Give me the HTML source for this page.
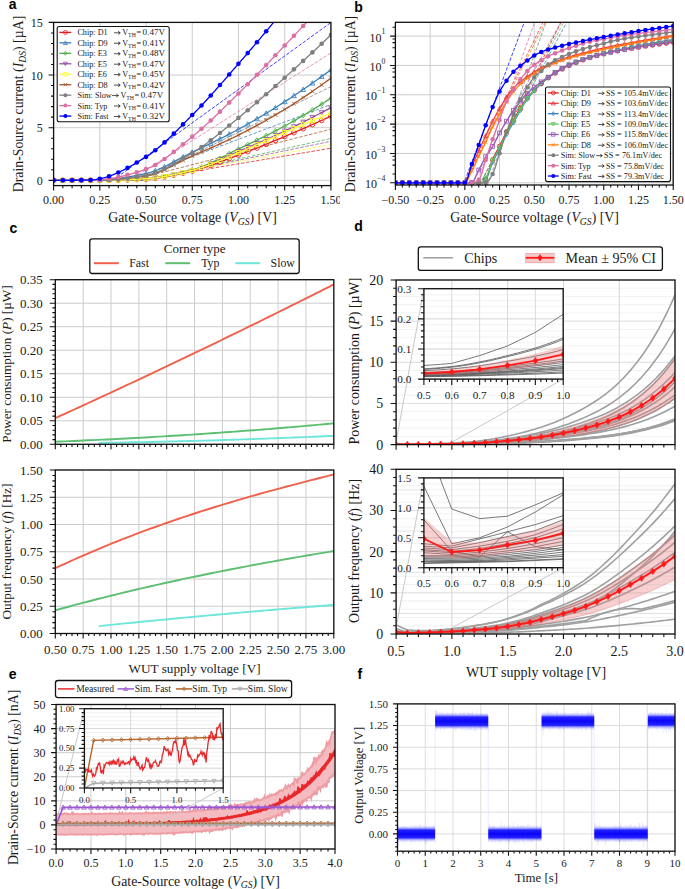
<!DOCTYPE html>
<html><head><meta charset="utf-8"><style>html,body{margin:0;padding:0;background:#fff;width:685px;height:889px;overflow:hidden}svg{display:block}</style></head>
<body><svg width="685" height="889" viewBox="0 0 685 889"><defs><clipPath id="clipA"><rect x="0" y="0" width="340" height="230"/></clipPath><clipPath id="c1"><rect x="53.6" y="22.4" width="277.3" height="163.2"/></clipPath><clipPath id="c2"><rect x="395.4" y="22.3" width="277.8" height="162.7"/></clipPath><clipPath id="c3"><rect x="55.3" y="279.7" width="278.5" height="164.6"/></clipPath><clipPath id="c4"><rect x="55.3" y="470" width="278.5" height="163.5"/></clipPath><clipPath id="c5"><rect x="396.1" y="280" width="278.9" height="164.6"/></clipPath><clipPath id="c6"><rect x="423.9" y="288.7" width="139.3" height="90.4"/></clipPath><clipPath id="c7"><rect x="396.1" y="469.3" width="278.9" height="164.7"/></clipPath><clipPath id="c8"><rect x="423.9" y="477.9" width="139.3" height="89.8"/></clipPath><clipPath id="c9"><rect x="56.1" y="704.5" width="278.9" height="144.5"/></clipPath><clipPath id="c10"><rect x="84.4" y="708.7" width="138.8" height="79.3"/></clipPath><clipPath id="c11"><rect x="397.5" y="703.9" width="277.5" height="147.3"/></clipPath><linearGradient id="fb" x1="0" y1="0" x2="0" y2="1"><stop offset="0" stop-color="#5050ff" stop-opacity="0"/><stop offset="0.1" stop-color="#5050ff" stop-opacity="0.15"/><stop offset="0.19" stop-color="#3030ff" stop-opacity="0.45"/><stop offset="0.27" stop-color="#1010ff" stop-opacity="0.92"/><stop offset="0.5" stop-color="#0800f8" stop-opacity="1"/><stop offset="0.73" stop-color="#1010ff" stop-opacity="0.92"/><stop offset="0.81" stop-color="#3030ff" stop-opacity="0.45"/><stop offset="0.9" stop-color="#5050ff" stop-opacity="0.15"/><stop offset="1" stop-color="#5050ff" stop-opacity="0"/></linearGradient></defs><rect width="685" height="889" fill="#fff"/><g clip-path="url(#clipA)">
<path d="M53.6,22.4V185.6M99.82,22.4V185.6M146.03,22.4V185.6M192.25,22.4V185.6M238.47,22.4V185.6M284.68,22.4V185.6M330.9,22.4V185.6M53.6,180.34H330.9M53.6,127.69H330.9M53.6,75.05H330.9M53.6,22.4H330.9" stroke="#cdcdcd" stroke-width="1.0" fill="none"/>
<g clip-path="url(#c1)">
<line x1="140.49" y1="180.34" x2="330.9" y2="148.23" stroke="#e41a1c" stroke-width="0.75" stroke-dasharray="3.5,1.6"/>
<line x1="129.4" y1="180.34" x2="330.9" y2="104.59" stroke="#377eb8" stroke-width="0.75" stroke-dasharray="3.5,1.6"/>
<line x1="142.34" y1="180.34" x2="330.9" y2="138.45" stroke="#4daf4a" stroke-width="0.75" stroke-dasharray="3.5,1.6"/>
<line x1="140.49" y1="180.34" x2="330.9" y2="141.29" stroke="#984ea3" stroke-width="0.75" stroke-dasharray="3.5,1.6"/>
<line x1="136.79" y1="180.34" x2="330.9" y2="144.52" stroke="#ffff33" stroke-width="0.75" stroke-dasharray="3.5,1.6"/>
<line x1="131.24" y1="180.34" x2="330.9" y2="129.16" stroke="#a65628" stroke-width="0.75" stroke-dasharray="3.5,1.6"/>
<line x1="140.49" y1="180.34" x2="330.9" y2="86.64" stroke="#7f7f7f" stroke-width="0.75" stroke-dasharray="3.5,1.6"/>
<line x1="129.4" y1="180.34" x2="330.9" y2="52.94" stroke="#dc6fa3" stroke-width="0.75" stroke-dasharray="3.5,1.6"/>
<line x1="112.76" y1="180.34" x2="330.9" y2="22.55" stroke="#0000ff" stroke-width="0.75" stroke-dasharray="3.5,1.6"/>
<path d="M53.6,180.34L55.45,180.34L57.3,180.34L59.15,180.34L60.99,180.34L62.84,180.34L64.69,180.34L66.54,180.34L68.39,180.34L70.24,180.34L72.09,180.34L73.94,180.34L75.78,180.34L77.63,180.34L79.48,180.34L81.33,180.34L83.18,180.34L85.03,180.34L86.88,180.34L88.72,180.34L90.57,180.34L92.42,180.34L94.27,180.34L96.12,180.34L97.97,180.34L99.82,180.34L101.67,180.33L103.51,180.33L105.36,180.31L107.21,180.3L109.06,180.27L110.91,180.25L112.76,180.22L114.61,180.18L116.45,180.14L118.3,180.1L120.15,180.05L122,180L123.85,179.95L125.7,179.89L127.55,179.83L129.4,179.77L131.24,179.7L133.09,179.63L134.94,179.56L136.79,179.48L138.64,179.41L140.49,179.33L142.34,179.24L144.18,179.16L146.03,179.07L147.88,178.97L149.73,178.84L151.58,178.68L153.43,178.49L155.28,178.28L157.13,178.05L158.97,177.79L160.82,177.52L162.67,177.22L164.52,176.9L166.37,176.57L168.22,176.22L170.07,175.86L171.91,175.48L173.76,175.1L175.61,174.7L177.46,174.29L179.31,173.88L181.16,173.45L183.01,173.03L184.86,172.6L186.7,172.16L188.55,171.73L190.4,171.29L192.25,170.86L194.1,170.41L195.95,169.94L197.8,169.44L199.64,168.92L201.49,168.38L203.34,167.82L205.19,167.23L207.04,166.63L208.89,166.01L210.74,165.38L212.59,164.73L214.43,164.08L216.28,163.41L218.13,162.73L219.98,162.04L221.83,161.35L223.68,160.65L225.53,159.95L227.37,159.25L229.22,158.55L231.07,157.84L232.92,157.14L234.77,156.44L236.62,155.75L238.47,155.07L240.32,154.38L242.16,153.69L244.01,152.99L245.86,152.29L247.71,151.58L249.56,150.86L251.41,150.14L253.26,149.42L255.1,148.69L256.95,147.95L258.8,147.21L260.65,146.47L262.5,145.72L264.35,144.97L266.2,144.22L268.05,143.46L269.89,142.7L271.74,141.94L273.59,141.17L275.44,140.4L277.29,139.63L279.14,138.86L280.99,138.09L282.83,137.31L284.68,136.53L286.53,135.76L288.38,134.97L290.23,134.19L292.08,133.4L293.93,132.61L295.78,131.81L297.62,131.01L299.47,130.21L301.32,129.41L303.17,128.6L305.02,127.79L306.87,126.97L308.72,126.16L310.56,125.33L312.41,124.51L314.26,123.68L316.11,122.85L317.96,122.02L319.81,121.19L321.66,120.35L323.51,119.5L325.35,118.66L327.2,117.81L329.05,116.96L330.9,116.11" fill="none" stroke="#e41a1c" stroke-width="1.3"/>
<circle cx="53.60" cy="180.34" r="2.40" fill="none" stroke="#e41a1c" stroke-width="0.85"/>
<circle cx="62.84" cy="180.34" r="2.40" fill="none" stroke="#e41a1c" stroke-width="0.85"/>
<circle cx="72.09" cy="180.34" r="2.40" fill="none" stroke="#e41a1c" stroke-width="0.85"/>
<circle cx="81.33" cy="180.34" r="2.40" fill="none" stroke="#e41a1c" stroke-width="0.85"/>
<circle cx="90.57" cy="180.34" r="2.40" fill="none" stroke="#e41a1c" stroke-width="0.85"/>
<circle cx="99.82" cy="180.34" r="2.40" fill="none" stroke="#e41a1c" stroke-width="0.85"/>
<circle cx="109.06" cy="180.27" r="2.40" fill="none" stroke="#e41a1c" stroke-width="0.85"/>
<circle cx="118.30" cy="180.10" r="2.40" fill="none" stroke="#e41a1c" stroke-width="0.85"/>
<circle cx="127.55" cy="179.83" r="2.40" fill="none" stroke="#e41a1c" stroke-width="0.85"/>
<circle cx="136.79" cy="179.48" r="2.40" fill="none" stroke="#e41a1c" stroke-width="0.85"/>
<circle cx="146.03" cy="179.07" r="2.40" fill="none" stroke="#e41a1c" stroke-width="0.85"/>
<circle cx="155.28" cy="178.28" r="2.40" fill="none" stroke="#e41a1c" stroke-width="0.85"/>
<circle cx="164.52" cy="176.90" r="2.40" fill="none" stroke="#e41a1c" stroke-width="0.85"/>
<circle cx="173.76" cy="175.10" r="2.40" fill="none" stroke="#e41a1c" stroke-width="0.85"/>
<circle cx="183.01" cy="173.03" r="2.40" fill="none" stroke="#e41a1c" stroke-width="0.85"/>
<circle cx="192.25" cy="170.86" r="2.40" fill="none" stroke="#e41a1c" stroke-width="0.85"/>
<circle cx="201.49" cy="168.38" r="2.40" fill="none" stroke="#e41a1c" stroke-width="0.85"/>
<circle cx="210.74" cy="165.38" r="2.40" fill="none" stroke="#e41a1c" stroke-width="0.85"/>
<circle cx="219.98" cy="162.04" r="2.40" fill="none" stroke="#e41a1c" stroke-width="0.85"/>
<circle cx="229.22" cy="158.55" r="2.40" fill="none" stroke="#e41a1c" stroke-width="0.85"/>
<circle cx="238.47" cy="155.07" r="2.40" fill="none" stroke="#e41a1c" stroke-width="0.85"/>
<circle cx="247.71" cy="151.58" r="2.40" fill="none" stroke="#e41a1c" stroke-width="0.85"/>
<circle cx="256.95" cy="147.95" r="2.40" fill="none" stroke="#e41a1c" stroke-width="0.85"/>
<circle cx="266.20" cy="144.22" r="2.40" fill="none" stroke="#e41a1c" stroke-width="0.85"/>
<circle cx="275.44" cy="140.40" r="2.40" fill="none" stroke="#e41a1c" stroke-width="0.85"/>
<circle cx="284.68" cy="136.53" r="2.40" fill="none" stroke="#e41a1c" stroke-width="0.85"/>
<circle cx="293.93" cy="132.61" r="2.40" fill="none" stroke="#e41a1c" stroke-width="0.85"/>
<circle cx="303.17" cy="128.60" r="2.40" fill="none" stroke="#e41a1c" stroke-width="0.85"/>
<circle cx="312.41" cy="124.51" r="2.40" fill="none" stroke="#e41a1c" stroke-width="0.85"/>
<circle cx="321.66" cy="120.35" r="2.40" fill="none" stroke="#e41a1c" stroke-width="0.85"/>
<circle cx="330.90" cy="116.11" r="2.40" fill="none" stroke="#e41a1c" stroke-width="0.85"/>
<path d="M53.6,180.34L55.45,180.34L57.3,180.34L59.15,180.34L60.99,180.34L62.84,180.34L64.69,180.34L66.54,180.34L68.39,180.34L70.24,180.34L72.09,180.34L73.94,180.34L75.78,180.34L77.63,180.34L79.48,180.34L81.33,180.34L83.18,180.34L85.03,180.34L86.88,180.34L88.72,180.34L90.57,180.34L92.42,180.32L94.27,180.27L96.12,180.2L97.97,180.11L99.82,180.02L101.67,179.92L103.51,179.81L105.36,179.68L107.21,179.53L109.06,179.37L110.91,179.2L112.76,179.01L114.61,178.81L116.45,178.59L118.3,178.36L120.15,178.11L122,177.86L123.85,177.59L125.7,177.31L127.55,177.01L129.4,176.71L131.24,176.39L133.09,176.06L134.94,175.73L136.79,175.38L138.64,175.02L140.49,174.65L142.34,174.27L144.18,173.89L146.03,173.49L147.88,173.06L149.73,172.56L151.58,172L153.43,171.38L155.28,170.71L157.13,169.99L158.97,169.22L160.82,168.41L162.67,167.57L164.52,166.69L166.37,165.78L168.22,164.84L170.07,163.89L171.91,162.92L173.76,161.93L175.61,160.93L177.46,159.93L179.31,158.93L181.16,157.93L183.01,156.94L184.86,155.96L186.7,154.99L188.55,154.05L190.4,153.12L192.25,152.22L194.1,151.34L195.95,150.46L197.8,149.58L199.64,148.69L201.49,147.81L203.34,146.93L205.19,146.04L207.04,145.15L208.89,144.26L210.74,143.37L212.59,142.47L214.43,141.57L216.28,140.66L218.13,139.75L219.98,138.83L221.83,137.91L223.68,136.98L225.53,136.05L227.37,135.1L229.22,134.15L231.07,133.19L232.92,132.23L234.77,131.25L236.62,130.27L238.47,129.27L240.32,128.26L242.16,127.25L244.01,126.23L245.86,125.2L247.71,124.16L249.56,123.11L251.41,122.05L253.26,120.99L255.1,119.91L256.95,118.83L258.8,117.75L260.65,116.65L262.5,115.55L264.35,114.44L266.2,113.32L268.05,112.19L269.89,111.06L271.74,109.93L273.59,108.78L275.44,107.63L277.29,106.47L279.14,105.31L280.99,104.14L282.83,102.97L284.68,101.79L286.53,100.6L288.38,99.41L290.23,98.2L292.08,96.99L293.93,95.77L295.78,94.54L297.62,93.31L299.47,92.06L301.32,90.81L303.17,89.55L305.02,88.29L306.87,87.01L308.72,85.73L310.56,84.44L312.41,83.14L314.26,81.84L316.11,80.53L317.96,79.21L319.81,77.88L321.66,76.55L323.51,75.21L325.35,73.86L327.2,72.51L329.05,71.15L330.9,69.78" fill="none" stroke="#377eb8" stroke-width="1.3"/>
<path d="M53.60,177.94L56.00,182.26L51.20,182.26Z" fill="none" stroke="#377eb8" stroke-width="0.85"/>
<path d="M62.84,177.94L65.24,182.26L60.44,182.26Z" fill="none" stroke="#377eb8" stroke-width="0.85"/>
<path d="M72.09,177.94L74.49,182.26L69.69,182.26Z" fill="none" stroke="#377eb8" stroke-width="0.85"/>
<path d="M81.33,177.94L83.73,182.26L78.93,182.26Z" fill="none" stroke="#377eb8" stroke-width="0.85"/>
<path d="M90.57,177.94L92.97,182.26L88.17,182.26Z" fill="none" stroke="#377eb8" stroke-width="0.85"/>
<path d="M99.82,177.62L102.22,181.94L97.42,181.94Z" fill="none" stroke="#377eb8" stroke-width="0.85"/>
<path d="M109.06,176.97L111.46,181.29L106.66,181.29Z" fill="none" stroke="#377eb8" stroke-width="0.85"/>
<path d="M118.30,175.96L120.70,180.28L115.90,180.28Z" fill="none" stroke="#377eb8" stroke-width="0.85"/>
<path d="M127.55,174.61L129.95,178.93L125.15,178.93Z" fill="none" stroke="#377eb8" stroke-width="0.85"/>
<path d="M136.79,172.98L139.19,177.30L134.39,177.30Z" fill="none" stroke="#377eb8" stroke-width="0.85"/>
<path d="M146.03,171.09L148.43,175.41L143.63,175.41Z" fill="none" stroke="#377eb8" stroke-width="0.85"/>
<path d="M155.28,168.31L157.68,172.63L152.88,172.63Z" fill="none" stroke="#377eb8" stroke-width="0.85"/>
<path d="M164.52,164.29L166.92,168.61L162.12,168.61Z" fill="none" stroke="#377eb8" stroke-width="0.85"/>
<path d="M173.76,159.53L176.16,163.85L171.36,163.85Z" fill="none" stroke="#377eb8" stroke-width="0.85"/>
<path d="M183.01,154.54L185.41,158.86L180.61,158.86Z" fill="none" stroke="#377eb8" stroke-width="0.85"/>
<path d="M192.25,149.82L194.65,154.14L189.85,154.14Z" fill="none" stroke="#377eb8" stroke-width="0.85"/>
<path d="M201.49,145.41L203.89,149.73L199.09,149.73Z" fill="none" stroke="#377eb8" stroke-width="0.85"/>
<path d="M210.74,140.97L213.14,145.29L208.34,145.29Z" fill="none" stroke="#377eb8" stroke-width="0.85"/>
<path d="M219.98,136.43L222.38,140.75L217.58,140.75Z" fill="none" stroke="#377eb8" stroke-width="0.85"/>
<path d="M229.22,131.75L231.62,136.07L226.82,136.07Z" fill="none" stroke="#377eb8" stroke-width="0.85"/>
<path d="M238.47,126.87L240.87,131.19L236.07,131.19Z" fill="none" stroke="#377eb8" stroke-width="0.85"/>
<path d="M247.71,121.76L250.11,126.08L245.31,126.08Z" fill="none" stroke="#377eb8" stroke-width="0.85"/>
<path d="M256.95,116.43L259.35,120.75L254.55,120.75Z" fill="none" stroke="#377eb8" stroke-width="0.85"/>
<path d="M266.20,110.92L268.60,115.24L263.80,115.24Z" fill="none" stroke="#377eb8" stroke-width="0.85"/>
<path d="M275.44,105.23L277.84,109.55L273.04,109.55Z" fill="none" stroke="#377eb8" stroke-width="0.85"/>
<path d="M284.68,99.39L287.08,103.71L282.28,103.71Z" fill="none" stroke="#377eb8" stroke-width="0.85"/>
<path d="M293.93,93.37L296.33,97.69L291.53,97.69Z" fill="none" stroke="#377eb8" stroke-width="0.85"/>
<path d="M303.17,87.15L305.57,91.47L300.77,91.47Z" fill="none" stroke="#377eb8" stroke-width="0.85"/>
<path d="M312.41,80.74L314.81,85.06L310.01,85.06Z" fill="none" stroke="#377eb8" stroke-width="0.85"/>
<path d="M321.66,74.15L324.06,78.47L319.26,78.47Z" fill="none" stroke="#377eb8" stroke-width="0.85"/>
<path d="M330.90,67.38L333.30,71.70L328.50,71.70Z" fill="none" stroke="#377eb8" stroke-width="0.85"/>
<path d="M53.6,180.34L55.45,180.34L57.3,180.34L59.15,180.34L60.99,180.34L62.84,180.34L64.69,180.34L66.54,180.34L68.39,180.34L70.24,180.34L72.09,180.34L73.94,180.34L75.78,180.34L77.63,180.34L79.48,180.34L81.33,180.34L83.18,180.34L85.03,180.34L86.88,180.34L88.72,180.34L90.57,180.34L92.42,180.34L94.27,180.34L96.12,180.34L97.97,180.34L99.82,180.34L101.67,180.33L103.51,180.32L105.36,180.31L107.21,180.28L109.06,180.26L110.91,180.22L112.76,180.18L114.61,180.14L116.45,180.09L118.3,180.04L120.15,179.98L122,179.91L123.85,179.85L125.7,179.77L127.55,179.7L129.4,179.62L131.24,179.53L133.09,179.45L134.94,179.36L136.79,179.26L138.64,179.17L140.49,179.07L142.34,178.97L144.18,178.86L146.03,178.76L147.88,178.64L149.73,178.49L151.58,178.32L153.43,178.12L155.28,177.9L157.13,177.66L158.97,177.39L160.82,177.11L162.67,176.8L164.52,176.48L166.37,176.14L168.22,175.78L170.07,175.41L171.91,175.02L173.76,174.62L175.61,174.2L177.46,173.77L179.31,173.33L181.16,172.88L183.01,172.42L184.86,171.95L186.7,171.48L188.55,171L190.4,170.51L192.25,170.02L194.1,169.5L195.95,168.93L197.8,168.31L199.64,167.65L201.49,166.95L203.34,166.21L205.19,165.44L207.04,164.63L208.89,163.8L210.74,162.93L212.59,162.05L214.43,161.15L216.28,160.23L218.13,159.29L219.98,158.35L221.83,157.4L223.68,156.44L225.53,155.48L227.37,154.52L229.22,153.57L231.07,152.62L232.92,151.68L234.77,150.76L236.62,149.85L238.47,148.96L240.32,148.08L242.16,147.2L244.01,146.32L245.86,145.45L247.71,144.56L249.56,143.68L251.41,142.8L253.26,141.91L255.1,141.02L256.95,140.13L258.8,139.23L260.65,138.33L262.5,137.43L264.35,136.51L266.2,135.6L268.05,134.67L269.89,133.74L271.74,132.81L273.59,131.86L275.44,130.91L277.29,129.95L279.14,128.98L280.99,128L282.83,127.01L284.68,126.01L286.53,125L288.38,123.98L290.23,122.95L292.08,121.91L293.93,120.86L295.78,119.81L297.62,118.74L299.47,117.67L301.32,116.59L303.17,115.5L305.02,114.4L306.87,113.3L308.72,112.18L310.56,111.06L312.41,109.93L314.26,108.79L316.11,107.65L317.96,106.49L319.81,105.33L321.66,104.16L323.51,102.99L325.35,101.8L327.2,100.61L329.05,99.41L330.9,98.21" fill="none" stroke="#4daf4a" stroke-width="1.3"/>
<path d="M53.60,177.94L55.52,180.34L53.60,182.74L51.68,180.34Z" fill="none" stroke="#4daf4a" stroke-width="0.85"/>
<path d="M62.84,177.94L64.76,180.34L62.84,182.74L60.92,180.34Z" fill="none" stroke="#4daf4a" stroke-width="0.85"/>
<path d="M72.09,177.94L74.01,180.34L72.09,182.74L70.17,180.34Z" fill="none" stroke="#4daf4a" stroke-width="0.85"/>
<path d="M81.33,177.94L83.25,180.34L81.33,182.74L79.41,180.34Z" fill="none" stroke="#4daf4a" stroke-width="0.85"/>
<path d="M90.57,177.94L92.49,180.34L90.57,182.74L88.65,180.34Z" fill="none" stroke="#4daf4a" stroke-width="0.85"/>
<path d="M99.82,177.94L101.74,180.34L99.82,182.74L97.90,180.34Z" fill="none" stroke="#4daf4a" stroke-width="0.85"/>
<path d="M109.06,177.86L110.98,180.26L109.06,182.66L107.14,180.26Z" fill="none" stroke="#4daf4a" stroke-width="0.85"/>
<path d="M118.30,177.64L120.22,180.04L118.30,182.44L116.38,180.04Z" fill="none" stroke="#4daf4a" stroke-width="0.85"/>
<path d="M127.55,177.30L129.47,179.70L127.55,182.10L125.63,179.70Z" fill="none" stroke="#4daf4a" stroke-width="0.85"/>
<path d="M136.79,176.86L138.71,179.26L136.79,181.66L134.87,179.26Z" fill="none" stroke="#4daf4a" stroke-width="0.85"/>
<path d="M146.03,176.36L147.95,178.76L146.03,181.16L144.11,178.76Z" fill="none" stroke="#4daf4a" stroke-width="0.85"/>
<path d="M155.28,175.50L157.20,177.90L155.28,180.30L153.36,177.90Z" fill="none" stroke="#4daf4a" stroke-width="0.85"/>
<path d="M164.52,174.08L166.44,176.48L164.52,178.88L162.60,176.48Z" fill="none" stroke="#4daf4a" stroke-width="0.85"/>
<path d="M173.76,172.22L175.68,174.62L173.76,177.02L171.84,174.62Z" fill="none" stroke="#4daf4a" stroke-width="0.85"/>
<path d="M183.01,170.02L184.93,172.42L183.01,174.82L181.09,172.42Z" fill="none" stroke="#4daf4a" stroke-width="0.85"/>
<path d="M192.25,167.62L194.17,170.02L192.25,172.42L190.33,170.02Z" fill="none" stroke="#4daf4a" stroke-width="0.85"/>
<path d="M201.49,164.55L203.41,166.95L201.49,169.35L199.57,166.95Z" fill="none" stroke="#4daf4a" stroke-width="0.85"/>
<path d="M210.74,160.53L212.66,162.93L210.74,165.33L208.82,162.93Z" fill="none" stroke="#4daf4a" stroke-width="0.85"/>
<path d="M219.98,155.95L221.90,158.35L219.98,160.75L218.06,158.35Z" fill="none" stroke="#4daf4a" stroke-width="0.85"/>
<path d="M229.22,151.17L231.14,153.57L229.22,155.97L227.30,153.57Z" fill="none" stroke="#4daf4a" stroke-width="0.85"/>
<path d="M238.47,146.56L240.39,148.96L238.47,151.36L236.55,148.96Z" fill="none" stroke="#4daf4a" stroke-width="0.85"/>
<path d="M247.71,142.16L249.63,144.56L247.71,146.96L245.79,144.56Z" fill="none" stroke="#4daf4a" stroke-width="0.85"/>
<path d="M256.95,137.73L258.87,140.13L256.95,142.53L255.03,140.13Z" fill="none" stroke="#4daf4a" stroke-width="0.85"/>
<path d="M266.20,133.20L268.12,135.60L266.20,138.00L264.28,135.60Z" fill="none" stroke="#4daf4a" stroke-width="0.85"/>
<path d="M275.44,128.51L277.36,130.91L275.44,133.31L273.52,130.91Z" fill="none" stroke="#4daf4a" stroke-width="0.85"/>
<path d="M284.68,123.61L286.60,126.01L284.68,128.41L282.76,126.01Z" fill="none" stroke="#4daf4a" stroke-width="0.85"/>
<path d="M293.93,118.46L295.85,120.86L293.93,123.26L292.01,120.86Z" fill="none" stroke="#4daf4a" stroke-width="0.85"/>
<path d="M303.17,113.10L305.09,115.50L303.17,117.90L301.25,115.50Z" fill="none" stroke="#4daf4a" stroke-width="0.85"/>
<path d="M312.41,107.53L314.33,109.93L312.41,112.33L310.49,109.93Z" fill="none" stroke="#4daf4a" stroke-width="0.85"/>
<path d="M321.66,101.76L323.58,104.16L321.66,106.56L319.74,104.16Z" fill="none" stroke="#4daf4a" stroke-width="0.85"/>
<path d="M330.90,95.81L332.82,98.21L330.90,100.61L328.98,98.21Z" fill="none" stroke="#4daf4a" stroke-width="0.85"/>
<path d="M53.6,180.34L55.45,180.34L57.3,180.34L59.15,180.34L60.99,180.34L62.84,180.34L64.69,180.34L66.54,180.34L68.39,180.34L70.24,180.34L72.09,180.34L73.94,180.34L75.78,180.34L77.63,180.34L79.48,180.34L81.33,180.34L83.18,180.34L85.03,180.34L86.88,180.34L88.72,180.34L90.57,180.34L92.42,180.34L94.27,180.34L96.12,180.34L97.97,180.34L99.82,180.34L101.67,180.33L103.51,180.32L105.36,180.31L107.21,180.28L109.06,180.26L110.91,180.22L112.76,180.18L114.61,180.14L116.45,180.09L118.3,180.03L120.15,179.98L122,179.91L123.85,179.84L125.7,179.77L127.55,179.7L129.4,179.62L131.24,179.53L133.09,179.44L134.94,179.35L136.79,179.26L138.64,179.16L140.49,179.07L142.34,178.96L144.18,178.86L146.03,178.76L147.88,178.64L149.73,178.49L151.58,178.32L153.43,178.13L155.28,177.91L157.13,177.68L158.97,177.42L160.82,177.14L162.67,176.84L164.52,176.53L166.37,176.2L168.22,175.85L170.07,175.49L171.91,175.11L173.76,174.72L175.61,174.32L177.46,173.91L179.31,173.49L181.16,173.06L183.01,172.62L184.86,172.17L186.7,171.72L188.55,171.26L190.4,170.8L192.25,170.33L194.1,169.84L195.95,169.31L197.8,168.74L199.64,168.14L201.49,167.5L203.34,166.82L205.19,166.12L207.04,165.39L208.89,164.64L210.74,163.87L212.59,163.07L214.43,162.26L216.28,161.44L218.13,160.6L219.98,159.76L221.83,158.91L223.68,158.05L225.53,157.19L227.37,156.34L229.22,155.49L231.07,154.64L232.92,153.81L234.77,152.98L236.62,152.17L238.47,151.38L240.32,150.6L242.16,149.81L244.01,149.03L245.86,148.24L247.71,147.45L249.56,146.66L251.41,145.87L253.26,145.08L255.1,144.29L256.95,143.49L258.8,142.69L260.65,141.89L262.5,141.08L264.35,140.27L266.2,139.46L268.05,138.64L269.89,137.82L271.74,137L273.59,136.16L275.44,135.33L277.29,134.49L279.14,133.64L280.99,132.79L282.83,131.93L284.68,131.06L286.53,130.19L288.38,129.31L290.23,128.43L292.08,127.54L293.93,126.64L295.78,125.74L297.62,124.84L299.47,123.93L301.32,123.01L303.17,122.09L305.02,121.17L306.87,120.23L308.72,119.3L310.56,118.36L312.41,117.41L314.26,116.46L316.11,115.5L317.96,114.54L319.81,113.58L321.66,112.61L323.51,111.63L325.35,110.65L327.2,109.67L329.05,108.68L330.9,107.69" fill="none" stroke="#984ea3" stroke-width="1.3"/>
<path d="M53.60,182.74L56.00,178.42L51.20,178.42Z" fill="none" stroke="#984ea3" stroke-width="0.85"/>
<path d="M62.84,182.74L65.24,178.42L60.44,178.42Z" fill="none" stroke="#984ea3" stroke-width="0.85"/>
<path d="M72.09,182.74L74.49,178.42L69.69,178.42Z" fill="none" stroke="#984ea3" stroke-width="0.85"/>
<path d="M81.33,182.74L83.73,178.42L78.93,178.42Z" fill="none" stroke="#984ea3" stroke-width="0.85"/>
<path d="M90.57,182.74L92.97,178.42L88.17,178.42Z" fill="none" stroke="#984ea3" stroke-width="0.85"/>
<path d="M99.82,182.74L102.22,178.42L97.42,178.42Z" fill="none" stroke="#984ea3" stroke-width="0.85"/>
<path d="M109.06,182.66L111.46,178.34L106.66,178.34Z" fill="none" stroke="#984ea3" stroke-width="0.85"/>
<path d="M118.30,182.43L120.70,178.11L115.90,178.11Z" fill="none" stroke="#984ea3" stroke-width="0.85"/>
<path d="M127.55,182.10L129.95,177.78L125.15,177.78Z" fill="none" stroke="#984ea3" stroke-width="0.85"/>
<path d="M136.79,181.66L139.19,177.34L134.39,177.34Z" fill="none" stroke="#984ea3" stroke-width="0.85"/>
<path d="M146.03,181.16L148.43,176.84L143.63,176.84Z" fill="none" stroke="#984ea3" stroke-width="0.85"/>
<path d="M155.28,180.31L157.68,175.99L152.88,175.99Z" fill="none" stroke="#984ea3" stroke-width="0.85"/>
<path d="M164.52,178.93L166.92,174.61L162.12,174.61Z" fill="none" stroke="#984ea3" stroke-width="0.85"/>
<path d="M173.76,177.12L176.16,172.80L171.36,172.80Z" fill="none" stroke="#984ea3" stroke-width="0.85"/>
<path d="M183.01,175.02L185.41,170.70L180.61,170.70Z" fill="none" stroke="#984ea3" stroke-width="0.85"/>
<path d="M192.25,172.73L194.65,168.41L189.85,168.41Z" fill="none" stroke="#984ea3" stroke-width="0.85"/>
<path d="M201.49,169.90L203.89,165.58L199.09,165.58Z" fill="none" stroke="#984ea3" stroke-width="0.85"/>
<path d="M210.74,166.27L213.14,161.95L208.34,161.95Z" fill="none" stroke="#984ea3" stroke-width="0.85"/>
<path d="M219.98,162.16L222.38,157.84L217.58,157.84Z" fill="none" stroke="#984ea3" stroke-width="0.85"/>
<path d="M229.22,157.89L231.62,153.57L226.82,153.57Z" fill="none" stroke="#984ea3" stroke-width="0.85"/>
<path d="M238.47,153.78L240.87,149.46L236.07,149.46Z" fill="none" stroke="#984ea3" stroke-width="0.85"/>
<path d="M247.71,149.85L250.11,145.53L245.31,145.53Z" fill="none" stroke="#984ea3" stroke-width="0.85"/>
<path d="M256.95,145.89L259.35,141.57L254.55,141.57Z" fill="none" stroke="#984ea3" stroke-width="0.85"/>
<path d="M266.20,141.86L268.60,137.54L263.80,137.54Z" fill="none" stroke="#984ea3" stroke-width="0.85"/>
<path d="M275.44,137.73L277.84,133.41L273.04,133.41Z" fill="none" stroke="#984ea3" stroke-width="0.85"/>
<path d="M284.68,133.46L287.08,129.14L282.28,129.14Z" fill="none" stroke="#984ea3" stroke-width="0.85"/>
<path d="M293.93,129.04L296.33,124.72L291.53,124.72Z" fill="none" stroke="#984ea3" stroke-width="0.85"/>
<path d="M303.17,124.49L305.57,120.17L300.77,120.17Z" fill="none" stroke="#984ea3" stroke-width="0.85"/>
<path d="M312.41,119.81L314.81,115.49L310.01,115.49Z" fill="none" stroke="#984ea3" stroke-width="0.85"/>
<path d="M321.66,115.01L324.06,110.69L319.26,110.69Z" fill="none" stroke="#984ea3" stroke-width="0.85"/>
<path d="M330.90,110.09L333.30,105.77L328.50,105.77Z" fill="none" stroke="#984ea3" stroke-width="0.85"/>
<path d="M53.6,180.34L55.45,180.34L57.3,180.34L59.15,180.34L60.99,180.34L62.84,180.34L64.69,180.34L66.54,180.34L68.39,180.34L70.24,180.34L72.09,180.34L73.94,180.34L75.78,180.34L77.63,180.34L79.48,180.34L81.33,180.34L83.18,180.34L85.03,180.34L86.88,180.34L88.72,180.34L90.57,180.34L92.42,180.34L94.27,180.34L96.12,180.34L97.97,180.34L99.82,180.34L101.67,180.33L103.51,180.32L105.36,180.31L107.21,180.28L109.06,180.26L110.91,180.22L112.76,180.18L114.61,180.14L116.45,180.09L118.3,180.03L120.15,179.98L122,179.91L123.85,179.84L125.7,179.77L127.55,179.7L129.4,179.62L131.24,179.53L133.09,179.44L134.94,179.35L136.79,179.26L138.64,179.16L140.49,179.07L142.34,178.96L144.18,178.86L146.03,178.76L147.88,178.64L149.73,178.49L151.58,178.32L153.43,178.12L155.28,177.9L157.13,177.66L158.97,177.4L160.82,177.12L162.67,176.82L164.52,176.5L166.37,176.17L168.22,175.82L170.07,175.45L171.91,175.08L173.76,174.69L175.61,174.28L177.46,173.87L179.31,173.45L181.16,173.02L183.01,172.58L184.86,172.14L186.7,171.69L188.55,171.24L190.4,170.79L192.25,170.33L194.1,169.86L195.95,169.35L197.8,168.81L199.64,168.24L201.49,167.64L203.34,167.01L205.19,166.36L207.04,165.68L208.89,164.99L210.74,164.27L212.59,163.54L214.43,162.8L216.28,162.04L218.13,161.27L219.98,160.49L221.83,159.71L223.68,158.92L225.53,158.12L227.37,157.33L229.22,156.53L231.07,155.74L232.92,154.96L234.77,154.18L236.62,153.4L238.47,152.64L240.32,151.88L242.16,151.12L244.01,150.34L245.86,149.55L247.71,148.76L249.56,147.96L251.41,147.16L253.26,146.35L255.1,145.53L256.95,144.72L258.8,143.89L260.65,143.07L262.5,142.24L264.35,141.42L266.2,140.59L268.05,139.76L269.89,138.94L271.74,138.11L273.59,137.29L275.44,136.47L277.29,135.65L279.14,134.84L280.99,134.03L282.83,133.23L284.68,132.43L286.53,131.64L288.38,130.84L290.23,130.05L292.08,129.26L293.93,128.47L295.78,127.69L297.62,126.9L299.47,126.12L301.32,125.33L303.17,124.55L305.02,123.77L306.87,122.99L308.72,122.21L310.56,121.43L312.41,120.65L314.26,119.88L316.11,119.1L317.96,118.33L319.81,117.56L321.66,116.79L323.51,116.02L325.35,115.25L327.2,114.48L329.05,113.71L330.9,112.95" fill="none" stroke="#ffff33" stroke-width="1.3"/>
<rect x="51.56" y="178.30" width="4.08" height="4.08" fill="none" stroke="#ffff33" stroke-width="0.85"/>
<rect x="60.80" y="178.30" width="4.08" height="4.08" fill="none" stroke="#ffff33" stroke-width="0.85"/>
<rect x="70.05" y="178.30" width="4.08" height="4.08" fill="none" stroke="#ffff33" stroke-width="0.85"/>
<rect x="79.29" y="178.30" width="4.08" height="4.08" fill="none" stroke="#ffff33" stroke-width="0.85"/>
<rect x="88.53" y="178.30" width="4.08" height="4.08" fill="none" stroke="#ffff33" stroke-width="0.85"/>
<rect x="97.78" y="178.30" width="4.08" height="4.08" fill="none" stroke="#ffff33" stroke-width="0.85"/>
<rect x="107.02" y="178.22" width="4.08" height="4.08" fill="none" stroke="#ffff33" stroke-width="0.85"/>
<rect x="116.26" y="177.99" width="4.08" height="4.08" fill="none" stroke="#ffff33" stroke-width="0.85"/>
<rect x="125.51" y="177.66" width="4.08" height="4.08" fill="none" stroke="#ffff33" stroke-width="0.85"/>
<rect x="134.75" y="177.22" width="4.08" height="4.08" fill="none" stroke="#ffff33" stroke-width="0.85"/>
<rect x="143.99" y="176.72" width="4.08" height="4.08" fill="none" stroke="#ffff33" stroke-width="0.85"/>
<rect x="153.24" y="175.86" width="4.08" height="4.08" fill="none" stroke="#ffff33" stroke-width="0.85"/>
<rect x="162.48" y="174.46" width="4.08" height="4.08" fill="none" stroke="#ffff33" stroke-width="0.85"/>
<rect x="171.72" y="172.65" width="4.08" height="4.08" fill="none" stroke="#ffff33" stroke-width="0.85"/>
<rect x="180.97" y="170.54" width="4.08" height="4.08" fill="none" stroke="#ffff33" stroke-width="0.85"/>
<rect x="190.21" y="168.29" width="4.08" height="4.08" fill="none" stroke="#ffff33" stroke-width="0.85"/>
<rect x="199.45" y="165.60" width="4.08" height="4.08" fill="none" stroke="#ffff33" stroke-width="0.85"/>
<rect x="208.70" y="162.23" width="4.08" height="4.08" fill="none" stroke="#ffff33" stroke-width="0.85"/>
<rect x="217.94" y="158.45" width="4.08" height="4.08" fill="none" stroke="#ffff33" stroke-width="0.85"/>
<rect x="227.18" y="154.49" width="4.08" height="4.08" fill="none" stroke="#ffff33" stroke-width="0.85"/>
<rect x="236.43" y="150.60" width="4.08" height="4.08" fill="none" stroke="#ffff33" stroke-width="0.85"/>
<rect x="245.67" y="146.72" width="4.08" height="4.08" fill="none" stroke="#ffff33" stroke-width="0.85"/>
<rect x="254.91" y="142.68" width="4.08" height="4.08" fill="none" stroke="#ffff33" stroke-width="0.85"/>
<rect x="264.16" y="138.55" width="4.08" height="4.08" fill="none" stroke="#ffff33" stroke-width="0.85"/>
<rect x="273.40" y="134.43" width="4.08" height="4.08" fill="none" stroke="#ffff33" stroke-width="0.85"/>
<rect x="282.64" y="130.39" width="4.08" height="4.08" fill="none" stroke="#ffff33" stroke-width="0.85"/>
<rect x="291.89" y="126.43" width="4.08" height="4.08" fill="none" stroke="#ffff33" stroke-width="0.85"/>
<rect x="301.13" y="122.51" width="4.08" height="4.08" fill="none" stroke="#ffff33" stroke-width="0.85"/>
<rect x="310.37" y="118.61" width="4.08" height="4.08" fill="none" stroke="#ffff33" stroke-width="0.85"/>
<rect x="319.62" y="114.75" width="4.08" height="4.08" fill="none" stroke="#ffff33" stroke-width="0.85"/>
<rect x="328.86" y="110.91" width="4.08" height="4.08" fill="none" stroke="#ffff33" stroke-width="0.85"/>
<path d="M53.6,180.34L55.45,180.34L57.3,180.34L59.15,180.34L60.99,180.34L62.84,180.34L64.69,180.34L66.54,180.34L68.39,180.34L70.24,180.34L72.09,180.34L73.94,180.34L75.78,180.34L77.63,180.34L79.48,180.34L81.33,180.34L83.18,180.34L85.03,180.34L86.88,180.34L88.72,180.34L90.57,180.34L92.42,180.32L94.27,180.29L96.12,180.24L97.97,180.18L99.82,180.12L101.67,180.06L103.51,179.99L105.36,179.9L107.21,179.81L109.06,179.71L110.91,179.6L112.76,179.48L114.61,179.35L116.45,179.22L118.3,179.07L120.15,178.92L122,178.75L123.85,178.58L125.7,178.4L127.55,178.21L129.4,178.01L131.24,177.8L133.09,177.58L134.94,177.35L136.79,177.12L138.64,176.87L140.49,176.62L142.34,176.36L144.18,176.09L146.03,175.81L147.88,175.49L149.73,175.09L151.58,174.62L153.43,174.09L155.28,173.49L157.13,172.84L158.97,172.14L160.82,171.39L162.67,170.6L164.52,169.77L166.37,168.91L168.22,168.02L170.07,167.11L171.91,166.18L173.76,165.23L175.61,164.28L177.46,163.32L179.31,162.35L181.16,161.4L183.01,160.45L184.86,159.52L186.7,158.6L188.55,157.71L190.4,156.85L192.25,156.01L194.1,155.2L195.95,154.39L197.8,153.58L199.64,152.77L201.49,151.97L203.34,151.16L205.19,150.35L207.04,149.54L208.89,148.73L210.74,147.92L212.59,147.11L214.43,146.29L216.28,145.47L218.13,144.64L219.98,143.81L221.83,142.97L223.68,142.12L225.53,141.27L227.37,140.41L229.22,139.54L231.07,138.67L232.92,137.78L234.77,136.88L236.62,135.98L238.47,135.06L240.32,134.13L242.16,133.2L244.01,132.25L245.86,131.3L247.71,130.34L249.56,129.36L251.41,128.39L253.26,127.4L255.1,126.4L256.95,125.4L258.8,124.38L260.65,123.36L262.5,122.34L264.35,121.3L266.2,120.25L268.05,119.2L269.89,118.14L271.74,117.07L273.59,115.99L275.44,114.91L277.29,113.82L279.14,112.72L280.99,111.61L282.83,110.49L284.68,109.37L286.53,108.24L288.38,107.1L290.23,105.94L292.08,104.78L293.93,103.61L295.78,102.43L297.62,101.23L299.47,100.03L301.32,98.82L303.17,97.6L305.02,96.37L306.87,95.13L308.72,93.88L310.56,92.62L312.41,91.35L314.26,90.08L316.11,88.79L317.96,87.5L319.81,86.19L321.66,84.88L323.51,83.56L325.35,82.24L327.2,80.9L329.05,79.56L330.9,78.2" fill="none" stroke="#a65628" stroke-width="1.3"/>
<path d="M51.68,178.42L55.52,182.26M51.68,182.26L55.52,178.42" stroke="#a65628" stroke-width="0.85"/>
<path d="M60.92,178.42L64.76,182.26M60.92,182.26L64.76,178.42" stroke="#a65628" stroke-width="0.85"/>
<path d="M70.17,178.42L74.01,182.26M70.17,182.26L74.01,178.42" stroke="#a65628" stroke-width="0.85"/>
<path d="M79.41,178.42L83.25,182.26M79.41,182.26L83.25,178.42" stroke="#a65628" stroke-width="0.85"/>
<path d="M88.65,178.42L92.49,182.26M88.65,182.26L92.49,178.42" stroke="#a65628" stroke-width="0.85"/>
<path d="M97.90,178.20L101.74,182.04M97.90,182.04L101.74,178.20" stroke="#a65628" stroke-width="0.85"/>
<path d="M107.14,177.79L110.98,181.63M107.14,181.63L110.98,177.79" stroke="#a65628" stroke-width="0.85"/>
<path d="M116.38,177.15L120.22,180.99M116.38,180.99L120.22,177.15" stroke="#a65628" stroke-width="0.85"/>
<path d="M125.63,176.29L129.47,180.13M125.63,180.13L129.47,176.29" stroke="#a65628" stroke-width="0.85"/>
<path d="M134.87,175.20L138.71,179.04M134.87,179.04L138.71,175.20" stroke="#a65628" stroke-width="0.85"/>
<path d="M144.11,173.89L147.95,177.73M144.11,177.73L147.95,173.89" stroke="#a65628" stroke-width="0.85"/>
<path d="M153.36,171.57L157.20,175.41M153.36,175.41L157.20,171.57" stroke="#a65628" stroke-width="0.85"/>
<path d="M162.60,167.85L166.44,171.69M162.60,171.69L166.44,167.85" stroke="#a65628" stroke-width="0.85"/>
<path d="M171.84,163.31L175.68,167.15M171.84,167.15L175.68,163.31" stroke="#a65628" stroke-width="0.85"/>
<path d="M181.09,158.53L184.93,162.37M181.09,162.37L184.93,158.53" stroke="#a65628" stroke-width="0.85"/>
<path d="M190.33,154.09L194.17,157.93M190.33,157.93L194.17,154.09" stroke="#a65628" stroke-width="0.85"/>
<path d="M199.57,150.05L203.41,153.89M199.57,153.89L203.41,150.05" stroke="#a65628" stroke-width="0.85"/>
<path d="M208.82,146.00L212.66,149.84M208.82,149.84L212.66,146.00" stroke="#a65628" stroke-width="0.85"/>
<path d="M218.06,141.89L221.90,145.73M218.06,145.73L221.90,141.89" stroke="#a65628" stroke-width="0.85"/>
<path d="M227.30,137.62L231.14,141.46M227.30,141.46L231.14,137.62" stroke="#a65628" stroke-width="0.85"/>
<path d="M236.55,133.14L240.39,136.98M236.55,136.98L240.39,133.14" stroke="#a65628" stroke-width="0.85"/>
<path d="M245.79,128.42L249.63,132.26M245.79,132.26L249.63,128.42" stroke="#a65628" stroke-width="0.85"/>
<path d="M255.03,123.48L258.87,127.32M255.03,127.32L258.87,123.48" stroke="#a65628" stroke-width="0.85"/>
<path d="M264.28,118.33L268.12,122.17M264.28,122.17L268.12,118.33" stroke="#a65628" stroke-width="0.85"/>
<path d="M273.52,112.99L277.36,116.83M273.52,116.83L277.36,112.99" stroke="#a65628" stroke-width="0.85"/>
<path d="M282.76,107.45L286.60,111.29M282.76,111.29L286.60,107.45" stroke="#a65628" stroke-width="0.85"/>
<path d="M292.01,101.69L295.85,105.53M292.01,105.53L295.85,101.69" stroke="#a65628" stroke-width="0.85"/>
<path d="M301.25,95.68L305.09,99.52M301.25,99.52L305.09,95.68" stroke="#a65628" stroke-width="0.85"/>
<path d="M310.49,89.43L314.33,93.27M310.49,93.27L314.33,89.43" stroke="#a65628" stroke-width="0.85"/>
<path d="M319.74,82.96L323.58,86.80M319.74,86.80L323.58,82.96" stroke="#a65628" stroke-width="0.85"/>
<path d="M328.98,76.28L332.82,80.12M328.98,80.12L332.82,76.28" stroke="#a65628" stroke-width="0.85"/>
<path d="M53.6,180.34L55.45,180.34L57.3,180.34L59.15,180.34L60.99,180.34L62.84,180.34L64.69,180.34L66.54,180.34L68.39,180.34L70.24,180.34L72.09,180.34L73.94,180.34L75.78,180.34L77.63,180.34L79.48,180.34L81.33,180.34L83.18,180.34L85.03,180.34L86.88,180.34L88.72,180.34L90.57,180.34L92.42,180.34L94.27,180.34L96.12,180.34L97.97,180.34L99.82,180.34L101.67,180.32L103.51,180.29L105.36,180.24L107.21,180.17L109.06,180.07L110.91,179.96L112.76,179.83L114.61,179.69L116.45,179.53L118.3,179.35L120.15,179.15L122,178.95L123.85,178.73L125.7,178.49L127.55,178.25L129.4,177.99L131.24,177.72L133.09,177.44L134.94,177.16L136.79,176.86L138.64,176.56L140.49,176.25L142.34,175.93L144.18,175.61L146.03,175.28L147.88,174.92L149.73,174.48L151.58,173.97L153.43,173.41L155.28,172.78L157.13,172.09L158.97,171.35L160.82,170.57L162.67,169.73L164.52,168.86L166.37,167.94L168.22,166.99L170.07,166L171.91,164.99L173.76,163.95L175.61,162.89L177.46,161.82L179.31,160.72L181.16,159.62L183.01,158.51L184.86,157.39L186.7,156.28L188.55,155.16L190.4,154.06L192.25,152.96L194.1,151.85L195.95,150.7L197.8,149.51L199.64,148.28L201.49,147.02L203.34,145.73L205.19,144.41L207.04,143.06L208.89,141.68L210.74,140.29L212.59,138.87L214.43,137.43L216.28,135.97L218.13,134.5L219.98,133.02L221.83,131.52L223.68,130.02L225.53,128.5L227.37,126.99L229.22,125.47L231.07,123.95L232.92,122.43L234.77,120.91L236.62,119.4L238.47,117.9L240.32,116.39L242.16,114.87L244.01,113.34L245.86,111.8L247.71,110.24L249.56,108.68L251.41,107.1L253.26,105.52L255.1,103.92L256.95,102.32L258.8,100.71L260.65,99.09L262.5,97.47L264.35,95.84L266.2,94.2L268.05,92.56L269.89,90.91L271.74,89.27L273.59,87.61L275.44,85.96L277.29,84.3L279.14,82.65L280.99,80.99L282.83,79.33L284.68,77.68L286.53,76.02L288.38,74.36L290.23,72.69L292.08,71.02L293.93,69.35L295.78,67.67L297.62,65.99L299.47,64.3L301.32,62.61L303.17,60.92L305.02,59.22L306.87,57.52L308.72,55.81L310.56,54.1L312.41,52.39L314.26,50.67L316.11,48.95L317.96,47.22L319.81,45.49L321.66,43.76L323.51,42.02L325.35,40.28L327.2,38.54L329.05,36.79L330.9,35.03" fill="none" stroke="#7f7f7f" stroke-width="1.3"/>
<circle cx="53.60" cy="180.34" r="2.30" fill="#7f7f7f" stroke="none"/>
<circle cx="62.84" cy="180.34" r="2.30" fill="#7f7f7f" stroke="none"/>
<circle cx="72.09" cy="180.34" r="2.30" fill="#7f7f7f" stroke="none"/>
<circle cx="81.33" cy="180.34" r="2.30" fill="#7f7f7f" stroke="none"/>
<circle cx="90.57" cy="180.34" r="2.30" fill="#7f7f7f" stroke="none"/>
<circle cx="99.82" cy="180.34" r="2.30" fill="#7f7f7f" stroke="none"/>
<circle cx="109.06" cy="180.07" r="2.30" fill="#7f7f7f" stroke="none"/>
<circle cx="118.30" cy="179.35" r="2.30" fill="#7f7f7f" stroke="none"/>
<circle cx="127.55" cy="178.25" r="2.30" fill="#7f7f7f" stroke="none"/>
<circle cx="136.79" cy="176.86" r="2.30" fill="#7f7f7f" stroke="none"/>
<circle cx="146.03" cy="175.28" r="2.30" fill="#7f7f7f" stroke="none"/>
<circle cx="155.28" cy="172.78" r="2.30" fill="#7f7f7f" stroke="none"/>
<circle cx="164.52" cy="168.86" r="2.30" fill="#7f7f7f" stroke="none"/>
<circle cx="173.76" cy="163.95" r="2.30" fill="#7f7f7f" stroke="none"/>
<circle cx="183.01" cy="158.51" r="2.30" fill="#7f7f7f" stroke="none"/>
<circle cx="192.25" cy="152.96" r="2.30" fill="#7f7f7f" stroke="none"/>
<circle cx="201.49" cy="147.02" r="2.30" fill="#7f7f7f" stroke="none"/>
<circle cx="210.74" cy="140.29" r="2.30" fill="#7f7f7f" stroke="none"/>
<circle cx="219.98" cy="133.02" r="2.30" fill="#7f7f7f" stroke="none"/>
<circle cx="229.22" cy="125.47" r="2.30" fill="#7f7f7f" stroke="none"/>
<circle cx="238.47" cy="117.90" r="2.30" fill="#7f7f7f" stroke="none"/>
<circle cx="247.71" cy="110.24" r="2.30" fill="#7f7f7f" stroke="none"/>
<circle cx="256.95" cy="102.32" r="2.30" fill="#7f7f7f" stroke="none"/>
<circle cx="266.20" cy="94.20" r="2.30" fill="#7f7f7f" stroke="none"/>
<circle cx="275.44" cy="85.96" r="2.30" fill="#7f7f7f" stroke="none"/>
<circle cx="284.68" cy="77.68" r="2.30" fill="#7f7f7f" stroke="none"/>
<circle cx="293.93" cy="69.35" r="2.30" fill="#7f7f7f" stroke="none"/>
<circle cx="303.17" cy="60.92" r="2.30" fill="#7f7f7f" stroke="none"/>
<circle cx="312.41" cy="52.39" r="2.30" fill="#7f7f7f" stroke="none"/>
<circle cx="321.66" cy="43.76" r="2.30" fill="#7f7f7f" stroke="none"/>
<circle cx="330.90" cy="35.03" r="2.30" fill="#7f7f7f" stroke="none"/>
<path d="M53.6,180.34L55.45,180.34L57.3,180.34L59.15,180.34L60.99,180.34L62.84,180.34L64.69,180.34L66.54,180.34L68.39,180.34L70.24,180.34L72.09,180.34L73.94,180.34L75.78,180.34L77.63,180.34L79.48,180.34L81.33,180.34L83.18,180.34L85.03,180.34L86.88,180.34L88.72,180.34L90.57,180.34L92.42,180.3L94.27,180.22L96.12,180.1L97.97,179.96L99.82,179.81L101.67,179.65L103.51,179.46L105.36,179.24L107.21,179L109.06,178.74L110.91,178.45L112.76,178.14L114.61,177.8L116.45,177.45L118.3,177.07L120.15,176.67L122,176.25L123.85,175.81L125.7,175.35L127.55,174.87L129.4,174.37L131.24,173.86L133.09,173.33L134.94,172.78L136.79,172.21L138.64,171.63L140.49,171.04L142.34,170.43L144.18,169.81L146.03,169.17L147.88,168.49L149.73,167.72L151.58,166.86L153.43,165.93L155.28,164.93L157.13,163.85L158.97,162.72L160.82,161.52L162.67,160.28L164.52,158.98L166.37,157.63L168.22,156.25L170.07,154.83L171.91,153.38L173.76,151.9L175.61,150.4L177.46,148.88L179.31,147.34L181.16,145.8L183.01,144.26L184.86,142.72L186.7,141.18L188.55,139.65L190.4,138.14L192.25,136.64L194.1,135.14L195.95,133.61L197.8,132.05L199.64,130.47L201.49,128.85L203.34,127.22L205.19,125.56L207.04,123.88L208.89,122.18L210.74,120.46L212.59,118.73L214.43,116.97L216.28,115.21L218.13,113.43L219.98,111.64L221.83,109.85L223.68,108.04L225.53,106.23L227.37,104.41L229.22,102.59L231.07,100.76L232.92,98.94L234.77,97.11L236.62,95.29L238.47,93.47L240.32,91.65L242.16,89.81L244.01,87.96L245.86,86.1L247.71,84.23L249.56,82.35L251.41,80.46L253.26,78.56L255.1,76.66L256.95,74.74L258.8,72.82L260.65,70.89L262.5,68.96L264.35,67.02L266.2,65.08L268.05,63.13L269.89,61.18L271.74,59.23L273.59,57.28L275.44,55.32L277.29,53.37L279.14,51.42L280.99,49.46L282.83,47.51L284.68,45.56L286.53,43.62L288.38,41.66L290.23,39.71L292.08,37.75L293.93,35.79L295.78,33.83L297.62,31.87L299.47,29.9L301.32,27.93L303.17,25.96L305.02,23.99L306.87,22.01L308.72,20.03L310.56,18.05L312.41,16.06L314.26,14.08L316.11,12.09L317.96,10.09L319.81,8.1" fill="none" stroke="#dc6fa3" stroke-width="1.3"/>
<circle cx="53.60" cy="180.34" r="2.30" fill="#dc6fa3" stroke="none"/>
<circle cx="62.84" cy="180.34" r="2.30" fill="#dc6fa3" stroke="none"/>
<circle cx="72.09" cy="180.34" r="2.30" fill="#dc6fa3" stroke="none"/>
<circle cx="81.33" cy="180.34" r="2.30" fill="#dc6fa3" stroke="none"/>
<circle cx="90.57" cy="180.34" r="2.30" fill="#dc6fa3" stroke="none"/>
<circle cx="99.82" cy="179.81" r="2.30" fill="#dc6fa3" stroke="none"/>
<circle cx="109.06" cy="178.74" r="2.30" fill="#dc6fa3" stroke="none"/>
<circle cx="118.30" cy="177.07" r="2.30" fill="#dc6fa3" stroke="none"/>
<circle cx="127.55" cy="174.87" r="2.30" fill="#dc6fa3" stroke="none"/>
<circle cx="136.79" cy="172.21" r="2.30" fill="#dc6fa3" stroke="none"/>
<circle cx="146.03" cy="169.17" r="2.30" fill="#dc6fa3" stroke="none"/>
<circle cx="155.28" cy="164.93" r="2.30" fill="#dc6fa3" stroke="none"/>
<circle cx="164.52" cy="158.98" r="2.30" fill="#dc6fa3" stroke="none"/>
<circle cx="173.76" cy="151.90" r="2.30" fill="#dc6fa3" stroke="none"/>
<circle cx="183.01" cy="144.26" r="2.30" fill="#dc6fa3" stroke="none"/>
<circle cx="192.25" cy="136.64" r="2.30" fill="#dc6fa3" stroke="none"/>
<circle cx="201.49" cy="128.85" r="2.30" fill="#dc6fa3" stroke="none"/>
<circle cx="210.74" cy="120.46" r="2.30" fill="#dc6fa3" stroke="none"/>
<circle cx="219.98" cy="111.64" r="2.30" fill="#dc6fa3" stroke="none"/>
<circle cx="229.22" cy="102.59" r="2.30" fill="#dc6fa3" stroke="none"/>
<circle cx="238.47" cy="93.47" r="2.30" fill="#dc6fa3" stroke="none"/>
<circle cx="247.71" cy="84.23" r="2.30" fill="#dc6fa3" stroke="none"/>
<circle cx="256.95" cy="74.74" r="2.30" fill="#dc6fa3" stroke="none"/>
<circle cx="266.20" cy="65.08" r="2.30" fill="#dc6fa3" stroke="none"/>
<circle cx="275.44" cy="55.32" r="2.30" fill="#dc6fa3" stroke="none"/>
<circle cx="284.68" cy="45.56" r="2.30" fill="#dc6fa3" stroke="none"/>
<circle cx="293.93" cy="35.79" r="2.30" fill="#dc6fa3" stroke="none"/>
<circle cx="303.17" cy="25.96" r="2.30" fill="#dc6fa3" stroke="none"/>
<circle cx="312.41" cy="16.06" r="2.30" fill="#dc6fa3" stroke="none"/>
<path d="M53.6,180.34L55.45,180.33L57.3,180.33L59.15,180.33L60.99,180.33L62.84,180.32L64.69,180.31L66.54,180.3L68.39,180.29L70.24,180.28L72.09,180.27L73.94,180.25L75.78,180.23L77.63,180.22L79.48,180.19L81.33,180.17L83.18,180.14L85.03,180.12L86.88,180.09L88.72,180.05L90.57,180.02L92.42,179.92L94.27,179.72L96.12,179.44L97.97,179.11L99.82,178.76L101.67,178.38L103.51,177.94L105.36,177.44L107.21,176.89L109.06,176.28L110.91,175.62L112.76,174.92L114.61,174.17L116.45,173.38L118.3,172.55L120.15,171.68L122,170.77L123.85,169.83L125.7,168.86L127.55,167.87L129.4,166.84L131.24,165.79L133.09,164.72L134.94,163.64L136.79,162.53L138.64,161.42L140.49,160.29L142.34,159.15L144.18,158L146.03,156.86L147.88,155.67L149.73,154.42L151.58,153.11L153.43,151.73L155.28,150.3L157.13,148.82L158.97,147.29L160.82,145.71L162.67,144.09L164.52,142.42L166.37,140.73L168.22,139L170.07,137.24L171.91,135.45L173.76,133.64L175.61,131.81L177.46,129.97L179.31,128.11L181.16,126.25L183.01,124.38L184.86,122.5L186.7,120.63L188.55,118.76L190.4,116.9L192.25,115.06L194.1,113.2L195.95,111.32L197.8,109.41L199.64,107.48L201.49,105.53L203.34,103.55L205.19,101.56L207.04,99.55L208.89,97.52L210.74,95.47L212.59,93.41L214.43,91.34L216.28,89.25L218.13,87.16L219.98,85.05L221.83,82.94L223.68,80.82L225.53,78.7L227.37,76.57L229.22,74.44L231.07,72.3L232.92,70.17L234.77,68.04L236.62,65.91L238.47,63.78L240.32,61.65L242.16,59.52L244.01,57.38L245.86,55.24L247.71,53.09L249.56,50.94L251.41,48.78L253.26,46.61L255.1,44.44L256.95,42.26L258.8,40.08L260.65,37.89L262.5,35.69L264.35,33.48L266.2,31.27L268.05,29.05L269.89,26.82L271.74,24.59L273.59,22.34L275.44,20.09L277.29,17.83L279.14,15.57L280.99,13.29L282.83,11.01L284.68,8.71" fill="none" stroke="#0000ff" stroke-width="1.3"/>
<circle cx="53.60" cy="180.34" r="2.30" fill="#0000ff" stroke="none"/>
<circle cx="62.84" cy="180.32" r="2.30" fill="#0000ff" stroke="none"/>
<circle cx="72.09" cy="180.27" r="2.30" fill="#0000ff" stroke="none"/>
<circle cx="81.33" cy="180.17" r="2.30" fill="#0000ff" stroke="none"/>
<circle cx="90.57" cy="180.02" r="2.30" fill="#0000ff" stroke="none"/>
<circle cx="99.82" cy="178.76" r="2.30" fill="#0000ff" stroke="none"/>
<circle cx="109.06" cy="176.28" r="2.30" fill="#0000ff" stroke="none"/>
<circle cx="118.30" cy="172.55" r="2.30" fill="#0000ff" stroke="none"/>
<circle cx="127.55" cy="167.87" r="2.30" fill="#0000ff" stroke="none"/>
<circle cx="136.79" cy="162.53" r="2.30" fill="#0000ff" stroke="none"/>
<circle cx="146.03" cy="156.86" r="2.30" fill="#0000ff" stroke="none"/>
<circle cx="155.28" cy="150.30" r="2.30" fill="#0000ff" stroke="none"/>
<circle cx="164.52" cy="142.42" r="2.30" fill="#0000ff" stroke="none"/>
<circle cx="173.76" cy="133.64" r="2.30" fill="#0000ff" stroke="none"/>
<circle cx="183.01" cy="124.38" r="2.30" fill="#0000ff" stroke="none"/>
<circle cx="192.25" cy="115.06" r="2.30" fill="#0000ff" stroke="none"/>
<circle cx="201.49" cy="105.53" r="2.30" fill="#0000ff" stroke="none"/>
<circle cx="210.74" cy="95.47" r="2.30" fill="#0000ff" stroke="none"/>
<circle cx="219.98" cy="85.05" r="2.30" fill="#0000ff" stroke="none"/>
<circle cx="229.22" cy="74.44" r="2.30" fill="#0000ff" stroke="none"/>
<circle cx="238.47" cy="63.78" r="2.30" fill="#0000ff" stroke="none"/>
<circle cx="247.71" cy="53.09" r="2.30" fill="#0000ff" stroke="none"/>
<circle cx="256.95" cy="42.26" r="2.30" fill="#0000ff" stroke="none"/>
<circle cx="266.20" cy="31.27" r="2.30" fill="#0000ff" stroke="none"/>
<circle cx="275.44" cy="20.09" r="2.30" fill="#0000ff" stroke="none"/>
</g>
<rect x="53.6" y="22.4" width="277.3" height="163.2" fill="none" stroke="#111" stroke-width="1.3"/>
<rect x="57.2" y="26.5" width="112" height="95.3" rx="2" fill="#fff" stroke="#111" stroke-width="1.1"/>
<line x1="59.4" y1="32.4" x2="71.3" y2="32.4" stroke="#e41a1c" stroke-width="1.3"/>
<circle cx="65.40" cy="32.40" r="2.00" fill="none" stroke="#e41a1c" stroke-width="0.8"/>
<text x="77.4" y="35.3" font-family="'Liberation Serif', serif" font-size="8.2" fill="#1a1a1a">Chip: D1</text>
<path d="M113.9,32.8H120M118.1,31.3L120.3,32.8L118.1,34.3" fill="none" stroke="#1a1a1a" stroke-width="0.75"/>
<text x="122.2" y="35.3" font-family="'Liberation Serif', serif" font-size="8.2" fill="#1a1a1a">V<tspan font-size="5.8" dy="1.8">TH</tspan></text>
<text x="136.4" y="35.3" font-family="'Liberation Serif', serif" font-size="8.2" fill="#1a1a1a">=</text>
<text x="142.6" y="35.3" font-family="'Liberation Serif', serif" font-size="8.2" fill="#1a1a1a" textLength="22.4" lengthAdjust="spacingAndGlyphs">0.47V</text>
<line x1="59.4" y1="42.86" x2="71.3" y2="42.86" stroke="#377eb8" stroke-width="1.3"/>
<path d="M65.40,40.86L67.40,44.46L63.40,44.46Z" fill="none" stroke="#377eb8" stroke-width="0.8"/>
<text x="77.4" y="45.76" font-family="'Liberation Serif', serif" font-size="8.2" fill="#1a1a1a">Chip: D9</text>
<path d="M113.9,43.26H120M118.1,41.76L120.3,43.26L118.1,44.76" fill="none" stroke="#1a1a1a" stroke-width="0.75"/>
<text x="122.2" y="45.76" font-family="'Liberation Serif', serif" font-size="8.2" fill="#1a1a1a">V<tspan font-size="5.8" dy="1.8">TH</tspan></text>
<text x="136.4" y="45.76" font-family="'Liberation Serif', serif" font-size="8.2" fill="#1a1a1a">=</text>
<text x="142.6" y="45.76" font-family="'Liberation Serif', serif" font-size="8.2" fill="#1a1a1a" textLength="22.4" lengthAdjust="spacingAndGlyphs">0.41V</text>
<line x1="59.4" y1="53.32" x2="71.3" y2="53.32" stroke="#4daf4a" stroke-width="1.3"/>
<path d="M65.40,51.32L67.00,53.32L65.40,55.32L63.80,53.32Z" fill="none" stroke="#4daf4a" stroke-width="0.8"/>
<text x="77.4" y="56.22" font-family="'Liberation Serif', serif" font-size="8.2" fill="#1a1a1a">Chip: E3</text>
<path d="M113.9,53.72H120M118.1,52.22L120.3,53.72L118.1,55.22" fill="none" stroke="#1a1a1a" stroke-width="0.75"/>
<text x="122.2" y="56.22" font-family="'Liberation Serif', serif" font-size="8.2" fill="#1a1a1a">V<tspan font-size="5.8" dy="1.8">TH</tspan></text>
<text x="136.4" y="56.22" font-family="'Liberation Serif', serif" font-size="8.2" fill="#1a1a1a">=</text>
<text x="142.6" y="56.22" font-family="'Liberation Serif', serif" font-size="8.2" fill="#1a1a1a" textLength="22.4" lengthAdjust="spacingAndGlyphs">0.48V</text>
<line x1="59.4" y1="63.78" x2="71.3" y2="63.78" stroke="#984ea3" stroke-width="1.3"/>
<path d="M65.40,65.78L67.40,62.18L63.40,62.18Z" fill="none" stroke="#984ea3" stroke-width="0.8"/>
<text x="77.4" y="66.68" font-family="'Liberation Serif', serif" font-size="8.2" fill="#1a1a1a">Chip: E5</text>
<path d="M113.9,64.18H120M118.1,62.68L120.3,64.18L118.1,65.68" fill="none" stroke="#1a1a1a" stroke-width="0.75"/>
<text x="122.2" y="66.68" font-family="'Liberation Serif', serif" font-size="8.2" fill="#1a1a1a">V<tspan font-size="5.8" dy="1.8">TH</tspan></text>
<text x="136.4" y="66.68" font-family="'Liberation Serif', serif" font-size="8.2" fill="#1a1a1a">=</text>
<text x="142.6" y="66.68" font-family="'Liberation Serif', serif" font-size="8.2" fill="#1a1a1a" textLength="22.4" lengthAdjust="spacingAndGlyphs">0.47V</text>
<line x1="59.4" y1="74.24" x2="71.3" y2="74.24" stroke="#ffff33" stroke-width="1.3"/>
<rect x="63.70" y="72.54" width="3.40" height="3.40" fill="none" stroke="#ffff33" stroke-width="0.8"/>
<text x="77.4" y="77.14" font-family="'Liberation Serif', serif" font-size="8.2" fill="#1a1a1a">Chip: E6</text>
<path d="M113.9,74.64H120M118.1,73.14L120.3,74.64L118.1,76.14" fill="none" stroke="#1a1a1a" stroke-width="0.75"/>
<text x="122.2" y="77.14" font-family="'Liberation Serif', serif" font-size="8.2" fill="#1a1a1a">V<tspan font-size="5.8" dy="1.8">TH</tspan></text>
<text x="136.4" y="77.14" font-family="'Liberation Serif', serif" font-size="8.2" fill="#1a1a1a">=</text>
<text x="142.6" y="77.14" font-family="'Liberation Serif', serif" font-size="8.2" fill="#1a1a1a" textLength="22.4" lengthAdjust="spacingAndGlyphs">0.45V</text>
<line x1="59.4" y1="84.7" x2="71.3" y2="84.7" stroke="#a65628" stroke-width="1.3"/>
<path d="M63.80,83.10L67.00,86.30M63.80,86.30L67.00,83.10" stroke="#a65628" stroke-width="0.8"/>
<text x="77.4" y="87.6" font-family="'Liberation Serif', serif" font-size="8.2" fill="#1a1a1a">Chip: D8</text>
<path d="M113.9,85.1H120M118.1,83.6L120.3,85.1L118.1,86.6" fill="none" stroke="#1a1a1a" stroke-width="0.75"/>
<text x="122.2" y="87.6" font-family="'Liberation Serif', serif" font-size="8.2" fill="#1a1a1a">V<tspan font-size="5.8" dy="1.8">TH</tspan></text>
<text x="136.4" y="87.6" font-family="'Liberation Serif', serif" font-size="8.2" fill="#1a1a1a">=</text>
<text x="142.6" y="87.6" font-family="'Liberation Serif', serif" font-size="8.2" fill="#1a1a1a" textLength="22.4" lengthAdjust="spacingAndGlyphs">0.42V</text>
<line x1="59.4" y1="95.16" x2="71.3" y2="95.16" stroke="#7f7f7f" stroke-width="1.3"/>
<circle cx="65.40" cy="95.16" r="2.00" fill="#7f7f7f" stroke="none"/>
<text x="77.4" y="98.06" font-family="'Liberation Serif', serif" font-size="8.2" fill="#1a1a1a">Sim: Slow</text>
<path d="M112.1,95.56H118.2M116.3,94.06L118.5,95.56L116.3,97.06" fill="none" stroke="#1a1a1a" stroke-width="0.75"/>
<text x="120.4" y="98.06" font-family="'Liberation Serif', serif" font-size="8.2" fill="#1a1a1a">V<tspan font-size="5.8" dy="1.8">TH</tspan></text>
<text x="134.6" y="98.06" font-family="'Liberation Serif', serif" font-size="8.2" fill="#1a1a1a">=</text>
<text x="140.8" y="98.06" font-family="'Liberation Serif', serif" font-size="8.2" fill="#1a1a1a" textLength="22.4" lengthAdjust="spacingAndGlyphs">0.47V</text>
<line x1="59.4" y1="105.62" x2="71.3" y2="105.62" stroke="#dc6fa3" stroke-width="1.3"/>
<circle cx="65.40" cy="105.62" r="2.00" fill="#dc6fa3" stroke="none"/>
<text x="77.4" y="108.52" font-family="'Liberation Serif', serif" font-size="8.2" fill="#1a1a1a">Sim: Typ</text>
<path d="M113.9,106.02H120M118.1,104.52L120.3,106.02L118.1,107.52" fill="none" stroke="#1a1a1a" stroke-width="0.75"/>
<text x="122.2" y="108.52" font-family="'Liberation Serif', serif" font-size="8.2" fill="#1a1a1a">V<tspan font-size="5.8" dy="1.8">TH</tspan></text>
<text x="136.4" y="108.52" font-family="'Liberation Serif', serif" font-size="8.2" fill="#1a1a1a">=</text>
<text x="142.6" y="108.52" font-family="'Liberation Serif', serif" font-size="8.2" fill="#1a1a1a" textLength="22.4" lengthAdjust="spacingAndGlyphs">0.41V</text>
<line x1="59.4" y1="116.08" x2="71.3" y2="116.08" stroke="#0000ff" stroke-width="1.3"/>
<circle cx="65.40" cy="116.08" r="2.00" fill="#0000ff" stroke="none"/>
<text x="77.4" y="118.98" font-family="'Liberation Serif', serif" font-size="8.2" fill="#1a1a1a">Sim: Fast</text>
<path d="M113.9,116.48H120M118.1,114.98L120.3,116.48L118.1,117.98" fill="none" stroke="#1a1a1a" stroke-width="0.75"/>
<text x="122.2" y="118.98" font-family="'Liberation Serif', serif" font-size="8.2" fill="#1a1a1a">V<tspan font-size="5.8" dy="1.8">TH</tspan></text>
<text x="136.4" y="118.98" font-family="'Liberation Serif', serif" font-size="8.2" fill="#1a1a1a">=</text>
<text x="142.6" y="118.98" font-family="'Liberation Serif', serif" font-size="8.2" fill="#1a1a1a" textLength="22.4" lengthAdjust="spacingAndGlyphs">0.32V</text>
<path d="M53.6,185.6v5M99.82,185.6v5M146.03,185.6v5M192.25,185.6v5M238.47,185.6v5M284.68,185.6v5M330.9,185.6v5M53.6,185.6v2.6M62.84,185.6v2.6M72.09,185.6v2.6M81.33,185.6v2.6M90.57,185.6v2.6M99.82,185.6v2.6M109.06,185.6v2.6M118.3,185.6v2.6M127.55,185.6v2.6M136.79,185.6v2.6M146.03,185.6v2.6M155.28,185.6v2.6M164.52,185.6v2.6M173.76,185.6v2.6M183.01,185.6v2.6M192.25,185.6v2.6M201.49,185.6v2.6M210.74,185.6v2.6M219.98,185.6v2.6M229.22,185.6v2.6M238.47,185.6v2.6M247.71,185.6v2.6M256.95,185.6v2.6M266.2,185.6v2.6M275.44,185.6v2.6M284.68,185.6v2.6M293.93,185.6v2.6M303.17,185.6v2.6M312.41,185.6v2.6M321.66,185.6v2.6M330.9,185.6v2.6" stroke="#111" stroke-width="1.1" fill="none"/>
<text x="53.6" y="203.8" font-family="'Liberation Serif', serif" font-size="12" text-anchor="middle" fill="#1a1a1a">0.00</text>
<text x="99.82" y="203.8" font-family="'Liberation Serif', serif" font-size="12" text-anchor="middle" fill="#1a1a1a">0.25</text>
<text x="146.03" y="203.8" font-family="'Liberation Serif', serif" font-size="12" text-anchor="middle" fill="#1a1a1a">0.50</text>
<text x="192.25" y="203.8" font-family="'Liberation Serif', serif" font-size="12" text-anchor="middle" fill="#1a1a1a">0.75</text>
<text x="238.47" y="203.8" font-family="'Liberation Serif', serif" font-size="12" text-anchor="middle" fill="#1a1a1a">1.00</text>
<text x="284.68" y="203.8" font-family="'Liberation Serif', serif" font-size="12" text-anchor="middle" fill="#1a1a1a">1.25</text>
<text x="330.9" y="203.8" font-family="'Liberation Serif', serif" font-size="12" text-anchor="middle" fill="#1a1a1a">1.50</text>
<path d="M53.6,180.34h-5M53.6,127.69h-5M53.6,75.05h-5M53.6,22.4h-5M53.6,180.34h-2.6M53.6,169.81h-2.6M53.6,159.28h-2.6M53.6,148.75h-2.6M53.6,138.22h-2.6M53.6,127.69h-2.6M53.6,117.16h-2.6M53.6,106.63h-2.6M53.6,96.1h-2.6M53.6,85.57h-2.6M53.6,75.05h-2.6M53.6,64.52h-2.6M53.6,53.99h-2.6M53.6,43.46h-2.6M53.6,32.93h-2.6M53.6,22.4h-2.6" stroke="#111" stroke-width="1.1" fill="none"/>
<text x="42.8" y="184.94" font-family="'Liberation Serif', serif" font-size="12" text-anchor="end" fill="#1a1a1a">0</text>
<text x="42.8" y="132.29" font-family="'Liberation Serif', serif" font-size="12" text-anchor="end" fill="#1a1a1a">5</text>
<text x="42.8" y="79.65" font-family="'Liberation Serif', serif" font-size="12" text-anchor="end" fill="#1a1a1a">10</text>
<text x="42.8" y="27" font-family="'Liberation Serif', serif" font-size="12" text-anchor="end" fill="#1a1a1a">15</text>
</g>
<text x="23" y="104" font-family="'Liberation Serif', serif" font-size="13.8" text-anchor="middle" font-weight="normal" fill="#1a1a1a" transform="rotate(-90 23 104)">Drain-Source current (<tspan font-style="italic">I</tspan><tspan font-style="italic" font-size="9.66" dy="2.76">DS</tspan><tspan dy="-2.76">) [µA]</tspan></text>
<text x="192.5" y="222.3" font-family="'Liberation Serif', serif" font-size="13.8" text-anchor="middle" font-weight="normal" fill="#1a1a1a">Gate-Source voltage (<tspan font-style="italic">V</tspan><tspan font-style="italic" font-size="9.66" dy="2.76">GS</tspan><tspan dy="-2.76">) [V]</tspan></text>
<text x="8.8" y="9.4" font-family="'Liberation Sans', sans-serif" font-size="14" text-anchor="start" font-weight="bold" fill="#000">a</text>
<path d="M395.4,22.3V185M430.12,22.3V185M464.85,22.3V185M499.57,22.3V185M534.3,22.3V185M569.03,22.3V185M603.75,22.3V185M638.48,22.3V185M673.2,22.3V185M395.4,182.8H673.2M395.4,153.46H673.2M395.4,124.12H673.2M395.4,94.77H673.2M395.4,65.43H673.2M395.4,36.09H673.2" stroke="#cdcdcd" stroke-width="1.0" fill="none"/>
<g clip-path="url(#c2)">
<line x1="479.95" y1="185" x2="561.13" y2="22.3" stroke="#e41a1c" stroke-width="0.75" stroke-dasharray="3.5,1.6"/>
<line x1="463.2" y1="185" x2="543" y2="22.3" stroke="#ee3a3a" stroke-width="0.75" stroke-dasharray="3.5,1.6"/>
<line x1="479.35" y1="185" x2="566.69" y2="22.3" stroke="#3a7fc4" stroke-width="0.75" stroke-dasharray="3.5,1.6"/>
<line x1="479.65" y1="185" x2="563.6" y2="22.3" stroke="#5cc45c" stroke-width="0.75" stroke-dasharray="3.5,1.6"/>
<line x1="471.54" y1="185" x2="560.73" y2="22.3" stroke="#9b59b6" stroke-width="0.75" stroke-dasharray="3.5,1.6"/>
<line x1="463.55" y1="185" x2="545.19" y2="22.3" stroke="#ff7f0e" stroke-width="0.75" stroke-dasharray="3.5,1.6"/>
<line x1="487.44" y1="185" x2="546.05" y2="22.3" stroke="#7f7f7f" stroke-width="0.75" stroke-dasharray="3.5,1.6"/>
<line x1="476.25" y1="185" x2="534.64" y2="22.3" stroke="#dc6fa3" stroke-width="0.75" stroke-dasharray="3.5,1.6"/>
<line x1="463.22" y1="185" x2="524.29" y2="22.3" stroke="#0000ff" stroke-width="0.75" stroke-dasharray="3.5,1.6"/>
<path d="M395.4,182.8L396.79,182.8L398.18,182.8L399.57,182.8L400.96,182.8L402.34,182.8L403.73,182.8L405.12,182.8L406.51,182.8L407.9,182.8L409.29,182.8L410.68,182.8L412.07,182.8L413.46,182.8L414.85,182.8L416.24,182.8L417.62,182.8L419.01,182.8L420.4,182.8L421.79,182.8L423.18,182.8L424.57,182.8L425.96,182.8L427.35,182.8L428.74,182.8L430.12,182.8L431.51,182.8L432.9,182.8L434.29,182.8L435.68,182.8L437.07,182.8L438.46,182.8L439.85,182.8L441.24,182.8L442.63,182.8L444.01,182.8L445.4,182.8L446.79,182.8L448.18,182.8L449.57,182.8L450.96,182.8L452.35,182.8L453.74,182.8L455.13,182.8L456.52,182.8L457.9,182.8L459.29,182.8L460.68,182.8L462.07,182.8L463.46,182.8L464.85,182.8L466.24,182.8L467.63,182.8L469.02,182.8L470.41,182.8L471.8,182.8L473.18,182.8L474.57,182.8L475.96,182.8L477.35,182.8L478.74,182.8L480.13,182.8L481.52,182.8L482.91,182.33L484.3,181.13L485.69,179.51L487.07,177.25L488.46,173.37L489.85,168.63L491.24,163.86L492.63,159.91L494.02,156.88L495.41,154.17L496.8,151.63L498.19,149.1L499.57,146.42L500.96,143.5L502.35,140.46L503.74,137.41L505.13,134.47L506.52,131.74L507.91,129.27L509.3,126.96L510.69,124.73L512.08,122.54L513.47,120.3L514.85,117.98L516.24,115.59L517.63,113.17L519.02,110.74L520.41,108.33L521.8,105.98L523.19,103.71L524.58,101.55L525.97,99.54L527.36,97.71L528.74,96.02L530.13,94.43L531.52,92.91L532.91,91.47L534.3,90.08L535.69,88.74L537.08,87.44L538.47,86.16L539.86,84.89L541.25,83.62L542.63,82.37L544.02,81.15L545.41,79.96L546.8,78.83L548.19,77.76L549.58,76.74L550.97,75.76L552.36,74.83L553.75,73.93L555.13,73.06L556.52,72.22L557.91,71.38L559.3,70.57L560.69,69.77L562.08,68.99L563.47,68.23L564.86,67.49L566.25,66.78L567.64,66.09L569.03,65.43L570.41,64.8L571.8,64.19L573.19,63.59L574.58,63.01L575.97,62.45L577.36,61.91L578.75,61.38L580.14,60.86L581.53,60.35L582.92,59.86L584.3,59.37L585.69,58.89L587.08,58.42L588.47,57.96L589.86,57.5L591.25,57.07L592.64,56.64L594.03,56.23L595.42,55.83L596.81,55.46L598.19,55.09L599.58,54.73L600.97,54.39L602.36,54.05L603.75,53.72L605.14,53.39L606.53,53.08L607.92,52.77L609.31,52.46L610.7,52.17L612.08,51.88L613.47,51.59L614.86,51.31L616.25,51.03L617.64,50.76L619.03,50.49L620.42,50.23L621.81,49.97L623.2,49.72L624.59,49.47L625.97,49.22L627.36,48.98L628.75,48.74L630.14,48.5L631.53,48.27L632.92,48.03L634.31,47.81L635.7,47.58L637.09,47.36L638.48,47.14L639.86,46.92L641.25,46.7L642.64,46.49L644.03,46.28L645.42,46.07L646.81,45.86L648.2,45.65L649.59,45.44L650.98,45.24L652.37,45.04L653.75,44.84L655.14,44.64L656.53,44.44L657.92,44.25L659.31,44.06L660.7,43.87L662.09,43.68L663.48,43.49L664.87,43.31L666.26,43.13L667.64,42.95L669.03,42.77L670.42,42.59L671.81,42.42L673.2,42.25" fill="none" stroke="#e41a1c" stroke-width="1.3"/>
<circle cx="395.40" cy="182.80" r="2.25" fill="none" stroke="#e41a1c" stroke-width="0.85"/>
<circle cx="402.34" cy="182.80" r="2.25" fill="none" stroke="#e41a1c" stroke-width="0.85"/>
<circle cx="409.29" cy="182.80" r="2.25" fill="none" stroke="#e41a1c" stroke-width="0.85"/>
<circle cx="416.24" cy="182.80" r="2.25" fill="none" stroke="#e41a1c" stroke-width="0.85"/>
<circle cx="423.18" cy="182.80" r="2.25" fill="none" stroke="#e41a1c" stroke-width="0.85"/>
<circle cx="430.12" cy="182.80" r="2.25" fill="none" stroke="#e41a1c" stroke-width="0.85"/>
<circle cx="437.07" cy="182.80" r="2.25" fill="none" stroke="#e41a1c" stroke-width="0.85"/>
<circle cx="444.01" cy="182.80" r="2.25" fill="none" stroke="#e41a1c" stroke-width="0.85"/>
<circle cx="450.96" cy="182.80" r="2.25" fill="none" stroke="#e41a1c" stroke-width="0.85"/>
<circle cx="457.90" cy="182.80" r="2.25" fill="none" stroke="#e41a1c" stroke-width="0.85"/>
<circle cx="464.85" cy="182.80" r="2.25" fill="none" stroke="#e41a1c" stroke-width="0.85"/>
<circle cx="471.80" cy="182.80" r="2.25" fill="none" stroke="#e41a1c" stroke-width="0.85"/>
<circle cx="478.74" cy="182.80" r="2.25" fill="none" stroke="#e41a1c" stroke-width="0.85"/>
<circle cx="485.69" cy="179.51" r="2.25" fill="none" stroke="#e41a1c" stroke-width="0.85"/>
<circle cx="492.63" cy="159.91" r="2.25" fill="none" stroke="#e41a1c" stroke-width="0.85"/>
<circle cx="499.57" cy="146.42" r="2.25" fill="none" stroke="#e41a1c" stroke-width="0.85"/>
<circle cx="506.52" cy="131.74" r="2.25" fill="none" stroke="#e41a1c" stroke-width="0.85"/>
<circle cx="513.47" cy="120.30" r="2.25" fill="none" stroke="#e41a1c" stroke-width="0.85"/>
<circle cx="520.41" cy="108.33" r="2.25" fill="none" stroke="#e41a1c" stroke-width="0.85"/>
<circle cx="527.36" cy="97.71" r="2.25" fill="none" stroke="#e41a1c" stroke-width="0.85"/>
<circle cx="534.30" cy="90.08" r="2.25" fill="none" stroke="#e41a1c" stroke-width="0.85"/>
<circle cx="541.25" cy="83.62" r="2.25" fill="none" stroke="#e41a1c" stroke-width="0.85"/>
<circle cx="548.19" cy="77.76" r="2.25" fill="none" stroke="#e41a1c" stroke-width="0.85"/>
<circle cx="555.13" cy="73.06" r="2.25" fill="none" stroke="#e41a1c" stroke-width="0.85"/>
<circle cx="562.08" cy="68.99" r="2.25" fill="none" stroke="#e41a1c" stroke-width="0.85"/>
<circle cx="569.03" cy="65.43" r="2.25" fill="none" stroke="#e41a1c" stroke-width="0.85"/>
<circle cx="575.97" cy="62.45" r="2.25" fill="none" stroke="#e41a1c" stroke-width="0.85"/>
<circle cx="582.92" cy="59.86" r="2.25" fill="none" stroke="#e41a1c" stroke-width="0.85"/>
<circle cx="589.86" cy="57.50" r="2.25" fill="none" stroke="#e41a1c" stroke-width="0.85"/>
<circle cx="596.81" cy="55.46" r="2.25" fill="none" stroke="#e41a1c" stroke-width="0.85"/>
<circle cx="603.75" cy="53.72" r="2.25" fill="none" stroke="#e41a1c" stroke-width="0.85"/>
<circle cx="610.70" cy="52.17" r="2.25" fill="none" stroke="#e41a1c" stroke-width="0.85"/>
<circle cx="617.64" cy="50.76" r="2.25" fill="none" stroke="#e41a1c" stroke-width="0.85"/>
<circle cx="624.59" cy="49.47" r="2.25" fill="none" stroke="#e41a1c" stroke-width="0.85"/>
<circle cx="631.53" cy="48.27" r="2.25" fill="none" stroke="#e41a1c" stroke-width="0.85"/>
<circle cx="638.48" cy="47.14" r="2.25" fill="none" stroke="#e41a1c" stroke-width="0.85"/>
<circle cx="645.42" cy="46.07" r="2.25" fill="none" stroke="#e41a1c" stroke-width="0.85"/>
<circle cx="652.37" cy="45.04" r="2.25" fill="none" stroke="#e41a1c" stroke-width="0.85"/>
<circle cx="659.31" cy="44.06" r="2.25" fill="none" stroke="#e41a1c" stroke-width="0.85"/>
<circle cx="666.26" cy="43.13" r="2.25" fill="none" stroke="#e41a1c" stroke-width="0.85"/>
<circle cx="673.20" cy="42.25" r="2.25" fill="none" stroke="#e41a1c" stroke-width="0.85"/>
<path d="M395.4,182.8L396.79,182.8L398.18,182.8L399.57,182.8L400.96,182.8L402.34,182.8L403.73,182.8L405.12,182.8L406.51,182.8L407.9,182.8L409.29,182.8L410.68,182.8L412.07,182.8L413.46,182.8L414.85,182.8L416.24,182.8L417.62,182.8L419.01,182.8L420.4,182.8L421.79,182.8L423.18,182.8L424.57,182.8L425.96,182.8L427.35,182.8L428.74,182.8L430.12,182.8L431.51,182.8L432.9,182.8L434.29,182.8L435.68,182.8L437.07,182.8L438.46,182.8L439.85,182.8L441.24,182.8L442.63,182.8L444.01,182.8L445.4,182.8L446.79,182.8L448.18,182.8L449.57,182.8L450.96,182.8L452.35,182.8L453.74,182.8L455.13,182.8L456.52,182.8L457.9,182.8L459.29,182.8L460.68,182.8L462.07,182.8L463.46,182.8L464.85,182.8L466.24,181.64L467.63,178.67L469.02,174.67L470.41,170.41L471.8,166.66L473.18,163.41L474.57,160.13L475.96,156.87L477.35,153.65L478.74,150.52L480.13,147.5L481.52,144.55L482.91,141.65L484.3,138.76L485.69,135.85L487.07,132.88L488.46,129.88L489.85,126.89L491.24,123.97L492.63,121.18L494.02,118.52L495.41,115.94L496.8,113.43L498.19,110.98L499.57,108.56L500.96,106.16L502.35,103.76L503.74,101.43L505.13,99.2L506.52,97.12L507.91,95.16L509.3,93.28L510.69,91.5L512.08,89.84L513.47,88.32L514.85,86.91L516.24,85.57L517.63,84.29L519.02,83.06L520.41,81.88L521.8,80.75L523.19,79.66L524.58,78.6L525.97,77.58L527.36,76.58L528.74,75.61L530.13,74.66L531.52,73.74L532.91,72.85L534.3,71.99L535.69,71.15L537.08,70.34L538.47,69.56L539.86,68.8L541.25,68.07L542.63,67.37L544.02,66.69L545.41,66.04L546.8,65.4L548.19,64.79L549.58,64.19L550.97,63.6L552.36,63.03L553.75,62.47L555.13,61.91L556.52,61.36L557.91,60.83L559.3,60.3L560.69,59.78L562.08,59.27L563.47,58.77L564.86,58.29L566.25,57.82L567.64,57.36L569.03,56.92L570.41,56.5L571.8,56.09L573.19,55.69L574.58,55.31L575.97,54.93L577.36,54.56L578.75,54.2L580.14,53.84L581.53,53.47L582.92,53.11L584.3,52.74L585.69,52.38L587.08,52.01L588.47,51.65L589.86,51.29L591.25,50.94L592.64,50.59L594.03,50.25L595.42,49.91L596.81,49.59L598.19,49.27L599.58,48.95L600.97,48.64L602.36,48.33L603.75,48.03L605.14,47.73L606.53,47.44L607.92,47.15L609.31,46.86L610.7,46.57L612.08,46.29L613.47,46.01L614.86,45.73L616.25,45.46L617.64,45.19L619.03,44.92L620.42,44.65L621.81,44.39L623.2,44.13L624.59,43.87L625.97,43.62L627.36,43.37L628.75,43.12L630.14,42.87L631.53,42.62L632.92,42.38L634.31,42.13L635.7,41.89L637.09,41.65L638.48,41.4L639.86,41.16L641.25,40.92L642.64,40.68L644.03,40.44L645.42,40.2L646.81,39.96L648.2,39.72L649.59,39.48L650.98,39.24L652.37,39L653.75,38.76L655.14,38.52L656.53,38.29L657.92,38.05L659.31,37.82L660.7,37.58L662.09,37.35L663.48,37.11L664.87,36.88L666.26,36.65L667.64,36.42L669.03,36.19L670.42,35.96L671.81,35.73L673.2,35.5" fill="none" stroke="#ee3a3a" stroke-width="1.3"/>
<path d="M395.40,180.55L397.65,184.60L393.15,184.60Z" fill="none" stroke="#ee3a3a" stroke-width="0.85"/>
<path d="M402.34,180.55L404.59,184.60L400.09,184.60Z" fill="none" stroke="#ee3a3a" stroke-width="0.85"/>
<path d="M409.29,180.55L411.54,184.60L407.04,184.60Z" fill="none" stroke="#ee3a3a" stroke-width="0.85"/>
<path d="M416.24,180.55L418.49,184.60L413.99,184.60Z" fill="none" stroke="#ee3a3a" stroke-width="0.85"/>
<path d="M423.18,180.55L425.43,184.60L420.93,184.60Z" fill="none" stroke="#ee3a3a" stroke-width="0.85"/>
<path d="M430.12,180.55L432.38,184.60L427.88,184.60Z" fill="none" stroke="#ee3a3a" stroke-width="0.85"/>
<path d="M437.07,180.55L439.32,184.60L434.82,184.60Z" fill="none" stroke="#ee3a3a" stroke-width="0.85"/>
<path d="M444.01,180.55L446.26,184.60L441.76,184.60Z" fill="none" stroke="#ee3a3a" stroke-width="0.85"/>
<path d="M450.96,180.55L453.21,184.60L448.71,184.60Z" fill="none" stroke="#ee3a3a" stroke-width="0.85"/>
<path d="M457.90,180.55L460.15,184.60L455.65,184.60Z" fill="none" stroke="#ee3a3a" stroke-width="0.85"/>
<path d="M464.85,180.55L467.10,184.60L462.60,184.60Z" fill="none" stroke="#ee3a3a" stroke-width="0.85"/>
<path d="M471.80,164.41L474.05,168.46L469.55,168.46Z" fill="none" stroke="#ee3a3a" stroke-width="0.85"/>
<path d="M478.74,148.27L480.99,152.32L476.49,152.32Z" fill="none" stroke="#ee3a3a" stroke-width="0.85"/>
<path d="M485.69,133.60L487.94,137.65L483.44,137.65Z" fill="none" stroke="#ee3a3a" stroke-width="0.85"/>
<path d="M492.63,118.93L494.88,122.98L490.38,122.98Z" fill="none" stroke="#ee3a3a" stroke-width="0.85"/>
<path d="M499.57,106.31L501.82,110.36L497.32,110.36Z" fill="none" stroke="#ee3a3a" stroke-width="0.85"/>
<path d="M506.52,94.87L508.77,98.92L504.27,98.92Z" fill="none" stroke="#ee3a3a" stroke-width="0.85"/>
<path d="M513.47,86.07L515.72,90.12L511.22,90.12Z" fill="none" stroke="#ee3a3a" stroke-width="0.85"/>
<path d="M520.41,79.63L522.66,83.68L518.16,83.68Z" fill="none" stroke="#ee3a3a" stroke-width="0.85"/>
<path d="M527.36,74.33L529.61,78.38L525.11,78.38Z" fill="none" stroke="#ee3a3a" stroke-width="0.85"/>
<path d="M534.30,69.74L536.55,73.79L532.05,73.79Z" fill="none" stroke="#ee3a3a" stroke-width="0.85"/>
<path d="M541.25,65.82L543.50,69.87L539.00,69.87Z" fill="none" stroke="#ee3a3a" stroke-width="0.85"/>
<path d="M548.19,62.54L550.44,66.59L545.94,66.59Z" fill="none" stroke="#ee3a3a" stroke-width="0.85"/>
<path d="M555.13,59.66L557.38,63.71L552.88,63.71Z" fill="none" stroke="#ee3a3a" stroke-width="0.85"/>
<path d="M562.08,57.02L564.33,61.07L559.83,61.07Z" fill="none" stroke="#ee3a3a" stroke-width="0.85"/>
<path d="M569.03,54.67L571.28,58.72L566.78,58.72Z" fill="none" stroke="#ee3a3a" stroke-width="0.85"/>
<path d="M575.97,52.68L578.22,56.73L573.72,56.73Z" fill="none" stroke="#ee3a3a" stroke-width="0.85"/>
<path d="M582.92,50.86L585.17,54.91L580.67,54.91Z" fill="none" stroke="#ee3a3a" stroke-width="0.85"/>
<path d="M589.86,49.04L592.11,53.09L587.61,53.09Z" fill="none" stroke="#ee3a3a" stroke-width="0.85"/>
<path d="M596.81,47.34L599.06,51.39L594.56,51.39Z" fill="none" stroke="#ee3a3a" stroke-width="0.85"/>
<path d="M603.75,45.78L606.00,49.83L601.50,49.83Z" fill="none" stroke="#ee3a3a" stroke-width="0.85"/>
<path d="M610.70,44.32L612.95,48.37L608.45,48.37Z" fill="none" stroke="#ee3a3a" stroke-width="0.85"/>
<path d="M617.64,42.94L619.89,46.99L615.39,46.99Z" fill="none" stroke="#ee3a3a" stroke-width="0.85"/>
<path d="M624.59,41.62L626.84,45.67L622.34,45.67Z" fill="none" stroke="#ee3a3a" stroke-width="0.85"/>
<path d="M631.53,40.37L633.78,44.42L629.28,44.42Z" fill="none" stroke="#ee3a3a" stroke-width="0.85"/>
<path d="M638.48,39.15L640.73,43.20L636.23,43.20Z" fill="none" stroke="#ee3a3a" stroke-width="0.85"/>
<path d="M645.42,37.95L647.67,42.00L643.17,42.00Z" fill="none" stroke="#ee3a3a" stroke-width="0.85"/>
<path d="M652.37,36.75L654.62,40.80L650.12,40.80Z" fill="none" stroke="#ee3a3a" stroke-width="0.85"/>
<path d="M659.31,35.57L661.56,39.62L657.06,39.62Z" fill="none" stroke="#ee3a3a" stroke-width="0.85"/>
<path d="M666.26,34.40L668.51,38.45L664.01,38.45Z" fill="none" stroke="#ee3a3a" stroke-width="0.85"/>
<path d="M673.20,33.25L675.45,37.30L670.95,37.30Z" fill="none" stroke="#ee3a3a" stroke-width="0.85"/>
<path d="M395.4,182.8L396.79,182.8L398.18,182.8L399.57,182.8L400.96,182.8L402.34,182.8L403.73,182.8L405.12,182.8L406.51,182.8L407.9,182.8L409.29,182.8L410.68,182.8L412.07,182.8L413.46,182.8L414.85,182.8L416.24,182.8L417.62,182.8L419.01,182.8L420.4,182.8L421.79,182.8L423.18,182.8L424.57,182.8L425.96,182.8L427.35,182.8L428.74,182.8L430.12,182.8L431.51,182.8L432.9,182.8L434.29,182.8L435.68,182.8L437.07,182.8L438.46,182.8L439.85,182.8L441.24,182.8L442.63,182.8L444.01,182.8L445.4,182.8L446.79,182.8L448.18,182.8L449.57,182.8L450.96,182.8L452.35,182.8L453.74,182.8L455.13,182.8L456.52,182.8L457.9,182.8L459.29,182.8L460.68,182.8L462.07,182.8L463.46,182.8L464.85,182.8L466.24,182.8L467.63,182.8L469.02,182.8L470.41,182.8L471.8,182.8L473.18,182.8L474.57,182.8L475.96,182.8L477.35,182.8L478.74,182.8L480.13,182.8L481.52,182.8L482.91,182.28L484.3,180.91L485.69,179.03L487.07,176.93L488.46,174.04L489.85,170.09L491.24,165.9L492.63,162.26L494.02,159.35L495.41,156.72L496.8,154.22L498.19,151.71L499.57,149.06L500.96,146.17L502.35,143.14L503.74,140.09L505.13,137.14L506.52,134.39L507.91,131.87L509.3,129.5L510.69,127.22L512.08,124.95L513.47,122.65L514.85,120.26L516.24,117.8L517.63,115.31L519.02,112.8L520.41,110.32L521.8,107.88L523.19,105.52L524.58,103.26L525.97,101.14L527.36,99.18L528.74,97.34L530.13,95.58L531.52,93.9L532.91,92.27L534.3,90.71L535.69,89.2L537.08,87.74L538.47,86.33L539.86,84.96L541.25,83.62L542.63,82.34L544.02,81.13L545.41,79.97L546.8,78.85L548.19,77.76L549.58,76.69L550.97,75.64L552.36,74.64L553.75,73.68L555.13,72.77L556.52,71.9L557.91,71.06L559.3,70.24L560.69,69.44L562.08,68.66L563.47,67.91L564.86,67.18L566.25,66.48L567.64,65.8L569.03,65.14L570.41,64.51L571.8,63.89L573.19,63.3L574.58,62.72L575.97,62.16L577.36,61.62L578.75,61.09L580.14,60.57L581.53,60.06L582.92,59.56L584.3,59.08L585.69,58.6L587.08,58.13L588.47,57.67L589.86,57.23L591.25,56.79L592.64,56.37L594.03,55.95L595.42,55.55L596.81,55.16L598.19,54.79L599.58,54.42L600.97,54.06L602.36,53.71L603.75,53.37L605.14,53.03L606.53,52.7L607.92,52.38L609.31,52.06L610.7,51.74L612.08,51.42L613.47,51.11L614.86,50.8L616.25,50.49L617.64,50.17L619.03,49.86L620.42,49.55L621.81,49.24L623.2,48.93L624.59,48.62L625.97,48.32L627.36,48.01L628.75,47.71L630.14,47.41L631.53,47.11L632.92,46.82L634.31,46.52L635.7,46.23L637.09,45.95L638.48,45.66L639.86,45.38L641.25,45.11L642.64,44.84L644.03,44.57L645.42,44.31L646.81,44.05L648.2,43.79L649.59,43.53L650.98,43.28L652.37,43.03L653.75,42.78L655.14,42.54L656.53,42.3L657.92,42.06L659.31,41.82L660.7,41.59L662.09,41.35L663.48,41.13L664.87,40.9L666.26,40.68L667.64,40.46L669.03,40.24L670.42,40.03L671.81,39.82L673.2,39.61" fill="none" stroke="#3a7fc4" stroke-width="1.3"/>
<path d="M395.40,180.55L397.20,182.80L395.40,185.05L393.60,182.80Z" fill="none" stroke="#3a7fc4" stroke-width="0.85"/>
<path d="M402.34,180.55L404.14,182.80L402.34,185.05L400.54,182.80Z" fill="none" stroke="#3a7fc4" stroke-width="0.85"/>
<path d="M409.29,180.55L411.09,182.80L409.29,185.05L407.49,182.80Z" fill="none" stroke="#3a7fc4" stroke-width="0.85"/>
<path d="M416.24,180.55L418.04,182.80L416.24,185.05L414.44,182.80Z" fill="none" stroke="#3a7fc4" stroke-width="0.85"/>
<path d="M423.18,180.55L424.98,182.80L423.18,185.05L421.38,182.80Z" fill="none" stroke="#3a7fc4" stroke-width="0.85"/>
<path d="M430.12,180.55L431.93,182.80L430.12,185.05L428.32,182.80Z" fill="none" stroke="#3a7fc4" stroke-width="0.85"/>
<path d="M437.07,180.55L438.87,182.80L437.07,185.05L435.27,182.80Z" fill="none" stroke="#3a7fc4" stroke-width="0.85"/>
<path d="M444.01,180.55L445.81,182.80L444.01,185.05L442.21,182.80Z" fill="none" stroke="#3a7fc4" stroke-width="0.85"/>
<path d="M450.96,180.55L452.76,182.80L450.96,185.05L449.16,182.80Z" fill="none" stroke="#3a7fc4" stroke-width="0.85"/>
<path d="M457.90,180.55L459.70,182.80L457.90,185.05L456.10,182.80Z" fill="none" stroke="#3a7fc4" stroke-width="0.85"/>
<path d="M464.85,180.55L466.65,182.80L464.85,185.05L463.05,182.80Z" fill="none" stroke="#3a7fc4" stroke-width="0.85"/>
<path d="M471.80,180.55L473.60,182.80L471.80,185.05L470.00,182.80Z" fill="none" stroke="#3a7fc4" stroke-width="0.85"/>
<path d="M478.74,180.55L480.54,182.80L478.74,185.05L476.94,182.80Z" fill="none" stroke="#3a7fc4" stroke-width="0.85"/>
<path d="M485.69,176.78L487.49,179.03L485.69,181.28L483.88,179.03Z" fill="none" stroke="#3a7fc4" stroke-width="0.85"/>
<path d="M492.63,160.01L494.43,162.26L492.63,164.51L490.83,162.26Z" fill="none" stroke="#3a7fc4" stroke-width="0.85"/>
<path d="M499.57,146.81L501.38,149.06L499.57,151.31L497.77,149.06Z" fill="none" stroke="#3a7fc4" stroke-width="0.85"/>
<path d="M506.52,132.14L508.32,134.39L506.52,136.64L504.72,134.39Z" fill="none" stroke="#3a7fc4" stroke-width="0.85"/>
<path d="M513.47,120.40L515.26,122.65L513.47,124.90L511.67,122.65Z" fill="none" stroke="#3a7fc4" stroke-width="0.85"/>
<path d="M520.41,108.07L522.21,110.32L520.41,112.57L518.61,110.32Z" fill="none" stroke="#3a7fc4" stroke-width="0.85"/>
<path d="M527.36,96.93L529.15,99.18L527.36,101.43L525.56,99.18Z" fill="none" stroke="#3a7fc4" stroke-width="0.85"/>
<path d="M534.30,88.46L536.10,90.71L534.30,92.96L532.50,90.71Z" fill="none" stroke="#3a7fc4" stroke-width="0.85"/>
<path d="M541.25,81.37L543.04,83.62L541.25,85.87L539.45,83.62Z" fill="none" stroke="#3a7fc4" stroke-width="0.85"/>
<path d="M548.19,75.51L549.99,77.76L548.19,80.01L546.39,77.76Z" fill="none" stroke="#3a7fc4" stroke-width="0.85"/>
<path d="M555.13,70.52L556.93,72.77L555.13,75.02L553.34,72.77Z" fill="none" stroke="#3a7fc4" stroke-width="0.85"/>
<path d="M562.08,66.41L563.88,68.66L562.08,70.91L560.28,68.66Z" fill="none" stroke="#3a7fc4" stroke-width="0.85"/>
<path d="M569.03,62.89L570.83,65.14L569.03,67.39L567.23,65.14Z" fill="none" stroke="#3a7fc4" stroke-width="0.85"/>
<path d="M575.97,59.91L577.77,62.16L575.97,64.41L574.17,62.16Z" fill="none" stroke="#3a7fc4" stroke-width="0.85"/>
<path d="M582.92,57.31L584.72,59.56L582.92,61.81L581.12,59.56Z" fill="none" stroke="#3a7fc4" stroke-width="0.85"/>
<path d="M589.86,54.98L591.66,57.23L589.86,59.48L588.06,57.23Z" fill="none" stroke="#3a7fc4" stroke-width="0.85"/>
<path d="M596.81,52.91L598.61,55.16L596.81,57.41L595.01,55.16Z" fill="none" stroke="#3a7fc4" stroke-width="0.85"/>
<path d="M603.75,51.12L605.55,53.37L603.75,55.62L601.95,53.37Z" fill="none" stroke="#3a7fc4" stroke-width="0.85"/>
<path d="M610.70,49.49L612.50,51.74L610.70,53.99L608.90,51.74Z" fill="none" stroke="#3a7fc4" stroke-width="0.85"/>
<path d="M617.64,47.92L619.44,50.17L617.64,52.42L615.84,50.17Z" fill="none" stroke="#3a7fc4" stroke-width="0.85"/>
<path d="M624.59,46.37L626.38,48.62L624.59,50.87L622.79,48.62Z" fill="none" stroke="#3a7fc4" stroke-width="0.85"/>
<path d="M631.53,44.86L633.33,47.11L631.53,49.36L629.73,47.11Z" fill="none" stroke="#3a7fc4" stroke-width="0.85"/>
<path d="M638.48,43.41L640.27,45.66L638.48,47.91L636.68,45.66Z" fill="none" stroke="#3a7fc4" stroke-width="0.85"/>
<path d="M645.42,42.06L647.22,44.31L645.42,46.56L643.62,44.31Z" fill="none" stroke="#3a7fc4" stroke-width="0.85"/>
<path d="M652.37,40.78L654.16,43.03L652.37,45.28L650.57,43.03Z" fill="none" stroke="#3a7fc4" stroke-width="0.85"/>
<path d="M659.31,39.57L661.11,41.82L659.31,44.07L657.51,41.82Z" fill="none" stroke="#3a7fc4" stroke-width="0.85"/>
<path d="M666.26,38.43L668.06,40.68L666.26,42.93L664.46,40.68Z" fill="none" stroke="#3a7fc4" stroke-width="0.85"/>
<path d="M673.20,37.36L675.00,39.61L673.20,41.86L671.40,39.61Z" fill="none" stroke="#3a7fc4" stroke-width="0.85"/>
<path d="M395.4,182.8L396.79,182.8L398.18,182.8L399.57,182.8L400.96,182.8L402.34,182.8L403.73,182.8L405.12,182.8L406.51,182.8L407.9,182.8L409.29,182.8L410.68,182.8L412.07,182.8L413.46,182.8L414.85,182.8L416.24,182.8L417.62,182.8L419.01,182.8L420.4,182.8L421.79,182.8L423.18,182.8L424.57,182.8L425.96,182.8L427.35,182.8L428.74,182.8L430.12,182.8L431.51,182.8L432.9,182.8L434.29,182.8L435.68,182.8L437.07,182.8L438.46,182.8L439.85,182.8L441.24,182.8L442.63,182.8L444.01,182.8L445.4,182.8L446.79,182.8L448.18,182.8L449.57,182.8L450.96,182.8L452.35,182.8L453.74,182.8L455.13,182.8L456.52,182.8L457.9,182.8L459.29,182.8L460.68,182.8L462.07,182.8L463.46,182.8L464.85,182.8L466.24,182.8L467.63,182.8L469.02,182.8L470.41,182.8L471.8,182.8L473.18,182.8L474.57,182.8L475.96,182.8L477.35,182.8L478.74,182.8L480.13,182.8L481.52,182.8L482.91,182.11L484.3,180.35L485.69,177.99L487.07,175.46L488.46,172.38L489.85,168.45L491.24,164.36L492.63,160.79L494.02,157.89L495.41,155.26L496.8,152.76L498.19,150.25L499.57,147.59L500.96,144.7L502.35,141.68L503.74,138.63L505.13,135.67L506.52,132.92L507.91,130.4L509.3,128.02L510.69,125.73L512.08,123.47L513.47,121.18L514.85,118.83L516.24,116.42L517.63,113.98L519.02,111.54L520.41,109.13L521.8,106.76L523.19,104.47L524.58,102.28L525.97,100.21L527.36,98.3L528.74,96.5L530.13,94.78L531.52,93.13L532.91,91.54L534.3,90.01L535.69,88.53L537.08,87.1L538.47,85.71L539.86,84.36L541.25,83.04L542.63,81.76L544.02,80.53L545.41,79.36L546.8,78.24L548.19,77.17L549.58,76.15L550.97,75.17L552.36,74.24L553.75,73.34L555.13,72.47L556.52,71.63L557.91,70.79L559.3,69.97L560.69,69.16L562.08,68.38L563.47,67.61L564.86,66.87L566.25,66.17L567.64,65.49L569.03,64.85L570.41,64.24L571.8,63.65L573.19,63.09L574.58,62.55L575.97,62.02L577.36,61.52L578.75,61.02L580.14,60.53L581.53,60.04L582.92,59.56L584.3,59.09L585.69,58.61L587.08,58.14L588.47,57.68L589.86,57.23L591.25,56.78L592.64,56.35L594.03,55.94L595.42,55.54L596.81,55.16L598.19,54.8L599.58,54.45L600.97,54.1L602.36,53.77L603.75,53.44L605.14,53.13L606.53,52.81L607.92,52.51L609.31,52.21L610.7,51.91L612.08,51.62L613.47,51.33L614.86,51.04L616.25,50.76L617.64,50.47L619.03,50.18L620.42,49.9L621.81,49.62L623.2,49.34L624.59,49.06L625.97,48.78L627.36,48.51L628.75,48.24L630.14,47.97L631.53,47.71L632.92,47.45L634.31,47.18L635.7,46.93L637.09,46.67L638.48,46.42L639.86,46.17L641.25,45.92L642.64,45.67L644.03,45.43L645.42,45.19L646.81,44.95L648.2,44.71L649.59,44.47L650.98,44.24L652.37,44.01L653.75,43.78L655.14,43.55L656.53,43.33L657.92,43.1L659.31,42.88L660.7,42.66L662.09,42.44L663.48,42.23L664.87,42.02L666.26,41.8L667.64,41.6L669.03,41.39L670.42,41.19L671.81,40.98L673.2,40.79" fill="none" stroke="#5cc45c" stroke-width="1.3"/>
<path d="M395.40,185.05L397.65,181.00L393.15,181.00Z" fill="none" stroke="#5cc45c" stroke-width="0.85"/>
<path d="M402.34,185.05L404.59,181.00L400.09,181.00Z" fill="none" stroke="#5cc45c" stroke-width="0.85"/>
<path d="M409.29,185.05L411.54,181.00L407.04,181.00Z" fill="none" stroke="#5cc45c" stroke-width="0.85"/>
<path d="M416.24,185.05L418.49,181.00L413.99,181.00Z" fill="none" stroke="#5cc45c" stroke-width="0.85"/>
<path d="M423.18,185.05L425.43,181.00L420.93,181.00Z" fill="none" stroke="#5cc45c" stroke-width="0.85"/>
<path d="M430.12,185.05L432.38,181.00L427.88,181.00Z" fill="none" stroke="#5cc45c" stroke-width="0.85"/>
<path d="M437.07,185.05L439.32,181.00L434.82,181.00Z" fill="none" stroke="#5cc45c" stroke-width="0.85"/>
<path d="M444.01,185.05L446.26,181.00L441.76,181.00Z" fill="none" stroke="#5cc45c" stroke-width="0.85"/>
<path d="M450.96,185.05L453.21,181.00L448.71,181.00Z" fill="none" stroke="#5cc45c" stroke-width="0.85"/>
<path d="M457.90,185.05L460.15,181.00L455.65,181.00Z" fill="none" stroke="#5cc45c" stroke-width="0.85"/>
<path d="M464.85,185.05L467.10,181.00L462.60,181.00Z" fill="none" stroke="#5cc45c" stroke-width="0.85"/>
<path d="M471.80,185.05L474.05,181.00L469.55,181.00Z" fill="none" stroke="#5cc45c" stroke-width="0.85"/>
<path d="M478.74,185.05L480.99,181.00L476.49,181.00Z" fill="none" stroke="#5cc45c" stroke-width="0.85"/>
<path d="M485.69,180.24L487.94,176.19L483.44,176.19Z" fill="none" stroke="#5cc45c" stroke-width="0.85"/>
<path d="M492.63,163.04L494.88,158.99L490.38,158.99Z" fill="none" stroke="#5cc45c" stroke-width="0.85"/>
<path d="M499.57,149.84L501.82,145.79L497.32,145.79Z" fill="none" stroke="#5cc45c" stroke-width="0.85"/>
<path d="M506.52,135.17L508.77,131.12L504.27,131.12Z" fill="none" stroke="#5cc45c" stroke-width="0.85"/>
<path d="M513.47,123.43L515.72,119.38L511.22,119.38Z" fill="none" stroke="#5cc45c" stroke-width="0.85"/>
<path d="M520.41,111.38L522.66,107.33L518.16,107.33Z" fill="none" stroke="#5cc45c" stroke-width="0.85"/>
<path d="M527.36,100.55L529.61,96.50L525.11,96.50Z" fill="none" stroke="#5cc45c" stroke-width="0.85"/>
<path d="M534.30,92.26L536.55,88.21L532.05,88.21Z" fill="none" stroke="#5cc45c" stroke-width="0.85"/>
<path d="M541.25,85.29L543.50,81.24L539.00,81.24Z" fill="none" stroke="#5cc45c" stroke-width="0.85"/>
<path d="M548.19,79.42L550.44,75.37L545.94,75.37Z" fill="none" stroke="#5cc45c" stroke-width="0.85"/>
<path d="M555.13,74.72L557.38,70.67L552.88,70.67Z" fill="none" stroke="#5cc45c" stroke-width="0.85"/>
<path d="M562.08,70.63L564.33,66.58L559.83,66.58Z" fill="none" stroke="#5cc45c" stroke-width="0.85"/>
<path d="M569.03,67.10L571.28,63.05L566.78,63.05Z" fill="none" stroke="#5cc45c" stroke-width="0.85"/>
<path d="M575.97,64.27L578.22,60.22L573.72,60.22Z" fill="none" stroke="#5cc45c" stroke-width="0.85"/>
<path d="M582.92,61.81L585.17,57.76L580.67,57.76Z" fill="none" stroke="#5cc45c" stroke-width="0.85"/>
<path d="M589.86,59.48L592.11,55.43L587.61,55.43Z" fill="none" stroke="#5cc45c" stroke-width="0.85"/>
<path d="M596.81,57.41L599.06,53.36L594.56,53.36Z" fill="none" stroke="#5cc45c" stroke-width="0.85"/>
<path d="M603.75,55.69L606.00,51.64L601.50,51.64Z" fill="none" stroke="#5cc45c" stroke-width="0.85"/>
<path d="M610.70,54.16L612.95,50.11L608.45,50.11Z" fill="none" stroke="#5cc45c" stroke-width="0.85"/>
<path d="M617.64,52.72L619.89,48.67L615.39,48.67Z" fill="none" stroke="#5cc45c" stroke-width="0.85"/>
<path d="M624.59,51.31L626.84,47.26L622.34,47.26Z" fill="none" stroke="#5cc45c" stroke-width="0.85"/>
<path d="M631.53,49.96L633.78,45.91L629.28,45.91Z" fill="none" stroke="#5cc45c" stroke-width="0.85"/>
<path d="M638.48,48.67L640.73,44.62L636.23,44.62Z" fill="none" stroke="#5cc45c" stroke-width="0.85"/>
<path d="M645.42,47.44L647.67,43.39L643.17,43.39Z" fill="none" stroke="#5cc45c" stroke-width="0.85"/>
<path d="M652.37,46.26L654.62,42.21L650.12,42.21Z" fill="none" stroke="#5cc45c" stroke-width="0.85"/>
<path d="M659.31,45.13L661.56,41.08L657.06,41.08Z" fill="none" stroke="#5cc45c" stroke-width="0.85"/>
<path d="M666.26,44.05L668.51,40.00L664.01,40.00Z" fill="none" stroke="#5cc45c" stroke-width="0.85"/>
<path d="M673.20,43.04L675.45,38.99L670.95,38.99Z" fill="none" stroke="#5cc45c" stroke-width="0.85"/>
<path d="M395.4,182.8L396.79,182.8L398.18,182.8L399.57,182.8L400.96,182.8L402.34,182.8L403.73,182.8L405.12,182.8L406.51,182.8L407.9,182.8L409.29,182.8L410.68,182.8L412.07,182.8L413.46,182.8L414.85,182.8L416.24,182.8L417.62,182.8L419.01,182.8L420.4,182.8L421.79,182.8L423.18,182.8L424.57,182.8L425.96,182.8L427.35,182.8L428.74,182.8L430.12,182.8L431.51,182.8L432.9,182.8L434.29,182.8L435.68,182.8L437.07,182.8L438.46,182.8L439.85,182.8L441.24,182.8L442.63,182.8L444.01,182.8L445.4,182.8L446.79,182.8L448.18,182.8L449.57,182.8L450.96,182.8L452.35,182.8L453.74,182.8L455.13,182.8L456.52,182.8L457.9,182.8L459.29,182.8L460.68,182.8L462.07,182.8L463.46,182.8L464.85,182.8L466.24,182.8L467.63,182.8L469.02,182.8L470.41,182.8L471.8,182.8L473.18,181.82L474.57,179.35L475.96,176.11L477.35,172.79L478.74,170.01L480.13,167.29L481.52,164.53L482.91,161.79L484.3,159.17L485.69,156.75L487.07,154.58L488.46,152.58L489.85,150.64L491.24,148.62L492.63,146.42L494.02,143.91L495.41,141.18L496.8,138.35L498.19,135.55L499.57,132.92L500.96,130.45L502.35,128.06L503.74,125.73L505.13,123.44L506.52,121.18L507.91,118.92L509.3,116.66L510.69,114.46L512.08,112.33L513.47,110.33L514.85,108.41L516.24,106.52L517.63,104.67L519.02,102.86L520.41,101.11L521.8,99.41L523.19,97.78L524.58,96.21L525.97,94.72L527.36,93.31L528.74,91.97L530.13,90.69L531.52,89.47L532.91,88.29L534.3,87.15L535.69,86.05L537.08,84.97L538.47,83.92L539.86,82.89L541.25,81.86L542.63,80.87L544.02,79.93L545.41,79.01L546.8,78.09L548.19,77.17L549.58,76.22L550.97,75.25L552.36,74.29L553.75,73.36L555.13,72.47L556.52,71.63L557.91,70.79L559.3,69.97L560.69,69.16L562.08,68.38L563.47,67.61L564.86,66.87L566.25,66.17L567.64,65.49L569.03,64.85L570.41,64.23L571.8,63.65L573.19,63.08L574.58,62.53L575.97,62L577.36,61.49L578.75,60.99L580.14,60.51L581.53,60.03L582.92,59.56L584.3,59.11L585.69,58.66L587.08,58.22L588.47,57.8L589.86,57.38L591.25,56.97L592.64,56.58L594.03,56.19L595.42,55.82L596.81,55.46L598.19,55.1L599.58,54.75L600.97,54.41L602.36,54.08L603.75,53.75L605.14,53.43L606.53,53.12L607.92,52.81L609.31,52.5L610.7,52.2L612.08,51.9L613.47,51.61L614.86,51.33L616.25,51.04L617.64,50.76L619.03,50.48L620.42,50.21L621.81,49.94L623.2,49.67L624.59,49.41L625.97,49.15L627.36,48.89L628.75,48.63L630.14,48.38L631.53,48.13L632.92,47.89L634.31,47.64L635.7,47.4L637.09,47.16L638.48,46.92L639.86,46.69L641.25,46.46L642.64,46.23L644.03,46L645.42,45.77L646.81,45.55L648.2,45.33L649.59,45.11L650.98,44.89L652.37,44.67L653.75,44.45L655.14,44.24L656.53,44.03L657.92,43.82L659.31,43.61L660.7,43.41L662.09,43.21L663.48,43.01L664.87,42.81L666.26,42.61L667.64,42.42L669.03,42.23L670.42,42.04L671.81,41.85L673.2,41.67" fill="none" stroke="#9b59b6" stroke-width="1.3"/>
<rect x="393.49" y="180.89" width="3.82" height="3.82" fill="none" stroke="#9b59b6" stroke-width="0.85"/>
<rect x="400.43" y="180.89" width="3.82" height="3.82" fill="none" stroke="#9b59b6" stroke-width="0.85"/>
<rect x="407.38" y="180.89" width="3.82" height="3.82" fill="none" stroke="#9b59b6" stroke-width="0.85"/>
<rect x="414.32" y="180.89" width="3.82" height="3.82" fill="none" stroke="#9b59b6" stroke-width="0.85"/>
<rect x="421.27" y="180.89" width="3.82" height="3.82" fill="none" stroke="#9b59b6" stroke-width="0.85"/>
<rect x="428.21" y="180.89" width="3.82" height="3.82" fill="none" stroke="#9b59b6" stroke-width="0.85"/>
<rect x="435.16" y="180.89" width="3.82" height="3.82" fill="none" stroke="#9b59b6" stroke-width="0.85"/>
<rect x="442.10" y="180.89" width="3.82" height="3.82" fill="none" stroke="#9b59b6" stroke-width="0.85"/>
<rect x="449.05" y="180.89" width="3.82" height="3.82" fill="none" stroke="#9b59b6" stroke-width="0.85"/>
<rect x="455.99" y="180.89" width="3.82" height="3.82" fill="none" stroke="#9b59b6" stroke-width="0.85"/>
<rect x="462.94" y="180.89" width="3.82" height="3.82" fill="none" stroke="#9b59b6" stroke-width="0.85"/>
<rect x="469.88" y="180.89" width="3.82" height="3.82" fill="none" stroke="#9b59b6" stroke-width="0.85"/>
<rect x="476.83" y="168.10" width="3.82" height="3.82" fill="none" stroke="#9b59b6" stroke-width="0.85"/>
<rect x="483.77" y="154.84" width="3.82" height="3.82" fill="none" stroke="#9b59b6" stroke-width="0.85"/>
<rect x="490.72" y="144.50" width="3.82" height="3.82" fill="none" stroke="#9b59b6" stroke-width="0.85"/>
<rect x="497.66" y="131.01" width="3.82" height="3.82" fill="none" stroke="#9b59b6" stroke-width="0.85"/>
<rect x="504.61" y="119.27" width="3.82" height="3.82" fill="none" stroke="#9b59b6" stroke-width="0.85"/>
<rect x="511.55" y="108.41" width="3.82" height="3.82" fill="none" stroke="#9b59b6" stroke-width="0.85"/>
<rect x="518.50" y="99.20" width="3.82" height="3.82" fill="none" stroke="#9b59b6" stroke-width="0.85"/>
<rect x="525.44" y="91.39" width="3.82" height="3.82" fill="none" stroke="#9b59b6" stroke-width="0.85"/>
<rect x="532.39" y="85.24" width="3.82" height="3.82" fill="none" stroke="#9b59b6" stroke-width="0.85"/>
<rect x="539.33" y="79.95" width="3.82" height="3.82" fill="none" stroke="#9b59b6" stroke-width="0.85"/>
<rect x="546.28" y="75.26" width="3.82" height="3.82" fill="none" stroke="#9b59b6" stroke-width="0.85"/>
<rect x="553.22" y="70.56" width="3.82" height="3.82" fill="none" stroke="#9b59b6" stroke-width="0.85"/>
<rect x="560.17" y="66.46" width="3.82" height="3.82" fill="none" stroke="#9b59b6" stroke-width="0.85"/>
<rect x="567.11" y="62.93" width="3.82" height="3.82" fill="none" stroke="#9b59b6" stroke-width="0.85"/>
<rect x="574.06" y="60.09" width="3.82" height="3.82" fill="none" stroke="#9b59b6" stroke-width="0.85"/>
<rect x="581.00" y="57.65" width="3.82" height="3.82" fill="none" stroke="#9b59b6" stroke-width="0.85"/>
<rect x="587.95" y="55.47" width="3.82" height="3.82" fill="none" stroke="#9b59b6" stroke-width="0.85"/>
<rect x="594.89" y="53.54" width="3.82" height="3.82" fill="none" stroke="#9b59b6" stroke-width="0.85"/>
<rect x="601.84" y="51.84" width="3.82" height="3.82" fill="none" stroke="#9b59b6" stroke-width="0.85"/>
<rect x="608.78" y="50.29" width="3.82" height="3.82" fill="none" stroke="#9b59b6" stroke-width="0.85"/>
<rect x="615.73" y="48.85" width="3.82" height="3.82" fill="none" stroke="#9b59b6" stroke-width="0.85"/>
<rect x="622.67" y="47.50" width="3.82" height="3.82" fill="none" stroke="#9b59b6" stroke-width="0.85"/>
<rect x="629.62" y="46.22" width="3.82" height="3.82" fill="none" stroke="#9b59b6" stroke-width="0.85"/>
<rect x="636.56" y="45.01" width="3.82" height="3.82" fill="none" stroke="#9b59b6" stroke-width="0.85"/>
<rect x="643.51" y="43.86" width="3.82" height="3.82" fill="none" stroke="#9b59b6" stroke-width="0.85"/>
<rect x="650.45" y="42.76" width="3.82" height="3.82" fill="none" stroke="#9b59b6" stroke-width="0.85"/>
<rect x="657.40" y="41.70" width="3.82" height="3.82" fill="none" stroke="#9b59b6" stroke-width="0.85"/>
<rect x="664.34" y="40.70" width="3.82" height="3.82" fill="none" stroke="#9b59b6" stroke-width="0.85"/>
<rect x="671.29" y="39.75" width="3.82" height="3.82" fill="none" stroke="#9b59b6" stroke-width="0.85"/>
<path d="M395.4,182.8L396.79,182.8L398.18,182.8L399.57,182.8L400.96,182.8L402.34,182.8L403.73,182.8L405.12,182.8L406.51,182.8L407.9,182.8L409.29,182.8L410.68,182.8L412.07,182.8L413.46,182.8L414.85,182.8L416.24,182.8L417.62,182.8L419.01,182.8L420.4,182.8L421.79,182.8L423.18,182.8L424.57,182.8L425.96,182.8L427.35,182.8L428.74,182.8L430.12,182.8L431.51,182.8L432.9,182.8L434.29,182.8L435.68,182.8L437.07,182.8L438.46,182.8L439.85,182.8L441.24,182.8L442.63,182.8L444.01,182.8L445.4,182.8L446.79,182.8L448.18,182.8L449.57,182.8L450.96,182.8L452.35,182.8L453.74,182.8L455.13,182.8L456.52,182.8L457.9,182.8L459.29,182.8L460.68,182.8L462.07,182.8L463.46,182.8L464.85,182.8L466.24,182L467.63,179.92L469.02,177.07L470.41,173.95L471.8,171.06L473.18,168.33L474.57,165.4L475.96,162.37L477.35,159.34L478.74,156.39L480.13,153.56L481.52,150.77L482.91,147.99L484.3,145.19L485.69,142.31L487.07,139.29L488.46,136.17L489.85,133.03L491.24,129.96L492.63,127.05L494.02,124.32L495.41,121.7L496.8,119.16L498.19,116.65L499.57,114.14L500.96,111.6L502.35,109.04L503.74,106.53L505.13,104.11L506.52,101.82L507.91,99.63L509.3,97.52L510.69,95.49L512.08,93.59L513.47,91.84L514.85,90.2L516.24,88.61L517.63,87.08L519.02,85.6L520.41,84.18L521.8,82.82L523.19,81.53L524.58,80.3L525.97,79.14L527.36,78.05L528.74,77.02L530.13,76.05L531.52,75.13L532.91,74.24L534.3,73.4L535.69,72.58L537.08,71.79L538.47,71.03L539.86,70.28L541.25,69.54L542.63,68.82L544.02,68.11L545.41,67.42L546.8,66.75L548.19,66.1L549.58,65.46L550.97,64.84L552.36,64.24L553.75,63.66L555.13,63.09L556.52,62.53L557.91,61.98L559.3,61.45L560.69,60.93L562.08,60.43L563.47,59.94L564.86,59.46L566.25,58.99L567.64,58.54L569.03,58.1L570.41,57.67L571.8,57.26L573.19,56.87L574.58,56.48L575.97,56.11L577.36,55.74L578.75,55.37L580.14,55.01L581.53,54.65L582.92,54.28L584.3,53.92L585.69,53.55L587.08,53.19L588.47,52.82L589.86,52.47L591.25,52.11L592.64,51.76L594.03,51.42L595.42,51.09L596.81,50.76L598.19,50.44L599.58,50.13L600.97,49.82L602.36,49.51L603.75,49.21L605.14,48.92L606.53,48.62L607.92,48.33L609.31,48.05L610.7,47.76L612.08,47.48L613.47,47.2L614.86,46.92L616.25,46.64L617.64,46.36L619.03,46.08L620.42,45.81L621.81,45.53L623.2,45.26L624.59,44.98L625.97,44.71L627.36,44.44L628.75,44.18L630.14,43.91L631.53,43.64L632.92,43.38L634.31,43.12L635.7,42.86L637.09,42.6L638.48,42.34L639.86,42.09L641.25,41.83L642.64,41.58L644.03,41.33L645.42,41.08L646.81,40.83L648.2,40.58L649.59,40.34L650.98,40.1L652.37,39.85L653.75,39.61L655.14,39.37L656.53,39.13L657.92,38.9L659.31,38.66L660.7,38.43L662.09,38.19L663.48,37.96L664.87,37.73L666.26,37.5L667.64,37.28L669.03,37.05L670.42,36.83L671.81,36.6L673.2,36.38" fill="none" stroke="#ff7f0e" stroke-width="1.3"/>
<path d="M393.60,181.00L397.20,184.60M393.60,184.60L397.20,181.00" stroke="#ff7f0e" stroke-width="0.85"/>
<path d="M400.54,181.00L404.14,184.60M400.54,184.60L404.14,181.00" stroke="#ff7f0e" stroke-width="0.85"/>
<path d="M407.49,181.00L411.09,184.60M407.49,184.60L411.09,181.00" stroke="#ff7f0e" stroke-width="0.85"/>
<path d="M414.44,181.00L418.04,184.60M414.44,184.60L418.04,181.00" stroke="#ff7f0e" stroke-width="0.85"/>
<path d="M421.38,181.00L424.98,184.60M421.38,184.60L424.98,181.00" stroke="#ff7f0e" stroke-width="0.85"/>
<path d="M428.32,181.00L431.93,184.60M428.32,184.60L431.93,181.00" stroke="#ff7f0e" stroke-width="0.85"/>
<path d="M435.27,181.00L438.87,184.60M435.27,184.60L438.87,181.00" stroke="#ff7f0e" stroke-width="0.85"/>
<path d="M442.21,181.00L445.81,184.60M442.21,184.60L445.81,181.00" stroke="#ff7f0e" stroke-width="0.85"/>
<path d="M449.16,181.00L452.76,184.60M449.16,184.60L452.76,181.00" stroke="#ff7f0e" stroke-width="0.85"/>
<path d="M456.10,181.00L459.70,184.60M456.10,184.60L459.70,181.00" stroke="#ff7f0e" stroke-width="0.85"/>
<path d="M463.05,181.00L466.65,184.60M463.05,184.60L466.65,181.00" stroke="#ff7f0e" stroke-width="0.85"/>
<path d="M470.00,169.26L473.60,172.86M470.00,172.86L473.60,169.26" stroke="#ff7f0e" stroke-width="0.85"/>
<path d="M476.94,154.59L480.54,158.19M476.94,158.19L480.54,154.59" stroke="#ff7f0e" stroke-width="0.85"/>
<path d="M483.88,140.51L487.49,144.11M483.88,144.11L487.49,140.51" stroke="#ff7f0e" stroke-width="0.85"/>
<path d="M490.83,125.25L494.43,128.85M490.83,128.85L494.43,125.25" stroke="#ff7f0e" stroke-width="0.85"/>
<path d="M497.77,112.34L501.38,115.94M497.77,115.94L501.38,112.34" stroke="#ff7f0e" stroke-width="0.85"/>
<path d="M504.72,100.02L508.32,103.62M504.72,103.62L508.32,100.02" stroke="#ff7f0e" stroke-width="0.85"/>
<path d="M511.67,90.04L515.26,93.64M511.67,93.64L515.26,90.04" stroke="#ff7f0e" stroke-width="0.85"/>
<path d="M518.61,82.38L522.21,85.98M518.61,85.98L522.21,82.38" stroke="#ff7f0e" stroke-width="0.85"/>
<path d="M525.56,76.25L529.15,79.85M525.56,79.85L529.15,76.25" stroke="#ff7f0e" stroke-width="0.85"/>
<path d="M532.50,71.60L536.10,75.20M532.50,75.20L536.10,71.60" stroke="#ff7f0e" stroke-width="0.85"/>
<path d="M539.45,67.74L543.04,71.34M539.45,71.34L543.04,67.74" stroke="#ff7f0e" stroke-width="0.85"/>
<path d="M546.39,64.30L549.99,67.90M546.39,67.90L549.99,64.30" stroke="#ff7f0e" stroke-width="0.85"/>
<path d="M553.34,61.29L556.93,64.89M553.34,64.89L556.93,61.29" stroke="#ff7f0e" stroke-width="0.85"/>
<path d="M560.28,58.63L563.88,62.23M560.28,62.23L563.88,58.63" stroke="#ff7f0e" stroke-width="0.85"/>
<path d="M567.23,56.30L570.83,59.90M567.23,59.90L570.83,56.30" stroke="#ff7f0e" stroke-width="0.85"/>
<path d="M574.17,54.31L577.77,57.91M574.17,57.91L577.77,54.31" stroke="#ff7f0e" stroke-width="0.85"/>
<path d="M581.12,52.48L584.72,56.08M581.12,56.08L584.72,52.48" stroke="#ff7f0e" stroke-width="0.85"/>
<path d="M588.06,50.67L591.66,54.27M588.06,54.27L591.66,50.67" stroke="#ff7f0e" stroke-width="0.85"/>
<path d="M595.01,48.96L598.61,52.56M595.01,52.56L598.61,48.96" stroke="#ff7f0e" stroke-width="0.85"/>
<path d="M601.95,47.41L605.55,51.01M601.95,51.01L605.55,47.41" stroke="#ff7f0e" stroke-width="0.85"/>
<path d="M608.90,45.96L612.50,49.56M608.90,49.56L612.50,45.96" stroke="#ff7f0e" stroke-width="0.85"/>
<path d="M615.84,44.56L619.44,48.16M615.84,48.16L619.44,44.56" stroke="#ff7f0e" stroke-width="0.85"/>
<path d="M622.79,43.18L626.38,46.78M622.79,46.78L626.38,43.18" stroke="#ff7f0e" stroke-width="0.85"/>
<path d="M629.73,41.84L633.33,45.44M629.73,45.44L633.33,41.84" stroke="#ff7f0e" stroke-width="0.85"/>
<path d="M636.68,40.54L640.27,44.14M636.68,44.14L640.27,40.54" stroke="#ff7f0e" stroke-width="0.85"/>
<path d="M643.62,39.28L647.22,42.88M643.62,42.88L647.22,39.28" stroke="#ff7f0e" stroke-width="0.85"/>
<path d="M650.57,38.05L654.16,41.65M650.57,41.65L654.16,38.05" stroke="#ff7f0e" stroke-width="0.85"/>
<path d="M657.51,36.86L661.11,40.46M657.51,40.46L661.11,36.86" stroke="#ff7f0e" stroke-width="0.85"/>
<path d="M664.46,35.70L668.06,39.30M664.46,39.30L668.06,35.70" stroke="#ff7f0e" stroke-width="0.85"/>
<path d="M671.40,34.58L675.00,38.18M671.40,38.18L675.00,34.58" stroke="#ff7f0e" stroke-width="0.85"/>
<path d="M395.4,182.8L396.79,182.8L398.18,182.8L399.57,182.8L400.96,182.8L402.34,182.8L403.73,182.8L405.12,182.8L406.51,182.8L407.9,182.8L409.29,182.8L410.68,182.8L412.07,182.8L413.46,182.8L414.85,182.8L416.24,182.8L417.62,182.8L419.01,182.8L420.4,182.8L421.79,182.8L423.18,182.8L424.57,182.8L425.96,182.8L427.35,182.8L428.74,182.8L430.12,182.8L431.51,182.8L432.9,182.8L434.29,182.8L435.68,182.8L437.07,182.8L438.46,182.8L439.85,182.8L441.24,182.8L442.63,182.8L444.01,182.8L445.4,182.8L446.79,182.8L448.18,182.8L449.57,182.8L450.96,182.8L452.35,182.8L453.74,182.8L455.13,182.8L456.52,182.8L457.9,182.8L459.29,182.8L460.68,182.8L462.07,182.8L463.46,182.8L464.85,182.8L466.24,182.8L467.63,182.8L469.02,182.8L470.41,182.8L471.8,182.8L473.18,182.8L474.57,182.8L475.96,182.8L477.35,182.8L478.74,182.8L480.13,182.8L481.52,182.8L482.91,182.8L484.3,182.8L485.69,182.8L487.07,182.28L488.46,180.89L489.85,178.88L491.24,176.5L492.63,174L494.02,170.92L495.41,166.9L496.8,162.33L498.19,157.62L499.57,153.16L500.96,148.89L502.35,144.53L503.74,140.2L505.13,136L506.52,132.04L507.91,128.32L509.3,124.76L510.69,121.33L512.08,117.99L513.47,114.73L514.85,111.5L516.24,108.33L517.63,105.25L519.02,102.28L520.41,99.47L521.8,96.79L523.19,94.23L524.58,91.76L525.97,89.4L527.36,87.15L528.74,84.94L530.13,82.78L531.52,80.73L532.91,78.84L534.3,77.17L535.69,75.74L537.08,74.46L538.47,73.29L539.86,72.15L541.25,70.99L542.63,69.74L544.02,68.38L545.41,66.99L546.8,65.68L548.19,64.55L549.58,63.59L550.97,62.69L552.36,61.85L553.75,61.05L555.13,60.3L556.52,59.58L557.91,58.89L559.3,58.22L560.69,57.57L562.08,56.92L563.47,56.29L564.86,55.68L566.25,55.08L567.64,54.51L569.03,53.95L570.41,53.4L571.8,52.87L573.19,52.35L574.58,51.84L575.97,51.35L577.36,50.86L578.75,50.39L580.14,49.92L581.53,49.47L582.92,49.02L584.3,48.59L585.69,48.16L587.08,47.75L588.47,47.34L589.86,46.95L591.25,46.56L592.64,46.19L594.03,45.83L595.42,45.48L596.81,45.14L598.19,44.8L599.58,44.46L600.97,44.12L602.36,43.77L603.75,43.43L605.14,43.07L606.53,42.7L607.92,42.32L609.31,41.95L610.7,41.57L612.08,41.21L613.47,40.85L614.86,40.51L616.25,40.2L617.64,39.91L619.03,39.63L620.42,39.37L621.81,39.11L623.2,38.86L624.59,38.62L625.97,38.38L627.36,38.15L628.75,37.93L630.14,37.71L631.53,37.5L632.92,37.29L634.31,37.08L635.7,36.88L637.09,36.68L638.48,36.48L639.86,36.28L641.25,36.09L642.64,35.89L644.03,35.7L645.42,35.5L646.81,35.31L648.2,35.12L649.59,34.92L650.98,34.74L652.37,34.55L653.75,34.36L655.14,34.18L656.53,34L657.92,33.82L659.31,33.64L660.7,33.46L662.09,33.29L663.48,33.12L664.87,32.95L666.26,32.78L667.64,32.62L669.03,32.46L670.42,32.3L671.81,32.14L673.2,31.98" fill="none" stroke="#7f7f7f" stroke-width="1.3"/>
<circle cx="395.40" cy="182.80" r="2.25" fill="#7f7f7f" stroke="none"/>
<circle cx="402.34" cy="182.80" r="2.25" fill="#7f7f7f" stroke="none"/>
<circle cx="409.29" cy="182.80" r="2.25" fill="#7f7f7f" stroke="none"/>
<circle cx="416.24" cy="182.80" r="2.25" fill="#7f7f7f" stroke="none"/>
<circle cx="423.18" cy="182.80" r="2.25" fill="#7f7f7f" stroke="none"/>
<circle cx="430.12" cy="182.80" r="2.25" fill="#7f7f7f" stroke="none"/>
<circle cx="437.07" cy="182.80" r="2.25" fill="#7f7f7f" stroke="none"/>
<circle cx="444.01" cy="182.80" r="2.25" fill="#7f7f7f" stroke="none"/>
<circle cx="450.96" cy="182.80" r="2.25" fill="#7f7f7f" stroke="none"/>
<circle cx="457.90" cy="182.80" r="2.25" fill="#7f7f7f" stroke="none"/>
<circle cx="464.85" cy="182.80" r="2.25" fill="#7f7f7f" stroke="none"/>
<circle cx="471.80" cy="182.80" r="2.25" fill="#7f7f7f" stroke="none"/>
<circle cx="478.74" cy="182.80" r="2.25" fill="#7f7f7f" stroke="none"/>
<circle cx="485.69" cy="182.80" r="2.25" fill="#7f7f7f" stroke="none"/>
<circle cx="492.63" cy="174.00" r="2.25" fill="#7f7f7f" stroke="none"/>
<circle cx="499.57" cy="153.16" r="2.25" fill="#7f7f7f" stroke="none"/>
<circle cx="506.52" cy="132.04" r="2.25" fill="#7f7f7f" stroke="none"/>
<circle cx="513.47" cy="114.73" r="2.25" fill="#7f7f7f" stroke="none"/>
<circle cx="520.41" cy="99.47" r="2.25" fill="#7f7f7f" stroke="none"/>
<circle cx="527.36" cy="87.15" r="2.25" fill="#7f7f7f" stroke="none"/>
<circle cx="534.30" cy="77.17" r="2.25" fill="#7f7f7f" stroke="none"/>
<circle cx="541.25" cy="70.99" r="2.25" fill="#7f7f7f" stroke="none"/>
<circle cx="548.19" cy="64.55" r="2.25" fill="#7f7f7f" stroke="none"/>
<circle cx="555.13" cy="60.30" r="2.25" fill="#7f7f7f" stroke="none"/>
<circle cx="562.08" cy="56.92" r="2.25" fill="#7f7f7f" stroke="none"/>
<circle cx="569.03" cy="53.95" r="2.25" fill="#7f7f7f" stroke="none"/>
<circle cx="575.97" cy="51.35" r="2.25" fill="#7f7f7f" stroke="none"/>
<circle cx="582.92" cy="49.02" r="2.25" fill="#7f7f7f" stroke="none"/>
<circle cx="589.86" cy="46.95" r="2.25" fill="#7f7f7f" stroke="none"/>
<circle cx="596.81" cy="45.14" r="2.25" fill="#7f7f7f" stroke="none"/>
<circle cx="603.75" cy="43.43" r="2.25" fill="#7f7f7f" stroke="none"/>
<circle cx="610.70" cy="41.57" r="2.25" fill="#7f7f7f" stroke="none"/>
<circle cx="617.64" cy="39.91" r="2.25" fill="#7f7f7f" stroke="none"/>
<circle cx="624.59" cy="38.62" r="2.25" fill="#7f7f7f" stroke="none"/>
<circle cx="631.53" cy="37.50" r="2.25" fill="#7f7f7f" stroke="none"/>
<circle cx="638.48" cy="36.48" r="2.25" fill="#7f7f7f" stroke="none"/>
<circle cx="645.42" cy="35.50" r="2.25" fill="#7f7f7f" stroke="none"/>
<circle cx="652.37" cy="34.55" r="2.25" fill="#7f7f7f" stroke="none"/>
<circle cx="659.31" cy="33.64" r="2.25" fill="#7f7f7f" stroke="none"/>
<circle cx="666.26" cy="32.78" r="2.25" fill="#7f7f7f" stroke="none"/>
<circle cx="673.20" cy="31.98" r="2.25" fill="#7f7f7f" stroke="none"/>
<path d="M395.4,182.8L396.79,182.8L398.18,182.8L399.57,182.8L400.96,182.8L402.34,182.8L403.73,182.8L405.12,182.8L406.51,182.8L407.9,182.8L409.29,182.8L410.68,182.8L412.07,182.8L413.46,182.8L414.85,182.8L416.24,182.8L417.62,182.8L419.01,182.8L420.4,182.8L421.79,182.8L423.18,182.8L424.57,182.8L425.96,182.8L427.35,182.8L428.74,182.8L430.12,182.8L431.51,182.8L432.9,182.8L434.29,182.8L435.68,182.8L437.07,182.8L438.46,182.8L439.85,182.8L441.24,182.8L442.63,182.8L444.01,182.8L445.4,182.8L446.79,182.8L448.18,182.8L449.57,182.8L450.96,182.8L452.35,182.8L453.74,182.8L455.13,182.8L456.52,182.8L457.9,182.8L459.29,182.8L460.68,182.8L462.07,182.8L463.46,182.8L464.85,182.8L466.24,182.8L467.63,182.8L469.02,182.8L470.41,182.8L471.8,182.8L473.18,182.66L474.57,182.25L475.96,181.63L477.35,180.82L478.74,179.87L480.13,177.84L481.52,174.23L482.91,169.63L484.3,164.69L485.69,160L487.07,155.88L488.46,151.73L489.85,147.56L491.24,143.43L492.63,139.37L494.02,135.41L495.41,131.51L496.8,127.65L498.19,123.82L499.57,120.01L500.96,116.07L502.35,112.02L503.74,108.06L505.13,104.39L506.52,101.23L507.91,98.57L509.3,96.21L510.69,94.03L512.08,91.93L513.47,89.79L514.85,87.58L516.24,85.37L517.63,83.22L519.02,81.15L520.41,79.22L521.8,77.41L523.19,75.68L524.58,74.03L525.97,72.47L527.36,71.01L528.74,69.64L530.13,68.34L531.52,67.11L532.91,65.94L534.3,64.85L535.69,63.81L537.08,62.83L538.47,61.9L539.86,61.01L541.25,60.15L542.63,59.32L544.02,58.53L545.41,57.76L546.8,57.03L548.19,56.34L549.58,55.67L550.97,55.03L552.36,54.41L553.75,53.8L555.13,53.21L556.52,52.64L557.91,52.08L559.3,51.53L560.69,50.99L562.08,50.47L563.47,49.95L564.86,49.45L566.25,48.96L567.64,48.49L569.03,48.02L570.41,47.56L571.8,47.1L573.19,46.66L574.58,46.21L575.97,45.77L577.36,45.33L578.75,44.89L580.14,44.44L581.53,44.01L582.92,43.57L584.3,43.15L585.69,42.75L587.08,42.36L588.47,42L589.86,41.67L591.25,41.35L592.64,41.06L594.03,40.79L595.42,40.53L596.81,40.27L598.19,40.03L599.58,39.78L600.97,39.53L602.36,39.28L603.75,39.02L605.14,38.76L606.53,38.48L607.92,38.21L609.31,37.93L610.7,37.66L612.08,37.38L613.47,37.12L614.86,36.86L616.25,36.62L617.64,36.38L619.03,36.16L620.42,35.94L621.81,35.73L623.2,35.52L624.59,35.32L625.97,35.12L627.36,34.92L628.75,34.73L630.14,34.54L631.53,34.35L632.92,34.17L634.31,33.98L635.7,33.8L637.09,33.62L638.48,33.45L639.86,33.27L641.25,33.09L642.64,32.92L644.03,32.74L645.42,32.57L646.81,32.4L648.2,32.22L649.59,32.05L650.98,31.88L652.37,31.71L653.75,31.54L655.14,31.38L656.53,31.21L657.92,31.05L659.31,30.89L660.7,30.72L662.09,30.56L663.48,30.41L664.87,30.25L666.26,30.1L667.64,29.94L669.03,29.79L670.42,29.64L671.81,29.49L673.2,29.34" fill="none" stroke="#dc6fa3" stroke-width="1.3"/>
<circle cx="395.40" cy="182.80" r="2.25" fill="#dc6fa3" stroke="none"/>
<circle cx="402.34" cy="182.80" r="2.25" fill="#dc6fa3" stroke="none"/>
<circle cx="409.29" cy="182.80" r="2.25" fill="#dc6fa3" stroke="none"/>
<circle cx="416.24" cy="182.80" r="2.25" fill="#dc6fa3" stroke="none"/>
<circle cx="423.18" cy="182.80" r="2.25" fill="#dc6fa3" stroke="none"/>
<circle cx="430.12" cy="182.80" r="2.25" fill="#dc6fa3" stroke="none"/>
<circle cx="437.07" cy="182.80" r="2.25" fill="#dc6fa3" stroke="none"/>
<circle cx="444.01" cy="182.80" r="2.25" fill="#dc6fa3" stroke="none"/>
<circle cx="450.96" cy="182.80" r="2.25" fill="#dc6fa3" stroke="none"/>
<circle cx="457.90" cy="182.80" r="2.25" fill="#dc6fa3" stroke="none"/>
<circle cx="464.85" cy="182.80" r="2.25" fill="#dc6fa3" stroke="none"/>
<circle cx="471.80" cy="182.80" r="2.25" fill="#dc6fa3" stroke="none"/>
<circle cx="478.74" cy="179.87" r="2.25" fill="#dc6fa3" stroke="none"/>
<circle cx="485.69" cy="160.00" r="2.25" fill="#dc6fa3" stroke="none"/>
<circle cx="492.63" cy="139.37" r="2.25" fill="#dc6fa3" stroke="none"/>
<circle cx="499.57" cy="120.01" r="2.25" fill="#dc6fa3" stroke="none"/>
<circle cx="506.52" cy="101.23" r="2.25" fill="#dc6fa3" stroke="none"/>
<circle cx="513.47" cy="89.79" r="2.25" fill="#dc6fa3" stroke="none"/>
<circle cx="520.41" cy="79.22" r="2.25" fill="#dc6fa3" stroke="none"/>
<circle cx="527.36" cy="71.01" r="2.25" fill="#dc6fa3" stroke="none"/>
<circle cx="534.30" cy="64.85" r="2.25" fill="#dc6fa3" stroke="none"/>
<circle cx="541.25" cy="60.15" r="2.25" fill="#dc6fa3" stroke="none"/>
<circle cx="548.19" cy="56.34" r="2.25" fill="#dc6fa3" stroke="none"/>
<circle cx="555.13" cy="53.21" r="2.25" fill="#dc6fa3" stroke="none"/>
<circle cx="562.08" cy="50.47" r="2.25" fill="#dc6fa3" stroke="none"/>
<circle cx="569.03" cy="48.02" r="2.25" fill="#dc6fa3" stroke="none"/>
<circle cx="575.97" cy="45.77" r="2.25" fill="#dc6fa3" stroke="none"/>
<circle cx="582.92" cy="43.57" r="2.25" fill="#dc6fa3" stroke="none"/>
<circle cx="589.86" cy="41.67" r="2.25" fill="#dc6fa3" stroke="none"/>
<circle cx="596.81" cy="40.27" r="2.25" fill="#dc6fa3" stroke="none"/>
<circle cx="603.75" cy="39.02" r="2.25" fill="#dc6fa3" stroke="none"/>
<circle cx="610.70" cy="37.66" r="2.25" fill="#dc6fa3" stroke="none"/>
<circle cx="617.64" cy="36.38" r="2.25" fill="#dc6fa3" stroke="none"/>
<circle cx="624.59" cy="35.32" r="2.25" fill="#dc6fa3" stroke="none"/>
<circle cx="631.53" cy="34.35" r="2.25" fill="#dc6fa3" stroke="none"/>
<circle cx="638.48" cy="33.45" r="2.25" fill="#dc6fa3" stroke="none"/>
<circle cx="645.42" cy="32.57" r="2.25" fill="#dc6fa3" stroke="none"/>
<circle cx="652.37" cy="31.71" r="2.25" fill="#dc6fa3" stroke="none"/>
<circle cx="659.31" cy="30.89" r="2.25" fill="#dc6fa3" stroke="none"/>
<circle cx="666.26" cy="30.10" r="2.25" fill="#dc6fa3" stroke="none"/>
<circle cx="673.20" cy="29.34" r="2.25" fill="#dc6fa3" stroke="none"/>
<path d="M395.4,182.8L396.79,182.8L398.18,182.8L399.57,182.8L400.96,182.8L402.34,182.8L403.73,182.8L405.12,182.8L406.51,182.8L407.9,182.8L409.29,182.8L410.68,182.8L412.07,182.8L413.46,182.8L414.85,182.8L416.24,182.8L417.62,182.8L419.01,182.8L420.4,182.8L421.79,182.8L423.18,182.8L424.57,182.8L425.96,182.8L427.35,182.8L428.74,182.8L430.12,182.8L431.51,182.8L432.9,182.8L434.29,182.8L435.68,182.8L437.07,182.8L438.46,182.8L439.85,182.8L441.24,182.8L442.63,182.8L444.01,182.8L445.4,182.8L446.79,182.8L448.18,182.8L449.57,182.8L450.96,182.8L452.35,182.8L453.74,182.8L455.13,182.8L456.52,182.8L457.9,182.8L459.29,182.8L460.68,182.8L462.07,182.8L463.46,182.8L464.85,182.8L466.24,181.45L467.63,178.01L469.02,173.36L470.41,168.4L471.8,164.02L473.18,160.24L474.57,156.44L475.96,152.64L477.35,148.81L478.74,144.95L480.13,141.02L481.52,137.02L482.91,133L484.3,129.03L485.69,125.17L487.07,121.4L488.46,117.69L489.85,114.05L491.24,110.51L492.63,107.1L494.02,103.75L495.41,100.44L496.8,97.24L498.19,94.25L499.57,91.55L500.96,89.11L502.35,86.86L503.74,84.74L505.13,82.73L506.52,80.78L507.91,78.84L509.3,76.92L510.69,75.06L512.08,73.32L513.47,71.74L514.85,70.35L516.24,69.1L517.63,67.95L519.02,66.85L520.41,65.76L521.8,64.67L523.19,63.62L524.58,62.59L525.97,61.58L527.36,60.56L528.74,59.52L530.13,58.44L531.52,57.36L532.91,56.35L534.3,55.46L535.69,54.67L537.08,53.94L538.47,53.26L539.86,52.62L541.25,52.03L542.63,51.48L544.02,50.96L545.41,50.46L546.8,49.99L548.19,49.53L549.58,49.1L550.97,48.67L552.36,48.26L553.75,47.87L555.13,47.47L556.52,47.09L557.91,46.71L559.3,46.34L560.69,45.99L562.08,45.64L563.47,45.31L564.86,44.97L566.25,44.65L567.64,44.33L569.03,44.01L570.41,43.7L571.8,43.39L573.19,43.08L574.58,42.78L575.97,42.48L577.36,42.18L578.75,41.89L580.14,41.59L581.53,41.3L582.92,41.02L584.3,40.73L585.69,40.45L587.08,40.17L588.47,39.89L589.86,39.62L591.25,39.34L592.64,39.07L594.03,38.8L595.42,38.54L596.81,38.27L598.19,38.01L599.58,37.75L600.97,37.49L602.36,37.23L603.75,36.97L605.14,36.72L606.53,36.46L607.92,36.21L609.31,35.96L610.7,35.71L612.08,35.47L613.47,35.22L614.86,34.98L616.25,34.74L617.64,34.5L619.03,34.26L620.42,34.03L621.81,33.79L623.2,33.56L624.59,33.33L625.97,33.1L627.36,32.87L628.75,32.65L630.14,32.42L631.53,32.2L632.92,31.98L634.31,31.76L635.7,31.54L637.09,31.32L638.48,31.1L639.86,30.89L641.25,30.67L642.64,30.46L644.03,30.25L645.42,30.04L646.81,29.83L648.2,29.62L649.59,29.42L650.98,29.21L652.37,29.01L653.75,28.8L655.14,28.6L656.53,28.4L657.92,28.2L659.31,28.01L660.7,27.81L662.09,27.62L663.48,27.42L664.87,27.23L666.26,27.04L667.64,26.85L669.03,26.67L670.42,26.48L671.81,26.3L673.2,26.11" fill="none" stroke="#0000ff" stroke-width="1.3"/>
<circle cx="395.40" cy="182.80" r="2.25" fill="#0000ff" stroke="none"/>
<circle cx="402.34" cy="182.80" r="2.25" fill="#0000ff" stroke="none"/>
<circle cx="409.29" cy="182.80" r="2.25" fill="#0000ff" stroke="none"/>
<circle cx="416.24" cy="182.80" r="2.25" fill="#0000ff" stroke="none"/>
<circle cx="423.18" cy="182.80" r="2.25" fill="#0000ff" stroke="none"/>
<circle cx="430.12" cy="182.80" r="2.25" fill="#0000ff" stroke="none"/>
<circle cx="437.07" cy="182.80" r="2.25" fill="#0000ff" stroke="none"/>
<circle cx="444.01" cy="182.80" r="2.25" fill="#0000ff" stroke="none"/>
<circle cx="450.96" cy="182.80" r="2.25" fill="#0000ff" stroke="none"/>
<circle cx="457.90" cy="182.80" r="2.25" fill="#0000ff" stroke="none"/>
<circle cx="464.85" cy="182.80" r="2.25" fill="#0000ff" stroke="none"/>
<circle cx="471.80" cy="164.02" r="2.25" fill="#0000ff" stroke="none"/>
<circle cx="478.74" cy="144.95" r="2.25" fill="#0000ff" stroke="none"/>
<circle cx="485.69" cy="125.17" r="2.25" fill="#0000ff" stroke="none"/>
<circle cx="492.63" cy="107.10" r="2.25" fill="#0000ff" stroke="none"/>
<circle cx="499.57" cy="91.55" r="2.25" fill="#0000ff" stroke="none"/>
<circle cx="506.52" cy="80.78" r="2.25" fill="#0000ff" stroke="none"/>
<circle cx="513.47" cy="71.74" r="2.25" fill="#0000ff" stroke="none"/>
<circle cx="520.41" cy="65.76" r="2.25" fill="#0000ff" stroke="none"/>
<circle cx="527.36" cy="60.56" r="2.25" fill="#0000ff" stroke="none"/>
<circle cx="534.30" cy="55.46" r="2.25" fill="#0000ff" stroke="none"/>
<circle cx="541.25" cy="52.03" r="2.25" fill="#0000ff" stroke="none"/>
<circle cx="548.19" cy="49.53" r="2.25" fill="#0000ff" stroke="none"/>
<circle cx="555.13" cy="47.47" r="2.25" fill="#0000ff" stroke="none"/>
<circle cx="562.08" cy="45.64" r="2.25" fill="#0000ff" stroke="none"/>
<circle cx="569.03" cy="44.01" r="2.25" fill="#0000ff" stroke="none"/>
<circle cx="575.97" cy="42.48" r="2.25" fill="#0000ff" stroke="none"/>
<circle cx="582.92" cy="41.02" r="2.25" fill="#0000ff" stroke="none"/>
<circle cx="589.86" cy="39.62" r="2.25" fill="#0000ff" stroke="none"/>
<circle cx="596.81" cy="38.27" r="2.25" fill="#0000ff" stroke="none"/>
<circle cx="603.75" cy="36.97" r="2.25" fill="#0000ff" stroke="none"/>
<circle cx="610.70" cy="35.71" r="2.25" fill="#0000ff" stroke="none"/>
<circle cx="617.64" cy="34.50" r="2.25" fill="#0000ff" stroke="none"/>
<circle cx="624.59" cy="33.33" r="2.25" fill="#0000ff" stroke="none"/>
<circle cx="631.53" cy="32.20" r="2.25" fill="#0000ff" stroke="none"/>
<circle cx="638.48" cy="31.10" r="2.25" fill="#0000ff" stroke="none"/>
<circle cx="645.42" cy="30.04" r="2.25" fill="#0000ff" stroke="none"/>
<circle cx="652.37" cy="29.01" r="2.25" fill="#0000ff" stroke="none"/>
<circle cx="659.31" cy="28.01" r="2.25" fill="#0000ff" stroke="none"/>
<circle cx="666.26" cy="27.04" r="2.25" fill="#0000ff" stroke="none"/>
<circle cx="673.20" cy="26.11" r="2.25" fill="#0000ff" stroke="none"/>
</g>
<rect x="395.4" y="22.3" width="277.8" height="162.7" fill="none" stroke="#111" stroke-width="1.3"/>
<rect x="545.5" y="87.0" width="125" height="94.6" rx="2" fill="#fff" stroke="#111" stroke-width="1.1"/>
<line x1="547.9" y1="92.9" x2="558.7" y2="92.9" stroke="#e41a1c" stroke-width="1.3"/>
<circle cx="553.30" cy="92.90" r="2.00" fill="none" stroke="#e41a1c" stroke-width="0.8"/>
<text x="560.7" y="95.8" font-family="'Liberation Serif', serif" font-size="8.2" fill="#1a1a1a">Chip: D1</text>
<path d="M598.1,93.3H604M602.1,91.8L604.3,93.3L602.1,94.8" fill="none" stroke="#1a1a1a" stroke-width="0.75"/>
<text x="606" y="95.8" font-family="'Liberation Serif', serif" font-size="8.2" fill="#1a1a1a">SS</text>
<text x="617" y="95.8" font-family="'Liberation Serif', serif" font-size="8.2" fill="#1a1a1a">=</text>
<text x="623.8" y="95.8" font-family="'Liberation Serif', serif" font-size="8.2" fill="#1a1a1a" textLength="44.3" lengthAdjust="spacingAndGlyphs">105.4mV/dec</text>
<line x1="547.9" y1="103.29" x2="558.7" y2="103.29" stroke="#ee3a3a" stroke-width="1.3"/>
<path d="M553.30,101.29L555.30,104.89L551.30,104.89Z" fill="none" stroke="#ee3a3a" stroke-width="0.8"/>
<text x="560.7" y="106.19" font-family="'Liberation Serif', serif" font-size="8.2" fill="#1a1a1a">Chip: D9</text>
<path d="M598.1,103.69H604M602.1,102.19L604.3,103.69L602.1,105.19" fill="none" stroke="#1a1a1a" stroke-width="0.75"/>
<text x="606" y="106.19" font-family="'Liberation Serif', serif" font-size="8.2" fill="#1a1a1a">SS</text>
<text x="617" y="106.19" font-family="'Liberation Serif', serif" font-size="8.2" fill="#1a1a1a">=</text>
<text x="623.8" y="106.19" font-family="'Liberation Serif', serif" font-size="8.2" fill="#1a1a1a" textLength="44.3" lengthAdjust="spacingAndGlyphs">103.6mV/dec</text>
<line x1="547.9" y1="113.68" x2="558.7" y2="113.68" stroke="#3a7fc4" stroke-width="1.3"/>
<path d="M553.30,111.68L554.90,113.68L553.30,115.68L551.70,113.68Z" fill="none" stroke="#3a7fc4" stroke-width="0.8"/>
<text x="560.7" y="116.58" font-family="'Liberation Serif', serif" font-size="8.2" fill="#1a1a1a">Chip: E3</text>
<path d="M598.1,114.08H604M602.1,112.58L604.3,114.08L602.1,115.58" fill="none" stroke="#1a1a1a" stroke-width="0.75"/>
<text x="606" y="116.58" font-family="'Liberation Serif', serif" font-size="8.2" fill="#1a1a1a">SS</text>
<text x="617" y="116.58" font-family="'Liberation Serif', serif" font-size="8.2" fill="#1a1a1a">=</text>
<text x="623.8" y="116.58" font-family="'Liberation Serif', serif" font-size="8.2" fill="#1a1a1a" textLength="44.3" lengthAdjust="spacingAndGlyphs">113.4mV/dec</text>
<line x1="547.9" y1="124.07" x2="558.7" y2="124.07" stroke="#5cc45c" stroke-width="1.3"/>
<path d="M553.30,126.07L555.30,122.47L551.30,122.47Z" fill="none" stroke="#5cc45c" stroke-width="0.8"/>
<text x="560.7" y="126.97" font-family="'Liberation Serif', serif" font-size="8.2" fill="#1a1a1a">Chip: E5</text>
<path d="M598.1,124.47H604M602.1,122.97L604.3,124.47L602.1,125.97" fill="none" stroke="#1a1a1a" stroke-width="0.75"/>
<text x="606" y="126.97" font-family="'Liberation Serif', serif" font-size="8.2" fill="#1a1a1a">SS</text>
<text x="617" y="126.97" font-family="'Liberation Serif', serif" font-size="8.2" fill="#1a1a1a">=</text>
<text x="623.8" y="126.97" font-family="'Liberation Serif', serif" font-size="8.2" fill="#1a1a1a" textLength="44.3" lengthAdjust="spacingAndGlyphs">109.0mV/dec</text>
<line x1="547.9" y1="134.46" x2="558.7" y2="134.46" stroke="#9b59b6" stroke-width="1.3"/>
<rect x="551.60" y="132.76" width="3.40" height="3.40" fill="none" stroke="#9b59b6" stroke-width="0.8"/>
<text x="560.7" y="137.36" font-family="'Liberation Serif', serif" font-size="8.2" fill="#1a1a1a">Chip: E6</text>
<path d="M598.1,134.86H604M602.1,133.36L604.3,134.86L602.1,136.36" fill="none" stroke="#1a1a1a" stroke-width="0.75"/>
<text x="606" y="137.36" font-family="'Liberation Serif', serif" font-size="8.2" fill="#1a1a1a">SS</text>
<text x="617" y="137.36" font-family="'Liberation Serif', serif" font-size="8.2" fill="#1a1a1a">=</text>
<text x="623.8" y="137.36" font-family="'Liberation Serif', serif" font-size="8.2" fill="#1a1a1a" textLength="44.3" lengthAdjust="spacingAndGlyphs">115.8mV/dec</text>
<line x1="547.9" y1="144.85" x2="558.7" y2="144.85" stroke="#ff7f0e" stroke-width="1.3"/>
<path d="M551.70,143.25L554.90,146.45M551.70,146.45L554.90,143.25" stroke="#ff7f0e" stroke-width="0.8"/>
<text x="560.7" y="147.75" font-family="'Liberation Serif', serif" font-size="8.2" fill="#1a1a1a">Chip: D8</text>
<path d="M598.1,145.25H604M602.1,143.75L604.3,145.25L602.1,146.75" fill="none" stroke="#1a1a1a" stroke-width="0.75"/>
<text x="606" y="147.75" font-family="'Liberation Serif', serif" font-size="8.2" fill="#1a1a1a">SS</text>
<text x="617" y="147.75" font-family="'Liberation Serif', serif" font-size="8.2" fill="#1a1a1a">=</text>
<text x="623.8" y="147.75" font-family="'Liberation Serif', serif" font-size="8.2" fill="#1a1a1a" textLength="44.3" lengthAdjust="spacingAndGlyphs">106.0mV/dec</text>
<line x1="547.9" y1="155.24" x2="558.7" y2="155.24" stroke="#7f7f7f" stroke-width="1.3"/>
<circle cx="553.30" cy="155.24" r="2.00" fill="#7f7f7f" stroke="none"/>
<text x="560.7" y="158.14" font-family="'Liberation Serif', serif" font-size="8.2" fill="#1a1a1a">Sim: Slow</text>
<path d="M596.2,155.64H602.1M600.2,154.14L602.4,155.64L600.2,157.14" fill="none" stroke="#1a1a1a" stroke-width="0.75"/>
<text x="604.1" y="158.14" font-family="'Liberation Serif', serif" font-size="8.2" fill="#1a1a1a">SS</text>
<text x="615.1" y="158.14" font-family="'Liberation Serif', serif" font-size="8.2" fill="#1a1a1a">=</text>
<text x="621.9" y="158.14" font-family="'Liberation Serif', serif" font-size="8.2" fill="#1a1a1a" textLength="40.2" lengthAdjust="spacingAndGlyphs">76.1mV/dec</text>
<line x1="547.9" y1="165.63" x2="558.7" y2="165.63" stroke="#dc6fa3" stroke-width="1.3"/>
<circle cx="553.30" cy="165.63" r="2.00" fill="#dc6fa3" stroke="none"/>
<text x="560.7" y="168.53" font-family="'Liberation Serif', serif" font-size="8.2" fill="#1a1a1a">Sim: Typ</text>
<path d="M598.1,166.03H604M602.1,164.53L604.3,166.03L602.1,167.53" fill="none" stroke="#1a1a1a" stroke-width="0.75"/>
<text x="606" y="168.53" font-family="'Liberation Serif', serif" font-size="8.2" fill="#1a1a1a">SS</text>
<text x="617" y="168.53" font-family="'Liberation Serif', serif" font-size="8.2" fill="#1a1a1a">=</text>
<text x="623.8" y="168.53" font-family="'Liberation Serif', serif" font-size="8.2" fill="#1a1a1a" textLength="40.2" lengthAdjust="spacingAndGlyphs">75.8mV/dec</text>
<line x1="547.9" y1="176.02" x2="558.7" y2="176.02" stroke="#0000ff" stroke-width="1.3"/>
<circle cx="553.30" cy="176.02" r="2.00" fill="#0000ff" stroke="none"/>
<text x="560.7" y="178.92" font-family="'Liberation Serif', serif" font-size="8.2" fill="#1a1a1a">Sim: Fast</text>
<path d="M598.1,176.42H604M602.1,174.92L604.3,176.42L602.1,177.92" fill="none" stroke="#1a1a1a" stroke-width="0.75"/>
<text x="606" y="178.92" font-family="'Liberation Serif', serif" font-size="8.2" fill="#1a1a1a">SS</text>
<text x="617" y="178.92" font-family="'Liberation Serif', serif" font-size="8.2" fill="#1a1a1a">=</text>
<text x="623.8" y="178.92" font-family="'Liberation Serif', serif" font-size="8.2" fill="#1a1a1a" textLength="40.2" lengthAdjust="spacingAndGlyphs">79.3mV/dec</text>
<path d="M395.4,185v5M430.12,185v5M464.85,185v5M499.57,185v5M534.3,185v5M569.03,185v5M603.75,185v5M638.48,185v5M673.2,185v5M395.4,185v2.6M402.34,185v2.6M409.29,185v2.6M416.24,185v2.6M423.18,185v2.6M430.12,185v2.6M437.07,185v2.6M444.01,185v2.6M450.96,185v2.6M457.9,185v2.6M464.85,185v2.6M471.8,185v2.6M478.74,185v2.6M485.69,185v2.6M492.63,185v2.6M499.57,185v2.6M506.52,185v2.6M513.47,185v2.6M520.41,185v2.6M527.36,185v2.6M534.3,185v2.6M541.25,185v2.6M548.19,185v2.6M555.13,185v2.6M562.08,185v2.6M569.03,185v2.6M575.97,185v2.6M582.92,185v2.6M589.86,185v2.6M596.81,185v2.6M603.75,185v2.6M610.7,185v2.6M617.64,185v2.6M624.59,185v2.6M631.53,185v2.6M638.48,185v2.6M645.42,185v2.6M652.37,185v2.6M659.31,185v2.6M666.26,185v2.6M673.2,185v2.6" stroke="#111" stroke-width="1.1" fill="none"/>
<text x="395.4" y="203.6" font-family="'Liberation Serif', serif" font-size="12" text-anchor="middle" fill="#1a1a1a">−0.50</text>
<text x="430.12" y="203.6" font-family="'Liberation Serif', serif" font-size="12" text-anchor="middle" fill="#1a1a1a">−0.25</text>
<text x="464.85" y="203.6" font-family="'Liberation Serif', serif" font-size="12" text-anchor="middle" fill="#1a1a1a">0.00</text>
<text x="499.57" y="203.6" font-family="'Liberation Serif', serif" font-size="12" text-anchor="middle" fill="#1a1a1a">0.25</text>
<text x="534.3" y="203.6" font-family="'Liberation Serif', serif" font-size="12" text-anchor="middle" fill="#1a1a1a">0.50</text>
<text x="569.03" y="203.6" font-family="'Liberation Serif', serif" font-size="12" text-anchor="middle" fill="#1a1a1a">0.75</text>
<text x="603.75" y="203.6" font-family="'Liberation Serif', serif" font-size="12" text-anchor="middle" fill="#1a1a1a">1.00</text>
<text x="638.48" y="203.6" font-family="'Liberation Serif', serif" font-size="12" text-anchor="middle" fill="#1a1a1a">1.25</text>
<text x="673.2" y="203.6" font-family="'Liberation Serif', serif" font-size="12" text-anchor="middle" fill="#1a1a1a">1.50</text>
<path d="M395.4,182.8h-5.3M395.4,153.46h-5.3M395.4,124.12h-5.3M395.4,94.77h-5.3M395.4,65.43h-5.3M395.4,36.09h-5.3M395.4,173.97h-2.9M395.4,165.13h-2.9M395.4,159.97h-2.9M395.4,156.3h-2.9M395.4,144.62h-2.9M395.4,135.79h-2.9M395.4,130.63h-2.9M395.4,126.96h-2.9M395.4,115.28h-2.9M395.4,106.45h-2.9M395.4,101.28h-2.9M395.4,97.62h-2.9M395.4,85.94h-2.9M395.4,77.11h-2.9M395.4,71.94h-2.9M395.4,68.28h-2.9M395.4,56.6h-2.9M395.4,47.77h-2.9M395.4,42.6h-2.9M395.4,38.93h-2.9M395.4,27.26h-2.9" stroke="#111" stroke-width="1.1" fill="none"/>
<text x="385.4" y="188.4" font-family="'Liberation Serif', serif" font-size="12" text-anchor="end" font-weight="normal" fill="#1a1a1a">10<tspan font-size="7.8" dy="-7.3">−4</tspan></text>
<text x="385.4" y="159.06" font-family="'Liberation Serif', serif" font-size="12" text-anchor="end" font-weight="normal" fill="#1a1a1a">10<tspan font-size="7.8" dy="-7.3">−3</tspan></text>
<text x="385.4" y="129.72" font-family="'Liberation Serif', serif" font-size="12" text-anchor="end" font-weight="normal" fill="#1a1a1a">10<tspan font-size="7.8" dy="-7.3">−2</tspan></text>
<text x="385.4" y="100.37" font-family="'Liberation Serif', serif" font-size="12" text-anchor="end" font-weight="normal" fill="#1a1a1a">10<tspan font-size="7.8" dy="-7.3">−1</tspan></text>
<text x="385.4" y="71.03" font-family="'Liberation Serif', serif" font-size="12" text-anchor="end" font-weight="normal" fill="#1a1a1a">10<tspan font-size="7.8" dy="-7.3">0</tspan></text>
<text x="385.4" y="41.69" font-family="'Liberation Serif', serif" font-size="12" text-anchor="end" font-weight="normal" fill="#1a1a1a">10<tspan font-size="7.8" dy="-7.3">1</tspan></text>
<text x="355.1" y="104" font-family="'Liberation Serif', serif" font-size="13.8" text-anchor="middle" font-weight="normal" fill="#1a1a1a" transform="rotate(-90 355.1 104)">Drain-Source current (<tspan font-style="italic">I</tspan><tspan font-style="italic" font-size="9.66" dy="2.76">DS</tspan><tspan dy="-2.76">) [µA]</tspan></text>
<text x="534.6" y="222.3" font-family="'Liberation Serif', serif" font-size="13.8" text-anchor="middle" font-weight="normal" fill="#1a1a1a">Gate-Source voltage (<tspan font-style="italic">V</tspan><tspan font-style="italic" font-size="9.66" dy="2.76">GS</tspan><tspan dy="-2.76">) [V]</tspan></text>
<text x="354.2" y="11.6" font-family="'Liberation Sans', sans-serif" font-size="14" text-anchor="start" font-weight="bold" fill="#000">b</text>
<path d="M55.3,279.7V444.3M83.15,279.7V444.3M111,279.7V444.3M138.85,279.7V444.3M166.7,279.7V444.3M194.55,279.7V444.3M222.4,279.7V444.3M250.25,279.7V444.3M278.1,279.7V444.3M305.95,279.7V444.3M333.8,279.7V444.3M55.3,444.3H333.8M55.3,420.79H333.8M55.3,397.27H333.8M55.3,373.76H333.8M55.3,350.24H333.8M55.3,326.73H333.8M55.3,303.21H333.8M55.3,279.7H333.8" stroke="#cdcdcd" stroke-width="1.0" fill="none"/>
<g clip-path="url(#c3)">
<path d="M55.3,418.11L60.02,415.96L64.74,413.81L69.46,411.65L74.18,409.49L78.9,407.33L83.62,405.16L88.34,402.99L93.06,400.81L97.78,398.63L102.5,396.45L107.22,394.26L111.94,392.06L116.66,389.87L121.38,387.67L126.11,385.46L130.83,383.25L135.55,381.04L140.27,378.82L144.99,376.6L149.71,374.38L154.43,372.15L159.15,369.91L163.87,367.68L168.59,365.43L173.31,363.19L178.03,360.94L182.75,358.68L187.47,356.43L192.19,354.16L196.91,351.9L201.63,349.63L206.35,347.35L211.07,345.08L215.79,342.79L220.51,340.51L225.23,338.22L229.95,335.92L234.67,333.62L239.39,331.32L244.11,329.01L248.83,326.7L253.55,324.39L258.27,322.07L262.99,319.74L267.72,317.42L272.44,315.08L277.16,312.75L281.88,310.41L286.6,308.07L291.32,305.72L296.04,303.37L300.76,301.01L305.48,298.65L310.2,296.29L314.92,293.92L319.64,291.54L324.36,289.17L329.08,286.79L333.8,284.4" fill="none" stroke="#f0604a" stroke-width="1.9"/>
<path d="M55.3,441.71L60.02,441.53L64.74,441.34L69.46,441.14L74.18,440.95L78.9,440.74L83.62,440.54L88.34,440.32L93.06,440.11L97.78,439.89L102.5,439.66L107.22,439.44L111.94,439.2L116.66,438.96L121.38,438.72L126.11,438.48L130.83,438.23L135.55,437.97L140.27,437.71L144.99,437.45L149.71,437.18L154.43,436.91L159.15,436.63L163.87,436.35L168.59,436.07L173.31,435.78L178.03,435.49L182.75,435.19L187.47,434.89L192.19,434.58L196.91,434.27L201.63,433.95L206.35,433.63L211.07,433.31L215.79,432.98L220.51,432.65L225.23,432.31L229.95,431.97L234.67,431.63L239.39,431.28L244.11,430.92L248.83,430.56L253.55,430.2L258.27,429.83L262.99,429.46L267.72,429.09L272.44,428.71L277.16,428.32L281.88,427.93L286.6,427.54L291.32,427.14L296.04,426.74L300.76,426.34L305.48,425.92L310.2,425.51L314.92,425.09L319.64,424.67L324.36,424.24L329.08,423.81L333.8,423.37" fill="none" stroke="#5cbf72" stroke-width="1.9"/>
<path d="M98.75,442.89L103.54,442.82L108.34,442.74L113.14,442.66L117.93,442.58L122.73,442.5L127.53,442.41L132.33,442.32L137.12,442.22L141.92,442.13L146.72,442.03L151.51,441.93L156.31,441.82L161.11,441.71L165.9,441.6L170.7,441.49L175.5,441.37L180.3,441.25L185.09,441.13L189.89,441L194.69,440.87L199.48,440.74L204.28,440.6L209.08,440.47L213.87,440.33L218.67,440.18L223.47,440.03L228.27,439.88L233.06,439.73L237.86,439.58L242.66,439.42L247.45,439.26L252.25,439.09L257.05,438.92L261.84,438.75L266.64,438.58L271.44,438.4L276.24,438.22L281.03,438.04L285.83,437.85L290.63,437.67L295.42,437.47L300.22,437.28L305.02,437.08L309.81,436.88L314.61,436.68L319.41,436.47L324.21,436.26L329,436.05L333.8,435.83" fill="none" stroke="#6de6dc" stroke-width="1.9"/>
</g>
<rect x="55.3" y="279.7" width="278.5" height="164.6" fill="none" stroke="#111" stroke-width="1.3"/>
<path d="M55.3,444.3v5.0M83.15,444.3v5.0M111,444.3v5.0M138.85,444.3v5.0M166.7,444.3v5.0M194.55,444.3v5.0M222.4,444.3v5.0M250.25,444.3v5.0M278.1,444.3v5.0M305.95,444.3v5.0M333.8,444.3v5.0M55.3,444.3v2.6M60.87,444.3v2.6M66.44,444.3v2.6M72.01,444.3v2.6M77.58,444.3v2.6M83.15,444.3v2.6M88.72,444.3v2.6M94.29,444.3v2.6M99.86,444.3v2.6M105.43,444.3v2.6M111,444.3v2.6M116.57,444.3v2.6M122.14,444.3v2.6M127.71,444.3v2.6M133.28,444.3v2.6M138.85,444.3v2.6M144.42,444.3v2.6M149.99,444.3v2.6M155.56,444.3v2.6M161.13,444.3v2.6M166.7,444.3v2.6M172.27,444.3v2.6M177.84,444.3v2.6M183.41,444.3v2.6M188.98,444.3v2.6M194.55,444.3v2.6M200.12,444.3v2.6M205.69,444.3v2.6M211.26,444.3v2.6M216.83,444.3v2.6M222.4,444.3v2.6M227.97,444.3v2.6M233.54,444.3v2.6M239.11,444.3v2.6M244.68,444.3v2.6M250.25,444.3v2.6M255.82,444.3v2.6M261.39,444.3v2.6M266.96,444.3v2.6M272.53,444.3v2.6M278.1,444.3v2.6M283.67,444.3v2.6M289.24,444.3v2.6M294.81,444.3v2.6M300.38,444.3v2.6M305.95,444.3v2.6M311.52,444.3v2.6M317.09,444.3v2.6M322.66,444.3v2.6M328.23,444.3v2.6M333.8,444.3v2.6" stroke="#111" stroke-width="1.1" fill="none"/>
<path d="M55.3,444.3h-5.5M55.3,420.79h-5.5M55.3,397.27h-5.5M55.3,373.76h-5.5M55.3,350.24h-5.5M55.3,326.73h-5.5M55.3,303.21h-5.5M55.3,279.7h-5.5M55.3,444.3h-2.9M55.3,439.6h-2.9M55.3,434.89h-2.9M55.3,430.19h-2.9M55.3,425.49h-2.9M55.3,420.79h-2.9M55.3,416.08h-2.9M55.3,411.38h-2.9M55.3,406.68h-2.9M55.3,401.97h-2.9M55.3,397.27h-2.9M55.3,392.57h-2.9M55.3,387.87h-2.9M55.3,383.16h-2.9M55.3,378.46h-2.9M55.3,373.76h-2.9M55.3,369.05h-2.9M55.3,364.35h-2.9M55.3,359.65h-2.9M55.3,354.95h-2.9M55.3,350.24h-2.9M55.3,345.54h-2.9M55.3,340.84h-2.9M55.3,336.13h-2.9M55.3,331.43h-2.9M55.3,326.73h-2.9M55.3,322.03h-2.9M55.3,317.32h-2.9M55.3,312.62h-2.9M55.3,307.92h-2.9M55.3,303.21h-2.9M55.3,298.51h-2.9M55.3,293.81h-2.9M55.3,289.11h-2.9M55.3,284.4h-2.9M55.3,279.7h-2.9" stroke="#111" stroke-width="1.1" fill="none"/>
<text x="42.8" y="448.9" font-family="'Liberation Serif', serif" font-size="13.0" text-anchor="end" fill="#1a1a1a">0.00</text>
<text x="42.8" y="425.39" font-family="'Liberation Serif', serif" font-size="13.0" text-anchor="end" fill="#1a1a1a">0.05</text>
<text x="42.8" y="401.87" font-family="'Liberation Serif', serif" font-size="13.0" text-anchor="end" fill="#1a1a1a">0.10</text>
<text x="42.8" y="378.36" font-family="'Liberation Serif', serif" font-size="13.0" text-anchor="end" fill="#1a1a1a">0.15</text>
<text x="42.8" y="354.84" font-family="'Liberation Serif', serif" font-size="13.0" text-anchor="end" fill="#1a1a1a">0.20</text>
<text x="42.8" y="331.33" font-family="'Liberation Serif', serif" font-size="13.0" text-anchor="end" fill="#1a1a1a">0.25</text>
<text x="42.8" y="307.81" font-family="'Liberation Serif', serif" font-size="13.0" text-anchor="end" fill="#1a1a1a">0.30</text>
<text x="42.8" y="284.3" font-family="'Liberation Serif', serif" font-size="13.0" text-anchor="end" fill="#1a1a1a">0.35</text>
<path d="M55.3,470V633.5M83.15,470V633.5M111,470V633.5M138.85,470V633.5M166.7,470V633.5M194.55,470V633.5M222.4,470V633.5M250.25,470V633.5M278.1,470V633.5M305.95,470V633.5M333.8,470V633.5M55.3,633.5H333.8M55.3,606.25H333.8M55.3,579H333.8M55.3,551.75H333.8M55.3,524.5H333.8M55.3,497.25H333.8M55.3,470H333.8" stroke="#cdcdcd" stroke-width="1.0" fill="none"/>
<g clip-path="url(#c4)">
<path d="M55.3,568.16L60.02,565.95L64.74,563.77L69.46,561.62L74.18,559.5L78.9,557.4L83.62,555.33L88.34,553.29L93.06,551.27L97.78,549.28L102.5,547.31L107.22,545.37L111.94,543.45L116.66,541.56L121.38,539.69L126.11,537.85L130.83,536.02L135.55,534.22L140.27,532.45L144.99,530.69L149.71,528.96L154.43,527.25L159.15,525.55L163.87,523.88L168.59,522.23L173.31,520.6L178.03,518.99L182.75,517.4L187.47,515.83L192.19,514.27L196.91,512.74L201.63,511.22L206.35,509.72L211.07,508.24L215.79,506.77L220.51,505.32L225.23,503.89L229.95,502.47L234.67,501.07L239.39,499.68L244.11,498.3L248.83,496.94L253.55,495.6L258.27,494.27L262.99,492.95L267.72,491.64L272.44,490.35L277.16,489.07L281.88,487.8L286.6,486.54L291.32,485.3L296.04,484.06L300.76,482.84L305.48,481.62L310.2,480.42L314.92,479.22L319.64,478.03L324.36,476.85L329.08,475.68L333.8,474.52" fill="none" stroke="#f0604a" stroke-width="1.9"/>
<path d="M55.3,610.35L60.02,609.04L64.74,607.75L69.46,606.46L74.18,605.2L78.9,603.94L83.62,602.7L88.34,601.46L93.06,600.24L97.78,599.04L102.5,597.84L107.22,596.65L111.94,595.48L116.66,594.32L121.38,593.17L126.11,592.03L130.83,590.9L135.55,589.79L140.27,588.68L144.99,587.58L149.71,586.5L154.43,585.42L159.15,584.36L163.87,583.3L168.59,582.26L173.31,581.23L178.03,580.2L182.75,579.19L187.47,578.18L192.19,577.19L196.91,576.2L201.63,575.22L206.35,574.25L211.07,573.29L215.79,572.34L220.51,571.4L225.23,570.47L229.95,569.54L234.67,568.62L239.39,567.72L244.11,566.82L248.83,565.92L253.55,565.04L258.27,564.16L262.99,563.29L267.72,562.43L272.44,561.57L277.16,560.73L281.88,559.88L286.6,559.05L291.32,558.22L296.04,557.4L300.76,556.59L305.48,555.78L310.2,554.98L314.92,554.18L319.64,553.4L324.36,552.61L329.08,551.83L333.8,551.06" fill="none" stroke="#5cbf72" stroke-width="1.9"/>
<path d="M98.75,626.09L103.54,625.6L108.34,625.11L113.14,624.62L117.93,624.13L122.73,623.65L127.53,623.17L132.33,622.7L137.12,622.22L141.92,621.75L146.72,621.28L151.51,620.81L156.31,620.35L161.11,619.89L165.9,619.43L170.7,618.97L175.5,618.52L180.3,618.06L185.09,617.61L189.89,617.17L194.69,616.72L199.48,616.28L204.28,615.84L209.08,615.41L213.87,614.97L218.67,614.54L223.47,614.11L228.27,613.69L233.06,613.26L237.86,612.84L242.66,612.42L247.45,612L252.25,611.59L257.05,611.18L261.84,610.77L266.64,610.36L271.44,609.96L276.24,609.56L281.03,609.16L285.83,608.76L290.63,608.37L295.42,607.98L300.22,607.59L305.02,607.21L309.81,606.82L314.61,606.44L319.41,606.06L324.21,605.69L329,605.31L333.8,604.94" fill="none" stroke="#6de6dc" stroke-width="1.9"/>
</g>
<rect x="55.3" y="470" width="278.5" height="163.5" fill="none" stroke="#111" stroke-width="1.3"/>
<path d="M55.3,633.5v5.0M83.15,633.5v5.0M111,633.5v5.0M138.85,633.5v5.0M166.7,633.5v5.0M194.55,633.5v5.0M222.4,633.5v5.0M250.25,633.5v5.0M278.1,633.5v5.0M305.95,633.5v5.0M333.8,633.5v5.0M55.3,633.5v2.6M60.87,633.5v2.6M66.44,633.5v2.6M72.01,633.5v2.6M77.58,633.5v2.6M83.15,633.5v2.6M88.72,633.5v2.6M94.29,633.5v2.6M99.86,633.5v2.6M105.43,633.5v2.6M111,633.5v2.6M116.57,633.5v2.6M122.14,633.5v2.6M127.71,633.5v2.6M133.28,633.5v2.6M138.85,633.5v2.6M144.42,633.5v2.6M149.99,633.5v2.6M155.56,633.5v2.6M161.13,633.5v2.6M166.7,633.5v2.6M172.27,633.5v2.6M177.84,633.5v2.6M183.41,633.5v2.6M188.98,633.5v2.6M194.55,633.5v2.6M200.12,633.5v2.6M205.69,633.5v2.6M211.26,633.5v2.6M216.83,633.5v2.6M222.4,633.5v2.6M227.97,633.5v2.6M233.54,633.5v2.6M239.11,633.5v2.6M244.68,633.5v2.6M250.25,633.5v2.6M255.82,633.5v2.6M261.39,633.5v2.6M266.96,633.5v2.6M272.53,633.5v2.6M278.1,633.5v2.6M283.67,633.5v2.6M289.24,633.5v2.6M294.81,633.5v2.6M300.38,633.5v2.6M305.95,633.5v2.6M311.52,633.5v2.6M317.09,633.5v2.6M322.66,633.5v2.6M328.23,633.5v2.6M333.8,633.5v2.6" stroke="#111" stroke-width="1.1" fill="none"/>
<text x="55.3" y="653.7" font-family="'Liberation Serif', serif" font-size="13.0" text-anchor="middle" fill="#1a1a1a">0.50</text>
<text x="83.15" y="653.7" font-family="'Liberation Serif', serif" font-size="13.0" text-anchor="middle" fill="#1a1a1a">0.75</text>
<text x="111" y="653.7" font-family="'Liberation Serif', serif" font-size="13.0" text-anchor="middle" fill="#1a1a1a">1.00</text>
<text x="138.85" y="653.7" font-family="'Liberation Serif', serif" font-size="13.0" text-anchor="middle" fill="#1a1a1a">1.25</text>
<text x="166.7" y="653.7" font-family="'Liberation Serif', serif" font-size="13.0" text-anchor="middle" fill="#1a1a1a">1.50</text>
<text x="194.55" y="653.7" font-family="'Liberation Serif', serif" font-size="13.0" text-anchor="middle" fill="#1a1a1a">1.75</text>
<text x="222.4" y="653.7" font-family="'Liberation Serif', serif" font-size="13.0" text-anchor="middle" fill="#1a1a1a">2.00</text>
<text x="250.25" y="653.7" font-family="'Liberation Serif', serif" font-size="13.0" text-anchor="middle" fill="#1a1a1a">2.25</text>
<text x="278.1" y="653.7" font-family="'Liberation Serif', serif" font-size="13.0" text-anchor="middle" fill="#1a1a1a">2.50</text>
<text x="305.95" y="653.7" font-family="'Liberation Serif', serif" font-size="13.0" text-anchor="middle" fill="#1a1a1a">2.75</text>
<text x="333.8" y="653.7" font-family="'Liberation Serif', serif" font-size="13.0" text-anchor="middle" fill="#1a1a1a">3.00</text>
<path d="M55.3,633.5h-5.5M55.3,606.25h-5.5M55.3,579h-5.5M55.3,551.75h-5.5M55.3,524.5h-5.5M55.3,497.25h-5.5M55.3,470h-5.5M55.3,633.5h-2.9M55.3,628.05h-2.9M55.3,622.6h-2.9M55.3,617.15h-2.9M55.3,611.7h-2.9M55.3,606.25h-2.9M55.3,600.8h-2.9M55.3,595.35h-2.9M55.3,589.9h-2.9M55.3,584.45h-2.9M55.3,579h-2.9M55.3,573.55h-2.9M55.3,568.1h-2.9M55.3,562.65h-2.9M55.3,557.2h-2.9M55.3,551.75h-2.9M55.3,546.3h-2.9M55.3,540.85h-2.9M55.3,535.4h-2.9M55.3,529.95h-2.9M55.3,524.5h-2.9M55.3,519.05h-2.9M55.3,513.6h-2.9M55.3,508.15h-2.9M55.3,502.7h-2.9M55.3,497.25h-2.9M55.3,491.8h-2.9M55.3,486.35h-2.9M55.3,480.9h-2.9M55.3,475.45h-2.9M55.3,470h-2.9" stroke="#111" stroke-width="1.1" fill="none"/>
<text x="42.8" y="638.1" font-family="'Liberation Serif', serif" font-size="13.0" text-anchor="end" fill="#1a1a1a">0.00</text>
<text x="42.8" y="610.85" font-family="'Liberation Serif', serif" font-size="13.0" text-anchor="end" fill="#1a1a1a">0.25</text>
<text x="42.8" y="583.6" font-family="'Liberation Serif', serif" font-size="13.0" text-anchor="end" fill="#1a1a1a">0.50</text>
<text x="42.8" y="556.35" font-family="'Liberation Serif', serif" font-size="13.0" text-anchor="end" fill="#1a1a1a">0.75</text>
<text x="42.8" y="529.1" font-family="'Liberation Serif', serif" font-size="13.0" text-anchor="end" fill="#1a1a1a">1.00</text>
<text x="42.8" y="501.85" font-family="'Liberation Serif', serif" font-size="13.0" text-anchor="end" fill="#1a1a1a">1.25</text>
<text x="42.8" y="474.6" font-family="'Liberation Serif', serif" font-size="13.0" text-anchor="end" fill="#1a1a1a">1.50</text>
<text x="10.8" y="364" font-family="'Liberation Serif', serif" font-size="13.2" text-anchor="middle" font-weight="normal" fill="#1a1a1a" transform="rotate(-90 10.8 364)">Power consumption (<tspan font-style="italic">P</tspan>) [µW]</text>
<text x="10.8" y="551.5" font-family="'Liberation Serif', serif" font-size="13.2" text-anchor="middle" font-weight="normal" fill="#1a1a1a" transform="rotate(-90 10.8 551.5)">Output frequency (<tspan font-style="italic">f</tspan>) [Hz]</text>
<text x="194.6" y="673" font-family="'Liberation Serif', serif" font-size="13.2" text-anchor="middle" font-weight="normal" fill="#1a1a1a">WUT supply voltage [V]</text>
<text x="9.5" y="232.9" font-family="'Liberation Sans', sans-serif" font-size="14" text-anchor="start" font-weight="bold" fill="#000">c</text>
<rect x="89.8" y="238.9" width="209.4" height="34.6" rx="2.5" fill="#fff" stroke="#111" stroke-width="1.3"/>
<text x="194.7" y="252.7" font-family="'Liberation Serif', serif" font-size="13.0" text-anchor="middle" font-weight="normal" fill="#1a1a1a">Corner type</text>
<line x1="94" y1="263.2" x2="118.8" y2="263.2" stroke="#f0604a" stroke-width="2"/>
<text x="129.3" y="267.3" font-family="'Liberation Serif', serif" font-size="11.8" text-anchor="start" font-weight="normal" fill="#1a1a1a">Fast</text>
<line x1="165.3" y1="263.2" x2="190.10000000000002" y2="263.2" stroke="#5cbf72" stroke-width="2"/>
<text x="201.2" y="267.3" font-family="'Liberation Serif', serif" font-size="11.8" text-anchor="start" font-weight="normal" fill="#1a1a1a">Typ</text>
<line x1="235.3" y1="263.2" x2="260.1" y2="263.2" stroke="#6de6dc" stroke-width="2"/>
<text x="270.6" y="267.3" font-family="'Liberation Serif', serif" font-size="11.8" text-anchor="start" font-weight="normal" fill="#1a1a1a">Slow</text>
<path d="M396.1,444.6H675M396.1,436.37H675M396.1,428.14H675M396.1,419.91H675M396.1,411.68H675M396.1,403.45H675M396.1,395.22H675M396.1,386.99H675M396.1,378.76H675M396.1,370.53H675M396.1,362.3H675M396.1,354.07H675M396.1,345.84H675M396.1,337.61H675M396.1,329.38H675M396.1,321.15H675M396.1,312.92H675M396.1,304.69H675M396.1,296.46H675M396.1,288.23H675M396.1,280H675" stroke="#f1f1f1" stroke-width="0.9" fill="none"/>
<path d="M396.1,444.6H675M396.1,403.45H675M396.1,362.3H675M396.1,321.15H675M396.1,280H675" stroke="#e0e0e0" stroke-width="1.0" fill="none"/>
<path d="M396.1,280V444.6M451.88,280V444.6M507.66,280V444.6M563.44,280V444.6M619.22,280V444.6M675,280V444.6" stroke="#d4d4d4" stroke-width="1.0" fill="none"/>
<g clip-path="url(#c5)">
<path d="M396.1,444.25L398.89,444.23L401.68,444.21L404.47,444.19L407.26,444.16L410.05,444.13L412.83,444.09L415.62,444.04L418.41,443.99L421.2,443.94L423.99,443.88L426.78,443.82L429.57,443.75L432.36,443.69L435.15,443.62L437.94,443.54L440.72,443.47L443.51,443.38L446.3,443.29L449.09,443.19L451.88,443.07L454.67,442.95L457.46,442.8L460.25,442.64L463.04,442.46L465.83,442.26L468.61,442.04L471.4,441.79L474.19,441.52L476.98,441.22L479.77,440.89L482.56,440.53L485.35,440.14L488.14,439.72L490.93,439.27L493.72,438.79L496.5,438.28L499.29,437.74L502.08,437.19L504.87,436.62L507.66,436.04L510.45,435.45L513.24,434.84L516.03,434.2L518.82,433.53L521.61,432.84L524.39,432.12L527.18,431.37L529.97,430.6L532.76,429.79L535.55,428.96L538.34,428.09L541.13,427.19L543.92,426.26L546.71,425.29L549.5,424.28L552.28,423.23L555.07,422.14L557.86,421L560.65,419.81L563.44,418.56L566.23,417.27L569.02,415.94L571.81,414.58L574.6,413.18L577.38,411.73L580.17,410.24L582.96,408.71L585.75,407.13L588.54,405.49L591.33,403.79L594.12,402.04L596.91,400.21L599.7,398.31L602.49,396.33L605.27,394.27L608.06,392.1L610.85,389.84L613.64,387.45L616.43,384.94L619.22,382.29L622.01,379.51L624.8,376.59L627.59,373.55L630.38,370.37L633.16,367.05L635.95,363.58L638.74,359.95L641.53,356.16L644.32,352.2L647.11,348.06L649.9,343.74L652.69,339.21L655.48,334.49L658.27,329.55L661.06,324.39L663.84,318.99L666.63,313.36L669.42,307.47L672.21,301.31L675,294.87" fill="none" stroke="#a0a0a0" stroke-width="1.6"/>
<path d="M396.1,444.39L398.89,444.38L401.68,444.37L404.47,444.35L407.26,444.33L410.05,444.31L412.83,444.29L415.62,444.26L418.41,444.22L421.2,444.19L423.99,444.15L426.78,444.11L429.57,444.06L432.36,444.02L435.15,443.97L437.94,443.92L440.72,443.87L443.51,443.81L446.3,443.74L449.09,443.68L451.88,443.6L454.67,443.51L457.46,443.41L460.25,443.3L463.04,443.18L465.83,443.04L468.61,442.88L471.4,442.71L474.19,442.52L476.98,442.31L479.77,442.08L482.56,441.83L485.35,441.55L488.14,441.26L490.93,440.94L493.72,440.59L496.5,440.23L499.29,439.85L502.08,439.45L504.87,439.05L507.66,438.63L510.45,438.2L513.24,437.75L516.03,437.29L518.82,436.8L521.61,436.29L524.39,435.76L527.18,435.21L529.97,434.64L532.76,434.05L535.55,433.43L538.34,432.79L541.13,432.12L543.92,431.42L546.71,430.69L549.5,429.94L552.28,429.15L555.07,428.33L557.86,427.47L560.65,426.57L563.44,425.63L566.23,424.65L569.02,423.64L571.81,422.6L574.6,421.53L577.38,420.43L580.17,419.29L582.96,418.12L585.75,416.9L588.54,415.64L591.33,414.34L594.12,412.98L596.91,411.57L599.7,410.1L602.49,408.57L605.27,406.97L608.06,405.29L610.85,403.53L613.64,401.67L616.43,399.72L619.22,397.65L622.01,395.48L624.8,393.21L627.59,390.83L630.38,388.34L633.16,385.74L635.95,383.02L638.74,380.17L641.53,377.19L644.32,374.08L647.11,370.82L649.9,367.4L652.69,363.84L655.48,360.1L658.27,356.2L661.06,352.11L663.84,347.83L666.63,343.36L669.42,338.68L672.21,333.78L675,328.66" fill="none" stroke="#a0a0a0" stroke-width="1.6"/>
<path d="M396.1,444.33L398.89,444.32L401.68,444.3L404.47,444.29L407.26,444.27L410.05,444.25L412.83,444.22L415.62,444.19L418.41,444.15L421.2,444.12L423.99,444.08L426.78,444.03L429.57,443.99L432.36,443.94L435.15,443.9L437.94,443.85L440.72,443.79L443.51,443.74L446.3,443.68L449.09,443.61L451.88,443.53L454.67,443.45L457.46,443.35L460.25,443.25L463.04,443.13L465.83,443L468.61,442.85L471.4,442.68L474.19,442.51L476.98,442.31L479.77,442.09L482.56,441.86L485.35,441.6L488.14,441.33L490.93,441.04L493.72,440.72L496.5,440.4L499.29,440.05L502.08,439.7L504.87,439.34L507.66,438.97L510.45,438.6L513.24,438.21L516.03,437.81L518.82,437.39L521.61,436.95L524.39,436.5L527.18,436.04L529.97,435.56L532.76,435.06L535.55,434.54L538.34,434.01L541.13,433.46L543.92,432.88L546.71,432.29L549.5,431.67L552.28,431.03L555.07,430.36L557.86,429.67L560.65,428.95L563.44,428.19L566.23,427.41L569.02,426.61L571.81,425.79L574.6,424.94L577.38,424.08L580.17,423.19L582.96,422.27L585.75,421.32L588.54,420.35L591.33,419.34L594.12,418.29L596.91,417.21L599.7,416.09L602.49,414.91L605.27,413.69L608.06,412.41L610.85,411.08L613.64,409.67L616.43,408.19L619.22,406.63L622.01,404.99L624.8,403.28L627.59,401.5L630.38,399.63L633.16,397.69L635.95,395.66L638.74,393.54L641.53,391.33L644.32,389.02L647.11,386.61L649.9,384.09L652.69,381.46L655.48,378.72L658.27,375.86L661.06,372.87L663.84,369.75L666.63,366.49L669.42,363.08L672.21,359.53L675,355.82" fill="none" stroke="#a0a0a0" stroke-width="1.6"/>
<path d="M396.1,444.47L398.89,444.46L401.68,444.45L404.47,444.44L407.26,444.43L410.05,444.41L412.83,444.4L415.62,444.38L418.41,444.35L421.2,444.33L423.99,444.3L426.78,444.28L429.57,444.25L432.36,444.21L435.15,444.18L437.94,444.15L440.72,444.11L443.51,444.07L446.3,444.03L449.09,443.98L451.88,443.93L454.67,443.87L457.46,443.8L460.25,443.72L463.04,443.63L465.83,443.54L468.61,443.43L471.4,443.31L474.19,443.18L476.98,443.03L479.77,442.87L482.56,442.69L485.35,442.5L488.14,442.29L490.93,442.07L493.72,441.83L496.5,441.57L499.29,441.3L502.08,441.02L504.87,440.73L507.66,440.43L510.45,440.13L513.24,439.81L516.03,439.47L518.82,439.12L521.61,438.76L524.39,438.38L527.18,437.98L529.97,437.57L532.76,437.14L535.55,436.69L538.34,436.23L541.13,435.74L543.92,435.24L546.71,434.71L549.5,434.16L552.28,433.58L555.07,432.98L557.86,432.36L560.65,431.7L563.44,431.01L566.23,430.29L569.02,429.56L571.81,428.79L574.6,428.01L577.38,427.2L580.17,426.36L582.96,425.49L585.75,424.59L588.54,423.66L591.33,422.69L594.12,421.69L596.91,420.64L599.7,419.56L602.49,418.42L605.27,417.23L608.06,415.98L610.85,414.67L613.64,413.29L616.43,411.83L619.22,410.29L622.01,408.67L624.8,406.98L627.59,405.2L630.38,403.35L633.16,401.4L635.95,399.36L638.74,397.23L641.53,395L644.32,392.66L647.11,390.22L649.9,387.66L652.69,384.98L655.48,382.17L658.27,379.23L661.06,376.15L663.84,372.93L666.63,369.56L669.42,366.03L672.21,362.34L675,358.47" fill="none" stroke="#a0a0a0" stroke-width="1.6"/>
<path d="M396.1,444.4L398.89,444.39L401.68,444.38L404.47,444.37L407.26,444.36L410.05,444.34L412.83,444.32L415.62,444.29L418.41,444.27L421.2,444.24L423.99,444.21L426.78,444.17L429.57,444.14L432.36,444.11L435.15,444.07L437.94,444.03L440.72,443.99L443.51,443.95L446.3,443.9L449.09,443.85L451.88,443.79L454.67,443.72L457.46,443.65L460.25,443.57L463.04,443.47L465.83,443.37L468.61,443.25L471.4,443.13L474.19,442.99L476.98,442.83L479.77,442.66L482.56,442.48L485.35,442.28L488.14,442.07L490.93,441.84L493.72,441.59L496.5,441.33L499.29,441.06L502.08,440.78L504.87,440.5L507.66,440.21L510.45,439.91L513.24,439.6L516.03,439.28L518.82,438.95L521.61,438.61L524.39,438.25L527.18,437.88L529.97,437.49L532.76,437.09L535.55,436.68L538.34,436.25L541.13,435.81L543.92,435.35L546.71,434.87L549.5,434.38L552.28,433.86L555.07,433.32L557.86,432.77L560.65,432.18L563.44,431.57L566.23,430.94L569.02,430.3L571.81,429.63L574.6,428.95L577.38,428.25L580.17,427.53L582.96,426.78L585.75,426.01L588.54,425.22L591.33,424.4L594.12,423.55L596.91,422.67L599.7,421.76L602.49,420.8L605.27,419.81L608.06,418.77L610.85,417.68L613.64,416.53L616.43,415.32L619.22,414.05L622.01,412.71L624.8,411.32L627.59,409.86L630.38,408.34L633.16,406.75L635.95,405.09L638.74,403.35L641.53,401.54L644.32,399.65L647.11,397.67L649.9,395.61L652.69,393.46L655.48,391.21L658.27,388.85L661.06,386.4L663.84,383.84L666.63,381.16L669.42,378.36L672.21,375.44L675,372.39" fill="none" stroke="#a0a0a0" stroke-width="1.6"/>
<path d="M396.1,444.49L398.89,444.49L401.68,444.48L404.47,444.47L407.26,444.46L410.05,444.45L412.83,444.44L415.62,444.42L418.41,444.4L421.2,444.39L423.99,444.36L426.78,444.34L429.57,444.32L432.36,444.3L435.15,444.27L437.94,444.24L440.72,444.22L443.51,444.18L446.3,444.15L449.09,444.11L451.88,444.07L454.67,444.03L457.46,443.98L460.25,443.92L463.04,443.85L465.83,443.78L468.61,443.69L471.4,443.6L474.19,443.5L476.98,443.39L479.77,443.27L482.56,443.13L485.35,442.99L488.14,442.83L490.93,442.66L493.72,442.48L496.5,442.28L499.29,442.08L502.08,441.87L504.87,441.65L507.66,441.43L510.45,441.2L513.24,440.96L516.03,440.71L518.82,440.44L521.61,440.17L524.39,439.89L527.18,439.59L529.97,439.29L532.76,438.97L535.55,438.63L538.34,438.29L541.13,437.93L543.92,437.55L546.71,437.16L549.5,436.75L552.28,436.33L555.07,435.88L557.86,435.42L560.65,434.93L563.44,434.42L566.23,433.9L569.02,433.35L571.81,432.79L574.6,432.21L577.38,431.62L580.17,431L582.96,430.36L585.75,429.7L588.54,429.02L591.33,428.31L594.12,427.58L596.91,426.81L599.7,426.02L602.49,425.18L605.27,424.31L608.06,423.4L610.85,422.44L613.64,421.44L616.43,420.38L619.22,419.25L622.01,418.07L624.8,416.84L627.59,415.54L630.38,414.19L633.16,412.78L635.95,411.3L638.74,409.75L641.53,408.12L644.32,406.43L647.11,404.65L649.9,402.79L652.69,400.85L655.48,398.81L658.27,396.68L661.06,394.45L663.84,392.12L666.63,389.68L669.42,387.13L672.21,384.46L675,381.66" fill="none" stroke="#a0a0a0" stroke-width="1.6"/>
<path d="M396.1,444.46L398.89,444.46L401.68,444.45L404.47,444.44L407.26,444.43L410.05,444.42L412.83,444.4L415.62,444.39L418.41,444.37L421.2,444.35L423.99,444.32L426.78,444.3L429.57,444.27L432.36,444.25L435.15,444.22L437.94,444.19L440.72,444.16L443.51,444.13L446.3,444.09L449.09,444.06L451.88,444.01L454.67,443.96L457.46,443.91L460.25,443.85L463.04,443.78L465.83,443.7L468.61,443.61L471.4,443.52L474.19,443.41L476.98,443.3L479.77,443.17L482.56,443.03L485.35,442.88L488.14,442.72L490.93,442.55L493.72,442.36L496.5,442.17L499.29,441.96L502.08,441.75L504.87,441.53L507.66,441.31L510.45,441.08L513.24,440.84L516.03,440.6L518.82,440.34L521.61,440.07L524.39,439.8L527.18,439.51L529.97,439.21L532.76,438.9L535.55,438.58L538.34,438.25L541.13,437.9L543.92,437.54L546.71,437.17L549.5,436.78L552.28,436.37L555.07,435.95L557.86,435.51L560.65,435.06L563.44,434.58L566.23,434.08L569.02,433.57L571.81,433.04L574.6,432.5L577.38,431.95L580.17,431.37L582.96,430.78L585.75,430.17L588.54,429.54L591.33,428.89L594.12,428.22L596.91,427.51L599.7,426.78L602.49,426.02L605.27,425.22L608.06,424.39L610.85,423.52L613.64,422.6L616.43,421.63L619.22,420.61L622.01,419.54L624.8,418.42L627.59,417.25L630.38,416.03L633.16,414.75L635.95,413.41L638.74,412.01L641.53,410.56L644.32,409.03L647.11,407.44L649.9,405.77L652.69,404.03L655.48,402.21L658.27,400.31L661.06,398.32L663.84,396.25L666.63,394.08L669.42,391.81L672.21,389.44L675,386.96" fill="none" stroke="#a0a0a0" stroke-width="1.6"/>
<path d="M396.1,444.42L398.89,444.41L401.68,444.41L404.47,444.4L407.26,444.39L410.05,444.37L412.83,444.35L415.62,444.34L418.41,444.31L421.2,444.29L423.99,444.27L426.78,444.24L429.57,444.21L432.36,444.19L435.15,444.16L437.94,444.13L440.72,444.1L443.51,444.06L446.3,444.03L449.09,443.99L451.88,443.94L454.67,443.89L457.46,443.83L460.25,443.77L463.04,443.7L465.83,443.62L468.61,443.53L471.4,443.43L474.19,443.33L476.98,443.21L479.77,443.08L482.56,442.94L485.35,442.79L488.14,442.63L490.93,442.46L493.72,442.27L496.5,442.08L499.29,441.88L502.08,441.67L504.87,441.46L507.66,441.25L510.45,441.03L513.24,440.8L516.03,440.57L518.82,440.33L521.61,440.08L524.39,439.82L527.18,439.55L529.97,439.27L532.76,438.99L535.55,438.69L538.34,438.39L541.13,438.07L543.92,437.74L546.71,437.4L549.5,437.05L552.28,436.69L555.07,436.31L557.86,435.91L560.65,435.5L563.44,435.08L566.23,434.63L569.02,434.18L571.81,433.72L574.6,433.24L577.38,432.75L580.17,432.25L582.96,431.73L585.75,431.2L588.54,430.66L591.33,430.09L594.12,429.51L596.91,428.9L599.7,428.27L602.49,427.62L605.27,426.93L608.06,426.22L610.85,425.47L613.64,424.69L616.43,423.87L619.22,423L622.01,422.09L624.8,421.13L627.59,420.14L630.38,419.11L633.16,418.03L635.95,416.9L638.74,415.73L641.53,414.5L644.32,413.22L647.11,411.89L649.9,410.5L652.69,409.04L655.48,407.53L658.27,405.95L661.06,404.3L663.84,402.58L666.63,400.78L669.42,398.91L672.21,396.95L675,394.91" fill="none" stroke="#a0a0a0" stroke-width="1.6"/>
<path d="M396.1,444.51L398.89,444.51L401.68,444.5L404.47,444.5L407.26,444.49L410.05,444.48L412.83,444.47L415.62,444.46L418.41,444.44L421.2,444.43L423.99,444.41L426.78,444.39L429.57,444.38L432.36,444.36L435.15,444.34L437.94,444.32L440.72,444.3L443.51,444.27L446.3,444.25L449.09,444.22L451.88,444.19L454.67,444.15L457.46,444.11L460.25,444.06L463.04,444.01L465.83,443.96L468.61,443.89L471.4,443.82L474.19,443.75L476.98,443.66L479.77,443.57L482.56,443.46L485.35,443.35L488.14,443.23L490.93,443.1L493.72,442.96L496.5,442.81L499.29,442.66L502.08,442.5L504.87,442.33L507.66,442.16L510.45,441.99L513.24,441.81L516.03,441.62L518.82,441.42L521.61,441.22L524.39,441L527.18,440.78L529.97,440.55L532.76,440.31L535.55,440.06L538.34,439.8L541.13,439.53L543.92,439.25L546.71,438.96L549.5,438.65L552.28,438.33L555.07,438L557.86,437.66L560.65,437.3L563.44,436.92L566.23,436.52L569.02,436.12L571.81,435.7L574.6,435.27L577.38,434.83L580.17,434.38L582.96,433.9L585.75,433.42L588.54,432.91L591.33,432.39L594.12,431.85L596.91,431.28L599.7,430.7L602.49,430.08L605.27,429.44L608.06,428.77L610.85,428.07L613.64,427.32L616.43,426.54L619.22,425.72L622.01,424.85L624.8,423.94L627.59,422.99L630.38,422L633.16,420.96L635.95,419.88L638.74,418.74L641.53,417.55L644.32,416.31L647.11,415.01L649.9,413.65L652.69,412.23L655.48,410.74L658.27,409.18L661.06,407.56L663.84,405.85L666.63,404.07L669.42,402.21L672.21,400.26L675,398.22" fill="none" stroke="#a0a0a0" stroke-width="1.6"/>
<path d="M396.1,444.47L398.89,444.47L401.68,444.46L404.47,444.46L407.26,444.45L410.05,444.44L412.83,444.43L415.62,444.41L418.41,444.4L421.2,444.38L423.99,444.36L426.78,444.34L429.57,444.32L432.36,444.3L435.15,444.28L437.94,444.26L440.72,444.24L443.51,444.21L446.3,444.19L449.09,444.16L451.88,444.12L454.67,444.09L457.46,444.04L460.25,444L463.04,443.94L465.83,443.88L468.61,443.82L471.4,443.75L474.19,443.67L476.98,443.58L479.77,443.49L482.56,443.38L485.35,443.27L488.14,443.15L490.93,443.02L493.72,442.88L496.5,442.74L499.29,442.59L502.08,442.43L504.87,442.27L507.66,442.11L510.45,441.95L513.24,441.78L516.03,441.6L518.82,441.42L521.61,441.23L524.39,441.03L527.18,440.83L529.97,440.62L532.76,440.4L535.55,440.18L538.34,439.94L541.13,439.7L543.92,439.45L546.71,439.19L549.5,438.92L552.28,438.65L555.07,438.36L557.86,438.05L560.65,437.74L563.44,437.41L566.23,437.07L569.02,436.72L571.81,436.37L574.6,436L577.38,435.62L580.17,435.24L582.96,434.84L585.75,434.43L588.54,434.01L591.33,433.57L594.12,433.12L596.91,432.65L599.7,432.16L602.49,431.66L605.27,431.13L608.06,430.58L610.85,430L613.64,429.39L616.43,428.75L619.22,428.08L622.01,427.37L624.8,426.63L627.59,425.86L630.38,425.05L633.16,424.21L635.95,423.34L638.74,422.42L641.53,421.47L644.32,420.47L647.11,419.43L649.9,418.35L652.69,417.22L655.48,416.03L658.27,414.8L661.06,413.51L663.84,412.17L666.63,410.76L669.42,409.3L672.21,407.77L675,406.17" fill="none" stroke="#a0a0a0" stroke-width="1.6"/>
<path d="M396.1,444.56L398.89,444.55L401.68,444.55L404.47,444.55L407.26,444.54L410.05,444.54L412.83,444.53L415.62,444.53L418.41,444.52L421.2,444.51L423.99,444.5L426.78,444.49L429.57,444.48L432.36,444.48L435.15,444.46L437.94,444.45L440.72,444.44L443.51,444.43L446.3,444.42L449.09,444.4L451.88,444.38L454.67,444.37L457.46,444.34L460.25,444.32L463.04,444.29L465.83,444.26L468.61,444.23L471.4,444.19L474.19,444.15L476.98,444.1L479.77,444.05L482.56,444L485.35,443.94L488.14,443.87L490.93,443.8L493.72,443.73L496.5,443.65L499.29,443.57L502.08,443.48L504.87,443.39L507.66,443.3L510.45,443.2L513.24,443.1L516.03,443L518.82,442.89L521.61,442.78L524.39,442.67L527.18,442.54L529.97,442.42L532.76,442.29L535.55,442.15L538.34,442.01L541.13,441.86L543.92,441.71L546.71,441.55L549.5,441.38L552.28,441.2L555.07,441.02L557.86,440.83L560.65,440.63L563.44,440.42L566.23,440.21L569.02,439.98L571.81,439.75L574.6,439.51L577.38,439.27L580.17,439.02L582.96,438.75L585.75,438.48L588.54,438.2L591.33,437.91L594.12,437.61L596.91,437.3L599.7,436.97L602.49,436.63L605.27,436.27L608.06,435.9L610.85,435.5L613.64,435.09L616.43,434.66L619.22,434.19L622.01,433.71L624.8,433.2L627.59,432.67L630.38,432.12L633.16,431.54L635.95,430.93L638.74,430.29L641.53,429.63L644.32,428.93L647.11,428.2L649.9,427.44L652.69,426.64L655.48,425.8L658.27,424.93L661.06,424.01L663.84,423.06L666.63,422.05L669.42,421.01L672.21,419.91L675,418.76" fill="none" stroke="#a0a0a0" stroke-width="1.6"/>
<path d="M396.1,444.53L398.89,444.53L401.68,444.53L404.47,444.52L407.26,444.52L410.05,444.51L412.83,444.51L415.62,444.5L418.41,444.49L421.2,444.48L423.99,444.47L426.78,444.46L429.57,444.45L432.36,444.43L435.15,444.42L437.94,444.41L440.72,444.39L443.51,444.38L446.3,444.36L449.09,444.35L451.88,444.33L454.67,444.3L457.46,444.28L460.25,444.25L463.04,444.22L465.83,444.18L468.61,444.14L471.4,444.1L474.19,444.05L476.98,444L479.77,443.94L482.56,443.88L485.35,443.81L488.14,443.74L490.93,443.66L493.72,443.58L496.5,443.49L499.29,443.39L502.08,443.3L504.87,443.2L507.66,443.1L510.45,443L513.24,442.89L516.03,442.78L518.82,442.67L521.61,442.55L524.39,442.42L527.18,442.3L529.97,442.16L532.76,442.03L535.55,441.88L538.34,441.74L541.13,441.58L543.92,441.42L546.71,441.26L549.5,441.09L552.28,440.91L555.07,440.72L557.86,440.53L560.65,440.33L563.44,440.11L566.23,439.89L569.02,439.67L571.81,439.44L574.6,439.2L577.38,438.96L580.17,438.71L582.96,438.45L585.75,438.18L588.54,437.9L591.33,437.62L594.12,437.32L596.91,437.02L599.7,436.7L602.49,436.36L605.27,436.02L608.06,435.65L610.85,435.27L613.64,434.87L616.43,434.45L619.22,434.01L622.01,433.54L624.8,433.05L627.59,432.54L630.38,432.01L633.16,431.46L635.95,430.88L638.74,430.27L641.53,429.64L644.32,428.97L647.11,428.28L649.9,427.56L652.69,426.81L655.48,426.02L658.27,425.2L661.06,424.34L663.84,423.44L666.63,422.5L669.42,421.52L672.21,420.49L675,419.42" fill="none" stroke="#a0a0a0" stroke-width="1.6"/>
<path d="M396.1,444.55L398.89,444.55L401.68,444.54L404.47,444.54L407.26,444.54L410.05,444.53L412.83,444.53L415.62,444.52L418.41,444.51L421.2,444.5L423.99,444.49L426.78,444.49L429.57,444.48L432.36,444.47L435.15,444.45L437.94,444.44L440.72,444.43L443.51,444.42L446.3,444.4L449.09,444.39L451.88,444.37L454.67,444.35L457.46,444.33L460.25,444.3L463.04,444.28L465.83,444.25L468.61,444.21L471.4,444.17L474.19,444.13L476.98,444.08L479.77,444.03L482.56,443.97L485.35,443.91L488.14,443.85L490.93,443.78L493.72,443.7L496.5,443.62L499.29,443.54L502.08,443.45L504.87,443.36L507.66,443.27L510.45,443.17L513.24,443.07L516.03,442.97L518.82,442.86L521.61,442.75L524.39,442.64L527.18,442.52L529.97,442.39L532.76,442.26L535.55,442.13L538.34,441.99L541.13,441.84L543.92,441.69L546.71,441.53L549.5,441.37L552.28,441.2L555.07,441.02L557.86,440.83L560.65,440.64L563.44,440.43L566.23,440.22L569.02,440.01L571.81,439.78L574.6,439.55L577.38,439.31L580.17,439.07L582.96,438.81L585.75,438.55L588.54,438.28L591.33,438L594.12,437.71L596.91,437.41L599.7,437.09L602.49,436.77L605.27,436.42L608.06,436.06L610.85,435.69L613.64,435.29L616.43,434.87L619.22,434.43L622.01,433.97L624.8,433.48L627.59,432.97L630.38,432.44L633.16,431.89L635.95,431.31L638.74,430.7L641.53,430.06L644.32,429.4L647.11,428.71L649.9,427.98L652.69,427.22L655.48,426.43L658.27,425.6L661.06,424.73L663.84,423.82L666.63,422.87L669.42,421.88L672.21,420.84L675,419.76" fill="none" stroke="#a0a0a0" stroke-width="1.6"/>
<path d="M396.1,444.5L398.89,444.5L401.68,444.5L404.47,444.49L407.26,444.49L410.05,444.48L412.83,444.47L415.62,444.46L418.41,444.45L421.2,444.44L423.99,444.42L426.78,444.41L429.57,444.4L432.36,444.38L435.15,444.37L437.94,444.35L440.72,444.34L443.51,444.32L446.3,444.3L449.09,444.28L451.88,444.26L454.67,444.23L457.46,444.2L460.25,444.17L463.04,444.13L465.83,444.09L468.61,444.05L471.4,444L474.19,443.95L476.98,443.89L479.77,443.82L482.56,443.75L485.35,443.67L488.14,443.59L490.93,443.51L493.72,443.41L496.5,443.32L499.29,443.22L502.08,443.11L504.87,443.01L507.66,442.9L510.45,442.79L513.24,442.68L516.03,442.56L518.82,442.44L521.61,442.32L524.39,442.19L527.18,442.06L529.97,441.92L532.76,441.78L535.55,441.63L538.34,441.48L541.13,441.32L543.92,441.16L546.71,440.99L549.5,440.82L552.28,440.64L555.07,440.46L557.86,440.26L560.65,440.06L563.44,439.85L566.23,439.63L569.02,439.41L571.81,439.18L574.6,438.95L577.38,438.71L580.17,438.47L582.96,438.22L585.75,437.96L588.54,437.69L591.33,437.42L594.12,437.13L596.91,436.84L599.7,436.53L602.49,436.21L605.27,435.88L608.06,435.53L610.85,435.17L613.64,434.79L616.43,434.39L619.22,433.97L622.01,433.53L624.8,433.07L627.59,432.59L630.38,432.09L633.16,431.56L635.95,431.02L638.74,430.45L641.53,429.86L644.32,429.24L647.11,428.6L649.9,427.92L652.69,427.22L655.48,426.49L658.27,425.73L661.06,424.94L663.84,424.11L666.63,423.24L669.42,422.34L672.21,421.4L675,420.42" fill="none" stroke="#a0a0a0" stroke-width="1.6"/>
<path d="M396.1,444.56L398.89,444.56L401.68,444.56L404.47,444.55L407.26,444.55L410.05,444.55L412.83,444.54L415.62,444.54L418.41,444.53L421.2,444.52L423.99,444.51L426.78,444.51L429.57,444.5L432.36,444.49L435.15,444.48L437.94,444.47L440.72,444.46L443.51,444.45L446.3,444.44L449.09,444.42L451.88,444.41L454.67,444.39L457.46,444.37L460.25,444.35L463.04,444.32L465.83,444.3L468.61,444.27L471.4,444.23L474.19,444.2L476.98,444.15L479.77,444.11L482.56,444.06L485.35,444L488.14,443.95L490.93,443.88L493.72,443.81L496.5,443.74L499.29,443.67L502.08,443.59L504.87,443.51L507.66,443.42L510.45,443.34L513.24,443.25L516.03,443.15L518.82,443.05L521.61,442.95L524.39,442.85L527.18,442.74L529.97,442.62L532.76,442.5L535.55,442.38L538.34,442.24L541.13,442.11L543.92,441.97L546.71,441.82L549.5,441.67L552.28,441.51L555.07,441.34L557.86,441.17L560.65,440.98L563.44,440.79L566.23,440.59L569.02,440.39L571.81,440.17L574.6,439.96L577.38,439.73L580.17,439.5L582.96,439.26L585.75,439.01L588.54,438.75L591.33,438.48L594.12,438.2L596.91,437.91L599.7,437.61L602.49,437.3L605.27,436.97L608.06,436.62L610.85,436.26L613.64,435.88L616.43,435.47L619.22,435.05L622.01,434.6L624.8,434.13L627.59,433.64L630.38,433.13L633.16,432.59L635.95,432.03L638.74,431.44L641.53,430.82L644.32,430.18L647.11,429.5L649.9,428.79L652.69,428.05L655.48,427.28L658.27,426.47L661.06,425.62L663.84,424.73L666.63,423.8L669.42,422.83L672.21,421.81L675,420.75" fill="none" stroke="#a0a0a0" stroke-width="1.6"/>
<path d="M396.1,444.4L398.89,444.39L401.68,444.38L404.47,444.36L407.26,444.35L410.05,444.33L412.83,444.31L415.62,444.28L418.41,444.25L421.2,444.22L423.99,444.19L426.78,444.15L429.57,444.12L432.36,444.08L435.15,444.04L437.94,444L440.72,443.95L443.51,443.9L446.3,443.85L449.09,443.79L451.88,443.73L454.67,443.66L457.46,443.58L460.25,443.48L463.04,443.38L465.83,443.27L468.61,443.14L471.4,443L474.19,442.84L476.98,442.67L479.77,442.48L482.56,442.28L485.35,442.05L488.14,441.81L490.93,441.56L493.72,441.28L496.5,440.99L499.29,440.69L502.08,440.37L504.87,440.05L507.66,439.72L510.45,439.38L513.24,439.03L516.03,438.66L518.82,438.28L521.61,437.89L524.39,437.48L527.18,437.05L529.97,436.61L532.76,436.15L535.55,435.67L538.34,435.18L541.13,434.66L543.92,434.13L546.71,433.58L549.5,433L552.28,432.4L555.07,431.78L557.86,431.13L560.65,430.45L563.44,429.74L566.23,429L569.02,428.24L571.81,427.46L574.6,426.66L577.38,425.84L580.17,424.99L582.96,424.11L585.75,423.21L588.54,422.28L591.33,421.31L594.12,420.31L596.91,419.26L599.7,418.18L602.49,417.05L605.27,415.87L608.06,414.64L610.85,413.34L613.64,411.98L616.43,410.55L619.22,409.03L622.01,407.44L624.8,405.78L627.59,404.05L630.38,402.23L633.16,400.34L635.95,398.35L638.74,396.28L641.53,394.12L644.32,391.86L647.11,389.5L649.9,387.03L652.69,384.45L655.48,381.75L658.27,378.93L661.06,375.98L663.84,372.91L666.63,369.69L669.42,366.32L672.21,362.81L675,359.14L675,398.22L672.21,400.22L669.42,402.12L666.63,403.95L663.84,405.7L661.06,407.37L658.27,408.97L655.48,410.49L652.69,411.96L649.9,413.36L647.11,414.7L644.32,415.98L641.53,417.21L638.74,418.38L635.95,419.51L633.16,420.58L630.38,421.61L627.59,422.59L624.8,423.54L622.01,424.44L619.22,425.3L616.43,426.12L613.64,426.9L610.85,427.64L608.06,428.34L605.27,429.01L602.49,429.65L599.7,430.26L596.91,430.85L594.12,431.42L591.33,431.96L588.54,432.49L585.75,432.99L582.96,433.48L580.17,433.96L577.38,434.42L574.6,434.87L571.81,435.3L569.02,435.72L566.23,436.13L563.44,436.53L560.65,436.92L557.86,437.29L555.07,437.64L552.28,437.98L549.5,438.31L546.71,438.62L543.92,438.92L541.13,439.21L538.34,439.49L535.55,439.76L532.76,440.01L529.97,440.26L527.18,440.5L524.39,440.73L521.61,440.96L518.82,441.17L516.03,441.38L513.24,441.58L510.45,441.77L507.66,441.95L504.87,442.13L502.08,442.3L499.29,442.48L496.5,442.64L493.72,442.8L490.93,442.95L488.14,443.09L485.35,443.22L482.56,443.34L479.77,443.45L476.98,443.55L474.19,443.65L471.4,443.73L468.61,443.81L465.83,443.88L463.04,443.94L460.25,443.99L457.46,444.04L454.67,444.09L451.88,444.13L449.09,444.16L446.3,444.19L443.51,444.22L440.72,444.25L437.94,444.27L435.15,444.3L432.36,444.32L429.57,444.34L426.78,444.36L423.99,444.38L421.2,444.4L418.41,444.41L415.62,444.43L412.83,444.44L410.05,444.45L407.26,444.46L404.47,444.47L401.68,444.48L398.89,444.49L396.1,444.49Z" fill="#e8787c" fill-opacity="0.35" stroke="none"/>
<path d="M396.1,444.4L398.89,444.39L401.68,444.38L404.47,444.36L407.26,444.35L410.05,444.33L412.83,444.31L415.62,444.28L418.41,444.25L421.2,444.22L423.99,444.19L426.78,444.15L429.57,444.12L432.36,444.08L435.15,444.04L437.94,444L440.72,443.95L443.51,443.9L446.3,443.85L449.09,443.79L451.88,443.73L454.67,443.66L457.46,443.58L460.25,443.48L463.04,443.38L465.83,443.27L468.61,443.14L471.4,443L474.19,442.84L476.98,442.67L479.77,442.48L482.56,442.28L485.35,442.05L488.14,441.81L490.93,441.56L493.72,441.28L496.5,440.99L499.29,440.69L502.08,440.37L504.87,440.05L507.66,439.72L510.45,439.38L513.24,439.03L516.03,438.66L518.82,438.28L521.61,437.89L524.39,437.48L527.18,437.05L529.97,436.61L532.76,436.15L535.55,435.67L538.34,435.18L541.13,434.66L543.92,434.13L546.71,433.58L549.5,433L552.28,432.4L555.07,431.78L557.86,431.13L560.65,430.45L563.44,429.74L566.23,429L569.02,428.24L571.81,427.46L574.6,426.66L577.38,425.84L580.17,424.99L582.96,424.11L585.75,423.21L588.54,422.28L591.33,421.31L594.12,420.31L596.91,419.26L599.7,418.18L602.49,417.05L605.27,415.87L608.06,414.64L610.85,413.34L613.64,411.98L616.43,410.55L619.22,409.03L622.01,407.44L624.8,405.78L627.59,404.05L630.38,402.23L633.16,400.34L635.95,398.35L638.74,396.28L641.53,394.12L644.32,391.86L647.11,389.5L649.9,387.03L652.69,384.45L655.48,381.75L658.27,378.93L661.06,375.98L663.84,372.91L666.63,369.69L669.42,366.32L672.21,362.81L675,359.14" fill="none" stroke="#e06060" stroke-width="0.6" opacity="0.6"/>
<path d="M396.1,444.49L398.89,444.49L401.68,444.48L404.47,444.47L407.26,444.46L410.05,444.45L412.83,444.44L415.62,444.43L418.41,444.41L421.2,444.4L423.99,444.38L426.78,444.36L429.57,444.34L432.36,444.32L435.15,444.3L437.94,444.27L440.72,444.25L443.51,444.22L446.3,444.19L449.09,444.16L451.88,444.13L454.67,444.09L457.46,444.04L460.25,443.99L463.04,443.94L465.83,443.88L468.61,443.81L471.4,443.73L474.19,443.65L476.98,443.55L479.77,443.45L482.56,443.34L485.35,443.22L488.14,443.09L490.93,442.95L493.72,442.8L496.5,442.64L499.29,442.48L502.08,442.3L504.87,442.13L507.66,441.95L510.45,441.77L513.24,441.58L516.03,441.38L518.82,441.17L521.61,440.96L524.39,440.73L527.18,440.5L529.97,440.26L532.76,440.01L535.55,439.76L538.34,439.49L541.13,439.21L543.92,438.92L546.71,438.62L549.5,438.31L552.28,437.98L555.07,437.64L557.86,437.29L560.65,436.92L563.44,436.53L566.23,436.13L569.02,435.72L571.81,435.3L574.6,434.87L577.38,434.42L580.17,433.96L582.96,433.48L585.75,432.99L588.54,432.49L591.33,431.96L594.12,431.42L596.91,430.85L599.7,430.26L602.49,429.65L605.27,429.01L608.06,428.34L610.85,427.64L613.64,426.9L616.43,426.12L619.22,425.3L622.01,424.44L624.8,423.54L627.59,422.59L630.38,421.61L633.16,420.58L635.95,419.51L638.74,418.38L641.53,417.21L644.32,415.98L647.11,414.7L649.9,413.36L652.69,411.96L655.48,410.49L658.27,408.97L661.06,407.37L663.84,405.7L666.63,403.95L669.42,402.12L672.21,400.22L675,398.22" fill="none" stroke="#e06060" stroke-width="0.6" opacity="0.6"/>
<path d="M396.1,444.44L407.26,444.41L418.41,444.33L429.57,444.23L440.72,444.1L451.88,443.93L463.04,443.66L474.19,443.24L485.35,442.63L496.5,441.8L507.66,440.81L518.82,439.7L529.97,438.4L541.13,436.9L552.28,435.14L563.44,433.08L574.6,430.7L585.75,428.02L596.91,424.96L608.06,421.37L619.22,417.03L630.38,411.76L641.53,405.47L652.69,397.97L663.84,389.02L675,378.35" fill="none" stroke="#ff1a1a" stroke-width="2.0"/>
<path d="M396.10,441.24L398.50,444.44L396.10,447.64L393.70,444.44Z" fill="#ff1a1a" stroke="#ff1a1a" stroke-width="0.5"/>
<path d="M407.26,441.21L409.66,444.41L407.26,447.61L404.86,444.41Z" fill="#ff1a1a" stroke="#ff1a1a" stroke-width="0.5"/>
<path d="M418.41,441.13L420.81,444.33L418.41,447.53L416.01,444.33Z" fill="#ff1a1a" stroke="#ff1a1a" stroke-width="0.5"/>
<path d="M429.57,441.03L431.97,444.23L429.57,447.43L427.17,444.23Z" fill="#ff1a1a" stroke="#ff1a1a" stroke-width="0.5"/>
<path d="M440.72,440.90L443.12,444.10L440.72,447.30L438.32,444.10Z" fill="#ff1a1a" stroke="#ff1a1a" stroke-width="0.5"/>
<path d="M451.88,440.73L454.28,443.93L451.88,447.13L449.48,443.93Z" fill="#ff1a1a" stroke="#ff1a1a" stroke-width="0.5"/>
<path d="M463.04,440.46L465.44,443.66L463.04,446.86L460.64,443.66Z" fill="#ff1a1a" stroke="#ff1a1a" stroke-width="0.5"/>
<path d="M474.19,440.04L476.59,443.24L474.19,446.44L471.79,443.24Z" fill="#ff1a1a" stroke="#ff1a1a" stroke-width="0.5"/>
<path d="M485.35,439.43L487.75,442.63L485.35,445.83L482.95,442.63Z" fill="#ff1a1a" stroke="#ff1a1a" stroke-width="0.5"/>
<path d="M496.50,438.60L498.90,441.80L496.50,445.00L494.10,441.80Z" fill="#ff1a1a" stroke="#ff1a1a" stroke-width="0.5"/>
<path d="M507.66,437.61L510.06,440.81L507.66,444.01L505.26,440.81Z" fill="#ff1a1a" stroke="#ff1a1a" stroke-width="0.5"/>
<path d="M518.82,436.50L521.22,439.70L518.82,442.90L516.42,439.70Z" fill="#ff1a1a" stroke="#ff1a1a" stroke-width="0.5"/>
<path d="M529.97,435.20L532.37,438.40L529.97,441.60L527.57,438.40Z" fill="#ff1a1a" stroke="#ff1a1a" stroke-width="0.5"/>
<path d="M541.13,433.70L543.53,436.90L541.13,440.10L538.73,436.90Z" fill="#ff1a1a" stroke="#ff1a1a" stroke-width="0.5"/>
<path d="M552.28,431.94L554.68,435.14L552.28,438.34L549.88,435.14Z" fill="#ff1a1a" stroke="#ff1a1a" stroke-width="0.5"/>
<path d="M563.44,429.88L565.84,433.08L563.44,436.28L561.04,433.08Z" fill="#ff1a1a" stroke="#ff1a1a" stroke-width="0.5"/>
<path d="M574.60,427.50L577.00,430.70L574.60,433.90L572.20,430.70Z" fill="#ff1a1a" stroke="#ff1a1a" stroke-width="0.5"/>
<path d="M585.75,424.82L588.15,428.02L585.75,431.22L583.35,428.02Z" fill="#ff1a1a" stroke="#ff1a1a" stroke-width="0.5"/>
<path d="M596.91,421.76L599.31,424.96L596.91,428.16L594.51,424.96Z" fill="#ff1a1a" stroke="#ff1a1a" stroke-width="0.5"/>
<path d="M608.06,418.17L610.46,421.37L608.06,424.57L605.66,421.37Z" fill="#ff1a1a" stroke="#ff1a1a" stroke-width="0.5"/>
<path d="M619.22,413.83L621.62,417.03L619.22,420.23L616.82,417.03Z" fill="#ff1a1a" stroke="#ff1a1a" stroke-width="0.5"/>
<path d="M630.38,408.56L632.78,411.76L630.38,414.96L627.98,411.76Z" fill="#ff1a1a" stroke="#ff1a1a" stroke-width="0.5"/>
<path d="M641.53,402.27L643.93,405.47L641.53,408.67L639.13,405.47Z" fill="#ff1a1a" stroke="#ff1a1a" stroke-width="0.5"/>
<path d="M652.69,394.77L655.09,397.97L652.69,401.17L650.29,397.97Z" fill="#ff1a1a" stroke="#ff1a1a" stroke-width="0.5"/>
<path d="M663.84,385.82L666.24,389.02L663.84,392.22L661.44,389.02Z" fill="#ff1a1a" stroke="#ff1a1a" stroke-width="0.5"/>
<path d="M675.00,375.15L677.40,378.35L675.00,381.55L672.60,378.35Z" fill="#ff1a1a" stroke="#ff1a1a" stroke-width="0.5"/>
<line x1="396.1" y1="442.13" x2="423.9" y2="288.7" stroke="#c8c8c8" stroke-width="1"/>
<line x1="451.88" y1="442.13" x2="563.2" y2="379.1" stroke="#c8c8c8" stroke-width="1"/>
</g>
<rect x="396.1" y="280" width="278.9" height="164.6" fill="none" stroke="#111" stroke-width="1.3"/>
<path d="M396.1,444.6v5.1M451.88,444.6v5.1M507.66,444.6v5.1M563.44,444.6v5.1M619.22,444.6v5.1M675,444.6v5.1M396.1,444.6v2.9M407.26,444.6v2.9M418.41,444.6v2.9M429.57,444.6v2.9M440.72,444.6v2.9M451.88,444.6v2.9M463.04,444.6v2.9M474.19,444.6v2.9M485.35,444.6v2.9M496.5,444.6v2.9M507.66,444.6v2.9M518.82,444.6v2.9M529.97,444.6v2.9M541.13,444.6v2.9M552.28,444.6v2.9M563.44,444.6v2.9M574.6,444.6v2.9M585.75,444.6v2.9M596.91,444.6v2.9M608.06,444.6v2.9M619.22,444.6v2.9M630.38,444.6v2.9M641.53,444.6v2.9M652.69,444.6v2.9M663.84,444.6v2.9M675,444.6v2.9" stroke="#111" stroke-width="1.1" fill="none"/>
<path d="M396.1,444.6h-5.5M396.1,403.45h-5.5M396.1,362.3h-5.5M396.1,321.15h-5.5M396.1,280h-5.5M396.1,444.6h-3.0M396.1,436.37h-3.0M396.1,428.14h-3.0M396.1,419.91h-3.0M396.1,411.68h-3.0M396.1,403.45h-3.0M396.1,395.22h-3.0M396.1,386.99h-3.0M396.1,378.76h-3.0M396.1,370.53h-3.0M396.1,362.3h-3.0M396.1,354.07h-3.0M396.1,345.84h-3.0M396.1,337.61h-3.0M396.1,329.38h-3.0M396.1,321.15h-3.0M396.1,312.92h-3.0M396.1,304.69h-3.0M396.1,296.46h-3.0M396.1,288.23h-3.0M396.1,280h-3.0" stroke="#111" stroke-width="1.1" fill="none"/>
<text x="383.2" y="449.6" font-family="'Liberation Serif', serif" font-size="14.0" text-anchor="end" fill="#1a1a1a">0</text>
<text x="383.2" y="408.45" font-family="'Liberation Serif', serif" font-size="14.0" text-anchor="end" fill="#1a1a1a">5</text>
<text x="383.2" y="367.3" font-family="'Liberation Serif', serif" font-size="14.0" text-anchor="end" fill="#1a1a1a">10</text>
<text x="383.2" y="326.15" font-family="'Liberation Serif', serif" font-size="14.0" text-anchor="end" fill="#1a1a1a">15</text>
<text x="383.2" y="285" font-family="'Liberation Serif', serif" font-size="14.0" text-anchor="end" fill="#1a1a1a">20</text>
<rect x="423.9" y="288.7" width="139.3" height="90.4" fill="#fff"/>
<path d="M423.9,379.1H563.2M423.9,373.07H563.2M423.9,367.05H563.2M423.9,361.02H563.2M423.9,354.99H563.2M423.9,348.97H563.2M423.9,342.94H563.2M423.9,336.91H563.2M423.9,330.89H563.2M423.9,324.86H563.2M423.9,318.83H563.2M423.9,312.81H563.2M423.9,306.78H563.2M423.9,300.75H563.2M423.9,294.73H563.2M423.9,288.7H563.2" stroke="#efefef" stroke-width="0.8" fill="none"/>
<path d="M423.9,288.7V379.1M451.76,288.7V379.1M479.62,288.7V379.1M507.48,288.7V379.1M535.34,288.7V379.1M563.2,288.7V379.1M423.9,379.1H563.2M423.9,348.97H563.2M423.9,318.83H563.2M423.9,288.7H563.2" stroke="#d6d6d6" stroke-width="0.9" fill="none"/>
<g clip-path="url(#c6)">
<path d="M423.9,368.85L429.47,368.51L435.04,368.1L440.62,367.63L446.19,367.1L451.76,366.5L457.33,365.81L462.9,364.98L468.48,364.05L474.05,363.03L479.62,361.96L485.19,360.84L490.76,359.61L496.34,358.31L501.91,356.95L507.48,355.55L513.05,354.14L518.62,352.7L524.2,351.21L529.77,349.64L535.34,347.96L540.91,346.18L546.48,344.3L552.06,342.31L557.63,340.16L563.2,337.82" fill="none" stroke="#555" stroke-width="0.8"/>
<path d="M423.9,369.46L429.47,369.12L435.04,368.73L440.62,368.28L446.19,367.77L451.76,367.2L457.33,366.54L462.9,365.74L468.48,364.84L474.05,363.86L479.62,362.83L485.19,361.74L490.76,360.56L496.34,359.3L501.91,357.98L507.48,356.62L513.05,355.25L518.62,353.86L524.2,352.4L529.77,350.88L535.34,349.24L540.91,347.5L546.48,345.67L552.06,343.72L557.63,341.62L563.2,339.32" fill="none" stroke="#555" stroke-width="0.8"/>
<path d="M423.9,370.66L429.47,370.4L435.04,370.1L440.62,369.76L446.19,369.37L451.76,368.94L457.33,368.44L462.9,367.84L468.48,367.18L474.05,366.45L479.62,365.7L485.19,364.91L490.76,364.06L496.34,363.16L501.91,362.22L507.48,361.27L513.05,360.31L518.62,359.34L524.2,358.34L529.77,357.3L535.34,356.18L540.91,355L546.48,353.78L552.06,352.48L557.63,351.08L563.2,349.57" fill="none" stroke="#555" stroke-width="0.8"/>
<path d="M423.9,372.47L429.47,372.29L435.04,372.08L440.62,371.84L446.19,371.58L451.76,371.28L457.33,370.94L462.9,370.53L468.48,370.08L474.05,369.6L479.62,369.1L485.19,368.58L490.76,368.02L496.34,367.43L501.91,366.82L507.48,366.21L513.05,365.6L518.62,364.98L524.2,364.34L529.77,363.68L535.34,362.98L540.91,362.25L546.48,361.49L552.06,360.69L557.63,359.83L563.2,358.91" fill="none" stroke="#555" stroke-width="0.8"/>
<path d="M423.9,373.07L429.47,372.91L435.04,372.72L440.62,372.51L446.19,372.27L451.76,372.01L457.33,371.7L462.9,371.34L468.48,370.94L474.05,370.5L479.62,370.06L485.19,369.59L490.76,369.1L496.34,368.57L501.91,368.03L507.48,367.49L513.05,366.94L518.62,366.39L524.2,365.83L529.77,365.24L535.34,364.62L540.91,363.97L546.48,363.3L552.06,362.59L557.63,361.84L563.2,361.02" fill="none" stroke="#555" stroke-width="0.8"/>
<path d="M423.9,373.68L429.47,373.53L435.04,373.36L440.62,373.16L446.19,372.94L451.76,372.7L457.33,372.42L462.9,372.09L468.48,371.72L474.05,371.32L479.62,370.91L485.19,370.48L490.76,370.02L496.34,369.54L501.91,369.04L507.48,368.53L513.05,368.03L518.62,367.52L524.2,367L529.77,366.45L535.34,365.88L540.91,365.28L546.48,364.65L552.06,363.99L557.63,363.29L563.2,362.53" fill="none" stroke="#555" stroke-width="0.8"/>
<path d="M423.9,374.28L429.47,374.15L435.04,374L440.62,373.83L446.19,373.64L451.76,373.43L457.33,373.18L462.9,372.89L468.48,372.57L474.05,372.22L479.62,371.87L485.19,371.5L490.76,371.1L496.34,370.68L501.91,370.25L507.48,369.81L513.05,369.37L518.62,368.93L524.2,368.48L529.77,368.01L535.34,367.52L540.91,367L546.48,366.46L552.06,365.89L557.63,365.29L563.2,364.64" fill="none" stroke="#555" stroke-width="0.8"/>
<path d="M423.9,374.88L429.47,374.77L435.04,374.64L440.62,374.49L446.19,374.32L451.76,374.14L457.33,373.92L462.9,373.67L468.48,373.39L474.05,373.08L479.62,372.77L485.19,372.45L490.76,372.1L496.34,371.73L501.91,371.35L507.48,370.97L513.05,370.59L518.62,370.2L524.2,369.81L529.77,369.4L535.34,368.97L540.91,368.51L546.48,368.04L552.06,367.54L557.63,367.01L563.2,366.44" fill="none" stroke="#555" stroke-width="0.8"/>
<path d="M423.9,375.18L429.47,375.08L435.04,374.96L440.62,374.83L446.19,374.67L451.76,374.51L457.33,374.31L462.9,374.09L468.48,373.83L474.05,373.56L479.62,373.28L485.19,372.99L490.76,372.67L496.34,372.35L501.91,372.01L507.48,371.67L513.05,371.33L518.62,370.98L524.2,370.63L529.77,370.27L535.34,369.88L540.91,369.48L546.48,369.06L552.06,368.62L557.63,368.15L563.2,367.65" fill="none" stroke="#555" stroke-width="0.8"/>
<path d="M423.9,375.48L429.47,375.39L435.04,375.28L440.62,375.16L446.19,375.02L451.76,374.86L457.33,374.68L462.9,374.47L468.48,374.24L474.05,373.99L479.62,373.73L485.19,373.46L490.76,373.18L496.34,372.87L501.91,372.56L507.48,372.25L513.05,371.93L518.62,371.62L524.2,371.3L529.77,370.96L535.34,370.61L540.91,370.24L546.48,369.85L552.06,369.45L557.63,369.02L563.2,368.55" fill="none" stroke="#555" stroke-width="0.8"/>
<path d="M423.9,375.79L429.47,375.7L435.04,375.61L440.62,375.5L446.19,375.38L451.76,375.25L457.33,375.1L462.9,374.92L468.48,374.73L474.05,374.52L479.62,374.3L485.19,374.07L490.76,373.83L496.34,373.58L501.91,373.32L507.48,373.07L513.05,372.81L518.62,372.55L524.2,372.28L529.77,372.01L535.34,371.72L540.91,371.42L546.48,371.11L552.06,370.78L557.63,370.43L563.2,370.06" fill="none" stroke="#555" stroke-width="0.8"/>
<path d="M423.9,376.39L429.47,376.32L435.04,376.25L440.62,376.16L446.19,376.07L451.76,375.96L457.33,375.84L462.9,375.7L468.48,375.54L474.05,375.38L479.62,375.2L485.19,375.03L490.76,374.84L496.34,374.64L501.91,374.43L507.48,374.23L513.05,374.02L518.62,373.82L524.2,373.61L529.77,373.4L535.34,373.17L540.91,372.93L546.48,372.69L552.06,372.43L557.63,372.16L563.2,371.87" fill="none" stroke="#555" stroke-width="0.8"/>
<path d="M423.9,376.69L429.47,376.64L435.04,376.57L440.62,376.5L446.19,376.42L451.76,376.34L457.33,376.24L462.9,376.12L468.48,376L474.05,375.86L479.62,375.72L485.19,375.57L490.76,375.42L496.34,375.26L501.91,375.1L507.48,374.93L513.05,374.77L518.62,374.61L524.2,374.44L529.77,374.27L535.34,374.09L540.91,373.91L546.48,373.71L552.06,373.51L557.63,373.3L563.2,373.07" fill="none" stroke="#555" stroke-width="0.8"/>
<path d="M423.9,365.54L429.47,365.12L435.04,364.7L440.62,364.27L446.19,363.85L451.76,363.43L457.33,361.86L462.9,360.3L468.48,358.73L474.05,357.16L479.62,355.6L485.19,353.67L490.76,351.74L496.34,349.81L501.91,347.88L507.48,345.95L513.05,343.24L518.62,340.53L524.2,337.82L529.77,335.11L535.34,332.39L540.91,328.78L546.48,325.16L552.06,321.55L557.63,317.93L563.2,314.31" fill="none" stroke="#555" stroke-width="0.8"/>
<path d="M423.9,370.97L429.47,370.69L435.04,370.36L440.62,369.98L446.19,369.55L451.76,369.07L457.33,368.51L462.9,367.83L468.48,367.06L474.05,366.22L479.62,365.35L485.19,364.42L490.76,363.41L496.34,362.33L501.91,361.2L507.48,360.04L513.05,358.87L518.62,357.68L524.2,356.44L529.77,355.13L535.34,353.73L540.91,352.25L546.48,350.68L552.06,349.02L557.63,347.22L563.2,345.25L563.2,361.56L557.63,362.68L552.06,363.7L546.48,364.64L540.91,365.51L535.34,366.34L529.77,367.12L524.2,367.84L518.62,368.52L513.05,369.17L507.48,369.8L501.91,370.42L496.34,371.02L490.76,371.59L485.19,372.11L479.62,372.6L474.05,373.05L468.48,373.48L462.9,373.87L457.33,374.22L451.76,374.51L446.19,374.75L440.62,374.98L435.04,375.17L429.47,375.34L423.9,375.49Z" fill="#e8787c" fill-opacity="0.35" stroke="none"/>
<path d="M423.9,373.37L451.76,371.99L479.62,369.28L507.48,365.39L535.34,360.72L563.2,354.39" fill="none" stroke="#ff1a1a" stroke-width="1.8"/>
<path d="M423.90,370.07L426.38,373.37L423.90,376.67L421.42,373.37Z" fill="#ff1a1a" stroke="#ff1a1a" stroke-width="0.5"/>
<path d="M451.76,368.69L454.24,371.99L451.76,375.29L449.28,371.99Z" fill="#ff1a1a" stroke="#ff1a1a" stroke-width="0.5"/>
<path d="M479.62,365.98L482.10,369.28L479.62,372.58L477.14,369.28Z" fill="#ff1a1a" stroke="#ff1a1a" stroke-width="0.5"/>
<path d="M507.48,362.09L509.96,365.39L507.48,368.69L505.00,365.39Z" fill="#ff1a1a" stroke="#ff1a1a" stroke-width="0.5"/>
<path d="M535.34,357.42L537.82,360.72L535.34,364.02L532.87,360.72Z" fill="#ff1a1a" stroke="#ff1a1a" stroke-width="0.5"/>
<path d="M563.20,351.09L565.68,354.39L563.20,357.69L560.73,354.39Z" fill="#ff1a1a" stroke="#ff1a1a" stroke-width="0.5"/>
</g>
<rect x="423.9" y="288.7" width="139.3" height="90.4" fill="none" stroke="#111" stroke-width="1.3"/>
<path d="M423.9,379.1v5.8M451.76,379.1v5.8M479.62,379.1v5.8M507.48,379.1v5.8M535.34,379.1v5.8M563.2,379.1v5.8M423.9,379.1v3.0M429.47,379.1v3.0M435.04,379.1v3.0M440.62,379.1v3.0M446.19,379.1v3.0M451.76,379.1v3.0M457.33,379.1v3.0M462.9,379.1v3.0M468.48,379.1v3.0M474.05,379.1v3.0M479.62,379.1v3.0M485.19,379.1v3.0M490.76,379.1v3.0M496.34,379.1v3.0M501.91,379.1v3.0M507.48,379.1v3.0M513.05,379.1v3.0M518.62,379.1v3.0M524.2,379.1v3.0M529.77,379.1v3.0M535.34,379.1v3.0M540.91,379.1v3.0M546.48,379.1v3.0M552.06,379.1v3.0M557.63,379.1v3.0M563.2,379.1v3.0" stroke="#111" stroke-width="1.1" fill="none"/>
<text x="423.9" y="398.6" font-family="'Liberation Serif', serif" font-size="11.2" text-anchor="middle" fill="#1a1a1a">0.5</text>
<text x="451.76" y="398.6" font-family="'Liberation Serif', serif" font-size="11.2" text-anchor="middle" fill="#1a1a1a">0.6</text>
<text x="479.62" y="398.6" font-family="'Liberation Serif', serif" font-size="11.2" text-anchor="middle" fill="#1a1a1a">0.7</text>
<text x="507.48" y="398.6" font-family="'Liberation Serif', serif" font-size="11.2" text-anchor="middle" fill="#1a1a1a">0.8</text>
<text x="535.34" y="398.6" font-family="'Liberation Serif', serif" font-size="11.2" text-anchor="middle" fill="#1a1a1a">0.9</text>
<text x="563.2" y="398.6" font-family="'Liberation Serif', serif" font-size="11.2" text-anchor="middle" fill="#1a1a1a">1.0</text>
<path d="M423.9,379.1h-5.8M423.9,348.97h-5.8M423.9,318.83h-5.8M423.9,288.7h-5.8M423.9,379.1h-3.0M423.9,373.07h-3.0M423.9,367.05h-3.0M423.9,361.02h-3.0M423.9,354.99h-3.0M423.9,348.97h-3.0M423.9,342.94h-3.0M423.9,336.91h-3.0M423.9,330.89h-3.0M423.9,324.86h-3.0M423.9,318.83h-3.0M423.9,312.81h-3.0M423.9,306.78h-3.0M423.9,300.75h-3.0M423.9,294.73h-3.0M423.9,288.7h-3.0" stroke="#111" stroke-width="1.1" fill="none"/>
<text x="411.3" y="383.1" font-family="'Liberation Serif', serif" font-size="11.2" text-anchor="end" fill="#1a1a1a">0.0</text>
<text x="411.3" y="352.97" font-family="'Liberation Serif', serif" font-size="11.2" text-anchor="end" fill="#1a1a1a">0.1</text>
<text x="411.3" y="322.83" font-family="'Liberation Serif', serif" font-size="11.2" text-anchor="end" fill="#1a1a1a">0.2</text>
<text x="411.3" y="292.7" font-family="'Liberation Serif', serif" font-size="11.2" text-anchor="end" fill="#1a1a1a">0.3</text>
<path d="M396.1,634H675M396.1,625.76H675M396.1,617.53H675M396.1,609.29H675M396.1,601.06H675M396.1,592.83H675M396.1,584.59H675M396.1,576.36H675M396.1,568.12H675M396.1,559.88H675M396.1,551.65H675M396.1,543.41H675M396.1,535.18H675M396.1,526.95H675M396.1,518.71H675M396.1,510.48H675M396.1,502.24H675M396.1,494H675M396.1,485.77H675M396.1,477.54H675M396.1,469.3H675" stroke="#f1f1f1" stroke-width="0.9" fill="none"/>
<path d="M396.1,634H675M396.1,613.41H675M396.1,592.83H675M396.1,572.24H675M396.1,551.65H675M396.1,531.06H675M396.1,510.48H675M396.1,489.89H675M396.1,469.3H675" stroke="#e0e0e0" stroke-width="1.0" fill="none"/>
<path d="M396.1,469.3V634M451.88,469.3V634M507.66,469.3V634M563.44,469.3V634M619.22,469.3V634M675,469.3V634" stroke="#d4d4d4" stroke-width="1.0" fill="none"/>
<g clip-path="url(#c7)">
<path d="M396.1,628.4L398.89,629.39L401.68,630.38L404.47,631.36L407.26,632.35L410.05,632.25L412.83,632.15L415.62,632.04L418.41,631.94L421.2,631.76L423.99,631.57L426.78,631.39L429.57,631.2L432.36,630.94L435.15,630.69L437.94,630.43L440.72,630.17L443.51,629.87L446.3,629.57L449.09,629.28L451.88,628.98L454.67,628.65L457.46,628.3L460.25,627.92L463.04,627.53L465.83,627.13L468.61,626.72L471.4,626.29L474.19,625.85L476.98,625.39L479.77,624.92L482.56,624.44L485.35,623.93L488.14,623.41L490.93,622.87L493.72,622.31L496.5,621.69L499.29,621.01L502.08,620.28L504.87,619.48L507.66,618.64L510.45,617.74L513.24,616.77L516.03,615.75L518.82,614.71L521.61,613.65L524.39,612.57L527.18,611.43L529.97,610.22L532.76,608.89L535.55,607.45L538.34,605.98L541.13,604.55L543.92,603.22L546.71,601.94L549.5,600.66L552.28,599.31L555.07,597.87L557.86,596.38L560.65,594.85L563.44,593.29L566.23,591.7L569.02,590.09L571.81,588.44L574.6,586.75L577.38,585L580.17,583.19L582.96,581.3L585.75,579.32L588.54,577.24L591.33,575.06L594.12,572.78L596.91,570.42L599.7,567.98L602.49,565.47L605.27,562.91L608.06,560.31L610.85,557.67L613.64,554.95L616.43,552.16L619.22,549.32L622.01,546.42L624.8,543.48L627.59,540.51L630.38,537.52L633.16,534.52L635.95,531.5L638.74,528.45L641.53,525.37L644.32,522.25L647.11,519.08L649.9,515.84L652.69,512.53L655.48,509.15L658.27,505.7L661.06,502.2L663.84,498.63L666.63,495.01L669.42,491.33L672.21,487.6L675,483.81" fill="none" stroke="#a0a0a0" stroke-width="1.6"/>
<path d="M396.1,624.94L398.89,626.2L401.68,627.45L404.47,628.71L407.26,629.96L410.05,630.13L412.83,630.29L415.62,630.46L418.41,630.62L421.2,630.58L423.99,630.54L426.78,630.5L429.57,630.46L432.36,630.26L435.15,630.07L437.94,629.87L440.72,629.68L443.51,629.47L446.3,629.26L449.09,629.06L451.88,628.85L454.67,628.53L457.46,628.18L460.25,627.81L463.04,627.43L465.83,627.04L468.61,626.64L471.4,626.23L474.19,625.8L476.98,625.36L479.77,624.91L482.56,624.44L485.35,623.95L488.14,623.45L490.93,622.94L493.72,622.4L496.5,621.81L499.29,621.16L502.08,620.46L504.87,619.71L507.66,618.91L510.45,618.06L513.24,617.15L516.03,616.19L518.82,615.21L521.61,614.22L524.39,613.21L527.18,612.15L529.97,611.02L532.76,609.79L535.55,608.45L538.34,607.09L541.13,605.77L543.92,604.55L546.71,603.37L549.5,602.19L552.28,600.95L555.07,599.64L557.86,598.27L560.65,596.87L563.44,595.45L566.23,594L569.02,592.54L571.81,591.04L574.6,589.5L577.38,587.92L580.17,586.28L582.96,584.58L585.75,582.79L588.54,580.92L591.33,578.96L594.12,576.91L596.91,574.79L599.7,572.61L602.49,570.36L605.27,568.08L608.06,565.76L610.85,563.41L613.64,560.99L616.43,558.51L619.22,555.99L622.01,553.42L624.8,550.82L627.59,548.2L630.38,545.56L633.16,542.91L635.95,540.25L638.74,537.57L641.53,534.86L644.32,532.13L647.11,529.34L649.9,526.51L652.69,523.61L655.48,520.65L658.27,517.64L661.06,514.59L663.84,511.48L666.63,508.33L669.42,505.13L672.21,501.88L675,498.59" fill="none" stroke="#a0a0a0" stroke-width="1.6"/>
<path d="M396.1,632.35L398.89,632.39L401.68,632.44L404.47,632.48L407.26,632.52L410.05,632.39L412.83,632.27L415.62,632.15L418.41,632.02L421.2,631.9L423.99,631.78L426.78,631.65L429.57,631.53L432.36,631.41L435.15,631.28L437.94,631.16L440.72,631.04L443.51,630.88L446.3,630.73L449.09,630.57L451.88,630.42L454.67,630.19L457.46,629.93L460.25,629.66L463.04,629.38L465.83,629.09L468.61,628.8L471.4,628.49L474.19,628.18L476.98,627.85L479.77,627.52L482.56,627.17L485.35,626.8L488.14,626.43L490.93,626.05L493.72,625.64L496.5,625.2L499.29,624.71L502.08,624.18L504.87,623.62L507.66,623.01L510.45,622.37L513.24,621.67L516.03,620.94L518.82,620.19L521.61,619.43L524.39,618.65L527.18,617.84L529.97,616.97L532.76,616.01L535.55,614.98L538.34,613.92L541.13,612.89L543.92,611.94L546.71,611.02L549.5,610.09L552.28,609.12L555.07,608.09L557.86,607.02L560.65,605.91L563.44,604.79L566.23,603.65L569.02,602.49L571.81,601.3L574.6,600.08L577.38,598.82L580.17,597.52L582.96,596.16L585.75,594.74L588.54,593.24L591.33,591.67L594.12,590.03L596.91,588.32L599.7,586.56L602.49,584.76L605.27,582.91L608.06,581.04L610.85,579.13L613.64,577.17L616.43,575.16L619.22,573.11L622.01,571.02L624.8,568.9L627.59,566.76L630.38,564.6L633.16,562.44L635.95,560.26L638.74,558.06L641.53,555.84L644.32,553.59L647.11,551.3L649.9,548.96L652.69,546.57L655.48,544.13L658.27,541.64L661.06,539.11L663.84,536.54L666.63,533.92L669.42,531.26L672.21,528.57L675,525.83" fill="none" stroke="#a0a0a0" stroke-width="1.6"/>
<path d="M396.1,630.71L398.89,631.24L401.68,631.78L404.47,632.31L407.26,632.85L410.05,632.95L412.83,633.05L415.62,633.16L418.41,633.26L421.2,632.83L423.99,632.39L426.78,631.96L429.57,631.53L432.36,631.79L435.15,632.04L437.94,632.3L440.72,632.56L443.51,632.61L446.3,632.66L449.09,632.71L451.88,632.76L454.67,632.66L457.46,632.54L460.25,632.42L463.04,632.28L465.83,632.14L468.61,632L471.4,631.84L474.19,631.68L476.98,631.51L479.77,631.33L482.56,631.15L485.35,630.95L488.14,630.74L490.93,630.52L493.72,630.29L496.5,630.04L499.29,629.75L502.08,629.43L504.87,629.09L507.66,628.71L510.45,628.31L513.24,627.86L516.03,627.38L518.82,626.89L521.61,626.37L524.39,625.84L527.18,625.28L529.97,624.66L532.76,623.98L535.55,623.22L538.34,622.44L541.13,621.67L543.92,620.94L546.71,620.23L549.5,619.51L552.28,618.74L555.07,617.91L557.86,617.04L560.65,616.14L563.44,615.2L566.23,614.25L569.02,613.26L571.81,612.24L574.6,611.18L577.38,610.08L580.17,608.92L582.96,607.7L585.75,606.41L588.54,605.04L591.33,603.58L594.12,602.04L596.91,600.43L599.7,598.74L602.49,596.99L605.27,595.18L608.06,593.33L610.85,591.42L613.64,589.43L616.43,587.38L619.22,585.26L622.01,583.08L624.8,580.84L627.59,578.56L630.38,576.25L633.16,573.9L635.95,571.51L638.74,569.08L641.53,566.61L644.32,564.08L647.11,561.49L649.9,558.82L652.69,556.07L655.48,553.23L658.27,550.32L661.06,547.33L663.84,544.27L666.63,541.13L669.42,537.92L672.21,534.64L675,531.28" fill="none" stroke="#a0a0a0" stroke-width="1.6"/>
<path d="M396.1,632.52L398.89,632.55L401.68,632.58L404.47,632.61L407.26,632.64L410.05,632.55L412.83,632.46L415.62,632.36L418.41,632.27L421.2,632.17L423.99,632.06L426.78,631.96L429.57,631.86L432.36,631.76L435.15,631.65L437.94,631.55L440.72,631.45L443.51,631.26L446.3,631.08L449.09,630.89L451.88,630.71L454.67,630.49L457.46,630.26L460.25,630.01L463.04,629.75L465.83,629.49L468.61,629.22L471.4,628.94L474.19,628.65L476.98,628.35L479.77,628.04L482.56,627.73L485.35,627.39L488.14,627.05L490.93,626.7L493.72,626.33L496.5,625.92L499.29,625.48L502.08,624.99L504.87,624.47L507.66,623.92L510.45,623.33L513.24,622.69L516.03,622.02L518.82,621.33L521.61,620.64L524.39,619.92L527.18,619.18L529.97,618.38L532.76,617.51L535.55,616.56L538.34,615.59L541.13,614.65L543.92,613.78L546.71,612.94L549.5,612.09L552.28,611.21L555.07,610.26L557.86,609.28L560.65,608.27L563.44,607.25L566.23,606.2L569.02,605.14L571.81,604.06L574.6,602.94L577.38,601.79L580.17,600.6L582.96,599.36L585.75,598.06L588.54,596.69L591.33,595.25L594.12,593.75L596.91,592.2L599.7,590.59L602.49,588.94L605.27,587.26L608.06,585.55L610.85,583.81L613.64,582.02L616.43,580.18L619.22,578.31L622.01,576.4L624.8,574.47L627.59,572.51L630.38,570.54L633.16,568.57L635.95,566.58L638.74,564.57L641.53,562.54L644.32,560.49L647.11,558.4L649.9,556.27L652.69,554.09L655.48,551.86L658.27,549.59L661.06,547.28L663.84,544.93L666.63,542.55L669.42,540.12L672.21,537.66L675,535.17" fill="none" stroke="#a0a0a0" stroke-width="1.6"/>
<path d="M396.1,632.64L398.89,632.67L401.68,632.7L404.47,632.73L407.26,632.76L410.05,632.7L412.83,632.64L415.62,632.58L418.41,632.52L421.2,632.44L423.99,632.35L426.78,632.27L429.57,632.19L432.36,632.08L435.15,631.96L437.94,631.85L440.72,631.74L443.51,631.56L446.3,631.39L449.09,631.21L451.88,631.04L454.67,630.84L457.46,630.63L460.25,630.4L463.04,630.17L465.83,629.93L468.61,629.68L471.4,629.43L474.19,629.16L476.98,628.89L479.77,628.61L482.56,628.32L485.35,628.01L488.14,627.7L490.93,627.38L493.72,627.04L496.5,626.67L499.29,626.26L502.08,625.82L504.87,625.34L507.66,624.83L510.45,624.29L513.24,623.7L516.03,623.09L518.82,622.45L521.61,621.81L524.39,621.16L527.18,620.47L529.97,619.74L532.76,618.93L535.55,618.06L538.34,617.16L541.13,616.3L543.92,615.49L546.71,614.71L549.5,613.93L552.28,613.11L555.07,612.24L557.86,611.33L560.65,610.4L563.44,609.44L566.23,608.48L569.02,607.5L571.81,606.49L574.6,605.46L577.38,604.39L580.17,603.28L582.96,602.13L585.75,600.92L588.54,599.65L591.33,598.31L594.12,596.92L596.91,595.47L599.7,593.98L602.49,592.44L605.27,590.87L608.06,589.28L610.85,587.66L613.64,585.99L616.43,584.28L619.22,582.53L622.01,580.75L624.8,578.95L627.59,577.12L630.38,575.28L633.16,573.44L635.95,571.58L638.74,569.7L641.53,567.81L644.32,565.89L647.11,563.93L649.9,561.94L652.69,559.9L655.48,557.81L658.27,555.69L661.06,553.52L663.84,551.33L666.63,549.09L669.42,546.82L672.21,544.51L675,542.17" fill="none" stroke="#a0a0a0" stroke-width="1.6"/>
<path d="M396.1,632.76L398.89,632.8L401.68,632.83L404.47,632.86L407.26,632.89L410.05,632.84L412.83,632.79L415.62,632.73L418.41,632.68L421.2,632.6L423.99,632.52L426.78,632.44L429.57,632.35L432.36,632.25L435.15,632.15L437.94,632.04L440.72,631.94L443.51,631.79L446.3,631.63L449.09,631.48L451.88,631.32L454.67,631.15L457.46,630.96L460.25,630.75L463.04,630.54L465.83,630.33L468.61,630.11L471.4,629.88L474.19,629.64L476.98,629.4L479.77,629.15L482.56,628.89L485.35,628.61L488.14,628.33L490.93,628.04L493.72,627.74L496.5,627.41L499.29,627.04L502.08,626.64L504.87,626.21L507.66,625.76L510.45,625.27L513.24,624.75L516.03,624.2L518.82,623.64L521.61,623.06L524.39,622.48L527.18,621.86L529.97,621.21L532.76,620.49L535.55,619.71L538.34,618.91L541.13,618.14L543.92,617.42L546.71,616.72L549.5,616.03L552.28,615.3L555.07,614.52L557.86,613.71L560.65,612.88L563.44,612.03L566.23,611.17L569.02,610.29L571.81,609.4L574.6,608.48L577.38,607.52L580.17,606.54L582.96,605.51L585.75,604.44L588.54,603.3L591.33,602.12L594.12,600.88L596.91,599.59L599.7,598.26L602.49,596.9L605.27,595.5L608.06,594.09L610.85,592.64L613.64,591.16L616.43,589.64L619.22,588.09L622.01,586.51L624.8,584.91L627.59,583.29L630.38,581.65L633.16,580.01L635.95,578.36L638.74,576.7L641.53,575.02L644.32,573.31L647.11,571.58L649.9,569.81L652.69,568L655.48,566.15L658.27,564.27L661.06,562.35L663.84,560.4L666.63,558.42L669.42,556.41L672.21,554.36L675,552.29" fill="none" stroke="#a0a0a0" stroke-width="1.6"/>
<path d="M396.1,632.85L398.89,632.88L401.68,632.91L404.47,632.94L407.26,632.97L410.05,632.93L412.83,632.89L415.62,632.85L418.41,632.81L421.2,632.73L423.99,632.66L426.78,632.59L429.57,632.52L432.36,632.43L435.15,632.33L437.94,632.24L440.72,632.15L443.51,632.03L446.3,631.92L449.09,631.81L451.88,631.69L454.67,631.55L457.46,631.38L460.25,631.21L463.04,631.03L465.83,630.85L468.61,630.67L471.4,630.47L474.19,630.27L476.98,630.07L479.77,629.86L482.56,629.64L485.35,629.41L488.14,629.17L490.93,628.93L493.72,628.67L496.5,628.39L499.29,628.09L502.08,627.76L504.87,627.4L507.66,627.02L510.45,626.61L513.24,626.18L516.03,625.72L518.82,625.25L521.61,624.77L524.39,624.28L527.18,623.78L529.97,623.23L532.76,622.64L535.55,621.99L538.34,621.33L541.13,620.69L543.92,620.1L546.71,619.52L549.5,618.95L552.28,618.34L555.07,617.7L557.86,617.03L560.65,616.35L563.44,615.65L566.23,614.94L569.02,614.22L571.81,613.49L574.6,612.73L577.38,611.95L580.17,611.14L582.96,610.3L585.75,609.42L588.54,608.49L591.33,607.52L594.12,606.51L596.91,605.45L599.7,604.37L602.49,603.25L605.27,602.12L608.06,600.96L610.85,599.79L613.64,598.58L616.43,597.34L619.22,596.08L622.01,594.79L624.8,593.49L627.59,592.17L630.38,590.84L633.16,589.51L635.95,588.17L638.74,586.82L641.53,585.46L644.32,584.08L647.11,582.67L649.9,581.24L652.69,579.77L655.48,578.28L658.27,576.75L661.06,575.2L663.84,573.63L666.63,572.02L669.42,570.4L672.21,568.75L675,567.07" fill="none" stroke="#a0a0a0" stroke-width="1.6"/>
<path d="M396.1,633.18L398.89,633.18L401.68,633.18L404.47,633.18L407.26,633.18L410.05,633.15L412.83,633.11L415.62,633.08L418.41,633.05L421.2,633L423.99,632.95L426.78,632.9L429.57,632.85L432.36,632.78L435.15,632.7L437.94,632.63L440.72,632.56L443.51,632.47L446.3,632.37L449.09,632.28L451.88,632.19L454.67,632.08L457.46,631.96L460.25,631.83L463.04,631.71L465.83,631.57L468.61,631.44L471.4,631.3L474.19,631.16L476.98,631.01L479.77,630.86L482.56,630.7L485.35,630.54L488.14,630.37L490.93,630.2L493.72,630.02L496.5,629.83L499.29,629.61L502.08,629.38L504.87,629.14L507.66,628.87L510.45,628.59L513.24,628.3L516.03,627.98L518.82,627.66L521.61,627.34L524.39,627.01L527.18,626.67L529.97,626.3L532.76,625.9L535.55,625.47L538.34,625.03L541.13,624.6L543.92,624.21L546.71,623.83L549.5,623.45L552.28,623.06L555.07,622.64L557.86,622.2L560.65,621.75L563.44,621.3L566.23,620.84L569.02,620.37L571.81,619.9L574.6,619.41L577.38,618.91L580.17,618.39L582.96,617.85L585.75,617.29L588.54,616.7L591.33,616.08L594.12,615.43L596.91,614.77L599.7,614.08L602.49,613.38L605.27,612.66L608.06,611.94L610.85,611.2L613.64,610.45L616.43,609.68L619.22,608.89L622.01,608.09L624.8,607.28L627.59,606.47L630.38,605.65L633.16,604.83L635.95,604.01L638.74,603.18L641.53,602.34L644.32,601.5L647.11,600.64L649.9,599.76L652.69,598.87L655.48,597.96L658.27,597.04L661.06,596.1L663.84,595.14L666.63,594.18L669.42,593.2L672.21,592.2L675,591.2" fill="none" stroke="#a0a0a0" stroke-width="1.6"/>
<path d="M396.1,633.26L398.89,633.26L401.68,633.26L404.47,633.26L407.26,633.26L410.05,633.24L412.83,633.22L415.62,633.2L418.41,633.18L421.2,633.13L423.99,633.07L426.78,633.02L429.57,632.97L432.36,632.92L435.15,632.87L437.94,632.82L440.72,632.76L443.51,632.68L446.3,632.6L449.09,632.52L451.88,632.44L454.67,632.34L457.46,632.25L460.25,632.14L463.04,632.03L465.83,631.92L468.61,631.81L471.4,631.7L474.19,631.58L476.98,631.46L479.77,631.33L482.56,631.2L485.35,631.07L488.14,630.94L490.93,630.8L493.72,630.65L496.5,630.49L499.29,630.32L502.08,630.13L504.87,629.93L507.66,629.72L510.45,629.49L513.24,629.25L516.03,629L518.82,628.74L521.61,628.48L524.39,628.21L527.18,627.94L529.97,627.65L532.76,627.33L535.55,626.98L538.34,626.63L541.13,626.3L543.92,625.98L546.71,625.68L549.5,625.38L552.28,625.07L555.07,624.74L557.86,624.39L560.65,624.04L563.44,623.68L566.23,623.32L569.02,622.96L571.81,622.58L574.6,622.2L577.38,621.81L580.17,621.4L582.96,620.98L585.75,620.54L588.54,619.31L591.33,618.07L594.12,616.86L596.91,615.68L599.7,614.55L602.49,613.51L605.27,612.55L608.06,611.69L610.85,610.94L613.64,610.3L616.43,609.76L619.22,609.34L622.01,609.02L624.8,608.8L627.59,608.68L630.38,608.64L633.16,608.67L635.95,608.76L638.74,608.88L641.53,609.01L644.32,608.37L647.11,607.71L649.9,607.04L652.69,606.36L655.48,605.67L658.27,604.97L661.06,604.25L663.84,603.53L666.63,602.8L669.42,602.05L672.21,601.3L675,600.54" fill="none" stroke="#a0a0a0" stroke-width="1.6"/>
<path d="M396.1,633.38L398.89,633.39L401.68,633.4L404.47,633.41L407.26,633.42L410.05,633.4L412.83,633.38L415.62,633.36L418.41,633.34L421.2,633.31L423.99,633.28L426.78,633.25L429.57,633.22L432.36,633.17L435.15,633.11L437.94,633.06L440.72,633.01L443.51,632.95L446.3,632.89L449.09,632.83L451.88,632.76L454.67,632.69L457.46,632.61L460.25,632.52L463.04,632.43L465.83,632.33L468.61,632.24L471.4,632.14L474.19,632.04L476.98,631.93L479.77,631.82L482.56,631.71L485.35,631.6L488.14,631.48L490.93,631.36L493.72,631.23L496.5,631.09L499.29,630.93L502.08,630.77L504.87,630.59L507.66,630.4L510.45,630.2L513.24,629.98L516.03,629.76L518.82,629.52L521.61,629.29L524.39,629.05L527.18,628.8L529.97,628.53L532.76,628.24L535.55,627.92L538.34,627.6L541.13,627.29L543.92,627L546.71,626.72L549.5,626.44L552.28,626.15L555.07,625.84L557.86,625.52L560.65,625.19L563.44,624.85L566.23,624.51L569.02,624.17L571.81,623.81L574.6,623.45L577.38,623.08L580.17,622.69L582.96,622.29L585.75,621.87L588.54,621.43L591.33,620.96L594.12,620.48L596.91,619.98L599.7,619.47L602.49,618.94L605.27,618.4L608.06,617.86L610.85,617.3L613.64,616.74L616.43,616.15L619.22,615.56L622.01,614.96L624.8,614.35L627.59,613.73L630.38,613.11L633.16,612.49L635.95,611.86L638.74,611.23L641.53,610.6L644.32,609.96L647.11,609.3L649.9,608.64L652.69,607.96L655.48,607.26L658.27,606.56L661.06,605.84L663.84,605.11L666.63,604.37L669.42,603.62L672.21,602.86L675,602.09" fill="none" stroke="#a0a0a0" stroke-width="1.6"/>
<path d="M396.1,633.67L398.89,633.66L401.68,633.65L404.47,633.64L407.26,633.63L410.05,633.62L412.83,633.61L415.62,633.6L418.41,633.59L421.2,633.58L423.99,633.57L426.78,633.56L429.57,633.55L432.36,633.53L435.15,633.51L437.94,633.49L440.72,633.46L443.51,633.44L446.3,633.42L449.09,633.4L451.88,633.38L454.67,633.35L457.46,633.3L460.25,633.26L463.04,633.22L465.83,633.17L468.61,633.13L471.4,633.08L474.19,633.03L476.98,632.98L479.77,632.93L482.56,632.87L485.35,632.82L488.14,632.76L490.93,632.7L493.72,632.64L496.5,632.57L499.29,632.5L502.08,632.42L504.87,632.33L507.66,632.24L510.45,632.15L513.24,632.05L516.03,631.94L518.82,631.83L521.61,631.72L524.39,631.6L527.18,631.49L529.97,631.36L532.76,631.22L535.55,631.07L538.34,630.92L541.13,630.77L543.92,630.64L546.71,630.51L549.5,630.38L552.28,630.24L555.07,630.1L557.86,629.95L560.65,629.79L563.44,629.63L566.23,629.48L569.02,629.32L571.81,629.15L574.6,628.98L577.38,628.81L580.17,628.63L582.96,628.44L585.75,628.25L588.54,628.04L591.33,627.83L594.12,627.61L596.91,627.38L599.7,627.14L602.49,626.9L605.27,626.65L608.06,626.4L610.85,626.15L613.64,625.88L616.43,625.62L619.22,625.34L622.01,625.07L624.8,624.79L627.59,624.51L630.38,624.22L633.16,623.94L635.95,623.65L638.74,623.37L641.53,623.08L644.32,622.78L647.11,622.49L649.9,622.18L652.69,621.87L655.48,621.56L658.27,621.24L661.06,620.91L663.84,620.58L666.63,620.25L669.42,619.91L672.21,619.56L675,619.21" fill="none" stroke="#a0a0a0" stroke-width="1.6"/>
<path d="M396.1,631.43L398.89,631.97L401.68,632.33L404.47,632.54L407.26,632.61L410.05,632.59L412.83,632.55L415.62,632.5L418.41,632.44L421.2,632.35L423.99,632.23L426.78,632.1L429.57,631.98L432.36,631.88L435.15,631.78L437.94,631.69L440.72,631.58L443.51,631.44L446.3,631.29L449.09,631.12L451.88,630.93L454.67,630.73L457.46,630.5L460.25,630.26L463.04,630.02L465.83,629.76L468.61,629.5L471.4,629.23L474.19,628.95L476.98,628.66L479.77,628.37L482.56,628.06L485.35,627.73L488.14,627.4L490.93,627.06L493.72,626.69L496.5,626.3L499.29,625.86L502.08,625.39L504.87,624.88L507.66,624.33L510.45,623.75L513.24,623.12L516.03,622.46L518.82,621.78L521.61,621.1L524.39,620.39L527.18,619.65L529.97,618.86L532.76,617.99L535.55,617.05L538.34,616.08L541.13,615.14L543.92,614.27L546.71,613.43L549.5,612.58L552.28,611.69L555.07,610.74L557.86,609.76L560.65,608.74L563.44,607.71L566.23,606.66L569.02,605.59L571.81,604.49L574.6,603.36L577.38,602.2L580.17,600.99L582.96,599.73L585.75,598.41L588.54,597.02L591.33,595.56L594.12,594.04L596.91,592.45L599.7,590.82L602.49,589.13L605.27,587.41L608.06,585.66L610.85,583.88L613.64,582.05L616.43,580.17L619.22,578.25L622.01,576.29L624.8,574.3L627.59,572.29L630.38,570.26L633.16,568.22L635.95,566.17L638.74,564.1L641.53,562.01L644.32,559.89L647.11,557.73L649.9,555.52L652.69,553.26L655.48,550.95L658.27,548.6L661.06,546.21L663.84,543.77L666.63,541.29L669.42,538.77L672.21,536.21L675,533.61L675,579.53L672.21,580.94L669.42,582.32L666.63,583.69L663.84,585.04L661.06,586.36L658.27,587.66L655.48,588.94L652.69,590.19L649.9,591.42L647.11,592.61L644.32,593.78L641.53,594.94L638.74,596.07L635.95,597.19L633.16,598.31L630.38,599.41L627.59,600.51L624.8,601.6L622.01,602.68L619.22,603.75L616.43,604.79L613.64,605.81L610.85,606.8L608.06,607.77L605.27,608.72L602.49,609.65L599.7,610.57L596.91,611.46L594.12,612.32L591.33,613.14L588.54,613.93L585.75,614.69L582.96,615.41L580.17,616.09L577.38,616.74L574.6,617.38L571.81,617.99L569.02,618.58L566.23,619.16L563.44,619.73L560.65,620.29L557.86,620.85L555.07,621.38L552.28,621.89L549.5,622.38L546.71,622.84L543.92,623.29L541.13,623.77L538.34,624.28L535.55,624.8L532.76,625.31L529.97,625.79L527.18,626.21L524.39,626.61L521.61,627L518.82,627.37L516.03,627.74L513.24,628.1L510.45,628.44L507.66,628.75L504.87,629.05L502.08,629.33L499.29,629.58L496.5,629.82L493.72,630.04L490.93,630.23L488.14,630.42L485.35,630.6L482.56,630.77L479.77,630.94L476.98,631.1L474.19,631.26L471.4,631.41L468.61,631.56L465.83,631.7L463.04,631.84L460.25,631.97L457.46,632.1L454.67,632.22L451.88,632.33L449.09,632.43L446.3,632.53L443.51,632.61L440.72,632.69L437.94,632.75L435.15,632.8L432.36,632.85L429.57,632.9L426.78,632.97L423.99,633.04L421.2,633.11L418.41,633.15L415.62,633.19L412.83,633.22L410.05,633.24L407.26,633.24L404.47,633.21L401.68,633.09L398.89,632.9L396.1,632.61Z" fill="#e8787c" fill-opacity="0.35" stroke="none"/>
<path d="M396.1,631.43L398.89,631.97L401.68,632.33L404.47,632.54L407.26,632.61L410.05,632.59L412.83,632.55L415.62,632.5L418.41,632.44L421.2,632.35L423.99,632.23L426.78,632.1L429.57,631.98L432.36,631.88L435.15,631.78L437.94,631.69L440.72,631.58L443.51,631.44L446.3,631.29L449.09,631.12L451.88,630.93L454.67,630.73L457.46,630.5L460.25,630.26L463.04,630.02L465.83,629.76L468.61,629.5L471.4,629.23L474.19,628.95L476.98,628.66L479.77,628.37L482.56,628.06L485.35,627.73L488.14,627.4L490.93,627.06L493.72,626.69L496.5,626.3L499.29,625.86L502.08,625.39L504.87,624.88L507.66,624.33L510.45,623.75L513.24,623.12L516.03,622.46L518.82,621.78L521.61,621.1L524.39,620.39L527.18,619.65L529.97,618.86L532.76,617.99L535.55,617.05L538.34,616.08L541.13,615.14L543.92,614.27L546.71,613.43L549.5,612.58L552.28,611.69L555.07,610.74L557.86,609.76L560.65,608.74L563.44,607.71L566.23,606.66L569.02,605.59L571.81,604.49L574.6,603.36L577.38,602.2L580.17,600.99L582.96,599.73L585.75,598.41L588.54,597.02L591.33,595.56L594.12,594.04L596.91,592.45L599.7,590.82L602.49,589.13L605.27,587.41L608.06,585.66L610.85,583.88L613.64,582.05L616.43,580.17L619.22,578.25L622.01,576.29L624.8,574.3L627.59,572.29L630.38,570.26L633.16,568.22L635.95,566.17L638.74,564.1L641.53,562.01L644.32,559.89L647.11,557.73L649.9,555.52L652.69,553.26L655.48,550.95L658.27,548.6L661.06,546.21L663.84,543.77L666.63,541.29L669.42,538.77L672.21,536.21L675,533.61" fill="none" stroke="#e06060" stroke-width="0.6" opacity="0.6"/>
<path d="M396.1,632.61L398.89,632.9L401.68,633.09L404.47,633.21L407.26,633.24L410.05,633.24L412.83,633.22L415.62,633.19L418.41,633.15L421.2,633.11L423.99,633.04L426.78,632.97L429.57,632.9L432.36,632.85L435.15,632.8L437.94,632.75L440.72,632.69L443.51,632.61L446.3,632.53L449.09,632.43L451.88,632.33L454.67,632.22L457.46,632.1L460.25,631.97L463.04,631.84L465.83,631.7L468.61,631.56L471.4,631.41L474.19,631.26L476.98,631.1L479.77,630.94L482.56,630.77L485.35,630.6L488.14,630.42L490.93,630.23L493.72,630.04L496.5,629.82L499.29,629.58L502.08,629.33L504.87,629.05L507.66,628.75L510.45,628.44L513.24,628.1L516.03,627.74L518.82,627.37L521.61,627L524.39,626.61L527.18,626.21L529.97,625.79L532.76,625.31L535.55,624.8L538.34,624.28L541.13,623.77L543.92,623.29L546.71,622.84L549.5,622.38L552.28,621.89L555.07,621.38L557.86,620.85L560.65,620.29L563.44,619.73L566.23,619.16L569.02,618.58L571.81,617.99L574.6,617.38L577.38,616.74L580.17,616.09L582.96,615.41L585.75,614.69L588.54,613.93L591.33,613.14L594.12,612.32L596.91,611.46L599.7,610.57L602.49,609.65L605.27,608.72L608.06,607.77L610.85,606.8L613.64,605.81L616.43,604.79L619.22,603.75L622.01,602.68L624.8,601.6L627.59,600.51L630.38,599.41L633.16,598.31L635.95,597.19L638.74,596.07L641.53,594.94L644.32,593.78L647.11,592.61L649.9,591.42L652.69,590.19L655.48,588.94L658.27,587.66L661.06,586.36L663.84,585.04L666.63,583.69L669.42,582.32L672.21,580.94L675,579.53" fill="none" stroke="#e06060" stroke-width="0.6" opacity="0.6"/>
<path d="M396.1,632.01L407.26,632.92L418.41,632.79L429.57,632.43L440.72,632.12L451.88,631.62L463.04,630.91L474.19,630.09L485.35,629.14L496.5,628.03L507.66,626.51L518.82,624.53L529.97,622.27L541.13,619.38L552.28,616.71L563.44,613.62L574.6,610.25L585.75,606.41L596.91,601.79L608.06,596.53L619.22,590.78L630.38,584.59L641.53,578.19L652.69,571.41L663.84,564.05L675,556.18" fill="none" stroke="#ff1a1a" stroke-width="2.0"/>
<path d="M396.10,628.81L398.50,632.01L396.10,635.21L393.70,632.01Z" fill="#ff1a1a" stroke="#ff1a1a" stroke-width="0.5"/>
<path d="M407.26,629.72L409.66,632.92L407.26,636.12L404.86,632.92Z" fill="#ff1a1a" stroke="#ff1a1a" stroke-width="0.5"/>
<path d="M418.41,629.59L420.81,632.79L418.41,635.99L416.01,632.79Z" fill="#ff1a1a" stroke="#ff1a1a" stroke-width="0.5"/>
<path d="M429.57,629.23L431.97,632.43L429.57,635.63L427.17,632.43Z" fill="#ff1a1a" stroke="#ff1a1a" stroke-width="0.5"/>
<path d="M440.72,628.92L443.12,632.12L440.72,635.32L438.32,632.12Z" fill="#ff1a1a" stroke="#ff1a1a" stroke-width="0.5"/>
<path d="M451.88,628.42L454.28,631.62L451.88,634.82L449.48,631.62Z" fill="#ff1a1a" stroke="#ff1a1a" stroke-width="0.5"/>
<path d="M463.04,627.71L465.44,630.91L463.04,634.11L460.64,630.91Z" fill="#ff1a1a" stroke="#ff1a1a" stroke-width="0.5"/>
<path d="M474.19,626.89L476.59,630.09L474.19,633.29L471.79,630.09Z" fill="#ff1a1a" stroke="#ff1a1a" stroke-width="0.5"/>
<path d="M485.35,625.94L487.75,629.14L485.35,632.34L482.95,629.14Z" fill="#ff1a1a" stroke="#ff1a1a" stroke-width="0.5"/>
<path d="M496.50,624.83L498.90,628.03L496.50,631.23L494.10,628.03Z" fill="#ff1a1a" stroke="#ff1a1a" stroke-width="0.5"/>
<path d="M507.66,623.31L510.06,626.51L507.66,629.71L505.26,626.51Z" fill="#ff1a1a" stroke="#ff1a1a" stroke-width="0.5"/>
<path d="M518.82,621.33L521.22,624.53L518.82,627.73L516.42,624.53Z" fill="#ff1a1a" stroke="#ff1a1a" stroke-width="0.5"/>
<path d="M529.97,619.07L532.37,622.27L529.97,625.47L527.57,622.27Z" fill="#ff1a1a" stroke="#ff1a1a" stroke-width="0.5"/>
<path d="M541.13,616.18L543.53,619.38L541.13,622.58L538.73,619.38Z" fill="#ff1a1a" stroke="#ff1a1a" stroke-width="0.5"/>
<path d="M552.28,613.51L554.68,616.71L552.28,619.91L549.88,616.71Z" fill="#ff1a1a" stroke="#ff1a1a" stroke-width="0.5"/>
<path d="M563.44,610.42L565.84,613.62L563.44,616.82L561.04,613.62Z" fill="#ff1a1a" stroke="#ff1a1a" stroke-width="0.5"/>
<path d="M574.60,607.05L577.00,610.25L574.60,613.45L572.20,610.25Z" fill="#ff1a1a" stroke="#ff1a1a" stroke-width="0.5"/>
<path d="M585.75,603.21L588.15,606.41L585.75,609.61L583.35,606.41Z" fill="#ff1a1a" stroke="#ff1a1a" stroke-width="0.5"/>
<path d="M596.91,598.59L599.31,601.79L596.91,604.99L594.51,601.79Z" fill="#ff1a1a" stroke="#ff1a1a" stroke-width="0.5"/>
<path d="M608.06,593.33L610.46,596.53L608.06,599.73L605.66,596.53Z" fill="#ff1a1a" stroke="#ff1a1a" stroke-width="0.5"/>
<path d="M619.22,587.58L621.62,590.78L619.22,593.98L616.82,590.78Z" fill="#ff1a1a" stroke="#ff1a1a" stroke-width="0.5"/>
<path d="M630.38,581.39L632.78,584.59L630.38,587.79L627.98,584.59Z" fill="#ff1a1a" stroke="#ff1a1a" stroke-width="0.5"/>
<path d="M641.53,574.99L643.93,578.19L641.53,581.39L639.13,578.19Z" fill="#ff1a1a" stroke="#ff1a1a" stroke-width="0.5"/>
<path d="M652.69,568.21L655.09,571.41L652.69,574.61L650.29,571.41Z" fill="#ff1a1a" stroke="#ff1a1a" stroke-width="0.5"/>
<path d="M663.84,560.85L666.24,564.05L663.84,567.25L661.44,564.05Z" fill="#ff1a1a" stroke="#ff1a1a" stroke-width="0.5"/>
<path d="M675.00,552.98L677.40,556.18L675.00,559.38L672.60,556.18Z" fill="#ff1a1a" stroke="#ff1a1a" stroke-width="0.5"/>
<line x1="396.1" y1="627.82" x2="423.9" y2="477.9" stroke="#c8c8c8" stroke-width="1"/>
<line x1="451.88" y1="627.82" x2="563.2" y2="567.7" stroke="#c8c8c8" stroke-width="1"/>
</g>
<rect x="396.1" y="469.3" width="278.9" height="164.7" fill="none" stroke="#111" stroke-width="1.3"/>
<path d="M396.1,634v5.1M451.88,634v5.1M507.66,634v5.1M563.44,634v5.1M619.22,634v5.1M675,634v5.1M396.1,634v2.9M407.26,634v2.9M418.41,634v2.9M429.57,634v2.9M440.72,634v2.9M451.88,634v2.9M463.04,634v2.9M474.19,634v2.9M485.35,634v2.9M496.5,634v2.9M507.66,634v2.9M518.82,634v2.9M529.97,634v2.9M541.13,634v2.9M552.28,634v2.9M563.44,634v2.9M574.6,634v2.9M585.75,634v2.9M596.91,634v2.9M608.06,634v2.9M619.22,634v2.9M630.38,634v2.9M641.53,634v2.9M652.69,634v2.9M663.84,634v2.9M675,634v2.9" stroke="#111" stroke-width="1.1" fill="none"/>
<text x="396.1" y="655.5" font-family="'Liberation Serif', serif" font-size="14.0" text-anchor="middle" fill="#1a1a1a">0.5</text>
<text x="451.88" y="655.5" font-family="'Liberation Serif', serif" font-size="14.0" text-anchor="middle" fill="#1a1a1a">1.0</text>
<text x="507.66" y="655.5" font-family="'Liberation Serif', serif" font-size="14.0" text-anchor="middle" fill="#1a1a1a">1.5</text>
<text x="563.44" y="655.5" font-family="'Liberation Serif', serif" font-size="14.0" text-anchor="middle" fill="#1a1a1a">2.0</text>
<text x="619.22" y="655.5" font-family="'Liberation Serif', serif" font-size="14.0" text-anchor="middle" fill="#1a1a1a">2.5</text>
<text x="675" y="655.5" font-family="'Liberation Serif', serif" font-size="14.0" text-anchor="middle" fill="#1a1a1a">3.0</text>
<path d="M396.1,634h-5.5M396.1,592.83h-5.5M396.1,551.65h-5.5M396.1,510.48h-5.5M396.1,469.3h-5.5M396.1,634h-3.0M396.1,625.76h-3.0M396.1,617.53h-3.0M396.1,609.29h-3.0M396.1,601.06h-3.0M396.1,592.83h-3.0M396.1,584.59h-3.0M396.1,576.36h-3.0M396.1,568.12h-3.0M396.1,559.88h-3.0M396.1,551.65h-3.0M396.1,543.41h-3.0M396.1,535.18h-3.0M396.1,526.95h-3.0M396.1,518.71h-3.0M396.1,510.48h-3.0M396.1,502.24h-3.0M396.1,494h-3.0M396.1,485.77h-3.0M396.1,477.54h-3.0M396.1,469.3h-3.0" stroke="#111" stroke-width="1.1" fill="none"/>
<text x="383.2" y="639" font-family="'Liberation Serif', serif" font-size="14.0" text-anchor="end" fill="#1a1a1a">0</text>
<text x="383.2" y="597.83" font-family="'Liberation Serif', serif" font-size="14.0" text-anchor="end" fill="#1a1a1a">10</text>
<text x="383.2" y="556.65" font-family="'Liberation Serif', serif" font-size="14.0" text-anchor="end" fill="#1a1a1a">20</text>
<text x="383.2" y="515.48" font-family="'Liberation Serif', serif" font-size="14.0" text-anchor="end" fill="#1a1a1a">30</text>
<text x="383.2" y="474.3" font-family="'Liberation Serif', serif" font-size="14.0" text-anchor="end" fill="#1a1a1a">40</text>
<rect x="423.9" y="477.9" width="139.3" height="89.8" fill="#fff"/>
<path d="M423.9,567.7H563.2M423.9,561.71H563.2M423.9,555.73H563.2M423.9,549.74H563.2M423.9,543.75H563.2M423.9,537.77H563.2M423.9,531.78H563.2M423.9,525.79H563.2M423.9,519.81H563.2M423.9,513.82H563.2M423.9,507.83H563.2M423.9,501.85H563.2M423.9,495.86H563.2M423.9,489.87H563.2M423.9,483.89H563.2M423.9,477.9H563.2" stroke="#efefef" stroke-width="0.8" fill="none"/>
<path d="M423.9,477.9V567.7M451.76,477.9V567.7M479.62,477.9V567.7M507.48,477.9V567.7M535.34,477.9V567.7M563.2,477.9V567.7M423.9,567.7H563.2M423.9,537.77H563.2M423.9,507.83H563.2M423.9,477.9H563.2" stroke="#d6d6d6" stroke-width="0.9" fill="none"/>
<g clip-path="url(#c8)">
<path d="M423.9,435.99L451.76,509.03L479.62,518.61L507.48,516.21L535.34,504.84L563.2,492.87" fill="none" stroke="#555" stroke-width="0.8"/>
<path d="M423.9,486.28L451.76,543.75L479.62,537.77L507.48,526.99L535.34,512.02L563.2,494.66" fill="none" stroke="#555" stroke-width="0.8"/>
<path d="M423.9,519.81L451.76,550.94L479.62,556.92L507.48,531.78L535.34,546.75L563.2,549.74" fill="none" stroke="#555" stroke-width="0.8"/>
<path d="M423.9,543.75L451.76,546.15L479.62,538.96L507.48,531.78L535.34,524.6L563.2,515.62" fill="none" stroke="#555" stroke-width="0.8"/>
<path d="M423.9,546.15L451.76,547.94L479.62,542.56L507.48,536.57L535.34,530.58L563.2,519.81" fill="none" stroke="#555" stroke-width="0.8"/>
<path d="M423.9,547.94L451.76,549.74L479.62,546.15L507.48,541.36L535.34,534.77L563.2,524.6" fill="none" stroke="#555" stroke-width="0.8"/>
<path d="M423.9,549.74L451.76,551.54L479.62,548.54L507.48,543.75L535.34,537.77L563.2,528.79" fill="none" stroke="#555" stroke-width="0.8"/>
<path d="M423.9,550.94L451.76,552.73L479.62,550.34L507.48,546.15L535.34,540.76L563.2,534.17" fill="none" stroke="#555" stroke-width="0.8"/>
<path d="M423.9,552.73L451.76,554.53L479.62,552.13L507.48,548.54L535.34,543.75L563.2,537.77" fill="none" stroke="#555" stroke-width="0.8"/>
<path d="M423.9,555.73L451.76,555.73L479.62,553.93L507.48,550.94L535.34,546.75L563.2,541.36" fill="none" stroke="#555" stroke-width="0.8"/>
<path d="M423.9,556.92L451.76,556.92L479.62,555.73L507.48,552.73L535.34,549.74L563.2,544.95" fill="none" stroke="#555" stroke-width="0.8"/>
<path d="M423.9,558.12L451.76,558.12L479.62,556.92L507.48,554.53L535.34,551.54L563.2,547.35" fill="none" stroke="#555" stroke-width="0.8"/>
<path d="M423.9,558.72L451.76,559.32L479.62,558.12L507.48,556.33L535.34,553.33L563.2,549.74" fill="none" stroke="#555" stroke-width="0.8"/>
<path d="M423.9,559.92L451.76,560.52L479.62,559.32L507.48,557.52L535.34,555.13L563.2,552.13" fill="none" stroke="#555" stroke-width="0.8"/>
<path d="M423.9,561.11L451.76,561.11L479.62,560.52L507.48,558.72L535.34,556.92L563.2,554.53" fill="none" stroke="#555" stroke-width="0.8"/>
<path d="M423.9,561.71L451.76,561.71L479.62,561.11L507.48,559.92L535.34,558.12L563.2,556.33" fill="none" stroke="#555" stroke-width="0.8"/>
<path d="M423.9,562.91L451.76,562.31L479.62,561.71L507.48,561.11L535.34,559.92L563.2,558.72" fill="none" stroke="#555" stroke-width="0.8"/>
<path d="M423.9,563.51L451.76,562.91L479.62,562.31L507.48,561.71L535.34,560.52L563.2,559.32" fill="none" stroke="#555" stroke-width="0.8"/>
<path d="M423.9,517.83L451.76,541.96L479.62,542.56L507.48,536.57L535.34,530.58L563.2,521.18L563.2,544.89L535.34,549.74L507.48,553.33L479.62,557.52L451.76,558.12L423.9,556.68Z" fill="#e8787c" fill-opacity="0.35" stroke="none"/>
<path d="M423.9,538.78L451.76,552.01L479.62,550.1L507.48,544.89L535.34,540.4L563.2,533.1" fill="none" stroke="#ff1a1a" stroke-width="1.8"/>
<path d="M423.90,535.48L426.38,538.78L423.90,542.08L421.42,538.78Z" fill="#ff1a1a" stroke="#ff1a1a" stroke-width="0.5"/>
<path d="M451.76,548.71L454.24,552.01L451.76,555.31L449.28,552.01Z" fill="#ff1a1a" stroke="#ff1a1a" stroke-width="0.5"/>
<path d="M479.62,546.80L482.10,550.10L479.62,553.40L477.14,550.10Z" fill="#ff1a1a" stroke="#ff1a1a" stroke-width="0.5"/>
<path d="M507.48,541.59L509.96,544.89L507.48,548.19L505.00,544.89Z" fill="#ff1a1a" stroke="#ff1a1a" stroke-width="0.5"/>
<path d="M535.34,537.10L537.82,540.40L535.34,543.70L532.87,540.40Z" fill="#ff1a1a" stroke="#ff1a1a" stroke-width="0.5"/>
<path d="M563.20,529.80L565.68,533.10L563.20,536.40L560.73,533.10Z" fill="#ff1a1a" stroke="#ff1a1a" stroke-width="0.5"/>
</g>
<rect x="423.9" y="477.9" width="139.3" height="89.8" fill="none" stroke="#111" stroke-width="1.3"/>
<path d="M423.9,567.7v5.8M451.76,567.7v5.8M479.62,567.7v5.8M507.48,567.7v5.8M535.34,567.7v5.8M563.2,567.7v5.8M423.9,567.7v3.0M429.47,567.7v3.0M435.04,567.7v3.0M440.62,567.7v3.0M446.19,567.7v3.0M451.76,567.7v3.0M457.33,567.7v3.0M462.9,567.7v3.0M468.48,567.7v3.0M474.05,567.7v3.0M479.62,567.7v3.0M485.19,567.7v3.0M490.76,567.7v3.0M496.34,567.7v3.0M501.91,567.7v3.0M507.48,567.7v3.0M513.05,567.7v3.0M518.62,567.7v3.0M524.2,567.7v3.0M529.77,567.7v3.0M535.34,567.7v3.0M540.91,567.7v3.0M546.48,567.7v3.0M552.06,567.7v3.0M557.63,567.7v3.0M563.2,567.7v3.0" stroke="#111" stroke-width="1.1" fill="none"/>
<text x="423.9" y="587.2" font-family="'Liberation Serif', serif" font-size="11.2" text-anchor="middle" fill="#1a1a1a">0.5</text>
<text x="451.76" y="587.2" font-family="'Liberation Serif', serif" font-size="11.2" text-anchor="middle" fill="#1a1a1a">0.6</text>
<text x="479.62" y="587.2" font-family="'Liberation Serif', serif" font-size="11.2" text-anchor="middle" fill="#1a1a1a">0.7</text>
<text x="507.48" y="587.2" font-family="'Liberation Serif', serif" font-size="11.2" text-anchor="middle" fill="#1a1a1a">0.8</text>
<text x="535.34" y="587.2" font-family="'Liberation Serif', serif" font-size="11.2" text-anchor="middle" fill="#1a1a1a">0.9</text>
<text x="563.2" y="587.2" font-family="'Liberation Serif', serif" font-size="11.2" text-anchor="middle" fill="#1a1a1a">1.0</text>
<path d="M423.9,567.7h-5.8M423.9,537.77h-5.8M423.9,507.83h-5.8M423.9,477.9h-5.8M423.9,567.7h-3.0M423.9,561.71h-3.0M423.9,555.73h-3.0M423.9,549.74h-3.0M423.9,543.75h-3.0M423.9,537.77h-3.0M423.9,531.78h-3.0M423.9,525.79h-3.0M423.9,519.81h-3.0M423.9,513.82h-3.0M423.9,507.83h-3.0M423.9,501.85h-3.0M423.9,495.86h-3.0M423.9,489.87h-3.0M423.9,483.89h-3.0M423.9,477.9h-3.0" stroke="#111" stroke-width="1.1" fill="none"/>
<text x="411.3" y="571.7" font-family="'Liberation Serif', serif" font-size="11.2" text-anchor="end" fill="#1a1a1a">0.0</text>
<text x="411.3" y="541.77" font-family="'Liberation Serif', serif" font-size="11.2" text-anchor="end" fill="#1a1a1a">0.5</text>
<text x="411.3" y="511.83" font-family="'Liberation Serif', serif" font-size="11.2" text-anchor="end" fill="#1a1a1a">1.0</text>
<text x="411.3" y="481.9" font-family="'Liberation Serif', serif" font-size="11.2" text-anchor="end" fill="#1a1a1a">1.5</text>
<text x="359.2" y="361" font-family="'Liberation Serif', serif" font-size="14.0" text-anchor="middle" font-weight="normal" fill="#1a1a1a" transform="rotate(-90 359.2 361)">Power consumption (<tspan font-style="italic">P</tspan>) [µW]</text>
<text x="359.2" y="551" font-family="'Liberation Serif', serif" font-size="14.0" text-anchor="middle" font-weight="normal" fill="#1a1a1a" transform="rotate(-90 359.2 551)">Output frequency (<tspan font-style="italic">f</tspan>) [Hz]</text>
<text x="536" y="676.5" font-family="'Liberation Serif', serif" font-size="14.0" text-anchor="middle" font-weight="normal" fill="#1a1a1a">WUT supply voltage [V]</text>
<text x="354.2" y="230.9" font-family="'Liberation Sans', sans-serif" font-size="14" text-anchor="start" font-weight="bold" fill="#000">d</text>
<rect x="418.3" y="246.8" width="244.1" height="23.6" rx="2.5" fill="#fff" stroke="#111" stroke-width="1.3"/>
<line x1="423.3" y1="257.8" x2="452.9" y2="257.8" stroke="#a0a0a0" stroke-width="1.6"/>
<text x="464.3" y="262.6" font-family="'Liberation Serif', serif" font-size="14.1" text-anchor="start" font-weight="normal" fill="#1a1a1a">Chips</text>
<rect x="525.7" y="253.3" width="28.5" height="9.5" fill="#e8787c" fill-opacity="0.4" stroke="#e06060" stroke-opacity="0.6" stroke-width="0.6"/>
<line x1="525.7" y1="257.8" x2="554.2" y2="257.8" stroke="#ff1a1a" stroke-width="1.8"/>
<path d="M540.00,254.60L542.40,257.80L540.00,261.00L537.60,257.80Z" fill="#ff1a1a" stroke="#ff1a1a" stroke-width="0.5"/>
<text x="565.6" y="262.6" font-family="'Liberation Serif', serif" font-size="14.1" text-anchor="start" font-weight="normal" fill="#1a1a1a">Mean ± 95% CI</text>
<path d="M56.1,704.5V849M90.96,704.5V849M125.82,704.5V849M160.69,704.5V849M195.55,704.5V849M230.41,704.5V849M265.27,704.5V849M300.14,704.5V849M335,704.5V849M56.1,849H335M56.1,824.92H335M56.1,800.83H335M56.1,776.75H335M56.1,752.67H335M56.1,728.58H335M56.1,704.5H335" stroke="#cdcdcd" stroke-width="1.0" fill="none"/>
<g clip-path="url(#c9)">
<path d="M56.1,814.08L56.8,814.08L57.49,814.07L58.19,814.07L58.89,814.07L59.59,814.07L60.28,814.06L60.98,814.06L61.68,814.06L62.38,814.06L63.07,814.05L63.77,814.05L64.47,814.05L65.16,814.05L65.86,814.04L66.56,814.04L67.26,814.04L67.95,814.04L68.65,814.03L69.35,814.03L70.05,814.03L70.74,814.03L71.44,814.03L72.14,814.02L72.83,814.02L73.53,814.02L74.23,814.02L74.93,814.01L75.62,814.01L76.32,814.01L77.02,814.01L77.71,814L78.41,814L79.11,814L79.81,814L80.5,813.99L81.2,813.99L81.9,813.99L82.6,813.99L83.29,813.98L83.99,813.98L84.69,813.98L85.38,813.98L86.08,813.97L86.78,813.97L87.48,813.97L88.17,813.97L88.87,813.96L89.57,813.96L90.27,813.96L90.96,813.96L91.66,813.95L92.36,813.94L93.05,813.94L93.75,813.93L94.45,813.92L95.15,813.91L95.84,813.91L96.54,813.9L97.24,813.89L97.94,813.89L98.63,813.88L99.33,813.87L100.03,813.86L100.72,813.86L101.42,813.85L102.12,813.84L102.82,813.83L103.51,813.83L104.21,813.82L104.91,813.81L105.6,813.81L106.3,813.8L107,813.79L107.7,813.78L108.39,813.78L109.09,813.77L109.79,813.76L110.49,813.75L111.18,813.75L111.88,813.74L112.58,813.73L113.27,813.73L113.97,813.72L114.67,813.71L115.37,813.7L116.06,813.7L116.76,813.69L117.46,813.68L118.16,813.67L118.85,813.67L119.55,813.66L120.25,813.65L120.94,813.65L121.64,813.64L122.34,813.63L123.04,813.62L123.73,813.62L124.43,813.61L125.13,813.6L125.82,813.59L126.52,813.58L127.22,813.57L127.92,813.56L128.61,813.55L129.31,813.53L130.01,813.52L130.71,813.51L131.4,813.5L132.1,813.49L132.8,813.47L133.49,813.46L134.19,813.45L134.89,813.44L135.59,813.43L136.28,813.41L136.98,813.4L137.68,813.39L138.38,813.38L139.07,813.36L139.77,813.35L140.47,813.34L141.16,813.33L141.86,813.32L142.56,813.3L143.26,813.29L143.95,813.28L144.65,813.27L145.35,813.26L146.05,813.24L146.74,813.23L147.44,813.22L148.14,813.21L148.83,813.2L149.53,813.18L150.23,813.17L150.93,813.16L151.62,813.15L152.32,813.13L153.02,813.12L153.72,813.11L154.41,813.1L155.11,813.09L155.81,813.07L156.5,813.06L157.2,813.05L157.9,813.04L158.6,813.03L159.29,813.01L159.99,813L160.69,812.99L161.38,812.96L162.08,812.94L162.78,812.91L163.48,812.88L164.17,812.86L164.87,812.83L165.57,812.8L166.27,812.77L166.96,812.74L167.66,812.71L168.36,812.68L169.05,812.65L169.75,812.62L170.45,812.59L171.15,812.56L171.84,812.52L172.54,812.49L173.24,812.46L173.94,812.42L174.63,812.39L175.33,812.35L176.03,812.32L176.72,812.28L177.42,812.25L178.12,812.21L178.82,812.17L179.51,812.13L180.21,812.09L180.91,812.05L181.6,812.01L182.3,811.97L183,811.93L183.7,811.89L184.39,811.85L185.09,811.8L185.79,811.76L186.49,811.71L187.18,811.67L187.88,811.62L188.58,811.58L189.27,811.53L189.97,811.48L190.67,811.43L191.37,811.38L192.06,811.33L192.76,811.28L193.46,811.23L194.16,811.18L194.85,811.12L195.55,811.07L196.25,811.01L196.94,810.95L197.64,810.9L198.34,810.84L199.04,810.78L199.73,810.72L200.43,810.66L201.13,810.6L201.83,810.54L202.52,810.47L203.22,810.41L203.92,810.34L204.61,810.28L205.31,810.21L206.01,810.14L206.71,810.07L207.4,810L208.1,809.93L208.8,809.85L209.5,809.78L210.19,809.7L210.89,809.63L211.59,809.55L212.28,809.47L212.98,809.39L213.68,809.31L214.38,809.23L215.07,809.14L215.77,809.06L216.47,808.97L217.16,808.88L217.86,808.79L218.56,808.7L219.26,808.61L219.95,808.52L220.65,808.42L221.35,808.33L222.05,808.23L222.74,808.13L223.44,808.03L224.14,807.92L224.83,807.82L225.53,807.71L226.23,807.61L226.93,807.5L227.62,807.39L228.32,807.27L229.02,807.16L229.72,807.04L230.41,806.92L231.11,806.8L231.81,806.68L232.5,806.56L233.2,806.43L233.9,806.31L234.6,806.18L235.29,806.04L235.99,805.91L236.69,805.77L237.38,805.64L238.08,805.5L238.78,805.35L239.48,805.21L240.17,805.06L240.87,804.91L241.57,804.76L242.27,804.61L242.96,804.45L243.66,804.29L244.36,804.13L245.05,803.97L245.75,803.8L246.45,803.63L247.15,803.46L247.84,803.28L248.54,803.1L249.24,802.92L249.94,802.74L250.63,802.56L251.33,802.37L252.03,802.17L252.72,801.98L253.42,801.78L254.12,801.58L254.82,801.37L255.51,801.17L256.21,800.95L256.91,800.74L257.61,800.52L258.3,800.3L259,800.07L259.7,799.85L260.39,799.61L261.09,799.38L261.79,799.14L262.49,798.89L263.18,798.64L263.88,798.39L264.58,798.14L265.27,797.88L265.97,797.61L266.67,797.34L267.37,797.07L268.06,796.79L268.76,796.51L269.46,796.22L270.16,795.93L270.85,795.64L271.55,795.33L272.25,795.03L272.94,794.72L273.64,794.4L274.34,794.08L275.04,793.75L275.73,793.42L276.43,793.08L277.13,792.74L277.83,792.39L278.52,792.04L279.22,791.68L279.92,791.31L280.61,790.94L281.31,790.56L282.01,790.18L282.71,789.79L283.4,789.39L284.1,788.99L284.8,788.57L285.5,788.16L286.19,787.73L286.89,787.3L287.59,786.86L288.28,786.42L288.98,785.96L289.68,785.5L290.38,785.03L291.07,784.55L291.77,784.07L292.47,783.57L293.16,783.07L293.86,782.56L294.56,782.04L295.26,781.52L295.95,780.98L296.65,780.43L297.35,779.88L298.05,779.31L298.74,778.74L299.44,778.15L300.14,777.56L300.83,776.96L301.53,776.34L302.23,775.71L302.93,775.08L303.62,774.43L304.32,773.77L305.02,773.1L305.72,772.42L306.41,771.73L307.11,771.02L307.81,770.3L308.5,769.57L309.2,768.83L309.9,768.07L310.6,767.3L311.29,766.52L311.99,765.72L312.69,764.91L313.39,764.08L314.08,763.24L314.78,762.39L315.48,761.52L316.17,760.63L316.87,759.73L317.57,758.81L318.27,757.88L318.96,756.92L319.66,755.96L320.36,754.97L321.06,753.97L321.75,752.94L322.45,751.9L323.15,750.84L323.84,749.76L324.54,748.66L325.24,747.55L325.94,746.41L326.63,745.25L327.33,744.06L328.03,742.86L328.72,741.63L329.42,740.39L330.12,739.11L330.82,737.82L331.51,736.5L332.21,735.15L332.91,733.78L333.61,732.39L334.3,730.97L335,729.52L335,773.32L334.3,774.07L333.61,774.82L332.91,775.56L332.21,776.3L331.51,777.03L330.82,777.75L330.12,778.47L329.42,779.18L328.72,779.88L328.03,780.58L327.33,781.27L326.63,781.95L325.94,782.63L325.24,783.3L324.54,783.97L323.84,784.62L323.15,785.27L322.45,785.92L321.75,786.56L321.06,787.19L320.36,787.81L319.66,788.43L318.96,789.04L318.27,789.65L317.57,790.25L316.87,790.84L316.17,791.42L315.48,792L314.78,792.58L314.08,793.14L313.39,793.7L312.69,794.26L311.99,794.8L311.29,795.34L310.6,795.88L309.9,796.41L309.2,796.93L308.5,797.45L307.81,797.96L307.11,798.46L306.41,798.96L305.72,799.45L305.02,799.94L304.32,800.42L303.62,800.89L302.93,801.36L302.23,801.83L301.53,802.29L300.83,802.74L300.14,803.18L299.44,803.62L298.74,804.06L298.05,804.49L297.35,804.92L296.65,805.33L295.95,805.75L295.26,806.16L294.56,806.56L293.86,806.96L293.16,807.35L292.47,807.74L291.77,808.13L291.07,808.5L290.38,808.88L289.68,809.25L288.98,809.61L288.28,809.97L287.59,810.32L286.89,810.67L286.19,811.02L285.5,811.36L284.8,811.7L284.1,812.03L283.4,812.36L282.71,812.68L282.01,813L281.31,813.31L280.61,813.62L279.92,813.93L279.22,814.23L278.52,814.53L277.83,814.82L277.13,815.12L276.43,815.4L275.73,815.68L275.04,815.96L274.34,816.24L273.64,816.51L272.94,816.78L272.25,817.04L271.55,817.3L270.85,817.56L270.16,817.81L269.46,818.06L268.76,818.3L268.06,818.55L267.37,818.79L266.67,819.02L265.97,819.26L265.27,819.48L264.58,819.71L263.88,819.93L263.18,820.15L262.49,820.37L261.79,820.59L261.09,820.8L260.39,821L259.7,821.21L259,821.41L258.3,821.61L257.61,821.81L256.91,822L256.21,822.19L255.51,822.38L254.82,822.57L254.12,822.75L253.42,822.93L252.72,823.11L252.03,823.29L251.33,823.46L250.63,823.63L249.94,823.8L249.24,823.96L248.54,824.13L247.84,824.29L247.15,824.45L246.45,824.6L245.75,824.76L245.05,824.91L244.36,825.06L243.66,825.21L242.96,825.35L242.27,825.5L241.57,825.64L240.87,825.78L240.17,825.92L239.48,826.05L238.78,826.19L238.08,826.32L237.38,826.45L236.69,826.57L235.99,826.7L235.29,826.83L234.6,826.95L233.9,827.07L233.2,827.19L232.5,827.3L231.81,827.42L231.11,827.53L230.41,827.65L229.72,827.76L229.02,827.87L228.32,827.97L227.62,828.08L226.93,828.18L226.23,828.29L225.53,828.39L224.83,828.49L224.14,828.59L223.44,828.68L222.74,828.78L222.05,828.87L221.35,828.97L220.65,829.06L219.95,829.15L219.26,829.24L218.56,829.32L217.86,829.41L217.16,829.49L216.47,829.58L215.77,829.66L215.07,829.74L214.38,829.82L213.68,829.9L212.98,829.98L212.28,830.06L211.59,830.13L210.89,830.21L210.19,830.28L209.5,830.35L208.8,830.42L208.1,830.49L207.4,830.56L206.71,830.63L206.01,830.7L205.31,830.76L204.61,830.83L203.92,830.89L203.22,830.96L202.52,831.02L201.83,831.08L201.13,831.14L200.43,831.2L199.73,831.26L199.04,831.32L198.34,831.37L197.64,831.43L196.94,831.48L196.25,831.54L195.55,831.59L194.85,831.65L194.16,831.7L193.46,831.75L192.76,831.8L192.06,831.85L191.37,831.9L190.67,831.95L189.97,832L189.27,832.04L188.58,832.09L187.88,832.13L187.18,832.18L186.49,832.22L185.79,832.27L185.09,832.31L184.39,832.35L183.7,832.39L183,832.44L182.3,832.48L181.6,832.52L180.91,832.55L180.21,832.59L179.51,832.63L178.82,832.67L178.12,832.71L177.42,832.74L176.72,832.78L176.03,832.81L175.33,832.85L174.63,832.88L173.94,832.92L173.24,832.95L172.54,832.98L171.84,833.02L171.15,833.05L170.45,833.08L169.75,833.11L169.05,833.14L168.36,833.17L167.66,833.2L166.96,833.23L166.27,833.26L165.57,833.29L164.87,833.31L164.17,833.34L163.48,833.37L162.78,833.39L162.08,833.42L161.38,833.45L160.69,833.47L159.99,833.48L159.29,833.5L158.6,833.51L157.9,833.52L157.2,833.53L156.5,833.54L155.81,833.56L155.11,833.57L154.41,833.58L153.72,833.59L153.02,833.6L152.32,833.62L151.62,833.63L150.93,833.64L150.23,833.65L149.53,833.66L148.83,833.68L148.14,833.69L147.44,833.7L146.74,833.71L146.05,833.72L145.35,833.74L144.65,833.75L143.95,833.76L143.26,833.77L142.56,833.78L141.86,833.8L141.16,833.81L140.47,833.82L139.77,833.83L139.07,833.84L138.38,833.86L137.68,833.87L136.98,833.88L136.28,833.89L135.59,833.9L134.89,833.92L134.19,833.93L133.49,833.94L132.8,833.95L132.1,833.96L131.4,833.98L130.71,833.99L130.01,834L129.31,834.01L128.61,834.02L127.92,834.03L127.22,834.05L126.52,834.06L125.82,834.07L125.13,834.08L124.43,834.09L123.73,834.09L123.04,834.1L122.34,834.11L121.64,834.11L120.94,834.12L120.25,834.13L119.55,834.14L118.85,834.14L118.16,834.15L117.46,834.16L116.76,834.16L116.06,834.17L115.37,834.18L114.67,834.19L113.97,834.19L113.27,834.2L112.58,834.21L111.88,834.21L111.18,834.22L110.49,834.23L109.79,834.24L109.09,834.24L108.39,834.25L107.7,834.26L107,834.27L106.3,834.27L105.6,834.28L104.91,834.29L104.21,834.29L103.51,834.3L102.82,834.31L102.12,834.32L101.42,834.32L100.72,834.33L100.03,834.34L99.33,834.34L98.63,834.35L97.94,834.36L97.24,834.37L96.54,834.37L95.84,834.38L95.15,834.39L94.45,834.39L93.75,834.4L93.05,834.41L92.36,834.42L91.66,834.42L90.96,834.43L90.27,834.43L89.57,834.44L88.87,834.44L88.17,834.44L87.48,834.44L86.78,834.45L86.08,834.45L85.38,834.45L84.69,834.45L83.99,834.45L83.29,834.46L82.6,834.46L81.9,834.46L81.2,834.46L80.5,834.47L79.81,834.47L79.11,834.47L78.41,834.47L77.71,834.48L77.02,834.48L76.32,834.48L75.62,834.48L74.93,834.49L74.23,834.49L73.53,834.49L72.83,834.49L72.14,834.5L71.44,834.5L70.74,834.5L70.05,834.5L69.35,834.51L68.65,834.51L67.95,834.51L67.26,834.51L66.56,834.51L65.86,834.52L65.16,834.52L64.47,834.52L63.77,834.52L63.07,834.53L62.38,834.53L61.68,834.53L60.98,834.53L60.28,834.54L59.59,834.54L58.89,834.54L58.19,834.54L57.49,834.55L56.8,834.55L56.1,834.55Z" fill="#f4bcc0" stroke="none"/>
<path d="M56.1,813.74L56.8,813.99L57.49,814.06L58.19,814.43L58.89,813.76L59.59,814.13L60.28,813.46L60.98,814.18L61.68,814.07L62.38,813.85L63.07,814.31L63.77,813.88L64.47,813.21L65.16,813.72L65.86,813.71L66.56,813.28L67.26,813.93L67.95,814.33L68.65,813.85L69.35,814.24L70.05,814.26L70.74,814.07L71.44,813.74L72.14,812.53L72.83,814.22L73.53,813.17L74.23,813.9L74.93,814.04L75.62,814.16L76.32,814.05L77.02,813.86L77.71,813.62L78.41,814.24L79.11,814.12L79.81,814.15L80.5,814.46L81.2,814.17L81.9,814.19L82.6,813.77L83.29,814.01L83.99,814.29L84.69,813.85L85.38,814.05L86.08,813.61L86.78,814.09L87.48,814.08L88.17,814.14L88.87,813.84L89.57,814.4L90.27,814.01L90.96,813.76L91.66,812.65L92.36,813.73L93.05,813.72L93.75,813.64L94.45,814.14L95.15,813.75L95.84,814.27L96.54,814.02L97.24,814.1L97.94,813.68L98.63,813.62L99.33,813.91L100.03,813.52L100.72,813.99L101.42,813.82L102.12,813.81L102.82,814.04L103.51,813.59L104.21,813.44L104.91,813.9L105.6,813.63L106.3,813.83L107,813.44L107.7,813.69L108.39,813.64L109.09,813.41L109.79,813.71L110.49,812.97L111.18,813.47L111.88,813.94L112.58,813.42L113.27,813.6L113.97,813.88L114.67,813.68L115.37,813.47L116.06,813.7L116.76,813.6L117.46,814.26L118.16,813.87L118.85,813.78L119.55,812.47L120.25,813.84L120.94,813.57L121.64,813.75L122.34,812.34L123.04,813.49L123.73,813.79L124.43,813.67L125.13,813.17L125.82,813.42L126.52,813.84L127.22,813.59L127.92,813.45L128.61,813.3L129.31,813.5L130.01,813.63L130.71,812.94L131.4,813.37L132.1,813.42L132.8,813.58L133.49,813.5L134.19,813.53L134.89,813.29L135.59,813.57L136.28,813.31L136.98,813.23L137.68,813.29L138.38,813.55L139.07,813.09L139.77,813.49L140.47,813.25L141.16,813.48L141.86,813.67L142.56,813.2L143.26,813.23L143.95,813.3L144.65,813.21L145.35,812.55L146.05,811.92L146.74,813.27L147.44,812.83L148.14,812.46L148.83,813.3L149.53,813.07L150.23,813.27L150.93,813.25L151.62,812.97L152.32,812.87L153.02,813.47L153.72,812.4L154.41,813.08L155.11,813.06L155.81,812.82L156.5,813.21L157.2,812.9L157.9,812.62L158.6,813.06L159.29,812.84L159.99,812.9L160.69,813.17L161.38,812.74L162.08,813.19L162.78,812.9L163.48,812.88L164.17,812.08L164.87,812.98L165.57,812.81L166.27,812.8L166.96,811.89L167.66,812.88L168.36,812.67L169.05,812.38L169.75,812.9L170.45,812.01L171.15,812.57L171.84,812.38L172.54,812.18L173.24,812.69L173.94,812.34L174.63,812.2L175.33,811.89L176.03,812.41L176.72,812.4L177.42,812.28L178.12,812.57L178.82,812.45L179.51,811.57L180.21,811.86L180.91,811.91L181.6,811.62L182.3,810.04L183,812.05L183.7,811.92L184.39,812.31L185.09,812.03L185.79,812L186.49,811.65L187.18,811.52L187.88,811.75L188.58,811.71L189.27,811.89L189.97,810.41L190.67,811.37L191.37,811.28L192.06,811.52L192.76,810.43L193.46,810.19L194.16,811.2L194.85,811.25L195.55,811.14L196.25,810.97L196.94,810.96L197.64,810.65L198.34,809.33L199.04,810.15L199.73,810.43L200.43,810.69L201.13,810.5L201.83,810.63L202.52,810.62L203.22,809.92L203.92,810.46L204.61,809.76L205.31,810.3L206.01,809.81L206.71,809.79L207.4,809.99L208.1,809.82L208.8,808.54L209.5,808.93L210.19,809.75L210.89,809.8L211.59,809.11L212.28,809.52L212.98,808.92L213.68,810.04L214.38,808.71L215.07,808.79L215.77,809.14L216.47,808.66L217.16,808.7L217.86,808.87L218.56,808.58L219.26,807.81L219.95,808.44L220.65,808.34L221.35,807L222.05,808.19L222.74,808.51L223.44,808.09L224.14,807.19L224.83,807.5L225.53,807.52L226.23,807.27L226.93,806.92L227.62,807.2L228.32,806.63L229.02,805.24L229.72,806.99L230.41,806.38L231.11,807.55L231.81,805.53L232.5,806.47L233.2,806.73L233.9,806.36L234.6,804.66L235.29,806.26L235.99,805.01L236.69,805.56L237.38,805.65L238.08,805.05L238.78,804.61L239.48,804.9L240.17,804.94L240.87,804.35L241.57,804.19L242.27,804.34L242.96,804.41L243.66,804.71L244.36,803.74L245.05,804.28L245.75,803.2L246.45,803.44L247.15,802.65L247.84,803.25L248.54,802.76L249.24,801.85L249.94,802.71L250.63,802.8L251.33,802.26L252.03,802.14L252.72,801.73L253.42,802.12L254.12,800.84L254.82,799.43L255.51,801.25L256.21,800.69L256.91,799.03L257.61,799.99L258.3,799.49L259,800.59L259.7,800.11L260.39,800.08L261.09,799.87L261.79,799.86L262.49,798.73L263.18,798.56L263.88,797.71L264.58,796.1L265.27,798.35L265.97,798.09L266.67,797.63L267.37,796.4L268.06,797.2L268.76,797.24L269.46,794.89L270.16,795.75L270.85,795.96L271.55,794.51L272.25,794.91L272.94,794.48L273.64,794.85L274.34,794.1L275.04,793.84L275.73,794.64L276.43,792.93L277.13,793.73L277.83,792.41L278.52,792.86L279.22,790.54L279.92,791.13L280.61,790.44L281.31,790.03L282.01,790.96L282.71,791.14L283.4,789.59L284.1,788.44L284.8,788.52L285.5,785.68L286.19,787.14L286.89,788.25L287.59,786.68L288.28,785.14L288.98,786.34L289.68,786.84L290.38,785.19L291.07,784.87L291.77,783.78L292.47,784.19L293.16,783.01L293.86,784.13L294.56,778.69L295.26,779.23L295.95,780.03L296.65,781.56L297.35,779.64L298.05,781.58L298.74,778.46L299.44,778.2L300.14,778.34L300.83,776.68L301.53,776.23L302.23,771.91L302.93,774.97L303.62,774.23L304.32,774.16L305.02,773.81L305.72,772.83L306.41,771.47L307.11,771.03L307.81,768.96L308.5,770.36L309.2,769.05L309.9,767.84L310.6,767.52L311.29,766.05L311.99,766.27L312.69,763.53L313.39,764.4L314.08,756.86L314.78,762.42L315.48,759.99L316.17,762.08L316.87,758.59L317.57,759.27L318.27,757.63L318.96,755.63L319.66,757.21L320.36,756.45L321.06,755.1L321.75,752.65L322.45,754.09L323.15,750.73L323.84,751.3L324.54,750.04L325.24,748L325.94,745.94L326.63,742.73L327.33,744.69L328.03,742.91L328.72,741.99L329.42,743.92L330.12,739.69L330.82,737.7L331.51,734.99L332.21,732.31L332.91,732.84L333.61,732.28L334.3,732.36L335,729.39" fill="none" stroke="#ee9ca1" stroke-width="1.8"/>
<path d="M56.1,834.63L56.8,834.49L57.49,834.43L58.19,834.6L58.89,834.6L59.59,834.63L60.28,834.53L60.98,834.37L61.68,834.79L62.38,834.64L63.07,834.62L63.77,834.72L64.47,834.52L65.16,834.99L65.86,834.48L66.56,834.57L67.26,834.55L67.95,834.38L68.65,834.55L69.35,834.66L70.05,834.55L70.74,834.29L71.44,834.43L72.14,834.54L72.83,834.59L73.53,834.49L74.23,834.26L74.93,834.72L75.62,834.75L76.32,834.58L77.02,834.67L77.71,834.64L78.41,834.84L79.11,834.47L79.81,834.46L80.5,834.34L81.2,834.31L81.9,834.82L82.6,834.4L83.29,834.71L83.99,834.61L84.69,834.45L85.38,834.46L86.08,834.4L86.78,834.5L87.48,834.43L88.17,834.86L88.87,834.29L89.57,834.46L90.27,834.4L90.96,834.8L91.66,834.33L92.36,834.67L93.05,834.22L93.75,834.1L94.45,834.48L95.15,834.48L95.84,834.41L96.54,834.21L97.24,835.12L97.94,834.5L98.63,834.46L99.33,834.39L100.03,834.22L100.72,834.42L101.42,834.54L102.12,834.49L102.82,834.64L103.51,834.41L104.21,834.63L104.91,834.46L105.6,834.28L106.3,834.32L107,834.19L107.7,834.31L108.39,834.31L109.09,834L109.79,834.3L110.49,834.05L111.18,834.16L111.88,833.99L112.58,833.76L113.27,834.21L113.97,834.17L114.67,834.31L115.37,834.28L116.06,834.65L116.76,834.28L117.46,834.07L118.16,833.9L118.85,834.32L119.55,833.74L120.25,834.08L120.94,834.14L121.64,833.89L122.34,833.95L123.04,833.87L123.73,834.9L124.43,834.19L125.13,834.27L125.82,834.28L126.52,834.04L127.22,834.1L127.92,833.95L128.61,833.9L129.31,834.02L130.01,833.83L130.71,834.76L131.4,834.08L132.1,833.67L132.8,833.93L133.49,834.21L134.19,833.99L134.89,833.7L135.59,834.09L136.28,833.76L136.98,834.26L137.68,833.89L138.38,833.61L139.07,833.99L139.77,833.94L140.47,833.91L141.16,833.88L141.86,833.81L142.56,834.37L143.26,833.83L143.95,834.84L144.65,833.94L145.35,833.74L146.05,833.7L146.74,833.46L147.44,833.6L148.14,833.97L148.83,833.57L149.53,833.71L150.23,833.17L150.93,833.48L151.62,833.65L152.32,833.89L153.02,833.59L153.72,833.42L154.41,833.74L155.11,834.12L155.81,833.79L156.5,833.58L157.2,833.55L157.9,833.92L158.6,833.75L159.29,833.96L159.99,833.97L160.69,833.54L161.38,833.6L162.08,833.48L162.78,833.14L163.48,833.55L164.17,833.36L164.87,833.48L165.57,833.55L166.27,833.33L166.96,833.6L167.66,832.91L168.36,833.12L169.05,833.37L169.75,833.09L170.45,833.18L171.15,833.36L171.84,833.42L172.54,832.76L173.24,834L173.94,832.95L174.63,834.07L175.33,832.81L176.03,832.72L176.72,832.95L177.42,833.1L178.12,832.75L178.82,832.49L179.51,832.7L180.21,832.3L180.91,832.82L181.6,832.75L182.3,832.3L183,832.65L183.7,832.08L184.39,832.37L185.09,832.33L185.79,832.19L186.49,832.28L187.18,832.29L187.88,832.58L188.58,832.02L189.27,832.09L189.97,832.11L190.67,832L191.37,832.8L192.06,833.11L192.76,831.76L193.46,831.87L194.16,831.63L194.85,831.45L195.55,831.7L196.25,831.49L196.94,831.31L197.64,831.8L198.34,831.52L199.04,831.52L199.73,831.49L200.43,831.33L201.13,831.15L201.83,832.07L202.52,831.32L203.22,831.08L203.92,830.77L204.61,830.41L205.31,831.3L206.01,830.32L206.71,830.92L207.4,830.33L208.1,830.45L208.8,830.46L209.5,832L210.19,830.42L210.89,830.13L211.59,831.05L212.28,830.31L212.98,830.76L213.68,829.71L214.38,829.71L215.07,829.72L215.77,830.09L216.47,829.47L217.16,829.11L217.86,829.44L218.56,829.28L219.26,830.11L219.95,829.24L220.65,828.88L221.35,829.59L222.05,828.6L222.74,829.8L223.44,828.7L224.14,828.96L224.83,828.94L225.53,829.12L226.23,827.78L226.93,828.31L227.62,828.06L228.32,827.79L229.02,827.93L229.72,827.96L230.41,828.66L231.11,827.81L231.81,827.89L232.5,828.86L233.2,827.26L233.9,826.7L234.6,827.04L235.29,826.64L235.99,826.94L236.69,827.5L237.38,827.05L238.08,826.48L238.78,826.76L239.48,825.83L240.17,826.01L240.87,825.75L241.57,825.62L242.27,826.23L242.96,825.13L243.66,825.12L244.36,825.15L245.05,824.94L245.75,824.31L246.45,824.64L247.15,824.25L247.84,824.1L248.54,823.9L249.24,823.68L249.94,824.31L250.63,823.8L251.33,823.46L252.03,823.09L252.72,822.91L253.42,823.53L254.12,822.65L254.82,822.07L255.51,822.4L256.21,822.27L256.91,822.32L257.61,822.02L258.3,821.61L259,821.57L259.7,820.47L260.39,821.47L261.09,820.16L261.79,820.27L262.49,820.51L263.18,820.66L263.88,819.84L264.58,819.24L265.27,819.9L265.97,820.08L266.67,818.97L267.37,818.45L268.06,818.87L268.76,820.24L269.46,818.41L270.16,817.71L270.85,818.29L271.55,817.76L272.25,817.27L272.94,816.84L273.64,816.39L274.34,816.4L275.04,816.15L275.73,818.37L276.43,815.31L277.13,815.31L277.83,815.45L278.52,814.03L279.22,815.36L279.92,814.82L280.61,814.35L281.31,813.12L282.01,816.5L282.71,811.61L283.4,811.78L284.1,811.81L284.8,812.31L285.5,811.37L286.19,809.87L286.89,811.4L287.59,810.48L288.28,810.18L288.98,811.97L289.68,809.05L290.38,808.48L291.07,808.3L291.77,807.87L292.47,806.31L293.16,807.87L293.86,806.96L294.56,807.68L295.26,807.27L295.95,805.38L296.65,805.15L297.35,805.26L298.05,803.31L298.74,806.12L299.44,803.53L300.14,806.05L300.83,802.11L301.53,801.58L302.23,803.75L302.93,800.76L303.62,801.63L304.32,800.48L305.02,799.47L305.72,799.01L306.41,800.51L307.11,798.25L307.81,798.19L308.5,796.96L309.2,797.52L309.9,797.39L310.6,796.51L311.29,798.53L311.99,794.96L312.69,794.56L313.39,794.68L314.08,792.12L314.78,793.83L315.48,793.05L316.17,792.05L316.87,795.27L317.57,788.43L318.27,789.28L318.96,787.43L319.66,788.39L320.36,790.13L321.06,786.83L321.75,786.68L322.45,786.11L323.15,787.25L323.84,785.51L324.54,784.33L325.24,785.72L325.94,783.16L326.63,787.37L327.33,781.08L328.03,780.96L328.72,782.9L329.42,777.8L330.12,777.91L330.82,777.72L331.51,776.37L332.21,776.49L332.91,775.8L333.61,775.23L334.3,773.57L335,775.16" fill="none" stroke="#ee9ca1" stroke-width="1.8"/>
<path d="M56.1,823.97L56.8,823.61L57.49,824.37L58.19,824.07L58.89,824.84L59.59,823.89L60.28,824.42L60.98,824.41L61.68,824.11L62.38,823.71L63.07,824.26L63.77,824.38L64.47,824.92L65.16,823.82L65.86,823.83L66.56,823.92L67.26,824.26L67.95,822.62L68.65,824.16L69.35,823.81L70.05,822.56L70.74,824.38L71.44,824.31L72.14,824.33L72.83,824.45L73.53,824.46L74.23,823.8L74.93,825.02L75.62,824.15L76.32,824.41L77.02,824.64L77.71,824.32L78.41,824.49L79.11,823.89L79.81,824.6L80.5,824.23L81.2,823.94L81.9,824.51L82.6,824.63L83.29,824.13L83.99,824.37L84.69,824.53L85.38,824.69L86.08,824.05L86.78,823.17L87.48,824.39L88.17,824.06L88.87,823.89L89.57,823.91L90.27,824.4L90.96,823.99L91.66,823.54L92.36,823.41L93.05,823.18L93.75,823.85L94.45,823.92L95.15,823.96L95.84,823.39L96.54,824.05L97.24,823.67L97.94,824.14L98.63,824.04L99.33,824.35L100.03,824.02L100.72,823.56L101.42,823.87L102.12,824.2L102.82,824.2L103.51,824.23L104.21,823.97L104.91,823.99L105.6,822.07L106.3,824.23L107,823.06L107.7,824.18L108.39,824.15L109.09,823.67L109.79,823.87L110.49,823.82L111.18,824.39L111.88,823.17L112.58,823.32L113.27,824.18L113.97,824.36L114.67,822.97L115.37,823.62L116.06,824.22L116.76,823.84L117.46,824.12L118.16,823.06L118.85,823.37L119.55,824.03L120.25,823.27L120.94,823.78L121.64,823.87L122.34,823.88L123.04,823.68L123.73,823.98L124.43,823.81L125.13,824.01L125.82,824.25L126.52,822.63L127.22,823.75L127.92,823.3L128.61,821.4L129.31,823.88L130.01,823.72L130.71,823.56L131.4,824.43L132.1,823.85L132.8,823.16L133.49,824.24L134.19,822.16L134.89,823.71L135.59,823.65L136.28,823.61L136.98,823.12L137.68,823.48L138.38,823.49L139.07,823.7L139.77,822.25L140.47,823.17L141.16,823.74L141.86,823.73L142.56,823.29L143.26,823.21L143.95,823.61L144.65,823.14L145.35,823.21L146.05,822.93L146.74,823.14L147.44,823.63L148.14,823.39L148.83,823.43L149.53,823.49L150.23,823.99L150.93,823.49L151.62,823.32L152.32,823.3L153.02,823.11L153.72,823.04L154.41,823.44L155.11,823.38L155.81,822.46L156.5,823L157.2,823.27L157.9,823.33L158.6,822.91L159.29,821.62L159.99,823.25L160.69,823.06L161.38,822.62L162.08,823.17L162.78,822.53L163.48,823.52L164.17,822.83L164.87,823.39L165.57,822.81L166.27,822.72L166.96,823.39L167.66,823.24L168.36,823.28L169.05,820.29L169.75,822.75L170.45,822.43L171.15,823L171.84,822.45L172.54,822.3L173.24,821.98L173.94,822.81L174.63,822.79L175.33,822.18L176.03,821.91L176.72,822.58L177.42,823.06L178.12,822.17L178.82,822.18L179.51,822.52L180.21,822.74L180.91,822.22L181.6,821.89L182.3,822.82L183,822.03L183.7,822.12L184.39,822.38L185.09,822.18L185.79,822.06L186.49,821.71L187.18,821.66L187.88,821.54L188.58,821.53L189.27,822.01L189.97,822.53L190.67,821.59L191.37,821.49L192.06,821.44L192.76,821.78L193.46,819.56L194.16,822.03L194.85,821.1L195.55,821.11L196.25,820.95L196.94,820.29L197.64,820.99L198.34,820.99L199.04,821.16L199.73,820.72L200.43,819.14L201.13,820.4L201.83,821.23L202.52,821.31L203.22,819.66L203.92,817.51L204.61,821.12L205.31,820.87L206.01,817.27L206.71,820.25L207.4,819.11L208.1,819.84L208.8,820.2L209.5,819.91L210.19,819.51L210.89,820.02L211.59,818.98L212.28,819.9L212.98,819.64L213.68,820.33L214.38,819.56L215.07,819.65L215.77,819.61L216.47,819.16L217.16,819.62L217.86,819.01L218.56,818.22L219.26,819.12L219.95,818.29L220.65,818.69L221.35,818.4L222.05,818.91L222.74,818.98L223.44,817.79L224.14,817.84L224.83,817.8L225.53,818.05L226.23,817.46L226.93,818.01L227.62,816.42L228.32,817.35L229.02,817.89L229.72,816.8L230.41,817.23L231.11,816.82L231.81,817.69L232.5,817.44L233.2,816.99L233.9,816.46L234.6,816.05L235.29,816.27L235.99,816.36L236.69,815.92L237.38,816.14L238.08,815.83L238.78,815.59L239.48,815.94L240.17,815.3L240.87,816L241.57,815.53L242.27,814.74L242.96,815.2L243.66,814.52L244.36,814.49L245.05,814.53L245.75,813.56L246.45,813.27L247.15,810.54L247.84,814.03L248.54,813.55L249.24,814.17L249.94,812.7L250.63,813.13L251.33,813.77L252.03,813.23L252.72,811.83L253.42,812.24L254.12,811.06L254.82,811.6L255.51,811.25L256.21,810.56L256.91,810.25L257.61,811.66L258.3,806.39L259,811.31L259.7,809.23L260.39,811.26L261.09,809.77L261.79,810.42L262.49,810.07L263.18,808.33L263.88,808.67L264.58,809.02L265.27,809.71L265.97,808.25L266.67,809.52L267.37,808.46L268.06,807.28L268.76,806.93L269.46,805.49L270.16,806.38L270.85,806.48L271.55,806.8L272.25,805.76L272.94,804.68L273.64,805.49L274.34,804.97L275.04,804.51L275.73,805.45L276.43,804.91L277.13,804.96L277.83,803.38L278.52,803.53L279.22,803.79L279.92,798.45L280.61,801.79L281.31,801.37L282.01,801.31L282.71,801.22L283.4,800.53L284.1,799.65L284.8,795.99L285.5,800.07L286.19,800.14L286.89,799.55L287.59,798.42L288.28,795.9L288.98,798.46L289.68,798.25L290.38,796.42L291.07,795.98L291.77,795.67L292.47,796.15L293.16,793.7L293.86,792.94L294.56,791.83L295.26,794.47L295.95,793.15L296.65,793.34L297.35,792.31L298.05,786.71L298.74,791.2L299.44,789.5L300.14,791.3L300.83,789.07L301.53,789.13L302.23,784.12L302.93,787.75L303.62,788.43L304.32,786.03L305.02,787.37L305.72,787.04L306.41,786.39L307.11,784.95L307.81,781.6L308.5,782.06L309.2,782.68L309.9,780.76L310.6,782.08L311.29,777.42L311.99,781.05L312.69,780.11L313.39,776.73L314.08,778.23L314.78,777.5L315.48,774.61L316.17,772.78L316.87,775.28L317.57,775.27L318.27,774.77L318.96,775.29L319.66,772.53L320.36,774.3L321.06,768.74L321.75,767.88L322.45,769.58L323.15,767.71L323.84,768.5L324.54,768.95L325.24,765.28L325.94,765.05L326.63,763.17L327.33,762.69L328.03,761.09L328.72,761.62L329.42,759.23L330.12,753.06L330.82,758.76L331.51,757.45L332.21,754.37L332.91,754.14L333.61,754.14L334.3,755.08L335,752.05" fill="none" stroke="#e8282a" stroke-width="1.6"/>
<path d="M56.1,822.97L56.8,822.97L57.49,822.97L58.19,822.97L58.89,822.97L59.59,822.96L60.28,822.96L60.98,822.96L61.68,822.96L62.38,822.95L63.07,822.95L63.77,822.95L64.47,822.95L65.16,822.94L65.86,822.94L66.56,822.94L67.26,822.94L67.95,822.93L68.65,822.93L69.35,822.93L70.05,822.93L70.74,822.92L71.44,822.92L72.14,822.92L72.83,822.92L73.53,822.91L74.23,822.91L74.93,822.91L75.62,822.91L76.32,822.9L77.02,822.9L77.71,822.9L78.41,822.9L79.11,822.89L79.81,822.89L80.5,822.89L81.2,822.89L81.9,822.88L82.6,822.88L83.29,822.88L83.99,822.88L84.69,822.87L85.38,822.87L86.08,822.87L86.78,822.87L87.48,822.86L88.17,822.86L88.87,822.86L89.57,822.86L90.27,822.85L90.96,822.85L91.66,822.84L92.36,822.84L93.05,822.83L93.75,822.82L94.45,822.81L95.15,822.81L95.84,822.8L96.54,822.79L97.24,822.78L97.94,822.78L98.63,822.77L99.33,822.76L100.03,822.76L100.72,822.75L101.42,822.74L102.12,822.73L102.82,822.73L103.51,822.72L104.21,822.71L104.91,822.7L105.6,822.7L106.3,822.69L107,822.68L107.7,822.67L108.39,822.67L109.09,822.66L109.79,822.65L110.49,822.64L111.18,822.64L111.88,822.63L112.58,822.62L113.27,822.61L113.97,822.61L114.67,822.6L115.37,822.59L116.06,822.58L116.76,822.58L117.46,822.57L118.16,822.56L118.85,822.56L119.55,822.55L120.25,822.54L120.94,822.53L121.64,822.53L122.34,822.52L123.04,822.51L123.73,822.5L124.43,822.5L125.13,822.49L125.82,822.48L126.52,822.47L127.22,822.46L127.92,822.44L128.61,822.43L129.31,822.42L130.01,822.41L130.71,822.39L131.4,822.38L132.1,822.37L132.8,822.36L133.49,822.35L134.19,822.33L134.89,822.32L135.59,822.31L136.28,822.3L136.98,822.28L137.68,822.27L138.38,822.26L139.07,822.25L139.77,822.23L140.47,822.22L141.16,822.21L141.86,822.2L142.56,822.19L143.26,822.17L143.95,822.16L144.65,822.15L145.35,822.14L146.05,822.12L146.74,822.11L147.44,822.1L148.14,822.09L148.83,822.07L149.53,822.06L150.23,822.05L150.93,822.04L151.62,822.02L152.32,822.01L153.02,822L153.72,821.99L154.41,821.98L155.11,821.96L155.81,821.95L156.5,821.94L157.2,821.93L157.9,821.91L158.6,821.9L159.29,821.89L159.99,821.88L160.69,821.86L161.38,821.84L162.08,821.81L162.78,821.78L163.48,821.76L164.17,821.73L164.87,821.7L165.57,821.67L166.27,821.64L166.96,821.61L167.66,821.58L168.36,821.55L169.05,821.52L169.75,821.49L170.45,821.46L171.15,821.42L171.84,821.39L172.54,821.36L173.24,821.32L173.94,821.29L174.63,821.25L175.33,821.22L176.03,821.18L176.72,821.15L177.42,821.11L178.12,821.07L178.82,821.03L179.51,820.99L180.21,820.95L180.91,820.91L181.6,820.87L182.3,820.83L183,820.79L183.7,820.75L184.39,820.7L185.09,820.66L185.79,820.62L186.49,820.57L187.18,820.52L187.88,820.48L188.58,820.43L189.27,820.38L189.97,820.33L190.67,820.28L191.37,820.23L192.06,820.18L192.76,820.13L193.46,820.08L194.16,820.02L194.85,819.97L195.55,819.92L196.25,819.86L196.94,819.8L197.64,819.75L198.34,819.69L199.04,819.63L199.73,819.57L200.43,819.51L201.13,819.44L201.83,819.38L202.52,819.32L203.22,819.25L203.92,819.19L204.61,819.12L205.31,819.05L206.01,818.98L206.71,818.91L207.4,818.84L208.1,818.77L208.8,818.69L209.5,818.62L210.19,818.54L210.89,818.47L211.59,818.39L212.28,818.31L212.98,818.23L213.68,818.15L214.38,818.07L215.07,817.98L215.77,817.9L216.47,817.81L217.16,817.72L217.86,817.63L218.56,817.54L219.26,817.45L219.95,817.36L220.65,817.26L221.35,817.16L222.05,817.07L222.74,816.97L223.44,816.87L224.14,816.76L224.83,816.66L225.53,816.55L226.23,816.45L226.93,816.34L227.62,816.23L228.32,816.12L229.02,816L229.72,815.89L230.41,815.77L231.11,815.65L231.81,815.53L232.5,815.41L233.2,815.28L233.9,815.16L234.6,815.03L235.29,814.9L235.99,814.77L236.69,814.63L237.38,814.5L238.08,814.36L238.78,814.22L239.48,814.07L240.17,813.93L240.87,813.78L241.57,813.63L242.27,813.48L242.96,813.33L243.66,813.17L244.36,813.01L245.05,812.85L245.75,812.69L246.45,812.52L247.15,812.35L247.84,812.18L248.54,812.01L249.24,811.83L249.94,811.65L250.63,811.47L251.33,811.29L252.03,811.1L252.72,810.91L253.42,810.72L254.12,810.52L254.82,810.32L255.51,810.12L256.21,809.92L256.91,809.71L257.61,809.5L258.3,809.28L259,809.06L259.7,808.84L260.39,808.62L261.09,808.39L261.79,808.16L262.49,807.93L263.18,807.69L263.88,807.44L264.58,807.2L265.27,806.95L265.97,806.7L266.67,806.44L267.37,806.18L268.06,805.91L268.76,805.64L269.46,805.37L270.16,805.09L270.85,804.81L271.55,804.53L272.25,804.24L272.94,803.94L273.64,803.64L274.34,803.34L275.04,803.03L275.73,802.72L276.43,802.4L277.13,802.08L277.83,801.75L278.52,801.42L279.22,801.08L279.92,800.74L280.61,800.39L281.31,800.04L282.01,799.68L282.71,799.32L283.4,798.95L284.1,798.57L284.8,798.19L285.5,797.81L286.19,797.41L286.89,797.01L287.59,796.61L288.28,796.2L288.98,795.78L289.68,795.36L290.38,794.93L291.07,794.49L291.77,794.05L292.47,793.6L293.16,793.15L293.86,792.68L294.56,792.21L295.26,791.74L295.95,791.25L296.65,790.76L297.35,790.26L298.05,789.75L298.74,789.24L299.44,788.71L300.14,788.18L300.83,787.64L301.53,787.1L302.23,786.54L302.93,785.98L303.62,785.41L304.32,784.83L305.02,784.24L305.72,783.64L306.41,783.03L307.11,782.41L307.81,781.79L308.5,781.15L309.2,780.5L309.9,779.85L310.6,779.18L311.29,778.51L311.99,777.82L312.69,777.12L313.39,776.42L314.08,775.7L314.78,774.97L315.48,774.23L316.17,773.48L316.87,772.72L317.57,771.94L318.27,771.16L318.96,770.36L319.66,769.55L320.36,768.73L321.06,767.89L321.75,767.05L322.45,766.19L323.15,765.31L323.84,764.43L324.54,763.53L325.24,762.61L325.94,761.68L326.63,760.74L327.33,759.79L328.03,758.81L328.72,757.83L329.42,756.83L330.12,755.81L330.82,754.78L331.51,753.73L332.21,752.67L332.91,751.59L333.61,750.5L334.3,749.39L335,748.26L335,754.58L334.3,755.65L333.61,756.71L332.91,757.75L332.21,758.78L331.51,759.79L330.82,760.79L330.12,761.77L329.42,762.73L328.72,763.69L328.03,764.62L327.33,765.55L326.63,766.46L325.94,767.35L325.24,768.24L324.54,769.1L323.84,769.96L323.15,770.8L322.45,771.64L321.75,772.45L321.06,773.26L320.36,774.05L319.66,774.84L318.96,775.61L318.27,776.37L317.57,777.11L316.87,777.85L316.17,778.57L315.48,779.29L314.78,779.99L314.08,780.69L313.39,781.37L312.69,782.04L311.99,782.7L311.29,783.36L310.6,784L309.9,784.63L309.2,785.25L308.5,785.87L307.81,786.47L307.11,787.07L306.41,787.66L305.72,788.24L305.02,788.8L304.32,789.37L303.62,789.92L302.93,790.46L302.23,791L301.53,791.53L300.83,792.05L300.14,792.56L299.44,793.06L298.74,793.56L298.05,794.05L297.35,794.53L296.65,795.01L295.95,795.48L295.26,795.94L294.56,796.39L293.86,796.84L293.16,797.28L292.47,797.71L291.77,798.14L291.07,798.56L290.38,798.98L289.68,799.39L288.98,799.79L288.28,800.19L287.59,800.58L286.89,800.96L286.19,801.34L285.5,801.71L284.8,802.08L284.1,802.44L283.4,802.8L282.71,803.15L282.01,803.5L281.31,803.84L280.61,804.17L279.92,804.5L279.22,804.83L278.52,805.15L277.83,805.47L277.13,805.78L276.43,806.08L275.73,806.39L275.04,806.68L274.34,806.98L273.64,807.27L272.94,807.55L272.25,807.83L271.55,808.11L270.85,808.38L270.16,808.65L269.46,808.91L268.76,809.17L268.06,809.43L267.37,809.68L266.67,809.93L265.97,810.17L265.27,810.41L264.58,810.65L263.88,810.88L263.18,811.11L262.49,811.34L261.79,811.56L261.09,811.78L260.39,812L259.7,812.21L259,812.42L258.3,812.63L257.61,812.83L256.91,813.03L256.21,813.23L255.51,813.43L254.82,813.62L254.12,813.81L253.42,813.99L252.72,814.18L252.03,814.36L251.33,814.54L250.63,814.71L249.94,814.89L249.24,815.06L248.54,815.22L247.84,815.39L247.15,815.55L246.45,815.71L245.75,815.87L245.05,816.02L244.36,816.18L243.66,816.33L242.96,816.48L242.27,816.62L241.57,816.77L240.87,816.91L240.17,817.05L239.48,817.19L238.78,817.32L238.08,817.46L237.38,817.59L236.69,817.72L235.99,817.85L235.29,817.97L234.6,818.1L233.9,818.22L233.2,818.34L232.5,818.46L231.81,818.57L231.11,818.69L230.41,818.8L229.72,818.91L229.02,819.02L228.32,819.13L227.62,819.24L226.93,819.34L226.23,819.45L225.53,819.55L224.83,819.65L224.14,819.75L223.44,819.84L222.74,819.94L222.05,820.03L221.35,820.13L220.65,820.22L219.95,820.31L219.26,820.4L218.56,820.49L217.86,820.57L217.16,820.66L216.47,820.74L215.77,820.82L215.07,820.9L214.38,820.98L213.68,821.06L212.98,821.14L212.28,821.22L211.59,821.29L210.89,821.37L210.19,821.44L209.5,821.51L208.8,821.58L208.1,821.65L207.4,821.72L206.71,821.79L206.01,821.86L205.31,821.92L204.61,821.99L203.92,822.05L203.22,822.11L202.52,822.17L201.83,822.24L201.13,822.3L200.43,822.35L199.73,822.41L199.04,822.47L198.34,822.53L197.64,822.58L196.94,822.64L196.25,822.69L195.55,822.74L194.85,822.8L194.16,822.85L193.46,822.9L192.76,822.95L192.06,823L191.37,823.05L190.67,823.09L189.97,823.14L189.27,823.19L188.58,823.23L187.88,823.28L187.18,823.32L186.49,823.37L185.79,823.41L185.09,823.45L184.39,823.49L183.7,823.54L183,823.58L182.3,823.62L181.6,823.66L180.91,823.69L180.21,823.73L179.51,823.77L178.82,823.81L178.12,823.84L177.42,823.88L176.72,823.92L176.03,823.95L175.33,823.98L174.63,824.02L173.94,824.05L173.24,824.08L172.54,824.12L171.84,824.15L171.15,824.18L170.45,824.21L169.75,824.24L169.05,824.27L168.36,824.3L167.66,824.33L166.96,824.36L166.27,824.39L165.57,824.41L164.87,824.44L164.17,824.47L163.48,824.5L162.78,824.52L162.08,824.55L161.38,824.57L160.69,824.6L159.99,824.61L159.29,824.62L158.6,824.63L157.9,824.64L157.2,824.66L156.5,824.67L155.81,824.68L155.11,824.69L154.41,824.7L153.72,824.71L153.02,824.73L152.32,824.74L151.62,824.75L150.93,824.76L150.23,824.77L149.53,824.79L148.83,824.8L148.14,824.81L147.44,824.82L146.74,824.83L146.05,824.84L145.35,824.86L144.65,824.87L143.95,824.88L143.26,824.89L142.56,824.9L141.86,824.91L141.16,824.93L140.47,824.94L139.77,824.95L139.07,824.96L138.38,824.97L137.68,824.99L136.98,825L136.28,825.01L135.59,825.02L134.89,825.03L134.19,825.04L133.49,825.06L132.8,825.07L132.1,825.08L131.4,825.09L130.71,825.1L130.01,825.11L129.31,825.13L128.61,825.14L127.92,825.15L127.22,825.16L126.52,825.17L125.82,825.18L125.13,825.19L124.43,825.2L123.73,825.21L123.04,825.21L122.34,825.22L121.64,825.23L120.94,825.23L120.25,825.24L119.55,825.25L118.85,825.26L118.16,825.26L117.46,825.27L116.76,825.28L116.06,825.28L115.37,825.29L114.67,825.3L113.97,825.3L113.27,825.31L112.58,825.32L111.88,825.33L111.18,825.33L110.49,825.34L109.79,825.35L109.09,825.35L108.39,825.36L107.7,825.37L107,825.37L106.3,825.38L105.6,825.39L104.91,825.4L104.21,825.4L103.51,825.41L102.82,825.42L102.12,825.42L101.42,825.43L100.72,825.44L100.03,825.45L99.33,825.45L98.63,825.46L97.94,825.47L97.24,825.47L96.54,825.48L95.84,825.49L95.15,825.49L94.45,825.5L93.75,825.51L93.05,825.52L92.36,825.52L91.66,825.53L90.96,825.54L90.27,825.54L89.57,825.54L88.87,825.54L88.17,825.55L87.48,825.55L86.78,825.55L86.08,825.55L85.38,825.56L84.69,825.56L83.99,825.56L83.29,825.56L82.6,825.56L81.9,825.57L81.2,825.57L80.5,825.57L79.81,825.57L79.11,825.58L78.41,825.58L77.71,825.58L77.02,825.58L76.32,825.59L75.62,825.59L74.93,825.59L74.23,825.59L73.53,825.6L72.83,825.6L72.14,825.6L71.44,825.6L70.74,825.6L70.05,825.61L69.35,825.61L68.65,825.61L67.95,825.61L67.26,825.62L66.56,825.62L65.86,825.62L65.16,825.62L64.47,825.63L63.77,825.63L63.07,825.63L62.38,825.63L61.68,825.64L60.98,825.64L60.28,825.64L59.59,825.64L58.89,825.64L58.19,825.65L57.49,825.65L56.8,825.65L56.1,825.65Z" fill="#e8282a" stroke="none"/>
<path d="M56.1,824.92L63.07,807.34L335,806.98" fill="none" stroke="#9b59d0" stroke-width="1.6"/>
<path d="M63.07,805.04L65.37,809.18L60.77,809.18Z" fill="none" stroke="#9b59d0" stroke-width="0.9"/>
<path d="M70.05,805.03L72.34,809.17L67.75,809.17Z" fill="none" stroke="#9b59d0" stroke-width="0.9"/>
<path d="M77.02,805.02L79.32,809.16L74.72,809.16Z" fill="none" stroke="#9b59d0" stroke-width="0.9"/>
<path d="M83.99,805.01L86.29,809.15L81.69,809.15Z" fill="none" stroke="#9b59d0" stroke-width="0.9"/>
<path d="M90.96,805.00L93.26,809.14L88.66,809.14Z" fill="none" stroke="#9b59d0" stroke-width="0.9"/>
<path d="M97.94,804.99L100.23,809.13L95.64,809.13Z" fill="none" stroke="#9b59d0" stroke-width="0.9"/>
<path d="M104.91,804.98L107.21,809.12L102.61,809.12Z" fill="none" stroke="#9b59d0" stroke-width="0.9"/>
<path d="M111.88,804.97L114.18,809.11L109.58,809.11Z" fill="none" stroke="#9b59d0" stroke-width="0.9"/>
<path d="M118.85,804.96L121.15,809.10L116.55,809.10Z" fill="none" stroke="#9b59d0" stroke-width="0.9"/>
<path d="M125.82,804.95L128.12,809.09L123.52,809.09Z" fill="none" stroke="#9b59d0" stroke-width="0.9"/>
<path d="M132.80,804.95L135.10,809.09L130.50,809.09Z" fill="none" stroke="#9b59d0" stroke-width="0.9"/>
<path d="M139.77,804.94L142.07,809.08L137.47,809.08Z" fill="none" stroke="#9b59d0" stroke-width="0.9"/>
<path d="M146.74,804.93L149.04,809.07L144.44,809.07Z" fill="none" stroke="#9b59d0" stroke-width="0.9"/>
<path d="M153.71,804.92L156.01,809.06L151.41,809.06Z" fill="none" stroke="#9b59d0" stroke-width="0.9"/>
<path d="M160.69,804.91L162.99,809.05L158.39,809.05Z" fill="none" stroke="#9b59d0" stroke-width="0.9"/>
<path d="M167.66,804.90L169.96,809.04L165.36,809.04Z" fill="none" stroke="#9b59d0" stroke-width="0.9"/>
<path d="M174.63,804.89L176.93,809.03L172.33,809.03Z" fill="none" stroke="#9b59d0" stroke-width="0.9"/>
<path d="M181.60,804.88L183.91,809.02L179.30,809.02Z" fill="none" stroke="#9b59d0" stroke-width="0.9"/>
<path d="M188.58,804.87L190.88,809.01L186.28,809.01Z" fill="none" stroke="#9b59d0" stroke-width="0.9"/>
<path d="M195.55,804.86L197.85,809.00L193.25,809.00Z" fill="none" stroke="#9b59d0" stroke-width="0.9"/>
<path d="M202.52,804.86L204.82,809.00L200.22,809.00Z" fill="none" stroke="#9b59d0" stroke-width="0.9"/>
<path d="M209.50,804.85L211.80,808.99L207.19,808.99Z" fill="none" stroke="#9b59d0" stroke-width="0.9"/>
<path d="M216.47,804.84L218.77,808.98L214.17,808.98Z" fill="none" stroke="#9b59d0" stroke-width="0.9"/>
<path d="M223.44,804.83L225.74,808.97L221.14,808.97Z" fill="none" stroke="#9b59d0" stroke-width="0.9"/>
<path d="M230.41,804.82L232.71,808.96L228.11,808.96Z" fill="none" stroke="#9b59d0" stroke-width="0.9"/>
<path d="M237.38,804.81L239.69,808.95L235.08,808.95Z" fill="none" stroke="#9b59d0" stroke-width="0.9"/>
<path d="M244.36,804.80L246.66,808.94L242.06,808.94Z" fill="none" stroke="#9b59d0" stroke-width="0.9"/>
<path d="M251.33,804.79L253.63,808.93L249.03,808.93Z" fill="none" stroke="#9b59d0" stroke-width="0.9"/>
<path d="M258.30,804.78L260.60,808.92L256.00,808.92Z" fill="none" stroke="#9b59d0" stroke-width="0.9"/>
<path d="M265.27,804.77L267.57,808.91L262.97,808.91Z" fill="none" stroke="#9b59d0" stroke-width="0.9"/>
<path d="M272.25,804.77L274.55,808.91L269.95,808.91Z" fill="none" stroke="#9b59d0" stroke-width="0.9"/>
<path d="M279.22,804.76L281.52,808.90L276.92,808.90Z" fill="none" stroke="#9b59d0" stroke-width="0.9"/>
<path d="M286.19,804.75L288.49,808.89L283.89,808.89Z" fill="none" stroke="#9b59d0" stroke-width="0.9"/>
<path d="M293.16,804.74L295.46,808.88L290.86,808.88Z" fill="none" stroke="#9b59d0" stroke-width="0.9"/>
<path d="M300.14,804.73L302.44,808.87L297.84,808.87Z" fill="none" stroke="#9b59d0" stroke-width="0.9"/>
<path d="M307.11,804.72L309.41,808.86L304.81,808.86Z" fill="none" stroke="#9b59d0" stroke-width="0.9"/>
<path d="M314.08,804.71L316.38,808.85L311.78,808.85Z" fill="none" stroke="#9b59d0" stroke-width="0.9"/>
<path d="M321.06,804.70L323.36,808.84L318.75,808.84Z" fill="none" stroke="#9b59d0" stroke-width="0.9"/>
<path d="M328.03,804.69L330.33,808.83L325.73,808.83Z" fill="none" stroke="#9b59d0" stroke-width="0.9"/>
<path d="M335.00,804.68L337.30,808.82L332.70,808.82Z" fill="none" stroke="#9b59d0" stroke-width="0.9"/>
<path d="M56.1,824.92L63.07,823.38L335,823.34" fill="none" stroke="#b5652d" stroke-width="1.6"/>
<path d="M63.07,821.08L64.91,823.38L63.07,825.68L61.23,823.38Z" fill="none" stroke="#b5652d" stroke-width="0.9"/>
<path d="M70.05,821.07L71.89,823.37L70.05,825.67L68.20,823.37Z" fill="none" stroke="#b5652d" stroke-width="0.9"/>
<path d="M77.02,821.07L78.86,823.37L77.02,825.67L75.18,823.37Z" fill="none" stroke="#b5652d" stroke-width="0.9"/>
<path d="M83.99,821.07L85.83,823.37L83.99,825.67L82.15,823.37Z" fill="none" stroke="#b5652d" stroke-width="0.9"/>
<path d="M90.96,821.07L92.80,823.37L90.96,825.67L89.12,823.37Z" fill="none" stroke="#b5652d" stroke-width="0.9"/>
<path d="M97.94,821.07L99.78,823.37L97.94,825.67L96.09,823.37Z" fill="none" stroke="#b5652d" stroke-width="0.9"/>
<path d="M104.91,821.07L106.75,823.37L104.91,825.67L103.07,823.37Z" fill="none" stroke="#b5652d" stroke-width="0.9"/>
<path d="M111.88,821.07L113.72,823.37L111.88,825.67L110.04,823.37Z" fill="none" stroke="#b5652d" stroke-width="0.9"/>
<path d="M118.85,821.07L120.69,823.37L118.85,825.67L117.01,823.37Z" fill="none" stroke="#b5652d" stroke-width="0.9"/>
<path d="M125.82,821.07L127.66,823.37L125.82,825.67L123.98,823.37Z" fill="none" stroke="#b5652d" stroke-width="0.9"/>
<path d="M132.80,821.07L134.64,823.37L132.80,825.67L130.96,823.37Z" fill="none" stroke="#b5652d" stroke-width="0.9"/>
<path d="M139.77,821.07L141.61,823.37L139.77,825.67L137.93,823.37Z" fill="none" stroke="#b5652d" stroke-width="0.9"/>
<path d="M146.74,821.07L148.58,823.37L146.74,825.67L144.90,823.37Z" fill="none" stroke="#b5652d" stroke-width="0.9"/>
<path d="M153.71,821.07L155.55,823.37L153.71,825.67L151.87,823.37Z" fill="none" stroke="#b5652d" stroke-width="0.9"/>
<path d="M160.69,821.06L162.53,823.36L160.69,825.66L158.85,823.36Z" fill="none" stroke="#b5652d" stroke-width="0.9"/>
<path d="M167.66,821.06L169.50,823.36L167.66,825.66L165.82,823.36Z" fill="none" stroke="#b5652d" stroke-width="0.9"/>
<path d="M174.63,821.06L176.47,823.36L174.63,825.66L172.79,823.36Z" fill="none" stroke="#b5652d" stroke-width="0.9"/>
<path d="M181.60,821.06L183.44,823.36L181.60,825.66L179.76,823.36Z" fill="none" stroke="#b5652d" stroke-width="0.9"/>
<path d="M188.58,821.06L190.42,823.36L188.58,825.66L186.74,823.36Z" fill="none" stroke="#b5652d" stroke-width="0.9"/>
<path d="M195.55,821.06L197.39,823.36L195.55,825.66L193.71,823.36Z" fill="none" stroke="#b5652d" stroke-width="0.9"/>
<path d="M202.52,821.06L204.36,823.36L202.52,825.66L200.68,823.36Z" fill="none" stroke="#b5652d" stroke-width="0.9"/>
<path d="M209.50,821.06L211.34,823.36L209.50,825.66L207.66,823.36Z" fill="none" stroke="#b5652d" stroke-width="0.9"/>
<path d="M216.47,821.06L218.31,823.36L216.47,825.66L214.63,823.36Z" fill="none" stroke="#b5652d" stroke-width="0.9"/>
<path d="M223.44,821.06L225.28,823.36L223.44,825.66L221.60,823.36Z" fill="none" stroke="#b5652d" stroke-width="0.9"/>
<path d="M230.41,821.06L232.25,823.36L230.41,825.66L228.57,823.36Z" fill="none" stroke="#b5652d" stroke-width="0.9"/>
<path d="M237.38,821.06L239.22,823.36L237.38,825.66L235.54,823.36Z" fill="none" stroke="#b5652d" stroke-width="0.9"/>
<path d="M244.36,821.05L246.20,823.35L244.36,825.65L242.52,823.35Z" fill="none" stroke="#b5652d" stroke-width="0.9"/>
<path d="M251.33,821.05L253.17,823.35L251.33,825.65L249.49,823.35Z" fill="none" stroke="#b5652d" stroke-width="0.9"/>
<path d="M258.30,821.05L260.14,823.35L258.30,825.65L256.46,823.35Z" fill="none" stroke="#b5652d" stroke-width="0.9"/>
<path d="M265.27,821.05L267.11,823.35L265.27,825.65L263.44,823.35Z" fill="none" stroke="#b5652d" stroke-width="0.9"/>
<path d="M272.25,821.05L274.09,823.35L272.25,825.65L270.41,823.35Z" fill="none" stroke="#b5652d" stroke-width="0.9"/>
<path d="M279.22,821.05L281.06,823.35L279.22,825.65L277.38,823.35Z" fill="none" stroke="#b5652d" stroke-width="0.9"/>
<path d="M286.19,821.05L288.03,823.35L286.19,825.65L284.35,823.35Z" fill="none" stroke="#b5652d" stroke-width="0.9"/>
<path d="M293.16,821.05L295.00,823.35L293.16,825.65L291.32,823.35Z" fill="none" stroke="#b5652d" stroke-width="0.9"/>
<path d="M300.14,821.05L301.98,823.35L300.14,825.65L298.30,823.35Z" fill="none" stroke="#b5652d" stroke-width="0.9"/>
<path d="M307.11,821.05L308.95,823.35L307.11,825.65L305.27,823.35Z" fill="none" stroke="#b5652d" stroke-width="0.9"/>
<path d="M314.08,821.05L315.92,823.35L314.08,825.65L312.24,823.35Z" fill="none" stroke="#b5652d" stroke-width="0.9"/>
<path d="M321.06,821.05L322.89,823.35L321.06,825.65L319.22,823.35Z" fill="none" stroke="#b5652d" stroke-width="0.9"/>
<path d="M328.03,821.05L329.87,823.35L328.03,825.65L326.19,823.35Z" fill="none" stroke="#b5652d" stroke-width="0.9"/>
<path d="M335.00,821.04L336.84,823.34L335.00,825.64L333.16,823.34Z" fill="none" stroke="#b5652d" stroke-width="0.9"/>
<path d="M56.1,824.92L63.07,824.7L335,824.7" fill="none" stroke="#a8a8a8" stroke-width="1.6"/>
<path d="M63.07,827.00L65.37,822.86L60.77,822.86Z" fill="none" stroke="#a8a8a8" stroke-width="0.9"/>
<path d="M70.05,827.00L72.34,822.86L67.75,822.86Z" fill="none" stroke="#a8a8a8" stroke-width="0.9"/>
<path d="M77.02,827.00L79.32,822.86L74.72,822.86Z" fill="none" stroke="#a8a8a8" stroke-width="0.9"/>
<path d="M83.99,827.00L86.29,822.86L81.69,822.86Z" fill="none" stroke="#a8a8a8" stroke-width="0.9"/>
<path d="M90.96,827.00L93.26,822.86L88.66,822.86Z" fill="none" stroke="#a8a8a8" stroke-width="0.9"/>
<path d="M97.94,827.00L100.23,822.86L95.64,822.86Z" fill="none" stroke="#a8a8a8" stroke-width="0.9"/>
<path d="M104.91,827.00L107.21,822.86L102.61,822.86Z" fill="none" stroke="#a8a8a8" stroke-width="0.9"/>
<path d="M111.88,827.00L114.18,822.86L109.58,822.86Z" fill="none" stroke="#a8a8a8" stroke-width="0.9"/>
<path d="M118.85,827.00L121.15,822.86L116.55,822.86Z" fill="none" stroke="#a8a8a8" stroke-width="0.9"/>
<path d="M125.82,827.00L128.12,822.86L123.52,822.86Z" fill="none" stroke="#a8a8a8" stroke-width="0.9"/>
<path d="M132.80,827.00L135.10,822.86L130.50,822.86Z" fill="none" stroke="#a8a8a8" stroke-width="0.9"/>
<path d="M139.77,827.00L142.07,822.86L137.47,822.86Z" fill="none" stroke="#a8a8a8" stroke-width="0.9"/>
<path d="M146.74,827.00L149.04,822.86L144.44,822.86Z" fill="none" stroke="#a8a8a8" stroke-width="0.9"/>
<path d="M153.71,827.00L156.01,822.86L151.41,822.86Z" fill="none" stroke="#a8a8a8" stroke-width="0.9"/>
<path d="M160.69,827.00L162.99,822.86L158.39,822.86Z" fill="none" stroke="#a8a8a8" stroke-width="0.9"/>
<path d="M167.66,827.00L169.96,822.86L165.36,822.86Z" fill="none" stroke="#a8a8a8" stroke-width="0.9"/>
<path d="M174.63,827.00L176.93,822.86L172.33,822.86Z" fill="none" stroke="#a8a8a8" stroke-width="0.9"/>
<path d="M181.60,827.00L183.91,822.86L179.30,822.86Z" fill="none" stroke="#a8a8a8" stroke-width="0.9"/>
<path d="M188.58,827.00L190.88,822.86L186.28,822.86Z" fill="none" stroke="#a8a8a8" stroke-width="0.9"/>
<path d="M195.55,827.00L197.85,822.86L193.25,822.86Z" fill="none" stroke="#a8a8a8" stroke-width="0.9"/>
<path d="M202.52,827.00L204.82,822.86L200.22,822.86Z" fill="none" stroke="#a8a8a8" stroke-width="0.9"/>
<path d="M209.50,827.00L211.80,822.86L207.19,822.86Z" fill="none" stroke="#a8a8a8" stroke-width="0.9"/>
<path d="M216.47,827.00L218.77,822.86L214.17,822.86Z" fill="none" stroke="#a8a8a8" stroke-width="0.9"/>
<path d="M223.44,827.00L225.74,822.86L221.14,822.86Z" fill="none" stroke="#a8a8a8" stroke-width="0.9"/>
<path d="M230.41,827.00L232.71,822.86L228.11,822.86Z" fill="none" stroke="#a8a8a8" stroke-width="0.9"/>
<path d="M237.38,827.00L239.69,822.86L235.08,822.86Z" fill="none" stroke="#a8a8a8" stroke-width="0.9"/>
<path d="M244.36,827.00L246.66,822.86L242.06,822.86Z" fill="none" stroke="#a8a8a8" stroke-width="0.9"/>
<path d="M251.33,827.00L253.63,822.86L249.03,822.86Z" fill="none" stroke="#a8a8a8" stroke-width="0.9"/>
<path d="M258.30,827.00L260.60,822.86L256.00,822.86Z" fill="none" stroke="#a8a8a8" stroke-width="0.9"/>
<path d="M265.27,827.00L267.57,822.86L262.97,822.86Z" fill="none" stroke="#a8a8a8" stroke-width="0.9"/>
<path d="M272.25,827.00L274.55,822.86L269.95,822.86Z" fill="none" stroke="#a8a8a8" stroke-width="0.9"/>
<path d="M279.22,827.00L281.52,822.86L276.92,822.86Z" fill="none" stroke="#a8a8a8" stroke-width="0.9"/>
<path d="M286.19,827.00L288.49,822.86L283.89,822.86Z" fill="none" stroke="#a8a8a8" stroke-width="0.9"/>
<path d="M293.16,827.00L295.46,822.86L290.86,822.86Z" fill="none" stroke="#a8a8a8" stroke-width="0.9"/>
<path d="M300.14,827.00L302.44,822.86L297.84,822.86Z" fill="none" stroke="#a8a8a8" stroke-width="0.9"/>
<path d="M307.11,827.00L309.41,822.86L304.81,822.86Z" fill="none" stroke="#a8a8a8" stroke-width="0.9"/>
<path d="M314.08,827.00L316.38,822.86L311.78,822.86Z" fill="none" stroke="#a8a8a8" stroke-width="0.9"/>
<path d="M321.06,827.00L323.36,822.86L318.75,822.86Z" fill="none" stroke="#a8a8a8" stroke-width="0.9"/>
<path d="M328.03,827.00L330.33,822.86L325.73,822.86Z" fill="none" stroke="#a8a8a8" stroke-width="0.9"/>
<path d="M335.00,827.00L337.30,822.86L332.70,822.86Z" fill="none" stroke="#a8a8a8" stroke-width="0.9"/>
<line x1="56.1" y1="822.51" x2="84.4" y2="708.7" stroke="#c8c8c8" stroke-width="1"/>
<line x1="160.69" y1="822.51" x2="223.2" y2="788.0" stroke="#c8c8c8" stroke-width="1"/>
</g>
<rect x="56.1" y="704.5" width="278.9" height="144.5" fill="none" stroke="#111" stroke-width="1.3"/>
<path d="M56.1,849v5.0M90.96,849v5.0M125.82,849v5.0M160.69,849v5.0M195.55,849v5.0M230.41,849v5.0M265.27,849v5.0M300.14,849v5.0M335,849v5.0M56.1,849v2.6M63.07,849v2.6M70.05,849v2.6M77.02,849v2.6M83.99,849v2.6M90.96,849v2.6M97.94,849v2.6M104.91,849v2.6M111.88,849v2.6M118.85,849v2.6M125.82,849v2.6M132.8,849v2.6M139.77,849v2.6M146.74,849v2.6M153.71,849v2.6M160.69,849v2.6M167.66,849v2.6M174.63,849v2.6M181.6,849v2.6M188.58,849v2.6M195.55,849v2.6M202.52,849v2.6M209.5,849v2.6M216.47,849v2.6M223.44,849v2.6M230.41,849v2.6M237.38,849v2.6M244.36,849v2.6M251.33,849v2.6M258.3,849v2.6M265.27,849v2.6M272.25,849v2.6M279.22,849v2.6M286.19,849v2.6M293.16,849v2.6M300.14,849v2.6M307.11,849v2.6M314.08,849v2.6M321.06,849v2.6M328.03,849v2.6M335,849v2.6" stroke="#111" stroke-width="1.1" fill="none"/>
<text x="56.1" y="866.6" font-family="'Liberation Serif', serif" font-size="12" text-anchor="middle" fill="#1a1a1a">0.0</text>
<text x="90.96" y="866.6" font-family="'Liberation Serif', serif" font-size="12" text-anchor="middle" fill="#1a1a1a">0.5</text>
<text x="125.82" y="866.6" font-family="'Liberation Serif', serif" font-size="12" text-anchor="middle" fill="#1a1a1a">1.0</text>
<text x="160.69" y="866.6" font-family="'Liberation Serif', serif" font-size="12" text-anchor="middle" fill="#1a1a1a">1.5</text>
<text x="195.55" y="866.6" font-family="'Liberation Serif', serif" font-size="12" text-anchor="middle" fill="#1a1a1a">2.0</text>
<text x="230.41" y="866.6" font-family="'Liberation Serif', serif" font-size="12" text-anchor="middle" fill="#1a1a1a">2.5</text>
<text x="265.27" y="866.6" font-family="'Liberation Serif', serif" font-size="12" text-anchor="middle" fill="#1a1a1a">3.0</text>
<text x="300.14" y="866.6" font-family="'Liberation Serif', serif" font-size="12" text-anchor="middle" fill="#1a1a1a">3.5</text>
<text x="335" y="866.6" font-family="'Liberation Serif', serif" font-size="12" text-anchor="middle" fill="#1a1a1a">4.0</text>
<path d="M56.1,849h-5.0M56.1,824.92h-5.0M56.1,800.83h-5.0M56.1,776.75h-5.0M56.1,752.67h-5.0M56.1,728.58h-5.0M56.1,704.5h-5.0M56.1,849h-2.6M56.1,844.18h-2.6M56.1,839.37h-2.6M56.1,834.55h-2.6M56.1,829.73h-2.6M56.1,824.92h-2.6M56.1,820.1h-2.6M56.1,815.28h-2.6M56.1,810.47h-2.6M56.1,805.65h-2.6M56.1,800.83h-2.6M56.1,796.02h-2.6M56.1,791.2h-2.6M56.1,786.38h-2.6M56.1,781.57h-2.6M56.1,776.75h-2.6M56.1,771.93h-2.6M56.1,767.12h-2.6M56.1,762.3h-2.6M56.1,757.48h-2.6M56.1,752.67h-2.6M56.1,747.85h-2.6M56.1,743.03h-2.6M56.1,738.22h-2.6M56.1,733.4h-2.6M56.1,728.58h-2.6M56.1,723.77h-2.6M56.1,718.95h-2.6M56.1,714.13h-2.6M56.1,709.32h-2.6M56.1,704.5h-2.6" stroke="#111" stroke-width="1.1" fill="none"/>
<text x="45.6" y="853.2" font-family="'Liberation Serif', serif" font-size="12" text-anchor="end" fill="#1a1a1a">−10</text>
<text x="45.6" y="829.12" font-family="'Liberation Serif', serif" font-size="12" text-anchor="end" fill="#1a1a1a">0</text>
<text x="45.6" y="805.03" font-family="'Liberation Serif', serif" font-size="12" text-anchor="end" fill="#1a1a1a">10</text>
<text x="45.6" y="780.95" font-family="'Liberation Serif', serif" font-size="12" text-anchor="end" fill="#1a1a1a">20</text>
<text x="45.6" y="756.87" font-family="'Liberation Serif', serif" font-size="12" text-anchor="end" fill="#1a1a1a">30</text>
<text x="45.6" y="732.78" font-family="'Liberation Serif', serif" font-size="12" text-anchor="end" fill="#1a1a1a">40</text>
<text x="45.6" y="708.7" font-family="'Liberation Serif', serif" font-size="12" text-anchor="end" fill="#1a1a1a">50</text>
<rect x="84.4" y="708.7" width="138.8" height="79.3" fill="#fff"/>
<path d="M84.4,788H223.2M84.4,784.03H223.2M84.4,780.07H223.2M84.4,776.11H223.2M84.4,772.14H223.2M84.4,768.17H223.2M84.4,764.21H223.2M84.4,760.25H223.2M84.4,756.28H223.2M84.4,752.32H223.2M84.4,748.35H223.2M84.4,744.38H223.2M84.4,740.42H223.2M84.4,736.46H223.2M84.4,732.49H223.2M84.4,728.53H223.2M84.4,724.56H223.2M84.4,720.6H223.2M84.4,716.63H223.2M84.4,712.67H223.2M84.4,708.7H223.2" stroke="#efefef" stroke-width="0.8" fill="none"/>
<path d="M130.67,708.7V788M176.93,708.7V788M84.4,768.17H223.2M84.4,748.35H223.2M84.4,728.53H223.2" stroke="#d6d6d6" stroke-width="0.9" fill="none"/>
<g clip-path="url(#c10)">
<path d="M84.4,788L93.65,740.42L223.2,737.25" fill="none" stroke="#b5652d" stroke-width="1.4"/>
<path d="M93.65,738.22L95.41,740.42L93.65,742.62L91.89,740.42Z" fill="none" stroke="#b5652d" stroke-width="0.8"/>
<path d="M102.91,737.99L104.67,740.19L102.91,742.39L101.15,740.19Z" fill="none" stroke="#b5652d" stroke-width="0.8"/>
<path d="M112.16,737.77L113.92,739.97L112.16,742.17L110.40,739.97Z" fill="none" stroke="#b5652d" stroke-width="0.8"/>
<path d="M121.41,737.54L123.17,739.74L121.41,741.94L119.65,739.74Z" fill="none" stroke="#b5652d" stroke-width="0.8"/>
<path d="M130.67,737.31L132.43,739.51L130.67,741.71L128.91,739.51Z" fill="none" stroke="#b5652d" stroke-width="0.8"/>
<path d="M139.92,737.09L141.68,739.29L139.92,741.49L138.16,739.29Z" fill="none" stroke="#b5652d" stroke-width="0.8"/>
<path d="M149.17,736.86L150.93,739.06L149.17,741.26L147.41,739.06Z" fill="none" stroke="#b5652d" stroke-width="0.8"/>
<path d="M158.43,736.63L160.19,738.83L158.43,741.03L156.67,738.83Z" fill="none" stroke="#b5652d" stroke-width="0.8"/>
<path d="M167.68,736.41L169.44,738.61L167.68,740.81L165.92,738.61Z" fill="none" stroke="#b5652d" stroke-width="0.8"/>
<path d="M176.93,736.18L178.69,738.38L176.93,740.58L175.17,738.38Z" fill="none" stroke="#b5652d" stroke-width="0.8"/>
<path d="M186.19,735.95L187.95,738.15L186.19,740.35L184.43,738.15Z" fill="none" stroke="#b5652d" stroke-width="0.8"/>
<path d="M195.44,735.73L197.20,737.93L195.44,740.13L193.68,737.93Z" fill="none" stroke="#b5652d" stroke-width="0.8"/>
<path d="M204.69,735.50L206.45,737.70L204.69,739.90L202.93,737.70Z" fill="none" stroke="#b5652d" stroke-width="0.8"/>
<path d="M213.95,735.27L215.71,737.47L213.95,739.67L212.19,737.47Z" fill="none" stroke="#b5652d" stroke-width="0.8"/>
<path d="M223.20,735.05L224.96,737.25L223.20,739.45L221.44,737.25Z" fill="none" stroke="#b5652d" stroke-width="0.8"/>
<path d="M84.4,788L93.65,783.24L223.2,780.86" fill="none" stroke="#a8a8a8" stroke-width="1.4"/>
<path d="M93.65,785.44L95.85,781.48L91.45,781.48Z" fill="none" stroke="#a8a8a8" stroke-width="0.8"/>
<path d="M102.91,785.27L105.11,781.31L100.71,781.31Z" fill="none" stroke="#a8a8a8" stroke-width="0.8"/>
<path d="M112.16,785.10L114.36,781.14L109.96,781.14Z" fill="none" stroke="#a8a8a8" stroke-width="0.8"/>
<path d="M121.41,784.93L123.61,780.97L119.21,780.97Z" fill="none" stroke="#a8a8a8" stroke-width="0.8"/>
<path d="M130.67,784.76L132.87,780.80L128.47,780.80Z" fill="none" stroke="#a8a8a8" stroke-width="0.8"/>
<path d="M139.92,784.59L142.12,780.63L137.72,780.63Z" fill="none" stroke="#a8a8a8" stroke-width="0.8"/>
<path d="M149.17,784.42L151.37,780.46L146.97,780.46Z" fill="none" stroke="#a8a8a8" stroke-width="0.8"/>
<path d="M158.43,784.25L160.63,780.29L156.23,780.29Z" fill="none" stroke="#a8a8a8" stroke-width="0.8"/>
<path d="M167.68,784.08L169.88,780.12L165.48,780.12Z" fill="none" stroke="#a8a8a8" stroke-width="0.8"/>
<path d="M176.93,783.91L179.13,779.95L174.73,779.95Z" fill="none" stroke="#a8a8a8" stroke-width="0.8"/>
<path d="M186.19,783.74L188.39,779.78L183.99,779.78Z" fill="none" stroke="#a8a8a8" stroke-width="0.8"/>
<path d="M195.44,783.57L197.64,779.61L193.24,779.61Z" fill="none" stroke="#a8a8a8" stroke-width="0.8"/>
<path d="M204.69,783.40L206.89,779.44L202.49,779.44Z" fill="none" stroke="#a8a8a8" stroke-width="0.8"/>
<path d="M213.95,783.23L216.15,779.27L211.75,779.27Z" fill="none" stroke="#a8a8a8" stroke-width="0.8"/>
<path d="M223.20,783.06L225.40,779.10L221.00,779.10Z" fill="none" stroke="#a8a8a8" stroke-width="0.8"/>
<path d="M84.4,769.37L85.03,768.51L85.67,771.22L86.3,769.57L86.94,769.39L87.57,769.79L88.2,771.36L88.84,769.49L89.47,771.85L90.1,772.19L90.74,770.85L91.37,769.94L92.01,773.95L92.64,776.09L93.27,773.93L93.91,775.2L94.54,776.18L95.17,774.86L95.81,773.42L96.44,768.16L97.08,769.11L97.71,765.91L98.34,763.75L98.98,764.36L99.61,762.35L100.24,766.76L100.88,772.36L101.51,772.84L102.15,770.38L102.78,770.11L103.41,774.11L104.05,765.53L104.68,766.68L105.32,764.02L105.95,763.38L106.58,762.54L107.22,763.04L107.85,762.97L108.48,763.76L109.12,762.09L109.75,764.46L110.39,763.12L111.02,761.68L111.65,763.64L112.29,761.66L112.92,763.38L113.55,760.27L114.19,761.13L114.82,764.39L115.46,761.45L116.09,764.07L116.72,764.02L117.36,759.88L117.99,760.59L118.62,759.22L119.26,766.16L119.89,766.08L120.53,763.98L121.16,761.76L121.79,763.18L122.43,763.18L123.06,760.96L123.69,761.62L124.33,764.57L124.96,764.53L125.6,762.99L126.23,763.16L126.86,763.73L127.5,763.25L128.13,761.95L128.77,761.49L129.4,764.1L130.03,762.73L130.67,758.76L131.3,760.45L131.93,759.7L132.57,759.25L133.2,759.62L133.84,757L134.47,759.19L135.1,757.75L135.74,761.69L136.37,759.95L137,765.19L137.64,764.92L138.27,762.08L138.91,766.18L139.54,767.1L140.17,769.11L140.81,768.82L141.44,766.62L142.07,765.14L142.71,770.23L143.34,769.26L143.98,767.61L144.61,767.45L145.24,763.96L145.88,760.47L146.51,757.07L147.15,760.21L147.78,761.25L148.41,759.87L149.05,762.2L149.68,766.25L150.31,764.69L150.95,769.22L151.58,765.5L152.22,766.49L152.85,764.45L153.48,762.15L154.12,762.27L154.75,762.18L155.38,760.67L156.02,762.66L156.65,763.53L157.29,766.06L157.92,766.43L158.55,765.95L159.19,764.91L159.82,761.47L160.45,761.19L161.09,762.51L161.72,760.4L162.36,754.3L162.99,753.9L163.62,749.92L164.26,746.01L164.89,749.02L165.53,748.84L166.16,750.74L166.79,750.33L167.43,749.28L168.06,749.16L168.69,754.54L169.33,753.35L169.96,751.69L170.6,755.17L171.23,755.24L171.86,752.22L172.5,750.47L173.13,744.63L173.76,742.2L174.4,741.56L175.03,742.52L175.67,740.69L176.3,742.31L176.93,746.1L177.57,750.49L178.2,750.73L178.83,760.06L179.47,762.4L180.1,761L180.74,755.8L181.37,752.34L182,747.82L182.64,746.84L183.27,744.77L183.91,737.95L184.54,745.43L185.17,739.87L185.81,742.18L186.44,747.66L187.07,748.28L187.71,754.11L188.34,752.76L188.98,757.36L189.61,754.49L190.24,756.69L190.88,757.43L191.51,759.4L192.14,759.65L192.78,761.61L193.41,765.3L194.05,763.21L194.68,758.97L195.31,761.44L195.95,761.16L196.58,761.38L197.21,758.39L197.85,755.13L198.48,756.51L199.12,755.57L199.75,753.93L200.38,753.78L201.02,751.41L201.65,753.64L202.28,755.3L202.92,752.34L203.55,753.83L204.19,753.18L204.82,757.4L205.45,755.96L206.09,762.57L206.72,752.37L207.36,749.74L207.99,743.32L208.62,739.95L209.26,734.95L209.89,738.26L210.52,737.35L211.16,731.06L211.79,732.65L212.43,733.79L213.06,739.67L213.69,737.53L214.33,739.53L214.96,738.57L215.59,733.95L216.23,738.28L216.86,727.26L217.5,728.95L218.13,727.81L218.76,726.98L219.4,724.9L220.03,723.82L220.66,730.15L221.3,733.88L221.93,733.64L222.57,738.72L223.2,737.84" fill="none" stroke="#e8282a" stroke-width="1.3"/>
</g>
<rect x="84.4" y="708.7" width="138.8" height="79.3" fill="none" stroke="#111" stroke-width="1.3"/>
<path d="M84.4,788v5.3M130.67,788v5.3M176.93,788v5.3M223.2,788v5.3M84.4,788v2.8M93.65,788v2.8M102.91,788v2.8M112.16,788v2.8M121.41,788v2.8M130.67,788v2.8M139.92,788v2.8M149.17,788v2.8M158.43,788v2.8M167.68,788v2.8M176.93,788v2.8M186.19,788v2.8M195.44,788v2.8M204.69,788v2.8M213.95,788v2.8M223.2,788v2.8" stroke="#111" stroke-width="1.1" fill="none"/>
<text x="84.4" y="803.3" font-family="'Liberation Serif', serif" font-size="8.8" text-anchor="middle" fill="#1a1a1a">0.0</text>
<text x="130.67" y="803.3" font-family="'Liberation Serif', serif" font-size="8.8" text-anchor="middle" fill="#1a1a1a">0.5</text>
<text x="176.93" y="803.3" font-family="'Liberation Serif', serif" font-size="8.8" text-anchor="middle" fill="#1a1a1a">1.0</text>
<text x="223.2" y="803.3" font-family="'Liberation Serif', serif" font-size="8.8" text-anchor="middle" fill="#1a1a1a">1.5</text>
<path d="M84.4,788h-5.3M84.4,768.17h-5.3M84.4,748.35h-5.3M84.4,728.53h-5.3M84.4,708.7h-5.3M84.4,788h-2.8M84.4,784.03h-2.8M84.4,780.07h-2.8M84.4,776.11h-2.8M84.4,772.14h-2.8M84.4,768.17h-2.8M84.4,764.21h-2.8M84.4,760.25h-2.8M84.4,756.28h-2.8M84.4,752.32h-2.8M84.4,748.35h-2.8M84.4,744.38h-2.8M84.4,740.42h-2.8M84.4,736.46h-2.8M84.4,732.49h-2.8M84.4,728.53h-2.8M84.4,724.56h-2.8M84.4,720.6h-2.8M84.4,716.63h-2.8M84.4,712.67h-2.8M84.4,708.7h-2.8" stroke="#111" stroke-width="1.1" fill="none"/>
<text x="74.5" y="791.1" font-family="'Liberation Serif', serif" font-size="8.8" text-anchor="end" fill="#1a1a1a">0.00</text>
<text x="74.5" y="771.27" font-family="'Liberation Serif', serif" font-size="8.8" text-anchor="end" fill="#1a1a1a">0.25</text>
<text x="74.5" y="751.45" font-family="'Liberation Serif', serif" font-size="8.8" text-anchor="end" fill="#1a1a1a">0.50</text>
<text x="74.5" y="731.63" font-family="'Liberation Serif', serif" font-size="8.8" text-anchor="end" fill="#1a1a1a">0.75</text>
<text x="74.5" y="711.8" font-family="'Liberation Serif', serif" font-size="8.8" text-anchor="end" fill="#1a1a1a">1.00</text>
<text x="18.5" y="777.4" font-family="'Liberation Serif', serif" font-size="13.8" text-anchor="middle" font-weight="normal" fill="#1a1a1a" transform="rotate(-90 18.5 777.4)">Drain-Source current (<tspan font-style="italic">I</tspan><tspan font-style="italic" font-size="9.66" dy="2.76">DS</tspan><tspan dy="-2.76">) [nA]</tspan></text>
<text x="195.5" y="885.7" font-family="'Liberation Serif', serif" font-size="13.8" text-anchor="middle" font-weight="normal" fill="#1a1a1a">Gate-Source voltage (<tspan font-style="italic">V</tspan><tspan font-style="italic" font-size="9.66" dy="2.76">GS</tspan><tspan dy="-2.76">) [V]</tspan></text>
<text x="8.8" y="678.8" font-family="'Liberation Sans', sans-serif" font-size="14" text-anchor="start" font-weight="bold" fill="#000">e</text>
<rect x="55.5" y="680.5" width="236.1" height="17.1" rx="2.5" fill="#fff" stroke="#111" stroke-width="1.3"/>
<line x1="58" y1="688.9" x2="74.5" y2="688.9" stroke="#e8282a" stroke-width="1.5"/>
<text x="76.3" y="692.3" font-family="'Liberation Serif', serif" font-size="9.6" text-anchor="start" font-weight="normal" fill="#1a1a1a">Measured</text>
<line x1="117.5" y1="688.9" x2="134.0" y2="688.9" stroke="#9b59d0" stroke-width="1.5"/>
<path d="M125.70,686.90L127.70,690.50L123.70,690.50Z" fill="none" stroke="#9b59d0" stroke-width="0.8"/>
<text x="134.7" y="692.3" font-family="'Liberation Serif', serif" font-size="9.6" text-anchor="start" font-weight="normal" fill="#1a1a1a">Sim. Fast</text>
<line x1="175.9" y1="688.9" x2="192.4" y2="688.9" stroke="#b5652d" stroke-width="1.5"/>
<path d="M184.10,686.90L185.70,688.90L184.10,690.90L182.50,688.90Z" fill="none" stroke="#b5652d" stroke-width="0.8"/>
<text x="192.3" y="692.3" font-family="'Liberation Serif', serif" font-size="9.6" text-anchor="start" font-weight="normal" fill="#1a1a1a">Sim. Typ</text>
<line x1="231.8" y1="688.9" x2="248.3" y2="688.9" stroke="#a8a8a8" stroke-width="1.5"/>
<path d="M240.00,690.90L242.00,687.30L238.00,687.30Z" fill="none" stroke="#a8a8a8" stroke-width="0.8"/>
<text x="247.8" y="692.3" font-family="'Liberation Serif', serif" font-size="9.6" text-anchor="start" font-weight="normal" fill="#1a1a1a">Sim. Slow</text>
<path d="M397.5,703.9V851.2M425.25,703.9V851.2M453,703.9V851.2M480.75,703.9V851.2M508.5,703.9V851.2M536.25,703.9V851.2M564,703.9V851.2M591.75,703.9V851.2M619.5,703.9V851.2M647.25,703.9V851.2M675,703.9V851.2M397.5,833.87H675M397.5,812.21H675M397.5,790.55H675M397.5,768.89H675M397.5,747.22H675M397.5,725.56H675M397.5,703.9H675" stroke="#d9d9d9" stroke-width="0.9" fill="none"/>
<g clip-path="url(#c11)">
<path d="M397.5,825.27L435.1,825.27L435.1,842.47L397.5,842.47Z" fill="url(#fb)"/>
<path d="M398,824.32V839.61M398.7,827.61V845.77M399.4,828.85V839.7M400.1,827.48V839.69M400.8,827.78V841.64M401.5,826.57V840.11M402.2,827.08V840.33M402.9,825.48V841.78M403.6,826.95V842.96M404.3,828.79V840.65M405,826.02V839.68M405.7,826.98V842.9M406.4,827.23V839.06M407.1,826.97V840.54M407.8,828.41V840.36M408.5,828.34V840.14M409.2,828.39V839.86M409.9,828.64V839.04M410.6,828.1V842.52M411.3,824.85V842.24M412,828.25V842.07M412.7,828.42V839.11M413.4,826.09V841.63M414.1,828.31V839.18M414.8,824.49V841.95M415.5,827.31V840.68M416.2,826.04V840.26M416.9,827.84V839.19M417.6,825.73V841.06M418.3,828.5V839.87M419,824.77V842.28M419.7,826.81V839.06M420.4,823.26V841.03M421.1,827.49V842.93M421.8,826.06V839.99M422.5,827.53V840.05M423.2,827.33V839.83M423.9,825.37V841.51M424.6,827.32V840.65M425.3,827.02V843.83M426,827.08V843.61M426.7,826.58V843.67M427.4,826.11V840.65M428.1,827.63V841.03M428.8,826.63V839.21M429.5,827.51V839.52M430.2,825.51V841.38M430.9,828.68V839.58M431.6,826.64V842.16M432.3,825.97V840M433,826.6V839.06M433.7,824.61V840.55M434.4,826.74V838.97M435.1,828.74V843.53" stroke="#3a3aff" stroke-opacity="0.16" stroke-width="0.6" fill="none"/>
<path d="M435.1,712.02L488.24,713.15L488.24,730.35L435.1,729.22Z" fill="url(#fb)"/>
<path d="M435.6,709.91V725.73M436.3,710.62V730.83M437,710.34V727.92M437.7,715V727.18M438.4,714.35V725.93M439.1,713.93V726.1M439.8,711.74V726.29M440.5,715.25V730.5M441.2,712.82V725.8M441.9,714.66V726.11M442.6,711.47V726.77M443.3,714.59V726.2M444,713.82V728.4M444.7,715.14V729.84M445.4,713.62V725.96M446.1,714.61V726.26M446.8,711.84V728.32M447.5,715V726.25M448.2,712.53V727.76M448.9,714.58V726.59M449.6,714.64V727.24M450.3,713.5V727.7M451,714.58V728.22M451.7,712.97V728.05M452.4,714.66V726.87M453.1,712.96V728.72M453.8,715.84V727.09M454.5,715.72V727.85M455.2,714.35V730.73M455.9,712.04V730.25M456.6,715.89V728.47M457.3,715.11V728.49M458,715.12V727.38M458.7,714.45V727.94M459.4,715.42V726.62M460.1,713.19V726.52M460.8,712.42V730.01M461.5,715.84V726.69M462.2,715.92V730.32M462.9,712.65V726.29M463.6,712.35V729.13M464.3,714.41V726.36M465,711.87V730.67M465.7,715.2V726.39M466.4,715.27V730.28M467.1,715.87V727.24M467.8,712.16V730.75M468.5,712.2V727.31M469.2,713.32V729.93M469.9,713.96V729.73M470.6,712.83V729.32M471.3,715.93V729.69M472,712.43V726.44M472.7,711.3V726.57M473.4,715.55V727.35M474.1,716.12V731.12M474.8,715.39V731.84M475.5,714.68V727.29M476.2,715.58V730.58M476.9,710.37V727.39M477.6,714.73V727.37M478.3,714.88V729.4M479,714.85V727.95M479.7,714.02V728.3M480.4,716.09V728.29M481.1,713.88V727.05M481.8,713.19V729.67M482.5,716.47V727.13M483.2,714.18V728.73M483.9,714.57V727.56M484.6,714.37V726.88M485.3,716.19V727.98M486,716.22V730.46M486.7,712.53V728.75M487.4,716.23V727.7M488.1,716.03V730.74" stroke="#3a3aff" stroke-opacity="0.16" stroke-width="0.6" fill="none"/>
<path d="M488.24,825.27L541.52,825.27L541.52,842.47L488.24,842.47Z" fill="url(#fb)"/>
<path d="M488.74,827.09V842.15M489.44,824.25V840.02M490.14,828.38V838.98M490.84,826.2V839.11M491.54,827.19V841.91M492.24,825.85V840.03M492.94,826.82V842.91M493.64,825.95V840.06M494.34,826.43V840.18M495.04,827.7V843.23M495.74,828.22V840.92M496.44,828.11V840.79M497.14,828.62V840.28M497.84,827.77V838.95M498.54,828.74V843.71M499.24,828.43V843.1M499.94,826.49V840.77M500.64,828.43V840.77M501.34,821.99V843.02M502.04,825.87V841.37M502.74,828.53V839.02M503.44,828.15V839.53M504.14,824.97V841.12M504.84,826.52V839.45M505.54,827.38V841.94M506.24,828.3V839.66M506.94,828.26V843.68M507.64,826.91V841.48M508.34,825.88V839.31M509.04,828.06V843.02M509.74,825V843.76M510.44,828.55V841.47M511.14,827.42V839.28M511.84,826.45V839.68M512.54,826.89V839.65M513.24,822.35V841.95M513.94,826.65V840.14M514.64,826.24V843.12M515.34,828.43V842.24M516.04,827.99V843.17M516.74,825.75V840.43M517.44,825.41V840.02M518.14,824.75V843.12M518.84,826.6V839.51M519.54,828.39V842.43M520.24,825.86V839.01M520.94,825.51V839.7M521.64,825.87V840.12M522.34,825.28V842.47M523.04,827.66V840.43M523.74,826.23V841.02M524.44,825.04V844.3M525.14,828.44V838.9M525.84,828.86V839.47M526.54,826.36V839.72M527.24,825.43V842.41M527.94,822.55V840.26M528.64,827.99V840.76M529.34,824.38V840.76M530.04,828.41V840.18M530.74,825.67V841.54M531.44,826.68V842.45M532.14,828.16V843.06M532.84,825.99V839.9M533.54,827.94V841.18M534.24,824.91V839.62M534.94,827.8V840.46M535.64,828.65V840.41M536.34,825.44V839.56M537.04,827.54V840.11M537.74,825.92V840.42M538.44,828.79V840.54M539.14,828.1V841.59M539.84,827.17V839.02M540.54,827.44V840.22M541.24,826.79V841.25" stroke="#3a3aff" stroke-opacity="0.16" stroke-width="0.6" fill="none"/>
<path d="M541.52,712.02L594.25,713.15L594.25,730.35L541.52,729.22Z" fill="url(#fb)"/>
<path d="M542.02,712.76V726.2M542.72,715.05V730.3M543.42,715.51V734.66M544.12,712.14V726.31M544.82,715.64V729.41M545.52,712.86V727.28M546.22,715.18V726.84M546.92,712.43V727.46M547.62,710.82V728.31M548.32,712.82V728.13M549.02,710.37V731.12M549.72,713.86V727.35M550.42,714.47V726.66M551.12,712.13V730.58M551.82,712.22V726.49M552.52,715.15V728.43M553.22,713.88V728.7M553.92,712.49V726.93M554.62,715.88V726.49M555.32,715.77V728.57M556.02,714.65V726.89M556.72,710.19V727.91M557.42,711.71V726.04M558.12,713.29V730.3M558.82,715.12V730.01M559.52,715.18V727.36M560.22,712.45V728.23M560.92,714.51V732.33M561.62,715.86V726.36M562.32,715.13V726.84M563.02,715.46V729.55M563.72,714.33V730.34M564.42,715.45V727.08M565.12,712.61V726.28M565.82,716.06V727.84M566.52,713.84V727.69M567.22,715.73V728.36M567.92,715.61V729.1M568.62,715.6V727.33M569.32,715V726.77M570.02,713.15V727.29M570.72,716.18V727.41M571.42,714.56V729.18M572.12,715.9V727.15M572.82,713.17V727.55M573.52,713.54V729.6M574.22,716.18V729.1M574.92,715.66V729.33M575.62,711.08V726.42M576.32,715.95V726.69M577.02,712.46V728.11M577.72,710.34V728.86M578.42,715.65V728.98M579.12,715.77V729.31M579.82,715.1V727.65M580.52,714.9V727.26M581.22,715.39V727.73M581.92,712.79V731.65M582.62,715.46V728.3M583.32,714.71V727.95M584.02,715.87V726.75M584.72,716.18V727.98M585.42,714.92V729.43M586.12,715.63V730.22M586.82,714.17V729.14M587.52,711.52V727.19M588.22,710.43V726.92M588.92,712.24V726.69M589.62,713.58V727.63M590.32,711.68V728.11M591.02,715.34V729.17M591.72,714.49V727.98M592.42,716.33V728.28M593.12,713.31V729.68M593.82,715.07V726.97" stroke="#3a3aff" stroke-opacity="0.16" stroke-width="0.6" fill="none"/>
<path d="M594.25,825.27L647.8,825.27L647.8,842.47L594.25,842.47Z" fill="url(#fb)"/>
<path d="M594.75,822.73V839.59M595.45,827.75V840.14M596.15,823.25V840.24M596.85,828.23V839.14M597.55,826.74V844.71M598.25,825.8V843.01M598.95,828.28V840.45M599.65,823.27V840.27M600.35,826.17V840.03M601.05,827.4V839.54M601.75,826.96V840.23M602.45,827.96V842.34M603.15,827.65V839.44M603.85,825.69V840.08M604.55,828.16V840.57M605.25,826.69V844.39M605.95,827.38V844.02M606.65,826.7V839.34M607.35,828.41V839.83M608.05,828.71V841.52M608.75,826.88V839.58M609.45,827.39V839.19M610.15,828.54V840.57M610.85,827.14V838.88M611.55,828.63V840.04M612.25,827.16V838.92M612.95,825.06V839.42M613.65,827.02V839.85M614.35,826.81V841.01M615.05,827.07V840.68M615.75,824.69V839.52M616.45,827.1V839.34M617.15,826.11V842.07M617.85,827.42V840.98M618.55,826.94V840.66M619.25,825.94V844.64M619.95,825.73V842.71M620.65,822.09V842.36M621.35,826.76V840.38M622.05,825.59V839.14M622.75,827.27V840.49M623.45,828.07V842.79M624.15,826.96V842.25M624.85,828.86V840.27M625.55,824.78V843.38M626.25,826.1V842.02M626.95,828.02V839.67M627.65,826.56V839.42M628.35,825.23V841.93M629.05,826.45V840.94M629.75,826.92V840.61M630.45,824.91V840.07M631.15,824.12V840.55M631.85,827.81V842.07M632.55,827.96V840.13M633.25,827.73V839.79M633.95,827.44V839.27M634.65,825.99V839.74M635.35,826.28V838.9M636.05,827.02V839.26M636.75,827.2V839.45M637.45,828.55V839.96M638.15,828.16V840.1M638.85,822.91V842.1M639.55,822.72V839.36M640.25,828.01V840.79M640.95,828.26V838.98M641.65,828.65V841.33M642.35,822.78V839.85M643.05,823.52V839.96M643.75,827.78V847.49M644.45,826.88V839.84M645.15,827.42V839.71M645.85,825.43V841.33M646.55,825.45V839.56M647.25,825.43V842.3" stroke="#3a3aff" stroke-opacity="0.16" stroke-width="0.6" fill="none"/>
<path d="M647.8,712.02L675,712.63L675,729.83L647.8,729.22Z" fill="url(#fb)"/>
<path d="M648.3,714.74V729.98M649,714.97V728.38M649.71,714.15V727.84M650.41,711.6V727.33M651.11,711.9V728.71M651.81,712.37V725.93M652.51,714.58V726.83M653.21,713.88V728.88M653.91,712.78V728.04M654.61,713.57V727.61M655.31,711.99V727.07M656.01,714.51V729.04M656.71,715.47V730.7M657.41,712.94V726.29M658.11,712.41V727.88M658.81,713.59V730.01M659.51,714.82V727.3M660.21,714.97V726.06M660.91,711.6V729.37M661.61,714.21V728.91M662.31,713V726.94M663.01,714.94V732.89M663.71,713.78V727.04M664.41,714.52V730.57M665.11,715.56V728.74M665.81,714.43V729.72M666.51,710.05V733.17M667.21,714.14V729.03M667.91,715.69V728.25M668.61,715.51V730.74M669.31,713V729.3M670.01,713.54V732.28M670.71,713.83V730.59M671.41,715.37V727.23M672.11,714.3V728.97M672.81,715.48V727.01M673.51,712.03V730.34M674.21,715.05V727.64M674.91,714.12V730.34" stroke="#3a3aff" stroke-opacity="0.16" stroke-width="0.6" fill="none"/>
<line x1="435.1" y1="721.23" x2="435.1" y2="833.87" stroke="#8080ff" stroke-opacity="0.22" stroke-width="0.7"/>
<line x1="488.24" y1="721.23" x2="488.24" y2="833.87" stroke="#8080ff" stroke-opacity="0.22" stroke-width="0.7"/>
<line x1="541.52" y1="721.23" x2="541.52" y2="833.87" stroke="#8080ff" stroke-opacity="0.22" stroke-width="0.7"/>
<line x1="594.25" y1="721.23" x2="594.25" y2="833.87" stroke="#8080ff" stroke-opacity="0.22" stroke-width="0.7"/>
<line x1="647.8" y1="721.23" x2="647.8" y2="833.87" stroke="#8080ff" stroke-opacity="0.22" stroke-width="0.7"/>
</g>
<rect x="397.5" y="703.9" width="277.5" height="147.3" fill="none" stroke="#111" stroke-width="1.3"/>
<path d="M397.5,851.2v4.5M425.25,851.2v4.5M453,851.2v4.5M480.75,851.2v4.5M508.5,851.2v4.5M536.25,851.2v4.5M564,851.2v4.5M591.75,851.2v4.5M619.5,851.2v4.5M647.25,851.2v4.5M675,851.2v4.5M397.5,851.2v2.3M403.05,851.2v2.3M408.6,851.2v2.3M414.15,851.2v2.3M419.7,851.2v2.3M425.25,851.2v2.3M430.8,851.2v2.3M436.35,851.2v2.3M441.9,851.2v2.3M447.45,851.2v2.3M453,851.2v2.3M458.55,851.2v2.3M464.1,851.2v2.3M469.65,851.2v2.3M475.2,851.2v2.3M480.75,851.2v2.3M486.3,851.2v2.3M491.85,851.2v2.3M497.4,851.2v2.3M502.95,851.2v2.3M508.5,851.2v2.3M514.05,851.2v2.3M519.6,851.2v2.3M525.15,851.2v2.3M530.7,851.2v2.3M536.25,851.2v2.3M541.8,851.2v2.3M547.35,851.2v2.3M552.9,851.2v2.3M558.45,851.2v2.3M564,851.2v2.3M569.55,851.2v2.3M575.1,851.2v2.3M580.65,851.2v2.3M586.2,851.2v2.3M591.75,851.2v2.3M597.3,851.2v2.3M602.85,851.2v2.3M608.4,851.2v2.3M613.95,851.2v2.3M619.5,851.2v2.3M625.05,851.2v2.3M630.6,851.2v2.3M636.15,851.2v2.3M641.7,851.2v2.3M647.25,851.2v2.3M652.8,851.2v2.3M658.35,851.2v2.3M663.9,851.2v2.3M669.45,851.2v2.3M675,851.2v2.3" stroke="#111" stroke-width="1.1" fill="none"/>
<text x="397.5" y="867" font-family="'Liberation Serif', serif" font-size="11" text-anchor="middle" fill="#1a1a1a">0</text>
<text x="425.25" y="867" font-family="'Liberation Serif', serif" font-size="11" text-anchor="middle" fill="#1a1a1a">1</text>
<text x="453" y="867" font-family="'Liberation Serif', serif" font-size="11" text-anchor="middle" fill="#1a1a1a">2</text>
<text x="480.75" y="867" font-family="'Liberation Serif', serif" font-size="11" text-anchor="middle" fill="#1a1a1a">3</text>
<text x="508.5" y="867" font-family="'Liberation Serif', serif" font-size="11" text-anchor="middle" fill="#1a1a1a">4</text>
<text x="536.25" y="867" font-family="'Liberation Serif', serif" font-size="11" text-anchor="middle" fill="#1a1a1a">5</text>
<text x="564" y="867" font-family="'Liberation Serif', serif" font-size="11" text-anchor="middle" fill="#1a1a1a">6</text>
<text x="591.75" y="867" font-family="'Liberation Serif', serif" font-size="11" text-anchor="middle" fill="#1a1a1a">7</text>
<text x="619.5" y="867" font-family="'Liberation Serif', serif" font-size="11" text-anchor="middle" fill="#1a1a1a">8</text>
<text x="647.25" y="867" font-family="'Liberation Serif', serif" font-size="11" text-anchor="middle" fill="#1a1a1a">9</text>
<text x="675" y="867" font-family="'Liberation Serif', serif" font-size="11" text-anchor="middle" fill="#1a1a1a">10</text>
<path d="M397.5,833.87h-4.5M397.5,812.21h-4.5M397.5,790.55h-4.5M397.5,768.89h-4.5M397.5,747.22h-4.5M397.5,725.56h-4.5M397.5,703.9h-4.5M397.5,851.2h-2.3M397.5,846.87h-2.3M397.5,842.54h-2.3M397.5,838.2h-2.3M397.5,833.87h-2.3M397.5,829.54h-2.3M397.5,825.21h-2.3M397.5,820.87h-2.3M397.5,816.54h-2.3M397.5,812.21h-2.3M397.5,807.88h-2.3M397.5,803.54h-2.3M397.5,799.21h-2.3M397.5,794.88h-2.3M397.5,790.55h-2.3M397.5,786.21h-2.3M397.5,781.88h-2.3M397.5,777.55h-2.3M397.5,773.22h-2.3M397.5,768.89h-2.3M397.5,764.55h-2.3M397.5,760.22h-2.3M397.5,755.89h-2.3M397.5,751.56h-2.3M397.5,747.22h-2.3M397.5,742.89h-2.3M397.5,738.56h-2.3M397.5,734.23h-2.3M397.5,729.89h-2.3M397.5,725.56h-2.3M397.5,721.23h-2.3M397.5,716.9h-2.3M397.5,712.56h-2.3M397.5,708.23h-2.3M397.5,703.9h-2.3" stroke="#111" stroke-width="1.1" fill="none"/>
<text x="387.9" y="837.57" font-family="'Liberation Serif', serif" font-size="11" text-anchor="end" fill="#1a1a1a">0.00</text>
<text x="387.9" y="815.91" font-family="'Liberation Serif', serif" font-size="11" text-anchor="end" fill="#1a1a1a">0.25</text>
<text x="387.9" y="794.25" font-family="'Liberation Serif', serif" font-size="11" text-anchor="end" fill="#1a1a1a">0.50</text>
<text x="387.9" y="772.59" font-family="'Liberation Serif', serif" font-size="11" text-anchor="end" fill="#1a1a1a">0.75</text>
<text x="387.9" y="750.92" font-family="'Liberation Serif', serif" font-size="11" text-anchor="end" fill="#1a1a1a">1.00</text>
<text x="387.9" y="729.26" font-family="'Liberation Serif', serif" font-size="11" text-anchor="end" fill="#1a1a1a">1.25</text>
<text x="387.9" y="707.6" font-family="'Liberation Serif', serif" font-size="11" text-anchor="end" fill="#1a1a1a">1.50</text>
<text x="363.2" y="775.3" font-family="'Liberation Serif', serif" font-size="12.6" text-anchor="middle" font-weight="normal" fill="#1a1a1a" transform="rotate(-90 363.2 775.3)">Output Voltage [V]</text>
<text x="536.3" y="882.4" font-family="'Liberation Serif', serif" font-size="12.8" text-anchor="middle" font-weight="normal" fill="#1a1a1a">Time [s]</text>
<text x="357.4" y="679" font-family="'Liberation Sans', sans-serif" font-size="14" text-anchor="start" font-weight="bold" fill="#000">f</text></svg></body></html>
